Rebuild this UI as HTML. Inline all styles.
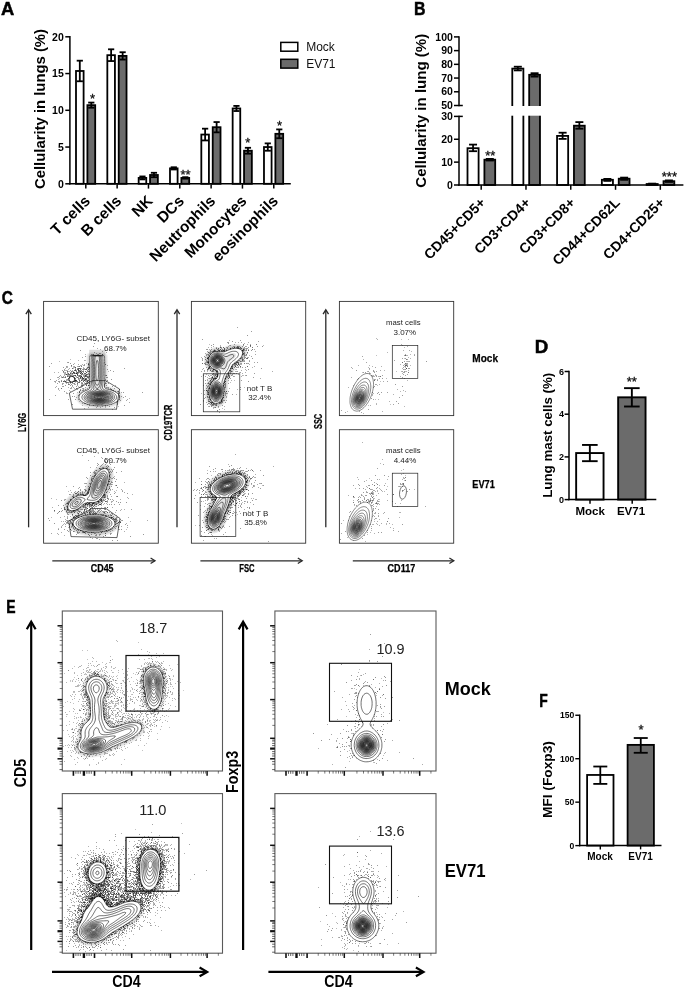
<!DOCTYPE html>
<html><head><meta charset="utf-8"><title>Figure</title>
<style>
html,body{margin:0;padding:0;background:#fff;}
body{width:685px;height:991px;overflow:hidden;}
svg{display:block;font-family:"Liberation Sans",sans-serif;will-change:transform;opacity:0.999;}
</style></head><body>
<svg width="685" height="991" viewBox="0 0 685 991">
<defs><marker id="d0" markerUnits="userSpaceOnUse" markerWidth="7" markerHeight="7" refX="3.5" refY="3.5"><rect width="7" height="7" fill="#000" opacity="0.85"/></marker><marker id="d1" markerUnits="userSpaceOnUse" markerWidth="7" markerHeight="7" refX="3.5" refY="3.5"><rect width="7" height="7" fill="#000" opacity="0.8"/></marker><marker id="d2" markerUnits="userSpaceOnUse" markerWidth="6" markerHeight="6" refX="3.0" refY="3.0"><rect width="6" height="6" fill="#000" opacity="0.8"/></marker></defs>
<text x="0.99" y="14.95" font-size="19.28" font-weight="bold" textLength="13.26" lengthAdjust="spacingAndGlyphs" fill="#000" stroke="#000" stroke-width="0.5">A</text>
<text x="44.80" y="109.00" font-size="15" font-weight="bold" text-anchor="middle" transform="rotate(-90 44.80 109.00)" textLength="160" lengthAdjust="spacingAndGlyphs" fill="#000" >Cellularity in lungs (%)</text>
<line x1="65.30" y1="183.80" x2="69.90" y2="183.80" stroke="#000" stroke-width="1.5" />
<text x="63.80" y="187.50" font-size="10.5" font-weight="bold" text-anchor="end" fill="#000" >0</text>
<line x1="65.30" y1="147.05" x2="69.90" y2="147.05" stroke="#000" stroke-width="1.5" />
<text x="63.80" y="150.75" font-size="10.5" font-weight="bold" text-anchor="end" fill="#000" >5</text>
<line x1="65.30" y1="110.30" x2="69.90" y2="110.30" stroke="#000" stroke-width="1.5" />
<text x="63.80" y="114.00" font-size="10.5" font-weight="bold" text-anchor="end" fill="#000" >10</text>
<line x1="65.30" y1="73.55" x2="69.90" y2="73.55" stroke="#000" stroke-width="1.5" />
<text x="63.80" y="77.25" font-size="10.5" font-weight="bold" text-anchor="end" fill="#000" >15</text>
<line x1="65.30" y1="36.80" x2="69.90" y2="36.80" stroke="#000" stroke-width="1.5" />
<text x="63.80" y="40.50" font-size="10.5" font-weight="bold" text-anchor="end" fill="#000" >20</text>
<rect x="76.00" y="70.98" width="7.60" height="112.82" fill="#fff" stroke="#000" stroke-width="1.8"/>
<line x1="79.80" y1="60.69" x2="79.80" y2="81.27" stroke="#000" stroke-width="1.8" />
<line x1="76.70" y1="60.69" x2="82.90" y2="60.69" stroke="#000" stroke-width="1.8" />
<line x1="76.70" y1="81.27" x2="82.90" y2="81.27" stroke="#000" stroke-width="1.8" />
<rect x="87.40" y="105.16" width="7.80" height="78.64" fill="#6b6b6b" stroke="#000" stroke-width="1.8"/>
<line x1="91.30" y1="102.58" x2="91.30" y2="107.73" stroke="#000" stroke-width="1.8" />
<line x1="88.20" y1="102.58" x2="94.40" y2="102.58" stroke="#000" stroke-width="1.8" />
<line x1="88.20" y1="107.73" x2="94.40" y2="107.73" stroke="#000" stroke-width="1.8" />
<line x1="85.80" y1="183.80" x2="85.80" y2="188.60" stroke="#000" stroke-width="1.5" />
<text x="91.00" y="202.00" font-size="15.4" font-weight="bold" text-anchor="end" transform="rotate(-45 91.00 202.00)" fill="#000" >T cells</text>
<rect x="107.33" y="55.18" width="7.60" height="128.62" fill="#fff" stroke="#000" stroke-width="1.8"/>
<line x1="111.13" y1="49.30" x2="111.13" y2="61.06" stroke="#000" stroke-width="1.8" />
<line x1="108.03" y1="49.30" x2="114.23" y2="49.30" stroke="#000" stroke-width="1.8" />
<line x1="108.03" y1="61.06" x2="114.23" y2="61.06" stroke="#000" stroke-width="1.8" />
<rect x="118.73" y="55.91" width="7.80" height="127.89" fill="#6b6b6b" stroke="#000" stroke-width="1.8"/>
<line x1="122.63" y1="52.24" x2="122.63" y2="59.59" stroke="#000" stroke-width="1.8" />
<line x1="119.53" y1="52.24" x2="125.73" y2="52.24" stroke="#000" stroke-width="1.8" />
<line x1="119.53" y1="59.59" x2="125.73" y2="59.59" stroke="#000" stroke-width="1.8" />
<line x1="117.13" y1="183.80" x2="117.13" y2="188.60" stroke="#000" stroke-width="1.5" />
<text x="122.33" y="202.00" font-size="15.4" font-weight="bold" text-anchor="end" transform="rotate(-45 122.33 202.00)" fill="#000" >B cells</text>
<rect x="138.66" y="177.92" width="7.60" height="5.88" fill="#fff" stroke="#000" stroke-width="1.8"/>
<line x1="142.46" y1="176.45" x2="142.46" y2="179.39" stroke="#000" stroke-width="1.8" />
<line x1="139.36" y1="176.45" x2="145.56" y2="176.45" stroke="#000" stroke-width="1.8" />
<line x1="139.36" y1="179.39" x2="145.56" y2="179.39" stroke="#000" stroke-width="1.8" />
<rect x="150.06" y="174.98" width="7.80" height="8.82" fill="#6b6b6b" stroke="#000" stroke-width="1.8"/>
<line x1="153.96" y1="172.78" x2="153.96" y2="177.19" stroke="#000" stroke-width="1.8" />
<line x1="150.86" y1="172.78" x2="157.06" y2="172.78" stroke="#000" stroke-width="1.8" />
<line x1="150.86" y1="177.19" x2="157.06" y2="177.19" stroke="#000" stroke-width="1.8" />
<line x1="148.46" y1="183.80" x2="148.46" y2="188.60" stroke="#000" stroke-width="1.5" />
<text x="153.66" y="202.00" font-size="15.4" font-weight="bold" text-anchor="end" transform="rotate(-45 153.66 202.00)" fill="#000" >NK</text>
<rect x="169.99" y="168.37" width="7.60" height="15.44" fill="#fff" stroke="#000" stroke-width="1.8"/>
<line x1="173.79" y1="167.26" x2="173.79" y2="169.47" stroke="#000" stroke-width="1.8" />
<line x1="170.69" y1="167.26" x2="176.89" y2="167.26" stroke="#000" stroke-width="1.8" />
<line x1="170.69" y1="169.47" x2="176.89" y2="169.47" stroke="#000" stroke-width="1.8" />
<rect x="181.39" y="177.92" width="7.80" height="5.88" fill="#6b6b6b" stroke="#000" stroke-width="1.8"/>
<line x1="185.29" y1="177.19" x2="185.29" y2="178.66" stroke="#000" stroke-width="1.8" />
<line x1="182.19" y1="177.19" x2="188.39" y2="177.19" stroke="#000" stroke-width="1.8" />
<line x1="182.19" y1="178.66" x2="188.39" y2="178.66" stroke="#000" stroke-width="1.8" />
<line x1="179.79" y1="183.80" x2="179.79" y2="188.60" stroke="#000" stroke-width="1.5" />
<text x="184.99" y="202.00" font-size="15.4" font-weight="bold" text-anchor="end" transform="rotate(-45 184.99 202.00)" fill="#000" >DCs</text>
<rect x="201.32" y="134.56" width="7.60" height="49.25" fill="#fff" stroke="#000" stroke-width="1.8"/>
<line x1="205.12" y1="128.68" x2="205.12" y2="140.44" stroke="#000" stroke-width="1.8" />
<line x1="202.02" y1="128.68" x2="208.22" y2="128.68" stroke="#000" stroke-width="1.8" />
<line x1="202.02" y1="140.44" x2="208.22" y2="140.44" stroke="#000" stroke-width="1.8" />
<rect x="212.72" y="127.21" width="7.80" height="56.59" fill="#6b6b6b" stroke="#000" stroke-width="1.8"/>
<line x1="216.62" y1="122.06" x2="216.62" y2="132.35" stroke="#000" stroke-width="1.8" />
<line x1="213.52" y1="122.06" x2="219.72" y2="122.06" stroke="#000" stroke-width="1.8" />
<line x1="213.52" y1="132.35" x2="219.72" y2="132.35" stroke="#000" stroke-width="1.8" />
<line x1="211.12" y1="183.80" x2="211.12" y2="188.60" stroke="#000" stroke-width="1.5" />
<text x="216.32" y="202.00" font-size="15.4" font-weight="bold" text-anchor="end" transform="rotate(-45 216.32 202.00)" fill="#000" >Neutrophils</text>
<rect x="232.65" y="108.46" width="7.60" height="75.34" fill="#fff" stroke="#000" stroke-width="1.8"/>
<line x1="236.45" y1="105.89" x2="236.45" y2="111.04" stroke="#000" stroke-width="1.8" />
<line x1="233.35" y1="105.89" x2="239.55" y2="105.89" stroke="#000" stroke-width="1.8" />
<line x1="233.35" y1="111.04" x2="239.55" y2="111.04" stroke="#000" stroke-width="1.8" />
<rect x="244.05" y="150.73" width="7.80" height="33.07" fill="#6b6b6b" stroke="#000" stroke-width="1.8"/>
<line x1="247.95" y1="147.79" x2="247.95" y2="153.67" stroke="#000" stroke-width="1.8" />
<line x1="244.85" y1="147.79" x2="251.05" y2="147.79" stroke="#000" stroke-width="1.8" />
<line x1="244.85" y1="153.67" x2="251.05" y2="153.67" stroke="#000" stroke-width="1.8" />
<line x1="242.45" y1="183.80" x2="242.45" y2="188.60" stroke="#000" stroke-width="1.5" />
<text x="247.65" y="202.00" font-size="15.4" font-weight="bold" text-anchor="end" transform="rotate(-45 247.65 202.00)" fill="#000" >Monocytes</text>
<rect x="263.98" y="147.05" width="7.60" height="36.75" fill="#fff" stroke="#000" stroke-width="1.8"/>
<line x1="267.78" y1="143.38" x2="267.78" y2="150.73" stroke="#000" stroke-width="1.8" />
<line x1="264.68" y1="143.38" x2="270.88" y2="143.38" stroke="#000" stroke-width="1.8" />
<line x1="264.68" y1="150.73" x2="270.88" y2="150.73" stroke="#000" stroke-width="1.8" />
<rect x="275.38" y="133.82" width="7.80" height="49.98" fill="#6b6b6b" stroke="#000" stroke-width="1.8"/>
<line x1="279.28" y1="129.41" x2="279.28" y2="138.23" stroke="#000" stroke-width="1.8" />
<line x1="276.18" y1="129.41" x2="282.38" y2="129.41" stroke="#000" stroke-width="1.8" />
<line x1="276.18" y1="138.23" x2="282.38" y2="138.23" stroke="#000" stroke-width="1.8" />
<line x1="273.78" y1="183.80" x2="273.78" y2="188.60" stroke="#000" stroke-width="1.5" />
<text x="278.98" y="202.00" font-size="15.4" font-weight="bold" text-anchor="end" transform="rotate(-45 278.98 202.00)" fill="#000" >eosinophils</text>
<line x1="69.90" y1="36.05" x2="69.90" y2="184.55" stroke="#000" stroke-width="1.5" />
<line x1="69.15" y1="183.80" x2="290.80" y2="183.80" stroke="#000" stroke-width="1.5" />
<text x="92.50" y="103.00" font-size="13" text-anchor="middle" fill="#111" stroke="#111" stroke-width="0.3">*</text>
<text x="185.50" y="178.90" font-size="13" text-anchor="middle" fill="#111" stroke="#111" stroke-width="0.3">**</text>
<text x="247.90" y="147.40" font-size="13" text-anchor="middle" fill="#111" stroke="#111" stroke-width="0.3">*</text>
<text x="279.60" y="129.80" font-size="13" text-anchor="middle" fill="#111" stroke="#111" stroke-width="0.3">*</text>
<rect x="280.80" y="42.40" width="17.00" height="8.80" fill="#fff" stroke="#000" stroke-width="1.5"/>
<rect x="280.80" y="59.30" width="17.00" height="8.80" fill="#6b6b6b" stroke="#000" stroke-width="1.5"/>
<text x="306.20" y="51.30" font-size="12" fill="#111" >Mock</text>
<text x="306.20" y="68.20" font-size="12" fill="#111" >EV71</text>
<text x="414.02" y="15.05" font-size="18.84" font-weight="bold" textLength="11.48" lengthAdjust="spacingAndGlyphs" fill="#000" stroke="#000" stroke-width="0.5">B</text>
<text x="426.20" y="110.70" font-size="15" font-weight="bold" text-anchor="middle" transform="rotate(-90 426.20 110.70)" textLength="154" lengthAdjust="spacingAndGlyphs" fill="#000" >Cellularity in lung (%)</text>
<line x1="454.00" y1="185.00" x2="459.00" y2="185.00" stroke="#000" stroke-width="1.5" />
<text x="452.90" y="188.70" font-size="10.5" font-weight="bold" text-anchor="end" fill="#000" >0</text>
<line x1="454.00" y1="162.13" x2="459.00" y2="162.13" stroke="#000" stroke-width="1.5" />
<text x="452.90" y="165.83" font-size="10.5" font-weight="bold" text-anchor="end" fill="#000" >10</text>
<line x1="454.00" y1="139.26" x2="459.00" y2="139.26" stroke="#000" stroke-width="1.5" />
<text x="452.90" y="142.96" font-size="10.5" font-weight="bold" text-anchor="end" fill="#000" >20</text>
<line x1="454.00" y1="116.39" x2="459.00" y2="116.39" stroke="#000" stroke-width="1.5" />
<text x="452.90" y="120.09" font-size="10.5" font-weight="bold" text-anchor="end" fill="#000" >30</text>
<line x1="454.00" y1="105.50" x2="459.00" y2="105.50" stroke="#000" stroke-width="1.5" />
<text x="452.90" y="109.20" font-size="10.5" font-weight="bold" text-anchor="end" fill="#000" >50</text>
<line x1="454.00" y1="91.78" x2="459.00" y2="91.78" stroke="#000" stroke-width="1.5" />
<text x="452.90" y="95.48" font-size="10.5" font-weight="bold" text-anchor="end" fill="#000" >60</text>
<line x1="454.00" y1="78.06" x2="459.00" y2="78.06" stroke="#000" stroke-width="1.5" />
<text x="452.90" y="81.76" font-size="10.5" font-weight="bold" text-anchor="end" fill="#000" >70</text>
<line x1="454.00" y1="64.34" x2="459.00" y2="64.34" stroke="#000" stroke-width="1.5" />
<text x="452.90" y="68.04" font-size="10.5" font-weight="bold" text-anchor="end" fill="#000" >80</text>
<line x1="454.00" y1="50.62" x2="459.00" y2="50.62" stroke="#000" stroke-width="1.5" />
<text x="452.90" y="54.32" font-size="10.5" font-weight="bold" text-anchor="end" fill="#000" >90</text>
<line x1="454.00" y1="36.90" x2="459.00" y2="36.90" stroke="#000" stroke-width="1.5" />
<text x="452.90" y="40.60" font-size="10.5" font-weight="bold" text-anchor="end" fill="#000" >100</text>
<line x1="459.00" y1="105.50" x2="462.80" y2="105.50" stroke="#000" stroke-width="1.5" />
<line x1="459.00" y1="116.39" x2="462.80" y2="116.39" stroke="#000" stroke-width="1.5" />
<rect x="467.50" y="148.20" width="11.10" height="36.80" fill="#fff" stroke="#000" stroke-width="1.8"/>
<line x1="473.05" y1="144.60" x2="473.05" y2="151.20" stroke="#000" stroke-width="1.8" />
<line x1="469.05" y1="144.60" x2="477.05" y2="144.60" stroke="#000" stroke-width="1.8" />
<line x1="469.05" y1="151.20" x2="477.05" y2="151.20" stroke="#000" stroke-width="1.8" />
<rect x="484.40" y="159.70" width="10.80" height="25.30" fill="#6b6b6b" stroke="#000" stroke-width="1.8"/>
<line x1="489.80" y1="158.90" x2="489.80" y2="160.50" stroke="#000" stroke-width="1.8" />
<line x1="485.80" y1="158.90" x2="493.80" y2="158.90" stroke="#000" stroke-width="1.8" />
<line x1="485.80" y1="160.50" x2="493.80" y2="160.50" stroke="#000" stroke-width="1.8" />
<line x1="481.20" y1="185.00" x2="481.20" y2="189.80" stroke="#000" stroke-width="1.5" />
<text x="486.40" y="203.50" font-size="14" font-weight="bold" text-anchor="end" transform="rotate(-45 486.40 203.50)" fill="#000" >CD45+CD5+</text>
<rect x="512.28" y="68.60" width="11.10" height="116.40" fill="#fff" stroke="#000" stroke-width="1.8"/>
<line x1="517.83" y1="66.70" x2="517.83" y2="70.40" stroke="#000" stroke-width="1.8" />
<line x1="513.83" y1="66.70" x2="521.83" y2="66.70" stroke="#000" stroke-width="1.8" />
<line x1="513.83" y1="70.40" x2="521.83" y2="70.40" stroke="#000" stroke-width="1.8" />
<rect x="529.18" y="74.80" width="10.80" height="110.20" fill="#6b6b6b" stroke="#000" stroke-width="1.8"/>
<line x1="534.58" y1="73.20" x2="534.58" y2="76.60" stroke="#000" stroke-width="1.8" />
<line x1="530.58" y1="73.20" x2="538.58" y2="73.20" stroke="#000" stroke-width="1.8" />
<line x1="530.58" y1="76.60" x2="538.58" y2="76.60" stroke="#000" stroke-width="1.8" />
<line x1="525.98" y1="185.00" x2="525.98" y2="189.80" stroke="#000" stroke-width="1.5" />
<text x="531.18" y="203.50" font-size="14" font-weight="bold" text-anchor="end" transform="rotate(-45 531.18 203.50)" fill="#000" >CD3+CD4+</text>
<rect x="557.06" y="135.90" width="11.10" height="49.10" fill="#fff" stroke="#000" stroke-width="1.8"/>
<line x1="562.61" y1="132.70" x2="562.61" y2="138.90" stroke="#000" stroke-width="1.8" />
<line x1="558.61" y1="132.70" x2="566.61" y2="132.70" stroke="#000" stroke-width="1.8" />
<line x1="558.61" y1="138.90" x2="566.61" y2="138.90" stroke="#000" stroke-width="1.8" />
<rect x="573.96" y="125.70" width="10.80" height="59.30" fill="#6b6b6b" stroke="#000" stroke-width="1.8"/>
<line x1="579.36" y1="122.10" x2="579.36" y2="128.70" stroke="#000" stroke-width="1.8" />
<line x1="575.36" y1="122.10" x2="583.36" y2="122.10" stroke="#000" stroke-width="1.8" />
<line x1="575.36" y1="128.70" x2="583.36" y2="128.70" stroke="#000" stroke-width="1.8" />
<line x1="570.76" y1="185.00" x2="570.76" y2="189.80" stroke="#000" stroke-width="1.5" />
<text x="575.96" y="203.50" font-size="14" font-weight="bold" text-anchor="end" transform="rotate(-45 575.96 203.50)" fill="#000" >CD3+CD8+</text>
<rect x="601.84" y="179.80" width="11.10" height="5.20" fill="#fff" stroke="#000" stroke-width="1.8"/>
<line x1="607.39" y1="178.90" x2="607.39" y2="180.90" stroke="#000" stroke-width="1.8" />
<line x1="603.39" y1="178.90" x2="611.39" y2="178.90" stroke="#000" stroke-width="1.8" />
<line x1="603.39" y1="180.90" x2="611.39" y2="180.90" stroke="#000" stroke-width="1.8" />
<rect x="618.74" y="178.70" width="10.80" height="6.30" fill="#6b6b6b" stroke="#000" stroke-width="1.8"/>
<line x1="624.14" y1="177.60" x2="624.14" y2="179.80" stroke="#000" stroke-width="1.8" />
<line x1="620.14" y1="177.60" x2="628.14" y2="177.60" stroke="#000" stroke-width="1.8" />
<line x1="620.14" y1="179.80" x2="628.14" y2="179.80" stroke="#000" stroke-width="1.8" />
<line x1="615.54" y1="185.00" x2="615.54" y2="189.80" stroke="#000" stroke-width="1.5" />
<text x="620.74" y="203.50" font-size="14" font-weight="bold" text-anchor="end" transform="rotate(-45 620.74 203.50)" fill="#000" >CD44+CD62L</text>
<rect x="646.62" y="184.00" width="11.10" height="1.00" fill="#fff" stroke="#000" stroke-width="1.8"/>
<line x1="652.17" y1="183.60" x2="652.17" y2="184.30" stroke="#000" stroke-width="1.8" />
<line x1="648.17" y1="183.60" x2="656.17" y2="183.60" stroke="#000" stroke-width="1.8" />
<line x1="648.17" y1="184.30" x2="656.17" y2="184.30" stroke="#000" stroke-width="1.8" />
<rect x="663.52" y="181.20" width="10.80" height="3.80" fill="#6b6b6b" stroke="#000" stroke-width="1.8"/>
<line x1="668.92" y1="180.40" x2="668.92" y2="181.90" stroke="#000" stroke-width="1.8" />
<line x1="664.92" y1="180.40" x2="672.92" y2="180.40" stroke="#000" stroke-width="1.8" />
<line x1="664.92" y1="181.90" x2="672.92" y2="181.90" stroke="#000" stroke-width="1.8" />
<line x1="660.32" y1="185.00" x2="660.32" y2="189.80" stroke="#000" stroke-width="1.5" />
<text x="665.52" y="203.50" font-size="14" font-weight="bold" text-anchor="end" transform="rotate(-45 665.52 203.50)" fill="#000" >CD4+CD25+</text>
<rect x="463.5" y="106.0" width="120" height="9.7" fill="#fff"/>
<line x1="459.00" y1="36.15" x2="459.00" y2="106.25" stroke="#000" stroke-width="1.5" />
<line x1="459.00" y1="115.64" x2="459.00" y2="185.75" stroke="#000" stroke-width="1.5" />
<line x1="458.25" y1="185.00" x2="683.40" y2="185.00" stroke="#000" stroke-width="1.5" />
<text x="490.20" y="160.30" font-size="13" text-anchor="middle" fill="#111" stroke="#111" stroke-width="0.3">**</text>
<text x="669.40" y="180.90" font-size="13" text-anchor="middle" fill="#111" stroke="#111" stroke-width="0.3">***</text>
<text x="534.83" y="353.05" font-size="18.12" font-weight="bold" textLength="13.5" lengthAdjust="spacingAndGlyphs" fill="#000" stroke="#000" stroke-width="0.5">D</text>
<text x="552.00" y="435.30" font-size="13.3" font-weight="bold" text-anchor="middle" transform="rotate(-90 552.00 435.30)" textLength="125" lengthAdjust="spacingAndGlyphs" fill="#000" >Lung mast cells (%)</text>
<line x1="564.60" y1="499.60" x2="569.00" y2="499.60" stroke="#000" stroke-width="1.5" />
<text x="564.10" y="502.80" font-size="9" font-weight="bold" text-anchor="end" fill="#000" >0</text>
<line x1="564.60" y1="456.90" x2="569.00" y2="456.90" stroke="#000" stroke-width="1.5" />
<text x="564.10" y="460.10" font-size="9" font-weight="bold" text-anchor="end" fill="#000" >2</text>
<line x1="564.60" y1="414.20" x2="569.00" y2="414.20" stroke="#000" stroke-width="1.5" />
<text x="564.10" y="417.40" font-size="9" font-weight="bold" text-anchor="end" fill="#000" >4</text>
<line x1="564.60" y1="371.50" x2="569.00" y2="371.50" stroke="#000" stroke-width="1.5" />
<text x="564.10" y="374.70" font-size="9" font-weight="bold" text-anchor="end" fill="#000" >6</text>
<rect x="576.15" y="453.06" width="27.40" height="46.54" fill="#fff" stroke="#000" stroke-width="1.9"/>
<line x1="589.85" y1="444.94" x2="589.85" y2="461.17" stroke="#000" stroke-width="1.9" />
<line x1="582.05" y1="444.94" x2="597.65" y2="444.94" stroke="#000" stroke-width="1.9" />
<line x1="582.05" y1="461.17" x2="597.65" y2="461.17" stroke="#000" stroke-width="1.9" />
<rect x="618.15" y="397.33" width="27.40" height="102.27" fill="#6b6b6b" stroke="#000" stroke-width="1.9"/>
<line x1="631.85" y1="388.15" x2="631.85" y2="406.51" stroke="#000" stroke-width="1.9" />
<line x1="624.05" y1="388.15" x2="639.65" y2="388.15" stroke="#000" stroke-width="1.9" />
<line x1="624.05" y1="406.51" x2="639.65" y2="406.51" stroke="#000" stroke-width="1.9" />
<line x1="590.00" y1="499.60" x2="590.00" y2="503.80" stroke="#000" stroke-width="1.5" />
<line x1="632.20" y1="499.60" x2="632.20" y2="503.80" stroke="#000" stroke-width="1.5" />
<line x1="569.00" y1="370.75" x2="569.00" y2="500.35" stroke="#000" stroke-width="1.5" />
<line x1="568.25" y1="499.60" x2="656.30" y2="499.60" stroke="#000" stroke-width="1.5" />
<text x="590.20" y="514.80" font-size="11.5" font-weight="bold" text-anchor="middle" fill="#000" >Mock</text>
<text x="631.00" y="514.80" font-size="11.5" font-weight="bold" text-anchor="middle" fill="#000" >EV71</text>
<text x="631.80" y="386.00" font-size="13" text-anchor="middle" fill="#111" stroke="#111" stroke-width="0.3">**</text>
<text x="539.25" y="706.74" font-size="17.96" font-weight="bold" textLength="8.5" lengthAdjust="spacingAndGlyphs" fill="#000" stroke="#000" stroke-width="0.5">F</text>
<text x="552.20" y="779.60" font-size="13" font-weight="bold" text-anchor="middle" transform="rotate(-90 552.20 779.60)" textLength="77" lengthAdjust="spacingAndGlyphs" fill="#000" >MFI (Foxp3)</text>
<line x1="575.30" y1="845.60" x2="579.70" y2="845.60" stroke="#000" stroke-width="1.4" />
<text x="574.40" y="848.70" font-size="8.6" font-weight="bold" text-anchor="end" fill="#000" >0</text>
<line x1="575.30" y1="802.15" x2="579.70" y2="802.15" stroke="#000" stroke-width="1.4" />
<text x="574.40" y="805.25" font-size="8.6" font-weight="bold" text-anchor="end" fill="#000" >50</text>
<line x1="575.30" y1="758.70" x2="579.70" y2="758.70" stroke="#000" stroke-width="1.4" />
<text x="574.40" y="761.80" font-size="8.6" font-weight="bold" text-anchor="end" fill="#000" >100</text>
<line x1="575.30" y1="715.25" x2="579.70" y2="715.25" stroke="#000" stroke-width="1.4" />
<text x="574.40" y="718.35" font-size="8.6" font-weight="bold" text-anchor="end" fill="#000" >150</text>
<rect x="587.10" y="774.95" width="26.40" height="70.65" fill="#fff" stroke="#000" stroke-width="1.8"/>
<line x1="600.30" y1="766.52" x2="600.30" y2="783.90" stroke="#000" stroke-width="1.8" />
<line x1="593.30" y1="766.52" x2="607.30" y2="766.52" stroke="#000" stroke-width="1.8" />
<line x1="593.30" y1="783.90" x2="607.30" y2="783.90" stroke="#000" stroke-width="1.8" />
<rect x="627.60" y="744.88" width="26.30" height="100.72" fill="#6b6b6b" stroke="#000" stroke-width="1.8"/>
<line x1="640.75" y1="738.02" x2="640.75" y2="752.79" stroke="#000" stroke-width="1.8" />
<line x1="633.75" y1="738.02" x2="647.75" y2="738.02" stroke="#000" stroke-width="1.8" />
<line x1="633.75" y1="752.79" x2="647.75" y2="752.79" stroke="#000" stroke-width="1.8" />
<line x1="600.30" y1="845.60" x2="600.30" y2="849.40" stroke="#000" stroke-width="1.4" />
<line x1="640.60" y1="845.60" x2="640.60" y2="849.40" stroke="#000" stroke-width="1.4" />
<line x1="579.70" y1="714.55" x2="579.70" y2="846.30" stroke="#000" stroke-width="1.5" />
<line x1="578.95" y1="845.60" x2="661.50" y2="845.60" stroke="#000" stroke-width="1.5" />
<text x="600.00" y="859.70" font-size="10" font-weight="bold" text-anchor="middle" fill="#000" >Mock</text>
<text x="640.60" y="859.70" font-size="10" font-weight="bold" text-anchor="middle" fill="#000" >EV71</text>
<text x="641.00" y="734.00" font-size="13" text-anchor="middle" fill="#111" stroke="#111" stroke-width="0.3">*</text>
<text x="1.83" y="303.97" font-size="18.31" font-weight="bold" textLength="11.14" lengthAdjust="spacingAndGlyphs" fill="#000" stroke="#000" stroke-width="0.5">C</text>
<line x1="28.60" y1="310.30" x2="28.60" y2="527.30" stroke="#2a2a2a" stroke-width="1.3" />
<path d="M25.87 314.20 L28.60 309.80 L31.33 314.20" fill="none" stroke="#2a2a2a" stroke-width="1.3"/>
<line x1="177.00" y1="310.30" x2="177.00" y2="527.30" stroke="#2a2a2a" stroke-width="1.3" />
<path d="M174.27 314.20 L177.00 309.80 L179.73 314.20" fill="none" stroke="#2a2a2a" stroke-width="1.3"/>
<line x1="325.80" y1="310.30" x2="325.80" y2="527.30" stroke="#2a2a2a" stroke-width="1.3" />
<path d="M323.07 314.20 L325.80 309.80 L328.53 314.20" fill="none" stroke="#2a2a2a" stroke-width="1.3"/>
<text x="25.80" y="422.30" font-size="10" font-weight="bold" text-anchor="middle" transform="rotate(-90 25.80 422.30)" textLength="19.2" lengthAdjust="spacingAndGlyphs" fill="#000" stroke="#000" stroke-width="0.25">LY6G</text>
<text x="172.30" y="422.50" font-size="10" font-weight="bold" text-anchor="middle" transform="rotate(-90 172.30 422.50)" textLength="35.8" lengthAdjust="spacingAndGlyphs" fill="#000" stroke="#000" stroke-width="0.25">CD19TCR</text>
<text x="321.80" y="421.40" font-size="10" font-weight="bold" text-anchor="middle" transform="rotate(-90 321.80 421.40)" textLength="15.2" lengthAdjust="spacingAndGlyphs" fill="#000" stroke="#000" stroke-width="0.25">SSC</text>
<line x1="52.30" y1="560.80" x2="154.50" y2="560.80" stroke="#2a2a2a" stroke-width="1.3" />
<path d="M150.60 558.07 L155.00 560.80 L150.60 563.53" fill="none" stroke="#2a2a2a" stroke-width="1.3"/>
<line x1="200.40" y1="560.80" x2="301.70" y2="560.80" stroke="#2a2a2a" stroke-width="1.3" />
<path d="M297.80 558.07 L302.20 560.80 L297.80 563.53" fill="none" stroke="#2a2a2a" stroke-width="1.3"/>
<line x1="352.80" y1="560.80" x2="453.30" y2="560.80" stroke="#2a2a2a" stroke-width="1.3" />
<path d="M449.40 558.07 L453.80 560.80 L449.40 563.53" fill="none" stroke="#2a2a2a" stroke-width="1.3"/>
<text x="102.20" y="571.70" font-size="10" font-weight="bold" text-anchor="middle" textLength="22.7" lengthAdjust="spacingAndGlyphs" fill="#000" stroke="#000" stroke-width="0.25">CD45</text>
<text x="246.90" y="571.70" font-size="10" font-weight="bold" text-anchor="middle" textLength="15.3" lengthAdjust="spacingAndGlyphs" fill="#000" stroke="#000" stroke-width="0.25">FSC</text>
<text x="401.40" y="571.70" font-size="10" font-weight="bold" text-anchor="middle" textLength="27.6" lengthAdjust="spacingAndGlyphs" fill="#000" stroke="#000" stroke-width="0.25">CD117</text>
<text x="472.30" y="362.40" font-size="10" font-weight="bold" textLength="25.7" lengthAdjust="spacingAndGlyphs" fill="#000" stroke="#000" stroke-width="0.25">Mock</text>
<text x="472.30" y="488.00" font-size="10" font-weight="bold" textLength="22.5" lengthAdjust="spacingAndGlyphs" fill="#000" stroke="#000" stroke-width="0.25">EV71</text>
<rect x="89.2" y="349.8" width="16.2" height="5.8" fill="#dcdcdc"/>
<path transform="scale(.1)" d="M899 3559l17-3 15-1 15 0 15 0 15 0 15 0 15 0 15 1 15 1 9 7 1 15 0 15 1 15 0 15 0 15 0 15 1 15 0 15 0 15 0 15 0 15 0 15 0 15-1 15 0 15 0 15-1 15-1 15-1 15 0 15 5 15 12 8 15 5 15 4 15 4 12 4 13 5 12 5 13 7 10 6 9 7 10 10 6 10 4 15-1 15-8 14-10 11-10 8-10 6-10 5-13 6-12 5-15 4-15 4-15 3-15 3-15 2-15 2-15 1-15 0-15 0-15 0-15-1-15-2-15-2-15-2-15-3-14-4-16-5-14-5-11-5-10-5-10-6-10-8-10-10-8-11-4-15 2-14 5-11 8-10 12-10 10-7 10-6 15-7 13-5 12-5 10-5 10-9 5-11 0-15-1-15-1-15-1-15-1-15 0-15 0-15-1-15 0-15 0-15 0-15 0-15 0-15 1-15 0-15 0-15 0-15 0-15 1-15 0-15 1-15z" fill="none" stroke="#000" stroke-width="70" stroke-linejoin="round" opacity="0.055"/>
<path transform="scale(.1)" d="M899 3559l17-3 15-1 15 0 15 0 15 0 15 0 15 0 15 1 15 1 9 7 1 15 0 15 1 15 0 15 0 15 0 15 1 15 0 15 0 15 0 15 0 15 0 15 0 15-1 15 0 15 0 15-1 15-1 15-1 15 0 15 5 15 12 8 15 5 15 4 15 4 12 4 13 5 12 5 13 7 10 6 9 7 10 10 6 10 4 15-1 15-8 14-10 11-10 8-10 6-10 5-13 6-12 5-15 4-15 4-15 3-15 3-15 2-15 2-15 1-15 0-15 0-15 0-15-1-15-2-15-2-15-2-15-3-14-4-16-5-14-5-11-5-10-5-10-6-10-8-10-10-8-11-4-15 2-14 5-11 8-10 12-10 10-7 10-6 15-7 13-5 12-5 10-5 10-9 5-11 0-15-1-15-1-15-1-15-1-15 0-15 0-15-1-15 0-15 0-15 0-15 0-15 0-15 1-15 0-15 0-15 0-15 0-15 1-15 0-15 1-15z" fill="none" stroke="#000" stroke-width="50" stroke-linejoin="round" opacity="0.055"/>
<path transform="scale(.1)" d="M899 3559l17-3 15-1 15 0 15 0 15 0 15 0 15 0 15 1 15 1 9 7 1 15 0 15 1 15 0 15 0 15 0 15 1 15 0 15 0 15 0 15 0 15 0 15 0 15-1 15 0 15 0 15-1 15-1 15-1 15 0 15 5 15 12 8 15 5 15 4 15 4 12 4 13 5 12 5 13 7 10 6 9 7 10 10 6 10 4 15-1 15-8 14-10 11-10 8-10 6-10 5-13 6-12 5-15 4-15 4-15 3-15 3-15 2-15 2-15 1-15 0-15 0-15 0-15-1-15-2-15-2-15-2-15-3-14-4-16-5-14-5-11-5-10-5-10-6-10-8-10-10-8-11-4-15 2-14 5-11 8-10 12-10 10-7 10-6 15-7 13-5 12-5 10-5 10-9 5-11 0-15-1-15-1-15-1-15-1-15 0-15 0-15-1-15 0-15 0-15 0-15 0-15 0-15 1-15 0-15 0-15 0-15 0-15 1-15 0-15 1-15z" fill="none" stroke="#000" stroke-width="32" stroke-linejoin="round" opacity="0.055"/>
<path transform="scale(.1)" d="M899 3559l17-3 15-1 15 0 15 0 15 0 15 0 15 0 15 1 15 1 9 7 1 15 0 15 1 15 0 15 0 15 0 15 1 15 0 15 0 15 0 15 0 15 0 15 0 15-1 15 0 15 0 15-1 15-1 15-1 15 0 15 5 15 12 8 15 5 15 4 15 4 12 4 13 5 12 5 13 7 10 6 9 7 10 10 6 10 4 15-1 15-8 14-10 11-10 8-10 6-10 5-13 6-12 5-15 4-15 4-15 3-15 3-15 2-15 2-15 1-15 0-15 0-15 0-15-1-15-2-15-2-15-2-15-3-14-4-16-5-14-5-11-5-10-5-10-6-10-8-10-10-8-11-4-15 2-14 5-11 8-10 12-10 10-7 10-6 15-7 13-5 12-5 10-5 10-9 5-11 0-15-1-15-1-15-1-15-1-15 0-15 0-15-1-15 0-15 0-15 0-15 0-15 0-15 1-15 0-15 0-15 0-15 0-15 1-15 0-15 1-15z" fill="none" stroke="#000" stroke-width="15" stroke-linejoin="round" opacity="0.055"/>
<path transform="scale(.1)" d="M899 3559l17-3 15-1 15 0 15 0 15 0 15 0 15 0 15 1 15 1 9 7 1 15 0 15 1 15 0 15 0 15 0 15 1 15 0 15 0 15 0 15 0 15 0 15 0 15-1 15 0 15 0 15-1 15-1 15-1 15 0 15 5 15 12 8 15 5 15 4 15 4 12 4 13 5 12 5 13 7 10 6 9 7 10 10 6 10 4 15-1 15-8 14-10 11-10 8-10 6-10 5-13 6-12 5-15 4-15 4-15 3-15 3-15 2-15 2-15 1-15 0-15 0-15 0-15-1-15-2-15-2-15-2-15-3-14-4-16-5-14-5-11-5-10-5-10-6-10-8-10-10-8-11-4-15 2-14 5-11 8-10 12-10 10-7 10-6 15-7 13-5 12-5 10-5 10-9 5-11 0-15-1-15-1-15-1-15-1-15 0-15 0-15-1-15 0-15 0-15 0-15 0-15 0-15 1-15 0-15 0-15 0-15 0-15 1-15 0-15 1-15z" fill="#fff" stroke="none"/>
<path transform="scale(.1)" d="M493 3666l3 326 24-155-14-43 11-160 15 56 15 32-18 14 3 23 8 11 3 43 6 11 4 133 5-81 10-11-9-8-1-30 14-7-18-7 11-6 5-4-9-17 13-8-3-23 1-6-11-23 6-7 2-15-13-4 13-3 29-85-17 108 6 8 4 17 8 2-20 5 18 12-13 7 1 2 4 4 4 11-16 3 6 7 8 2-4 15 8 1 2 11-17 3-3 6 22 5-5 18-9 24-1 15 8 4 7 5 21-16-20-1 12-3 1-3 5-4-8-17 13 0-14-22 15-4-1-8-10-12 5-5-10-1 8-7-4-5-11-5 20 0-12-15 14-2-11-2-2-2 3-5-11-8 13-1-12-6 3-2 14-2-12-19-8-8 2-2 22-13-22-6 3-40 15-19-6-23-13-60 34 118 4 2 7 18-2 6 5 1-17 10 1 3 14 3-18 4 7 0 3 4 9 0-18 3 18 4-3 7-4 2 7 12-21 4 10 5-6 3 8 4 4 0-9 4-7 1 17 27-7 5 9 3 1 1-12 1-5 2 5 1 2 2 5 0 2 1-14 2 10 4-4 3-7 2 3 3 9 1-1 3-13 7 14 2-6 16 3 7 8 47 7 64 15-44 4-3-22-4 12-8 1-31 1-1 2-10-7-19 13 0-15-1-2-6 16-3 1-2-8-8 4-1 0-4 2-1-10-2-6-2 6-3-3-1 6-1 4-3-9-5 0-1-5-5 4 0 11 0-18-1 9-3 4-4 10-5-5-6 1 0-8-16-5-1 2-1-5-5 20-4-17-3 7-4 4 0 7-3-19-8 12 0-1-3 0-2-11-11 1-5 16-11 2 0-22-8 14-6 6 0-1-6-1-4-18-9 13-5-5-4-1-5 7 0-1-2-14-18 26-26 8 2-8 14 3 7 2 3-3 5-1 10 18 6-18 3 1 1 13 10-10 12-2 3-1 1 10 2-7 10 17 4-6 2 6 2-8 6-15 1 14 0-15 2 1 0 11 5-9 1 8 3 0 5-11 2 16 1 7 0-17 1 1 0 14 0-7 2 10 1-19 2 0 1 9 0-7 2 7 0 4 2 4 2-17 2 5 2 9 1 4 0-21 1 3 1 11 1-10 1 8 14 9 0-15 2-3 1 4 0 15 3-9 1-11 2 4 0 8 1-15 3 4 2 2 1 6 2-10 2 6 1 8 2-11 4 9 0 4 3-4 3-10 6 13 0 3 1-19 1 5 1 17 0-18 2-2 1-2 1 11 0 0 9-11 2 18 0-7 3-3 1 9 3-7 32-4 12 12 12-9 91-7 29 44 23-3-52-2-24-15-51 17-7-7-2-13-3 9-7-6-15 6-1 4 0-4-10 4 0 11-5-20-13 20-1-10-4 2-5-12-7 4-7-4-3 13-1-8-1-6-1 0-1 20 0-7-3-7-4 12 0-9-4 3 0 2 0 5-1-15-3 17-2-14-3-1-1 6-1 1 0 3 0 3-1-16-1 12-1 1-4-17-1 15-1-4-2-10-1-2-1 21-1-8-1 6 0-3-1-12-1 11 0-14-2 5-1 2-2 7 0-10-2 1-1 17-1-8-1-8-2 15 0-12-1 11-1-6-1-3-9-9-1 0-1 12 0-6-1-7-1 3 0 13-2-4-2-6-2 0-2-6-1 7-5 2-1-5-1-2-3-3-2-2-3 13 0-11-1-2-2 16-1 3 0 2-5-18-1 14-1-12-2 4-1 3-2 0-1-8-13 16-3-16-1 17-2-10-1 10-3 1-8-7-6 1-12 2-9-4-2-8-20 3-10-1-28 34 39-8 6 9 20-10 5 5 4 6 0-14 5 19 0-11 5 11 1-18 2-4 1 4 10-1 7 14 0-1 4-17 1 23 3-22 3 6 4 7 4-2 1-3 1 11 0-6 1-8 1 9 0 1 0-6 1-10 2 0 2 14 0-9 2 11 0 7 0-16 1 7 0-13 1 0 1 16 0 4 2-15 2-7 7 21 3-12 1 10 0 3 0-16 1 12 0-11 1 15 2 2 1-23 2 6 0-5 1 18 0-12 2 3 0-5 5 7 0-9 3 3 0-6 3 3 0 10 1 9 1-12 1 2 1-9 1 16 0-13 1 12 1 0 3-7 1-4 3-6 1 14 0-9 1 16 0-2 1 1 0 2 0-23 1 1 0 4 2-6 2 1 0 2 1 13 0-5 2 3 0 9 0-20 1-2 1 1 2 17 0-8 1-5 1 8 0-2 2-9 2 7 0 10 1-9 4-7 1 13 0-2 1 3 2 1 0-17 11-1 5 22 0-10 3 10 2-7 2-9 1 15 3-3 6-5 1-12 11 9 8 2 5 11 5-2 3-19 8 10 9-10 10 7 25-6 23-4 7 22 0-18 29 0 132 30-69-4-62 16-16-5-6-7-16 4-16-6-11 15-7-3-4-9-26 7-5-5-1-11-6 2 0-2-5 9-12 5 0-2-14-9-1-1-9 21-1 0-5-15-2 13-1-21-2 1-6-2-2 24 0-7-2 4 0-7-1-7-3-5-1 9 0-1-2-1-1 7 0 8 0-16-4 5 0-11-1 1-2 3 0 10 0 2 0-13-1-2-3 19 0-13-2 0-1-6-1 5-4-3-1 1-1-3-1 6 0-6-4 20-8-4-2-7-1 11-1-21-1 6 0-4-2 20 0-24-2 10-2-2-3 6 0-11-5 8 0-3-3-2-1 18-1-2-1-2-2 4-3-24-1 0-2 22-1-10-5-8-2 10 0 3 0 0-1 3-2-11-1-1-1 0-1 15-1-9-3 6-4-7-1-11-1 17-1-1-3 0-1-1-3-11-1-2-4 10-1-11-1-1-2-2-1 13 0-9-5-4-2 3-2 15-3-16-2 9-1-10-6 19-1-18-1 5-1-4-4 13-14 3-8 4-12-4-10 18-27 0 17 5 0-1 23-9 2-4 19 20 1 0 2-13 1-5 13-4 5 3 0 11 0 5 0-13 2 8 0 5 0-12 1 1 0-5 3 14 0-16 1-2 1 10 2 1 0 2 7 3 2 7 1-11 1-5 1 6 0 7 1-1 7-10 3 2 0 6 0-11 1 6 0-5 3-4 1 0 1 5 1 12 1-5 1 2 3-17 2 4 0 2 2-6 1 6 0 7 2-4 3-7 4 2 0 2 2 0 1 13 2-3 1-5 1 5 2 2 1-17 1 7 1 9 0-2 2 2 1 7 1-15 1-5 2 19 2-11 2 2 0 6 1-4 4 8 1-12 4 3 1-9 3 16 1-9 1 0 5 11 1-11 1-5 1-2 1-2 2 4 0 7 0 9 0-2 3-12 2-5 4 14 0-4 2 7 0 2 3-23 2 6 0-7 2 14 0 3 0-17 6 18 0-11 4 3 1 11 0-7 1 3 1-17 3 24 0-19 9 13 2 4 2-21 3 14 2-15 6 14 15-1 1 6 4-17 21 7 6 15 5-19 1 15 8 1 5 2 4-5 5-1 1 4 16-4 5-7 7-2 13-3 21 3 7 9 15-2 12-1 15 33 13 1-20-22-22 20-87 0-1-1-3 0-9 3-6-17-1-4-1 9-4-6-4 1-14-5-2 7-4 4-2 0-1-3-2 11-14 2 0-5-1-5-1 10 0-22-1 10-3 2-1 12 0-23-3 21-8-6-1 3-7 3-1-13-3 11-1-4-1-1-2-13-2-1-4-1-3 7 0-3-2 18-1-13-1 7 0 4 0-4-1-6-2 0-2 4-1-12-2 8-1 9-2-7-2 8-4-16-4 16 0 2-2-16-3 9 0 7 0-14-2 4-1-8-2 1-1-3-2 10-1 3-2 2 0-4-1 1-2-6-1 6-1 2 0-15-1 18 0-18-1 8 0 2 0 6 0-10-1-7-3 2 0 3-1 5-2-6-1 8-3-10-1 11-2 9 0-10-1-3-2-8-1 10 0-2-1 9 0-3-2-2-2-7-3-1-3 1 0 16 0-9-2 1-2-5-1 2-1-7-2 8-1 2-1 4-2 3-1-8-2-11-1 4-4 2-2 9 0-10-1 1 0 11 0-4-1 9-1-21-2 12-3-9-5 6 0-12-2 2-2 17 0-12-2-4-6 1-4 10-2-3-2 3-9-4-2 4-1-2-1-7-6-3-4 16-3-4-5-13-2 2-7 2-19 19-10-1-38-17-68 14-7 27 105-12 38-9 1 17 3-7 6 8 5-9 2-5 13 7 7 3 2-6 3 8 3-10 6 17 0-1 4-22 1 12 0-9 1 9 10 1 2-12 1 13 0-11 1 4 0 5 1-10 4 2 0-4 1 15 3 6 0-10 3 4 5 5 3-21 2 3 0 18 0 3 0-21 5-3 4 7 2 15 2-7 3 7 3-10 1 3 0 0 2-8 3 10 5-13 1 9 1 2 1 8 0-14 2 0 1 3 0 0 1-10 3 14 0 4 0-20 1 2 1 3 0 5 5 2 1 1 0 9 0-20 3 6 0 4 2-2 4 12 0-8 3-13 1 19 0-6 1-4 1-8 1-2 1 3 1 20 0-21 2 3 0 10 1 8 0-12 2-7 2 13 1 4 0 1 0-22 1 0 2 8 4 1 0 5 3-11 1 10 0-4 1-5 3 10 1 3 3-1 1-4 1-2 2-8 1 13 2 2 2-4 8-1 7-8 7 3 2-4 5 21 12-11 2-10 6 9 0 4 8-3 4-4 6 4 6-13 121 19 3-2 51 10 26 18-44-12-17-5-12-2-131 9-10-4-2-6-4 21-6 2-3-21-7 22-5-3-5 1-3 2-1-15-1 4-3 2 0 4 0 2-4-11-2 2-1 4-4-9-4 4-2-8-1 7 0 6-2-12-1 5-4-4-2 10 0 0-1 7-11-15-1 9-3-12-2 2-1 6 0-2-1 4-2-10-3 18 0-14-3 10-1-14-3 0-2 3 0 6 0 4-1-14-2-2-3 23 0-20-4-2-1 7-1 4 0 2-1-6-4 5-7-14-4 15 0 7 0-20-1 16 0-15-1-3-1 8-1 11-1-15-2 13-1-17-3 5-1 0-1 6-1 3 0-8-1 6 0-8-1 12 0 1-4-3-3 7 0-21-2 7 0-7-2 3-3 1-2 16-1-12-3-8-2 9-1 6-2 1-1 2-5-18-2 8-2 16 0-5-1 2 0-18-2 6-16 1 0-6-2 9 0 4 0-13-3 15 0 4-6-7-3-6-2 9-6 4-3 1-12-3-8 2-13-5-1 5-27-16-3-6-8 20-8-17-28 3-22 28-23 5 29-9 27-1 43 2 15 6 5-7 2 6 0 0 2-2 3-2 2 3 5-4 15-5 4-2 1 11 0 10 0-15 1 5 0 8 9-17 9 6 4 2 3-1 3-9 2 8 12 10 0-14 1 11 0-8 1-1 2 8 9 6 2-9 6-10 6 5 0-3 2 17 2-13 2 5 1 0 2 5 4-10 4 0 2 11 1 2 0-10 1 5 1-13 1 19 6-15 1 6 1 1 1-13 2 3 2 5 1 0 9 10 2-1 3-13 5 12 0-12 4-4 1 10 0 0 3 7 6-17 2 1 1 4 0 0 3 13 0 2 2-7 4-11 1 12 1 4 3-11 2 12 2-19 3 23 0-4 3-13 3 11 10 7 1-18 1 1 0 5 2-2 1-1 4-1 10 10 7 5 0-2 1 3 1-24 2 0 161 22 5-20 3 19 2-10 19 1 9 36-20-16-11-6-192 16-315 7-1-23-1 40-139 5 35-10 29 11 61-16 13 6 3-4 5 4 507 4 17-14 8 17 31 17 5 1-42 7-13 5-3-3-504-2-2 1-6 3-4-6-10 3-9-8-2-3-46 10-19-19-164 34 116-6 77 12 7 6 41-9 12-7 7 2 508-5 8 13 0 12 13 5-2 1-3 14-12 2-517-20-15 18-16-15-18-7-69 25 116 24 66-1 17 1 100-4 112-1 7 1 6 3 13 1 11-23 184 19 0-18 20 31-9-1-1 13-6-17-3 4-7 16-3-6-179-13-12 12-5-11-18 1 0 4 0 4 0-5-6 2-1-8-3 13-15-14-17 13-19 9-3-17-4 9-1-2-12-2-3-10-1 4-3 0-10 13-46-4-34-12-13 5-1 13-72-20-16 21-8-8-27 12 129 1 42 10 7 1 17-13 86 8 31-6 25 22 5-5 4-7 4-9 4 1 0 7 3 6 1-13 7 8 0 8 175-15 18 14 18 29-3-2-44-5-10-9-145 9 0-3-1-8-13 1-34-6-10 15-43-12-91 7-38-8-116 30-20 2 182 15 88-24 20 0 45 16 2 5 15-13 7-6 14 8 3 0 1-5 131 11 26 4 11-17 4 34 12-2-30 13-24-6-15 4-105-16-1 19 0-3-1-10-3 6-14-9-43 37 14-16 15 14 9-14 9 3 11 4 4 10 9-10 4 1 6 7 0 1 21 3 7 0 13-3 18-4 3-16 17 2 1 12 2-9 10-3 18 22 2-17 13 23-51 4-3 10-3-15-2 16-35-3-4 1-13-4-23 29-242-2 232-10 7 4 0 14 27-13 25 8 76-12 8 22-40 9-14 9-12-14-14-2-18 6-173 30 193 6 41 43-63-10-41 93 3 115 0" fill="none" stroke="none" marker-start="url(#d0)" marker-mid="url(#d0)" marker-end="url(#d0)"/>
<path transform="scale(.1)" d="M930 3559l16-2 15 0 15 0 15 0 15 1 9 11 0 15 1 15 0 15 1 15 0 15 1 15 0 15 0 15 0 15 0 15 0 15 0 15 0 15-1 15 0 15-1 15-2 15-2 15-3 15-4 15-3 15 9 15 10 5 13 5 17 4 15 4 15 5 15 5 14 7 11 7 9 8 8 10 3 15-5 14-9 11-11 8-10 6-15 6-15 5-15 4-15 3-15 2-14 1-16 1-15 0-15-1-15-1-15-2-15-3-15-4-15-5-13-5-12-7-10-7-10-11-5-12 2-18 8-10 10-9 10-7 10-5 15-7 15-6 10-5 10-7 7-9 0-15-5-15-4-15-3-14-2-16-1-15-1-15 0-15-1-15 0-15 0-15 0-15 0-15 0-15 0-15 0-15 1-15 0-15 1-15 0-15 1-15 1-15 0-5z" fill="#000" opacity="0.1"/>
<path transform="scale(.1)" d="M967 3929l14-1 15 0 15 2 15 3 15 3 15 5 15 7 10 7 7 9 1 15-8 10-10 8-15 6-15 5-15 3-15 2-15 0-15 0-15-1-15-3-15-4-15-6-10-6-10-9-4-15 9-14 10-8 10-5 15-7 15-4 11-2z" fill="#000" opacity="0.15"/>
<path transform="scale(.1)" d="M958 3949l13-3 15-2 15 1 15 2 15 4 15 7 9 11-4 13-10 7-13 5-17 3-15 2-15-1-15-2-15-5-10-5-9-12 4-12 10-8 12-5z" fill="#000" opacity="0.2"/>
<path transform="scale(.1)" d="M899 3559l12-2 15-2 15 0 15 0 15 0 15 0 15 0 15 0 15 1 10 2 5 11 0 15 0 15 1 15 0 15 0 15 0 15 1 15 0 15 0 15 0 15 0 15 0 15 0 15-1 15 0 15-1 15 0 15-1 15-1 15 0 15 5 10 7 6 9 4 11 3 10 3 10 2 10 3 10 3 10 4 10 4 10 4 10 6 10 6 9 7 6 6 7 9 5 10 2 10-1 15-5 10-8 10-10 9-9 6-8 5-8 4-10 5-10 4-10 3-10 3-10 3-10 2-10 2-10 2-10 2-10 1-10 1-15 1-15 1-15 0-15 0-15-1-15-1-10-1-10-2-10-1-10-2-10-2-10-3-10-3-10-3-10-4-10-4-10-4-10-6-10-7-7-5-8-9-5-6-5-10-2-10 2-14 5-11 5-6 8-9 7-5 7-5 8-5 10-5 10-5 10-4 10-4 10-4 10-6 6-7 4-10 0-15-1-15-1-15-1-15-1-15 0-15 0-15-1-15 0-15 0-15 0-15 0-15 0-15 1-15 0-15 0-15 0-15 0-15 1-15 0-15 1-15zM914 3559l12-2 15-1 15 0 15-1 15 1 15 0 15 1 10 1 4 11 0 15 1 15 0 15 1 15 0 15 0 15 1 15 0 15 0 15 0 15 0 15 0 15-1 15 0 15 0 15-1 13-1 12-1 15-1 10-1 10-2 10 0 15 5 10 7 5 9 4 10 4 10 2 10 3 10 3 10 3 10 3 10 4 8 4 10 5 7 5 7 5 8 8 5 7 4 10 1 13-4 12-6 8-7 7-6 5-7 5-9 5-11 5-10 4-10 3-9 3-11 3-10 2-10 2-10 1-10 1-15 2-15 1-15 0-15-1-15-1-15-1-10-1-10-2-10-2-10-2-10-3-10-3-10-4-10-4-10-5-10-6-9-7-6-6-5-6-4-8-3-10 2-13 5-10 5-6 6-6 7-5 7-5 9-5 11-5 10-4 10-5 10-5 10-6 8-10 2-10-2-15-1-10-2-10-1-10-1-15-1-15-1-15 0-15 0-15-1-15 0-15 0-15 0-15 0-15 1-15 0-15 0-15 0-15 1-15 0-15 1-15 0-15 0-5zM927 3559l14-2 15 0 15-1 15 0 15 1 15 2 2 10 0 15 1 15 0 15 1 15 0 15 1 15 0 15 0 15 0 12 0 13 0 15 0 15 0 15-1 15 0 15-1 15-1 15-1 10-1 10-2 10-2 10-3 10-2 10 2 10 7 9 10 5 10 4 10 3 10 2 10 3 10 2 10 4 9 3 11 5 10 5 8 5 7 5 9 10 5 10 1 10-3 10-6 10-6 6-10 7-10 6-10 5-10 4-10 3-10 3-10 2-10 2-10 2-10 1-15 1-15 1-15 0-15-1-15-1-10-1-10-2-10-2-10-2-10-3-10-3-10-4-9-4-9-5-7-5-7-5-8-10-5-10 0-12 5-12 5-7 10-9 8-5 9-5 8-4 10-4 10-5 10-4 10-6 8-7 5-10-2-15-3-10-3-10-2-10-1-10-2-10-1-15-1-15 0-15-1-15 0-15 0-15 0-15 0-15 0-15 0-15 0-15 1-15 0-15 1-15 0-15 1-15 0-15 1-10zM939 3559l12-1 15-1 15 0 15 1 9 6 1 12 1 13 1 15 0 15 1 15 0 15 1 15 0 15 0 15 0 15 0 15 0 15 0 15-1 15 0 15-1 15-1 15-1 10-2 10-3 10-3 10-4 10-6 10-7 8-10 6-10-9-5-6-5-8-5-11-3-10-3-10-1-10-2-10-1-15-1-15 0-15-1-15 0-15 0-15 0-15 0-15 0-15 0-15 1-15 0-15 1-15 0-15 1-15 1-15 1-15zM971 3894l10 2 10 5 10 5 9 3 11 3 10 3 10 2 10 3 10 2 10 3 10 4 10 4 10 5 10 6 10 10 5 8 2 12-3 10-7 10-7 6-10 7-10 5-10 4-10 3-10 3-10 2-10 2-10 1-10 1-11 1-14 0-15 0-15-1-10-1-10-1-10-2-10-2-10-3-10-3-10-4-10-5-10-7-7-6-8-10-3-10 2-10 5-10 6-6 10-8 10-6 10-5 10-4 10-5 10-4 10-5 10-5 10-6 10-6zM952 3559l14-1 15 0 11 1 1 10 1 15 1 15 1 15 1 15 1 15 1 15 0 15 0 15 0 15 0 15 0 15 0 15 0 15-1 15-1 15-2 15-1 10-3 10-3 10-7 10-10 4-8-4-7-10-3-10-3-10-1-10-1-10-2-15-1-15 0-15 0-15 0-15 0-15 0-15 0-15 0-15 1-15 0-15 1-15 1-15 1-15 2-15 1-10 0-5zM967 3914l14-1 10 1 10 2 10 2 10 2 10 2 10 2 10 3 10 3 10 3 10 4 10 5 10 7 9 10 4 10-3 14-5 7-10 9-8 5-11 5-11 4-10 3-10 2-10 2-10 2-15 1-15 0-15 0-15-1-10-1-10-2-10-2-10-2-10-4-10-4-10-5-10-7-6-6-6-10 0-15 6-10 6-5 10-8 10-5 10-5 10-4 8-3 12-4 10-4 10-2 1 0zM969 3604l8 5 3 10 1 10 2 10 1 15 1 15 1 15 0 15 0 15 0 15 0 15-1 15-1 15-1 10-2 10-4 10-11-1-2-9-3-10-1-10-1-15-1-15 0-15 0-15 0-15 0-15 1-15 1-15 1-13 2-12 1-10 2-9 3-6zM959 3924l12-2 15-1 15 2 10 1 10 2 10 2 10 2 10 3 10 3 10 4 7 4 8 5 6 5 8 10 1 10-3 10-7 8-10 7-10 5-10 4-10 3-10 2-10 2-10 2-15 1-15 0-15 0-15-2-10-2-10-2-10-2-10-4-10-4-10-6-8-7-6-10-1-11 4-9 6-7 10-7 10-6 10-4 10-4 10-4 10-2 3-1zM967 3929l14-1 15 0 10 1 10 2 10 2 10 2 10 3 10 3 10 4 10 6 9 8 5 10-4 15-10 9-10 6-10 4-10 4-10 2-10 2-10 1-15 1-15 0-15-1-10-1-10-2-10-2-10-4-10-4-9-5-6-5-8-10-1-10 4-9 6-6 6-5 8-5 10-5 10-4 10-3 10-2 6-1zM973 3934l13-1 14 1 11 1 10 2 10 2 10 3 10 3 8 4 7 4 7 6 5 10-1 10-6 8-9 7-11 5-10 3-10 3-10 2-10 1-15 1-15-1-15-1-10-2-10-3-10-3-10-5-8-5-7-8-3-12 5-10 8-7 10-6 10-4 10-4 10-2 10-2 2 0zM978 3939l13 0 15 1 10 1 10 2 10 3 8 3 10 5 7 5 5 7 0 13-5 6-10 7-10 5-10 3-10 2-10 1-15 1-15 0-10-2-10-1-10-3-10-3-10-6-7-5-5-10 2-10 5-6 10-7 10-5 10-3 10-2 10-2 2 0zM981 3944l15 0 15 2 10 1 10 3 9 4 8 5 8 10-1 10-9 8-10 5-10 3-10 2-10 2-15 0-15-1-10-1-10-3-10-4-10-6-5-8 2-12 8-8 10-5 10-4 10-2 10-1zM961 3954l10-3 10-1 15-1 15 2 10 2 10 4 10 7 3 10-7 10-11 5-10 3-10 1-15 1-15-1-10-2-10-4-10-6-4-12 9-10 10-5zM969 3959l12-3 15 0 10 1 9 2 10 5 5 10-9 9-10 3-10 2-15 0-10-2-10-3-10-9 4-10 9-5zM977 3964l14-2 15 2 9 5-4 9-10 3-15 0-10-2-6-5 6-9 1-1z" stroke="#111" stroke-width="6" fill="none" stroke-linejoin="round"/>
<ellipse cx="71.8" cy="379.2" rx="2.90" ry="2.90" fill="#fff" stroke="#222" stroke-width="1.0"/>
<polygon points="69.3,393 92.5,380.6 105.5,380.6 119.5,389 116.5,409.2 72.5,409.2" fill="none" stroke="#222" stroke-width="0.7"/>
<text x="113.20" y="341.20" font-size="8" text-anchor="middle" textLength="73.6" lengthAdjust="spacingAndGlyphs" fill="#222" >CD45, LY6G- subset</text>
<text x="115.40" y="350.80" font-size="8" text-anchor="middle" fill="#222" >68.7%</text>
<path transform="scale(.1)" d="M1035 4687l16-2 15 5 9 7 7 10 6 15 3 15 1 15-1 15-1 15-3 15-3 15-4 15-4 13-4 12-5 15-5 15-6 15-5 14-5 11-5 11-5 11-7 13-7 10-7 10-9 10-10 10-10 9-10 6-10 5-14 5-16 3-15 1-15 0-15 0-15 1-15 2-15 6-10 7-10 8-8 7-12 10-10 8-9 7-11 7-10 5-15 7-15 4-15 2-15-1-15-7-9-12-3-15 1-15 5-15 6-12 8-13 8-10 9-9 10-9 10-8 10-7 10-6 12-6 13-5 15-4 15-1 15 1 15 2 15 0 15-5 8-8 6-10 5-15 4-15 3-15 4-13 4-12 5-15 5-15 6-13 5-12 5-10 5-10 6-10 5-10 7-10 7-10 7-10 8-9 10-10 10-10 10-7 10-7 15-6 4-1zM878 5152l13-2 15-1 15-1 15 0 15 0 15 1 15 1 15 1 15 2 15 3 15 3 13 3 12 3 15 6 15 6 10 5 10 6 10 7 8 7 7 8 6 12 2 15-3 13-7 12-8 8-9 7-11 7-10 6-15 6-15 6-15 4-15 4-15 3-15 3-15 2-15 1-15 1-15 1-15 0-15 0-15-1-15-1-15-2-15-2-13-3-17-4-15-4-15-5-15-6-12-6-13-8-10-7-10-10-6-10-4-13 2-17 5-10 8-10 10-9 9-6 11-6 15-7 15-6 15-5 15-4 15-3 15-2 12-2z" fill="none" stroke="#000" stroke-width="90" stroke-linejoin="round" opacity="0.090"/>
<path transform="scale(.1)" d="M1035 4687l16-2 15 5 9 7 7 10 6 15 3 15 1 15-1 15-1 15-3 15-3 15-4 15-4 13-4 12-5 15-5 15-6 15-5 14-5 11-5 11-5 11-7 13-7 10-7 10-9 10-10 10-10 9-10 6-10 5-14 5-16 3-15 1-15 0-15 0-15 1-15 2-15 6-10 7-10 8-8 7-12 10-10 8-9 7-11 7-10 5-15 7-15 4-15 2-15-1-15-7-9-12-3-15 1-15 5-15 6-12 8-13 8-10 9-9 10-9 10-8 10-7 10-6 12-6 13-5 15-4 15-1 15 1 15 2 15 0 15-5 8-8 6-10 5-15 4-15 3-15 4-13 4-12 5-15 5-15 6-13 5-12 5-10 5-10 6-10 5-10 7-10 7-10 7-10 8-9 10-10 10-10 10-7 10-7 15-6 4-1zM878 5152l13-2 15-1 15-1 15 0 15 0 15 1 15 1 15 1 15 2 15 3 15 3 13 3 12 3 15 6 15 6 10 5 10 6 10 7 8 7 7 8 6 12 2 15-3 13-7 12-8 8-9 7-11 7-10 6-15 6-15 6-15 4-15 4-15 3-15 3-15 2-15 1-15 1-15 1-15 0-15 0-15-1-15-1-15-2-15-2-13-3-17-4-15-4-15-5-15-6-12-6-13-8-10-7-10-10-6-10-4-13 2-17 5-10 8-10 10-9 9-6 11-6 15-7 15-6 15-5 15-4 15-3 15-2 12-2z" fill="none" stroke="#000" stroke-width="65" stroke-linejoin="round" opacity="0.090"/>
<path transform="scale(.1)" d="M1035 4687l16-2 15 5 9 7 7 10 6 15 3 15 1 15-1 15-1 15-3 15-3 15-4 15-4 13-4 12-5 15-5 15-6 15-5 14-5 11-5 11-5 11-7 13-7 10-7 10-9 10-10 10-10 9-10 6-10 5-14 5-16 3-15 1-15 0-15 0-15 1-15 2-15 6-10 7-10 8-8 7-12 10-10 8-9 7-11 7-10 5-15 7-15 4-15 2-15-1-15-7-9-12-3-15 1-15 5-15 6-12 8-13 8-10 9-9 10-9 10-8 10-7 10-6 12-6 13-5 15-4 15-1 15 1 15 2 15 0 15-5 8-8 6-10 5-15 4-15 3-15 4-13 4-12 5-15 5-15 6-13 5-12 5-10 5-10 6-10 5-10 7-10 7-10 7-10 8-9 10-10 10-10 10-7 10-7 15-6 4-1zM878 5152l13-2 15-1 15-1 15 0 15 0 15 1 15 1 15 1 15 2 15 3 15 3 13 3 12 3 15 6 15 6 10 5 10 6 10 7 8 7 7 8 6 12 2 15-3 13-7 12-8 8-9 7-11 7-10 6-15 6-15 6-15 4-15 4-15 3-15 3-15 2-15 1-15 1-15 1-15 0-15 0-15-1-15-1-15-2-15-2-13-3-17-4-15-4-15-5-15-6-12-6-13-8-10-7-10-10-6-10-4-13 2-17 5-10 8-10 10-9 9-6 11-6 15-7 15-6 15-5 15-4 15-3 15-2 12-2z" fill="none" stroke="#000" stroke-width="41" stroke-linejoin="round" opacity="0.090"/>
<path transform="scale(.1)" d="M1035 4687l16-2 15 5 9 7 7 10 6 15 3 15 1 15-1 15-1 15-3 15-3 15-4 15-4 13-4 12-5 15-5 15-6 15-5 14-5 11-5 11-5 11-7 13-7 10-7 10-9 10-10 10-10 9-10 6-10 5-14 5-16 3-15 1-15 0-15 0-15 1-15 2-15 6-10 7-10 8-8 7-12 10-10 8-9 7-11 7-10 5-15 7-15 4-15 2-15-1-15-7-9-12-3-15 1-15 5-15 6-12 8-13 8-10 9-9 10-9 10-8 10-7 10-6 12-6 13-5 15-4 15-1 15 1 15 2 15 0 15-5 8-8 6-10 5-15 4-15 3-15 4-13 4-12 5-15 5-15 6-13 5-12 5-10 5-10 6-10 5-10 7-10 7-10 7-10 8-9 10-10 10-10 10-7 10-7 15-6 4-1zM878 5152l13-2 15-1 15-1 15 0 15 0 15 1 15 1 15 1 15 2 15 3 15 3 13 3 12 3 15 6 15 6 10 5 10 6 10 7 8 7 7 8 6 12 2 15-3 13-7 12-8 8-9 7-11 7-10 6-15 6-15 6-15 4-15 4-15 3-15 3-15 2-15 1-15 1-15 1-15 0-15 0-15-1-15-1-15-2-15-2-13-3-17-4-15-4-15-5-15-6-12-6-13-8-10-7-10-10-6-10-4-13 2-17 5-10 8-10 10-9 9-6 11-6 15-7 15-6 15-5 15-4 15-3 15-2 12-2z" fill="none" stroke="#000" stroke-width="20" stroke-linejoin="round" opacity="0.090"/>
<path transform="scale(.1)" d="M1035 4687l16-2 15 5 9 7 7 10 6 15 3 15 1 15-1 15-1 15-3 15-3 15-4 15-4 13-4 12-5 15-5 15-6 15-5 14-5 11-5 11-5 11-7 13-7 10-7 10-9 10-10 10-10 9-10 6-10 5-14 5-16 3-15 1-15 0-15 0-15 1-15 2-15 6-10 7-10 8-8 7-12 10-10 8-9 7-11 7-10 5-15 7-15 4-15 2-15-1-15-7-9-12-3-15 1-15 5-15 6-12 8-13 8-10 9-9 10-9 10-8 10-7 10-6 12-6 13-5 15-4 15-1 15 1 15 2 15 0 15-5 8-8 6-10 5-15 4-15 3-15 4-13 4-12 5-15 5-15 6-13 5-12 5-10 5-10 6-10 5-10 7-10 7-10 7-10 8-9 10-10 10-10 10-7 10-7 15-6 4-1zM878 5152l13-2 15-1 15-1 15 0 15 0 15 1 15 1 15 1 15 2 15 3 15 3 13 3 12 3 15 6 15 6 10 5 10 6 10 7 8 7 7 8 6 12 2 15-3 13-7 12-8 8-9 7-11 7-10 6-15 6-15 6-15 4-15 4-15 3-15 3-15 2-15 1-15 1-15 1-15 0-15 0-15-1-15-1-15-2-15-2-13-3-17-4-15-4-15-5-15-6-12-6-13-8-10-7-10-10-6-10-4-13 2-17 5-10 8-10 10-9 9-6 11-6 15-7 15-6 15-5 15-4 15-3 15-2 12-2z" fill="#fff" stroke="none"/>
<path transform="scale(.1)" d="M490 5002l-1 162-2 22 6 19-6 96 30 32-2-53 3-102-5-8 4-182 13-127-4 211 17 31 3 3-1 12-16 42 16 75 25-64 4-35-4-71-8-67 27 2-4 51 1 6 9 55 2 3-12 12 6 93-16 10 21 10-16 23 8 25-2 7-11 37 11 10 29-14 2-53 0-13 4-28-15-14 7-2-7-7 15-24-1-9-12-2 2-3-5-3 14-34-6-20-3-2 14-10-9-22 4-26-13-27 15-9-5-15 32-8-2 11-19 11 21 11-15 1 11 20-8 3 13 4-1 12-8 5 2 2 2 0 3 2-22 1 19 2-2 2 1 11 4 0-8 12 0 48-8 7 9 0 5 6-6 14-9 3 16 16-6 7-9 9 6 1 5 15-4 10-10 11 18 42 2 4-6 57 19 15 0-39-2-46 10-1 4-7-22-12 6-4 16-2-3-6-20-5 7-3-7-11 22 0-5-4 6-7-8-2 7-1-19-9 18-1-9-3 5-2-15-10 17-5-10-6 14 0-1-23-12-5 3-7 9-4 1-13-11-6-1-4 13-1-3-2-15-2 12-3 0-1 3-4-20-2 8-5 6-2 2-3-9-1 15 0-12-3 13 0-19-3 5 0 9-6-6-5-2-1 8-1-19-4 20-1-2-7 4-3 0-2-3-2 1-9-13-3 3 0-6-8 19-3-8-1 8-4-11-1-8-1 20 0-3-18-14-18 13-12-11-70 8-44 21 44 6 34-5 25 10 13-18 12-1 1 13 2-6 13 3 4 4 1-17 5 9 2-6 1 8 4-10 5 7 0-1 9-4 4 0 9-5 17 3 5-2 10 5 5-6 1 9 4 5 1-3 4 13 1-23 2 1 3 15 5-7 5-2 5 15 1 1 9-19 3 1 2 3 8 12 24-6 1-12 2 12 25 7 2-15 2 7 1 8 0-20 1-2 9 19 5 0 11-2 1-13 3 5 1 8 3-11 5 11 1 5 2-13 3-3 10 3 1 5 0 10 3-4 1-4 6 6 3-16 4 7 1-10 11-3 17 8 9 33-7-12-10 2-2 0-2 15-15-3-2-4-7 9-1-10-6-4-1 14 0-21-2 1-1 19-3 2-1-5-4-3-1 3-1 1-1 3-1 1 0-14-6-3-1-4-7 9 0-2-5-5-1 8-2 4-4-15-8 2 0 4-10 14-6-8-2 4-2-3-13-15-3 8-14 11-1-9-4 13-2-23-7 24-5-9-15-11-1 9-1 1 0 8-5-5-7-9-5 2-2-8-1 2-99 1-4 1-7 1 0 9-2-2-5-14-1 0-24 22-2-22-2 2-15 16-20 1-9-16-9 16-52 20-8-4 15 4 57 8 5-2 4-6 11-6 5 2 8-7 9 7 1 14 3-7 5-6 2 1 0-4 3-1 2-1 2-1 1 17 123-14 2 10 0-8 1-3 5-7 6 7 0 2 0 9 0-2 1 2 1 4 5-4 2 5 4 1 6-13 2 7 0-14 2-1 3 3 0 12 22-12 1 17 0-10 1 7 1-8 1 2 0-3 2 1 0 0 3 10 0-11 2-7 7 11 0 8 1-17 5 8 4 9 0-7 4 0 2-12 1 5 2-9 1 1 26-1 4 1 4 1 4 0 2 5 1 2 6 0 1-6 8 15 5-1 2-1 3 3 1-15 1 3 1-2 8 7 6 12 2-3 8-1 13-12 3 15 4-10 1 1 3-10 18 8 22 27-18 8-11 0-9 2-1-2-5-1-4-19-4 13-6-11-19 0-3 5 0-3-3-2-88-2-1 10-1 1 0-7-2 5-1-11-1 6-8-5-1 8-3 13 0-14-3 13-1-4-2-6-2 9 0-7-1 4-2 7-3-18-1 9-1-7-3 14-3 2-1-21-10 10-8-4-17-1-1 14-3-21-1 13 0-13-2 17 0-13-5 14-5 3 0-4-3-18-127 13-4-12-1 10-4 2 0-8-9 16-1 3-3-22-8 8 0-4-1 6-1 5-1 5-7-2-4-18-9 18-1 18-52 9 15-7 5-2 5 5 3-13 23 7 0 1 4-10 12 20 1-19 2 3 2-1 1-4 7 9 0-3 4 0 3-5 6 14 128-10 5 17 0-12 2 12 1-24 3 7 3 8 3 5 1-14 2-6 1 7 4 9 1 3 4-5 1 8 3-17 1 3 0-4 1-4 10 18 0 4 1 2 0-17 3-5 1 3 3 2 0 5 0 5 3-9 6 16 3-13 4 1 3 12 2-2 1 1 1-15 3-4 4-3 2 13 0-2 1-10 1 0 1 12 1-4 2 2 0-6 1-1 116-2 2 2 2 2 0-7 3 11 8-8 13 4 1-3 4 16 3-12 1 16 7-11 3 21 3 13-17-2-9-5-7-12-1 16-2-17-2 2 0 11-141 1 0-1-1-5-3 7-8 6 0-21-1 19-1 3 0-11-5 4-3-7-10 5-3 3 0-13-6-1-2 4-3 1-6-6-12 20-3-12-1 2 0 6-6-10-5 9-2-6-2-10-2 7 0-6-4 12-4 0-10-5-108 4 0 1-1 6-1-1-1 2 0-14-5 6 0-8-1 1-4 15-8-18-7 16-3-9-5-7-11 3-8 7-16 8-325 25 235-1 42-3 39 4 18-2 5 4 9-13 7-8 3 19 9 2 0-24 2 19 7-19 7 12 4-11 4 8 2 14 3 0 1-16 1 4 0 2 1 5 0 4 0 2 1-6 84 6 2-15 3 5 3 2 1-7 1-1 2 10 0 1 0 5 0-20 3 14 1-11 1-3 1-1 4 10 0-11 2 5 1 10 0-4 3-7 2 7 3-9 2 3 1 7 1 2 0 5 2-17 3 20 2-2 6-5 6 3 0 4 1-1 2-23 2 24 3-6 2 2 1-12 4 4 2 2 0 7 4 3 9-16 1 11 3-9 1-1 1 13 3 2 2-9 2 8 0-12 1 6 1-14 9 6 0 8 0 4 2 3 0-14 7-7 2 13 152-15 2 9 1 8 10 0 1 5 0-14 1-1 1 6 11 7 1-8 1-9 9 41 31-10-15-2-16-2-13-4-9 8-9-5-2 14 0-7-1-4-170 14-2-18-1-4-9 6 0 9-4 8-1-23-6 12 0-11-9 12-1 5-2-4-8-8-4-6-2 6-3 7 0 2-4-12-5 11-3 0-1 7 0 1-1-13-1-5-1-1-1 13-3 5 0-4-3-4-2-11-3 9 0 13-4-15-4-8-1 18 0-13-4 3-2-4-4 19 0-19-1 19 0-21-2 4 0-7-1 16 0-9-3 9-2 3 0-9-2 5 0-12-2 16-1 1-5 4 0-17-74-4-2 9-2 5 0-13-3-3-1 17 0-9-6 6-7 9-8-2-6-19-5 9-3-11-2 1-2 15 0-13-3 15-3 0-2-16-2 16-2-17-29 20-26-9-6-9-1-3-6 23-47-11-4 6-13 19-158 0 166 10 0-23 13 23 36-2 17-2 13-5 5-8 2-2 6 5 1 8 11 2 1-6 8 8 2-13 6-2 2 13 0 1 2-1 1-6 1 1 0 3 2-5 2-6 2 2 1 5 4 3 3-15 1 11 1 4 0-15 10 11 0 0 4-6 1-1 2-5 1 8 0-6 4 4 0-2 90-1 1 15 0-4 2 7 1-9 3 9 1 1 1-9 1 7 0 4 0-11 2-8 1 18 4-6 1-12 2 5 0-10 1 16 0 2 4-18 2 23 2-8 2 4 1 1 1-20 1 20 4-15 5 15 6-20 8 3 0 21 2-24 2 14 5 9 2-6 1-15 5 3 3 14 0-3 1 8 1-10 1 8 0-2 5-13 2 7 1 8 1-7 5-11 1-4 1 22 2-21 1 16 0-13 1 18 0-5 10 4 2-9 1 5 1 5 0-4 2-4 1-11 5 6 1 8 0-13 2 18 169-5 1 1 6-18 1 9 0 9 11-11 3 1 1-2 5 11 7 5 3 2 20-4 2 10-3 12-31-7-6 7 0-8-3 3-7 0-2 9 0-3-1-6-1 10-2-21-175 3-2 16-2-16-3 8-1-10-1 18-1-12-3-6-1 10-4 9-5-6-3-11-1 7-3 11-2-17-1 11-2-14-1 8-3-7-1 1-2 19-1-11-1 8-6-13-4 6-6 5 0 4-1-14-1-5-2 5-1 8-2-4-1 12-4-7-4-6-2 11 0-21-2 19 0-14-2 8 0-12-10 12-1 9-1 1 0-10-1-3-1-11-3 24-2-16-1 5 0-5-1-7-1 10 0 8-6-9-5-10-2 11 0-5-5 5 0 1 0-12-157 4-6 1-15-1-3 0-5 0-5 8-16-3-6 13 0-21-5 17-6-1-1 6-1-8-3 5 0 1-2-7-2-3-1-9-2 15-8 0-4-5-7-6-18-4-4 4-23 16-38-14-16 40-106-4 146-12 11 11 2 2 10-5 3 8 2-17 3-1 6 1 3 10 0 7 0-6 1-16 12 7 1 13 0-15 12-6 8 7 0-4 3 2 0 0 9 6 226 9 1-13 3 3 0 10 2-20 2 13 0-12 1 19 0 4 0-21 1 6 0 2 1 1 1-7 4 13 1-18 4 16 1 3 4 3 3-5 2-10 3 0 7 2 2 11 2-17 3 2 2 16 3-4 9-16 3 21 1-15 4-6 1 3 6 5 2-4 5 10 2 7 4-14 2 5 6-7 4 3 1 9 2 3 3-21 1 15 0-11 2 4 0 11 2-8 2-10 2 6 0 17 0-20 1 6 1 14 2-9 175-6 1 6 0 9 2-21 5 3 5 15 2-4 3 5 2-7 9-9 11 17 20-20 4 32-1 13 0-9-1-12-5 14-24-10-1-4-3 10-5-9-5-1-6 22-5-15-4 1-4-10-176 10-1-5-1 4 0 5-2 10 0-20-1 4-2 3-1 3 0-4-3 3 0-8-1 1-3 1-1 12-1-13-3 17-9-2-4-2-2-10-1 3 0 7-8-15-2 1-2 17 0-1-2-2-14 4-2-15-10 11-4-2-2-15-1 17-5 1-9-16-5 13 0-2-1 2 0-7-1 12 0-12-1-8-1 3 0 8 0-5-1 12 0-6-2 5-1-9-8 9-6-7-1 1 0 6-1-19-264 2-1 4-4-1-5 3-5-5-4 5-11 1 0 7-20-9-3 5 0 0-26-7-5 25-101 14 59-17 7 7 10 11 5-18 5 7 14 10 17-1 1 1 0-7 2 6 11-13 15 3 4 14 277 2 4-10 4 10 4-18 1 7 4-5 1 2 0 7 0-17 1 1 1 6 0 5 5-7 2 4 0 8 1 2 5 2 1-16 3 8 3-11 1 16 7 2 2-15 2-1 8 6 0 2 12-9 17 17 12-11 1 3 2 10 2-13 5 4 0-8 1 3 2 5 4-9 3 9 1-10 3 21 0-1 1-22 16 3 0 0 7 3 0 9 1-10 172 10 7-9 2-2 2 11 3 5 10 3 6-1 7-8 16 2 24 11-50 12-6-6-10 7-4 4-1 1 0-7-1-4-1 6-3-14-2 22 0-2-3 0-162-17-4 18-1-8-2-8-4-6-1 2-27 21-2-23-7 15-2 5-2-16-3 16-2-7-5 4-19-4-2-3-10 3-2-14-1 2-6-1-1-1-1 6-2-3-3 2 0 7-1-3-1 6-9-14-1 15 0-10-3 17-2-12-1-9-4 9 0 9 0-3-2 4-1-11-1 5 0 3 0-1-2 5-2-2-1-7-8 4 0-11-1 2-1 15-1-10-1-10-2 12-4 2 0-12-1 7-1-2-3 1 0-4-2 3-1 12-8-5-2-10-278 4-2-6-4 1-2 16-2-4-1 4-1-17-4-3-3 1-13 18-1-10-10 2-1 10-8-19-18 7-9 1-47 20-49-5 60 21 19-7 8 7 7-11 1-12 2 8 17 16 3-6 8-3 3 3 7-3 8-4 3-9 2 11 2 8 6-8 4-6 1 17 236-8 20 3 1 3 4-5 2 2 0-12 4 12 2-11 1 4 2-6 1 14 0-8 1 10 0-20 1 3 1 16 5-18 1 9 1-4 3 14 1-5 1 1 0-15 2 5 1-4 4 0 2 15 7-10 8 6 1-4 2-3 4 14 0-7 1 0 9-4 6-5 5 14 7-5 7 3 0-3 2-8 6-6 14 22 14-16 4 8 2-1 8 2 2 6 5-10 17 11 3-19 7 12 0 3 1 1 0-10 2 6 2 3 1 3 9-12 6 6 4-10 2 18 0-21 1 9 1 3 1 5 159-6 1 0 15-4 13-1 23 17 26 2-36 3-1 0-17 14-1-12-2 3-11-11-1 16-8-8-1-5-2 4-1 9-1 1 0-2-2-1-141-8-3 4 0-9-2 4 0 0-1 3-4 5-1-6-1 17-4-14-7 2-2-4-8 8-1-7-11 7-6-12-1 12-3-14-13-1-2 6-3-7-1 24-14-19-2 19-1-4-8 2-21-7-7 5-4 2-11-16-8-3-1-3-1 17 0 0-1-8-6 13-3-19-7 16-3 3-8 2-2-14-4-7-5 1-9 3-10-7-2 13-3-6-8 13 0-16-1-4-1 15-14 5 0-6-3 10-3-21-1 6-4 1-2-10-1 12-2-1-4-3-2 1-1 2-4 5-3-4-1 0-12 7-14-4-180 0-1 0-3 3-1 5-2-1-8-6-9-6-3-8-11 1-8 15-11 3-4-17-11 1-35 30-41 1 54 5 9-10 13-5 1 16 6 3 7 0 2-18 25 9 5-7 2 9 3 0 2-1 9 7 12 1 3-17 2 5 2 14 24-7 2 2 2 5 24 0 5 1 2-3 6 2 4-2 14 4 2-6 9-2 3 2 1-3 14-4 2 10 1-9 1 6 1-3 14-6 2 2 1-7 7-3 4 8 0-8 4 3 1 14 0 2 1-11 1 2 0-10 5 1 1 2 1 13 3 1 4-14 1 17 7-15 1 13 11-1 2-10 5 3 4-10 15 15 1-16 1 17 15-7 2-5 2 0 12 1 1 6 7-9 2-2 13 2 10 9 10 3 5-4 5-10 18 23 5-20 11 0 2 18 13-3 4-7 30-1 32-7 2-3 11 1 0 19 1-2 14 2 2-17 6 1 2 6 7-5 3-2 1 16 0-4 2-6 8 11 2-4 1-6 129 8 0-13 1 9 2-2 3-11 3 0 2 1 7 2 22 0 8 20 65 9-33 10-19-13-20 10-5-10-1-3-7 12 0 4-2-18-2 5-8 15-5-15-4 16-2-17-9 6-2 1 0-10-2 0-4 18 0 3-5-4-2-6-98 8-6-18-1 8-1-2-1 4 0-13-1 12-1 4-1 2-1-18-17 16-1-13-1 15 0 5-4 0-6-18-1 10-9-11-33 6-29-5-10 8-17 0-22-6-1 5-5-7-19 19-5-21-3 7-5 8-20 1-1-13-4 13-8 0-2-16-4 7-8 9-25-12-10 0-7 11-4 2-19-7-8-3-4 4-13-6-2 14-2-14-2-5-5-2-10 13 0-1-8-2-13 1-4 12-18-12-1-12-3 16 0-16-2 7-3-3-5 7-9 0-6-2-10 1 0-7-2 11-2-14-12 17-1 3-13-15-1 4-11 10-4-3-1-9-37 16-1-12-1-5-14 15-14 2-5-16-18 7-116 30 99 0 84-7 22-9 10-2 11 15 28-1 18 2 4-9 8 6 1 6 9-19 38 0 75 16 15 4 23-9 69-12 13 3 3 13 10 6 15-19 30-3 44 2 16 22 21-13 6-9 8-1 1 0 6 6 7 4 0-6 5 13 1 3 4-14 2 10 1 7 4-1 10 0 4 1 6-11 43-3 2-4 4 11 7-12 4 19 6-14 2-6 7 2 12 6 0 4 4 1 17-9 9-8 67 49 0-24-25 7-10 14-26-11-22-3-13 13-3-11-9 11-2-15-14 8-2-12-8 11-3-4-1 8-4 4-1-19-1 13-1 3 0 6-3-23-5 10 0 2-4 11 0-14-1-6-1 5-2 1-2 14-6-23-1 16-1 6-2-2-2 4-2-3-5-14-1 11-4 1-2-19-1 14 0-10-1 1-4 5-2-9-1 2 0 10-5-8-2-1-3 8 0-9-1 10 0-3-1-4-5 14-2-5-2-11-2 18-10-6-2-8-2 6-19-10-30 10-17-14-13 23-33-14-7 12-7-16-5 10-23-6-23-6-23 10-6 11-3-15-1-8-35 7-2-5-13 15-9 6-27-11-17-11-1 13-2-10-39 11-23-3-69 3-33-6-19 1-1 22-151 10 169-9 21-7 258 3 17 4 40 13 21-19 5 14 60-1 29-2 4-3 26 1 29-10 3 13 2 2 8 2 6 5 6-11 2-1 1-1 1-11 3 15 3-11 4 20 2-18 18 4 6 12 6 2 1-13 1-1 2 1 24 10 0-18 2 31 20-7-10 6-10 6-4-3-18 5-16-9-12-6-3 9-6 12 0-11-5 8-5-17-6 3-1-3-1 1-2 5 0-3-2 0-5 15-4-3-3 6-1-17-11 0-93 11-4-12-73-1-27 5-48 13-44-4-12 2-15-10-69 3-96-10-238 42 104-20 10 18 238-16 87 16 8 5 174 1 62-21 20 2 22 0 27-3 3 19 81-4 8 19-19 1-3 5-7-17-5 22-12-1-10-21-3 5-18 1-3 12-3-4-7-6-50 11-78-19-35 15-43 9-87 1 41 13 8 1 161-9 12 8 16-8 32-1 16 12 2-16 28 1 16 18 12-16 38 28 45 0-74 2-78-4-31 5-53 4-35 14-151 4 308 62-39-6-50 47 185 38-140 78-443" fill="none" stroke="none" marker-start="url(#d0)" marker-mid="url(#d0)" marker-end="url(#d0)"/>
<path transform="scale(.1)" d="M1019 4727l17-3 15 5 10 13 4 15 2 15-1 15-2 15-3 15-4 15-4 15-6 15-6 15-5 13-5 11-5 11-5 10-6 10-6 10-8 10-8 10-11 10-11 8-10 5-15 4-15 1-15-2-10-10 2-16 4-15 2-15 2-15 2-15 2-15 4-15 4-15 5-15 6-15 7-15 5-11 8-14 6-10 7-10 8-10 10-10 11-10 10-6 8-4zM771 4987l15-4 15 0 12 4 8 7 3 13-8 15-7 10-8 9-10 9-10 9-10 6-10 5-15 5-15 1-15-9-3-15 3-14 6-11 7-10 10-10 12-10 10-6 10-4zM918 5167l18-1 15 0 15 1 15 1 15 2 15 3 15 3 15 4 15 6 14 6 11 7 10 7 9 11 6 15-3 15-6 10-10 10-11 7-10 5-15 7-15 5-15 4-15 3-15 2-15 2-15 1-15 0-15 0-15 0-15-2-15-1-15-3-15-3-15-4-15-5-15-7-10-6-10-7-8-8-6-10-3-15 6-15 8-10 13-10 10-5 10-5 13-5 12-4 15-3 13-3 17-3 15-1 12-1z" fill="#000" opacity="0.1"/>
<path transform="scale(.1)" d="M999 4807l16 5 1 15-4 15-6 15-6 10-7 10-12 8-10-8 0-15 3-15 6-15 5-10 8-10 6-5zM902 5197l14-2 15-1 15 0 15 1 15 2 15 3 15 4 15 7 10 7 7 9 1 15-8 10-10 7-15 7-15 5-15 3-15 1-15 1-15 0-15-1-15-2-15-3-15-5-15-8-10-8-6-12 5-15 11-9 10-6 14-5 16-4 6-1z" fill="#000" opacity="0.15"/>
<path transform="scale(.1)" d="M909 5212l17-3 15 0 15 1 15 2 15 5 10 5 8 10-6 15-12 7-15 4-15 3-15 1-15-1-15-2-15-5-14-7-6-9 5-13 10-7 15-5 3-1z" fill="#000" opacity="0.2"/>
<path transform="scale(.1)" d="M1035 4687l11-2 13 2 10 5 7 6 5 7 5 11 3 11 2 10 1 15-1 15-1 15-2 10-2 10-2 10-3 10-2 10-4 10-3 10-3 10-3 8-4 12-4 10-4 10-3 9-5 11-4 10-5 10-6 10-5 9-5 8-5 7-5 6-9 10-6 5-10 9-10 6-10 5-10 4-10 3-10 1-15 1-15 0-15 0-15 1-10 1-10 3-10 4-10 7-7 5-8 7-9 8-11 9-7 6-7 5-8 5-8 5-10 5-10 4-10 3-10 2-15 1-10-1-10-4-7-5-7-10-3-10 0-15 2-10 4-10 5-10 6-10 5-7 5-6 6-7 9-9 7-6 6-5 7-5 8-5 7-4 10-5 10-4 10-3 10-3 10-1 15 0 10 2 10 1 15 0 10-3 8-5 7-8 4-7 4-10 2-10 3-10 2-9 3-11 3-10 3-10 3-10 3-8 4-12 4-10 5-10 4-10 5-10 6-10 5-10 7-10 5-8 5-7 5-7 5-6 6-7 9-9 6-6 9-8 10-7 10-5 10-4 4-1zM878 5152l13-2 15-1 15-1 15 0 15 0 15 1 15 1 15 1 10 1 10 2 10 2 10 2 10 2 10 3 10 2 10 4 9 3 11 5 10 5 9 5 7 5 7 5 7 7 5 6 5 9 3 13-2 15-5 10-6 8-7 7-7 5-7 5-9 5-10 5-10 4-10 4-10 4-10 2-10 3-10 2-10 2-10 2-10 1-10 2-10 1-15 1-15 1-15 0-15 0-15-1-15-1-10-1-10-1-10-2-10-1-10-2-10-2-10-3-10-3-10-3-10-4-10-4-10-5-10-5-8-6-7-5-10-10-5-8-5-12 0-12 4-13 6-9 10-11 7-5 7-5 9-5 7-4 10-4 10-4 8-3 12-4 10-2 10-3 10-2 10-2 10-1 7-1zM1034 4712l12 0 10 5 9 10 5 10 3 10 1 10 1 15-1 15-2 10-2 10-2 10-3 10-3 10-3 10-3 9-4 11-3 10-4 10-4 9-5 11-5 10-5 10-5 10-5 8-4 7-6 8-5 6-6 6-9 9-8 6-8 5-9 4-10 4-10 2-10 1-15 0-15-1-10-2-10-2-10-4 5-12 9-10 6-7 5-8 5-10 3-10 2-10 2-10 1-10 2-10 2-10 2-10 3-10 3-9 4-11 3-10 4-10 4-9 5-11 5-10 5-9 5-8 5-8 5-8 5-6 5-7 8-9 7-7 10-8 7-5 8-4 10-5 8-1zM774 4977l12-3 10-2 15 1 10 3 10 4 10 5 10 7-2 10-8 9-6 6-9 9-5 6-10 10-10 10-6 5-6 5-7 5-8 5-8 5-10 4-10 3-10 2-15-1-8-3-7-6-4-9 0-15 3-10 4-10 6-10 6-7 7-8 8-8 10-7 7-5 8-4 10-5 3-1zM908 5162l13-1 15 0 15 0 15 1 15 1 10 1 10 1 10 2 10 2 10 2 10 3 10 3 10 3 10 4 10 5 10 6 10 7 10 10 5 9 3 11-2 15-6 10-10 10-6 5-8 5-9 5-11 5-11 4-10 3-10 3-10 3-10 2-10 1-10 2-10 1-15 2-15 0-15 1-15-1-15 0-15-2-10-1-10-1-10-2-10-2-10-2-10-3-9-3-11-4-10-4-10-5-10-6-7-6-8-8-5-6-4-11-1-11 2-9 6-10 7-7 10-8 8-5 7-4 10-5 10-4 10-3 10-3 10-3 10-2 10-2 10-1 10-1 15-2 2 0zM1028 4732l13 1 10 8 5 7 3 9 2 10 1 10-1 15-1 10-2 10-2 10-3 10-3 10-4 10-3 10-4 10-4 10-4 9-5 10-5 10-5 10-5 8-5 8-5 6-5 7-7 7-8 7-10 8-10 5-10 3-10 1-10-1-10-7-3-11 1-15 1-15 1-13 1-12 1-10 2-10 2-10 3-10 2-10 4-10 3-10 4-10 5-10 4-10 6-10 6-10 6-10 6-8 5-6 6-6 9-9 8-6 7-4 10-5 7-1zM775 4992l11-2 15 2 7 5 4 10-2 10-4 8-5 7-9 10-6 6-10 8-10 6-10 4-10 2-14-1-7-5-4-9 1-11 4-10 5-8 5-6 10-10 8-6 7-4 10-5 4-1zM900 5172l11-1 15-1 15 0 15 0 15 1 10 1 10 1 10 2 10 2 10 2 10 3 10 3 10 4 10 4 7 4 8 5 7 5 8 9 5 9 2 12-3 10-7 10-7 7-10 7-10 6-10 4-10 4-10 3-10 3-10 2-10 2-10 1-10 2-10 1-15 1-15 0-15 0-15-1-15-2-10-1-10-2-10-2-10-2-10-3-10-3-10-4-10-5-10-6-9-7-6-6-5-7-4-12 1-10 5-10 8-9 8-6 7-5 10-5 10-4 10-4 10-3 10-2 10-3 10-2 10-1 9-1zM1015 4752l11-2 10 3 8 9 4 10 2 10 0 15-1 10-2 10-3 10-2 10-4 10-3 10-4 9-5 11-4 10-5 10-6 10-5 8-5 7-5 7-7 8-8 7-10 7-10 4-15-2-5-6-4-10-2-10-1-15 1-15 1-10 2-10 2-10 3-10 3-10 3-10 4-10 5-10 5-10 6-10 6-10 6-8 6-7 9-8 9-7 10-5zM763 5017l8-3 10 2 0 11-5 6-10 9-10 3-9-8 4-10 10-9 2-1zM885 5182l11-2 10-1 15-1 15-1 15 1 15 0 15 2 10 1 10 2 10 2 10 3 10 3 10 4 10 5 10 6 7 6 8 10 4 10-3 15-6 8-8 7-7 5-9 5-11 5-10 3-10 3-10 3-10 2-10 1-10 2-15 1-15 0-15 0-15 0-15-2-10-1-10-2-10-2-10-3-10-3-10-3-8-4-9-5-7-5-10-10-6-10 0-12 5-11 6-7 9-7 10-6 10-5 10-3 10-4 10-2 10-2 4-1zM1016 4767l10 1 9 9 3 10 1 15-1 15-3 10-2 10-4 10-3 9-5 11-4 10-5 10-6 10-5 7-5 7-5 6-10 9-10 5-15-2-5-6-4-11-1-10 0-14 1-11 2-10 3-10 3-10 3-10 4-10 4-8 5-9 5-8 5-8 5-6 5-6 10-8 10-6 5-1zM895 5187l11-2 15-1 15 0 15 0 15 1 10 1 10 1 10 2 10 2 10 3 10 4 10 4 9 5 7 5 9 10 4 10-3 15-6 7-10 8-8 5-11 5-11 4-10 3-10 2-10 2-10 1-10 1-15 1-15 0-15 0-15-1-10-2-10-2-10-2-10-3-10-3-10-4-10-5-9-7-6-6-5-9 0-13 5-10 7-7 7-5 9-5 12-5 10-3 10-3 10-2 9-2zM1003 4787l8-3 10 2 5 6 2 10 0 15-2 10-2 10-3 9-4 11-5 10-5 10-6 9-5 7-8 9-7 5-10 3-10-7-3-11-1-15 2-10 2-10 2-10 4-10 4-9 5-10 5-8 5-7 10-11 7-5zM900 5192l11-1 15-2 15 0 15 0 15 2 10 1 10 2 10 2 10 3 10 4 8 4 7 4 7 6 7 10 2 10-4 10-7 8-10 7-10 5-10 4-10 3-10 2-10 2-10 1-15 2-15 0-15 0-15-1-10-2-10-1-10-3-10-3-10-3-10-5-10-6-9-10-4-10 2-10 6-9 7-6 8-5 10-5 10-3 10-3 10-2 9-2zM999 4807l12-2 4 7 1 13-3 12-3 10-4 10-5 9-5 7-9 9-11 2-5-7 0-15 2-10 2-10 5-10 5-10 6-8 8-7zM902 5197l14-2 15-1 15 0 15 1 10 1 10 2 10 2 10 2 10 4 10 5 9 6 6 7 4 8-1 10-8 10-6 5-9 5-10 4-10 3-10 3-10 2-10 1-15 1-15 0-15 0-10-1-10-2-10-2-10-3-10-3-10-5-10-6-7-7-4-10 2-10 8-10 7-5 9-5 10-4 10-3 10-2 6-1zM903 5202l13-2 15-1 15 0 15 1 10 1 10 2 10 2 10 4 10 4 10 7 5 7 3 10-5 10-8 7-10 5-10 4-10 3-10 2-10 2-10 1-15 1-15-1-15-1-10-2-10-2-10-4-10-4-10-6-8-10-1-10 4-8 7-7 8-5 10-4 10-3 10-3 2 0zM904 5207l12-2 10-1 15-1 15 1 10 1 10 2 10 3 10 3 8 4 7 5 5 7 0 12-5 7-10 7-10 4-9 3-11 2-10 2-15 1-15 0-15-2-10-1-10-3-10-3-10-5-8-6-5-10 2-10 6-6 10-6 10-4 10-3 3-1zM906 5212l10-2 10-1 15-1 15 1 10 1 10 2 10 4 10 5 7 6 3 10-5 8-9 7-11 4-10 3-10 2-10 1-15 0-15-1-10-2-10-2-10-4-10-6-7-10 3-10 9-7 10-5 10-3zM910 5217l11-2 10-1 15-1 15 2 9 2 11 4 9 6 3 10-7 9-10 5-10 3-10 2-15 1-15-1-10-1-10-3-10-4-7-6-2-10 9-9 10-5 4-1zM918 5222l13-2 15-1 10 2 10 2 8 4 5 10-8 8-10 4-10 2-15 0-10-1-10-2-10-5-4-11 9-7 7-3zM926 5227l10-2 15 1 10 4-3 12-12 3-15-1-9-2-6-6 5-7 5-2z" stroke="#111" stroke-width="6" fill="none" stroke-linejoin="round"/>
<polygon points="68.7,521 92,508.5 106,508.5 120,518.5 117,537.6 71,536.6" fill="none" stroke="#222" stroke-width="0.7"/>
<text x="113.20" y="453.30" font-size="8" text-anchor="middle" textLength="73.6" lengthAdjust="spacingAndGlyphs" fill="#222" >CD45, LY6G- subset</text>
<text x="115.40" y="463.00" font-size="8" text-anchor="middle" fill="#222" >60.7%</text>
<path transform="scale(.1)" d="M2347 3484l17 0 15 1 15 4 10 5 10 8 8 12 4 15-2 14-5 14-7 12-7 10-9 10-11 10-11 9-10 7-10 8-9 6-11 10-9 10-6 10-5 10-5 11-5 10-7 14-6 10-7 9-8 11-7 10-6 10-6 15-6 15-4 15-5 15-4 15-2 15 0 15 0 15 1 15 1 15-1 15-1 15-3 15-4 15-5 14-5 11-6 10-7 10-10 10-12 9-15 5-15 1-15-5-10-6-9-9-8-10-5-10-7-15-4-15-3-15-2-15 0-15 0-15 2-15 3-15 5-15 6-15 6-10 6-9 9-11 11-10 10-7 10-6 10-10 6-12 4-15 2-15-1-15-5-15-11-8-15-7-11-5-14-8-9-7-9-10-7-10-6-10-4-12-3-13-1-15 1-15 4-15 7-15 7-10 9-10 11-9 10-6 12-5 13-4 15-1 15 0 15 2 15 3 15 0 15-3 15-6 13-6 11-5 11-4 15-5 15-4 15-2 3 0z" fill="none" stroke="#000" stroke-width="90" stroke-linejoin="round" opacity="0.090"/>
<path transform="scale(.1)" d="M2347 3484l17 0 15 1 15 4 10 5 10 8 8 12 4 15-2 14-5 14-7 12-7 10-9 10-11 10-11 9-10 7-10 8-9 6-11 10-9 10-6 10-5 10-5 11-5 10-7 14-6 10-7 9-8 11-7 10-6 10-6 15-6 15-4 15-5 15-4 15-2 15 0 15 0 15 1 15 1 15-1 15-1 15-3 15-4 15-5 14-5 11-6 10-7 10-10 10-12 9-15 5-15 1-15-5-10-6-9-9-8-10-5-10-7-15-4-15-3-15-2-15 0-15 0-15 2-15 3-15 5-15 6-15 6-10 6-9 9-11 11-10 10-7 10-6 10-10 6-12 4-15 2-15-1-15-5-15-11-8-15-7-11-5-14-8-9-7-9-10-7-10-6-10-4-12-3-13-1-15 1-15 4-15 7-15 7-10 9-10 11-9 10-6 12-5 13-4 15-1 15 0 15 2 15 3 15 0 15-3 15-6 13-6 11-5 11-4 15-5 15-4 15-2 3 0z" fill="none" stroke="#000" stroke-width="65" stroke-linejoin="round" opacity="0.090"/>
<path transform="scale(.1)" d="M2347 3484l17 0 15 1 15 4 10 5 10 8 8 12 4 15-2 14-5 14-7 12-7 10-9 10-11 10-11 9-10 7-10 8-9 6-11 10-9 10-6 10-5 10-5 11-5 10-7 14-6 10-7 9-8 11-7 10-6 10-6 15-6 15-4 15-5 15-4 15-2 15 0 15 0 15 1 15 1 15-1 15-1 15-3 15-4 15-5 14-5 11-6 10-7 10-10 10-12 9-15 5-15 1-15-5-10-6-9-9-8-10-5-10-7-15-4-15-3-15-2-15 0-15 0-15 2-15 3-15 5-15 6-15 6-10 6-9 9-11 11-10 10-7 10-6 10-10 6-12 4-15 2-15-1-15-5-15-11-8-15-7-11-5-14-8-9-7-9-10-7-10-6-10-4-12-3-13-1-15 1-15 4-15 7-15 7-10 9-10 11-9 10-6 12-5 13-4 15-1 15 0 15 2 15 3 15 0 15-3 15-6 13-6 11-5 11-4 15-5 15-4 15-2 3 0z" fill="none" stroke="#000" stroke-width="41" stroke-linejoin="round" opacity="0.090"/>
<path transform="scale(.1)" d="M2347 3484l17 0 15 1 15 4 10 5 10 8 8 12 4 15-2 14-5 14-7 12-7 10-9 10-11 10-11 9-10 7-10 8-9 6-11 10-9 10-6 10-5 10-5 11-5 10-7 14-6 10-7 9-8 11-7 10-6 10-6 15-6 15-4 15-5 15-4 15-2 15 0 15 0 15 1 15 1 15-1 15-1 15-3 15-4 15-5 14-5 11-6 10-7 10-10 10-12 9-15 5-15 1-15-5-10-6-9-9-8-10-5-10-7-15-4-15-3-15-2-15 0-15 0-15 2-15 3-15 5-15 6-15 6-10 6-9 9-11 11-10 10-7 10-6 10-10 6-12 4-15 2-15-1-15-5-15-11-8-15-7-11-5-14-8-9-7-9-10-7-10-6-10-4-12-3-13-1-15 1-15 4-15 7-15 7-10 9-10 11-9 10-6 12-5 13-4 15-1 15 0 15 2 15 3 15 0 15-3 15-6 13-6 11-5 11-4 15-5 15-4 15-2 3 0z" fill="none" stroke="#000" stroke-width="20" stroke-linejoin="round" opacity="0.090"/>
<path transform="scale(.1)" d="M2347 3484l17 0 15 1 15 4 10 5 10 8 8 12 4 15-2 14-5 14-7 12-7 10-9 10-11 10-11 9-10 7-10 8-9 6-11 10-9 10-6 10-5 10-5 11-5 10-7 14-6 10-7 9-8 11-7 10-6 10-6 15-6 15-4 15-5 15-4 15-2 15 0 15 0 15 1 15 1 15-1 15-1 15-3 15-4 15-5 14-5 11-6 10-7 10-10 10-12 9-15 5-15 1-15-5-10-6-9-9-8-10-5-10-7-15-4-15-3-15-2-15 0-15 0-15 2-15 3-15 5-15 6-15 6-10 6-9 9-11 11-10 10-7 10-6 10-10 6-12 4-15 2-15-1-15-5-15-11-8-15-7-11-5-14-8-9-7-9-10-7-10-6-10-4-12-3-13-1-15 1-15 4-15 7-15 7-10 9-10 11-9 10-6 12-5 13-4 15-1 15 0 15 2 15 3 15 0 15-3 15-6 13-6 11-5 11-4 15-5 15-4 15-2 3 0z" fill="#fff" stroke="none"/>
<path transform="scale(.1)" d="M1949 3721l12 338 34-579-12 80 16 108-20 139 22 279 3-41 15-99-1-8 0-173-4-47 6-21 0-3-9-9-11-87 9-3 13 0-11-18 2-5 13-175 4 70 13 53 4 21-1 26-19 17-1 21 9 6 9 20-18 4 18 1-16 1 20 13-15 33-8 9 7 8 11 6 4 11-12 36 3 103 5 46-2 30 2 14 1 38-11 21 8 5-9 3 41 32-3-6-7-16 10-46-16-3 15-11 1-19 0-2-23-6 24-12-14-9 11-7-3-1-3-3 1-1 3-3-2-14 2-3 0-7 5-4-5-2-2-15-6-13-7-8-3-12 21-17-16-1 7-5-13-11 22-16-18-5 16-18-3-1 5-39 2-2-1-15-8-2 6-8-8-8 8-8-12-14-2-4 5-3-6-3 18 0-4-6-13-2 17-3-17-3 3-2 2-3 11-4-4-5-6-2 6-2 2-2-3-2 2-2-9-3 8-3-11-1 0-4 0-2 16-4-2-3 0-1-16-9 14 0-16-15 5 0 8-6-5-4 2-7 10 0-17-2-4-3 16-13 2 0 2-11-4-14 5-5-10-1 7-4-9-28 10 0 20-19-6 36 6 15-5 7 1 20 5 1-6 2-3 4 12 1-1 3 1 5-10 8 5 4-9 2-7 1 1 0 22 3-10 2-7 1 15 2-2 5-2 3-14 6 8 0 1 1 1 3-7 1-3 2 3 2 6 1-7 3-4 2 1 0 5 1 1 3-3 4 5 4-7 9 5 2-7 4 8 1 1 3-10 5 11 0-11 1 7 0 0 1 5 0-1 6-5 6-4 2 10 1 3 4-9 3 4 1 3 4-7 1 12 6-14 3 15 0 1 0-5 1 7 9-14 2 10 0 2 1 4 1-11 3 10 2-12 1 3 0-2 1-1 1 7 0-4 1-2 8-11 1 1 17 4 1 16 7-1 19-10 14 12 11-17 6 1 12 17 1-4 1-20 8 21 20-13 15 8 3-14 2 16 0-10 1 4 1 4 4 8 3-2 1 1 5-6 3-7 8-2 1 8 0-7 2 2 0-4 1-6 2 3 5 1 1 16 2-4 1-6 7 9 1-1 1-7 2 4 0 3 3-1 1-11 1 6 0 0 3-5 14-8 1 6 4-5 1 2 4 11 4-3 7 0 1 5 0-16 4 13 1-9 6 3 1 6 0-6 3 3 1-4 1 6 3-7 2 11 0-16 1 13 0 3 4-2 1-10 5 14 0-17 1 18 2-5 3 8 3-4 2-5 1 7 0-4 2 0 1 1 7-2 3 1 5 1 2-6 1-4 11 15 5-1 2 3 3-4 1-13 1 2 1 2 17 11 2-9 26 6 4 15 4 6-1 1-4-1-13-8-10 11-1-10-2 16 0-9-2-2-4-1-2-4-2 11 0-14-3 10 0-9-1 12 0 6-2-4-1-6-3 5 0 2-1-11-1 11 0-9-6-2-3-8-4 0-8-1-1 4 0-3-4-2-8 0-128 1-5 2-2-3-1 5-1-2-4 3 0 2-4-4-1 4 0-6-7 13-4-5-2 4 0-8-2 16-4-14-4 16 0-11-1-12-5 5-1 2 0-2-6 2-2 6-2 4-4-18-2 8-2 12-1-12-1 15-4-7-1 6-5-9-6 11 0-11-1 4-2 6-3-9-8-12-5 17-3 5-5-23-1 10-17 10-9-6-1 7 0 1-4-15-6-3-2 15-4-14-1 3 0-7-2 18-6 1-1-2-1-13-1-4-3 11-4 1-1-14-3 9-7-4-1-5-5 0-1 4-1 0-1-3-2 0-2 6-113-2-3-1-1 5 0-9-5 8-3 10-1 2 0-3-1-7-3-8-2 21-1-22-2 19-1-10-1 5 0 2 0 7 0-13-1 8-1-12-4-7-2 20 0-8-1 9-1 2-2-18-5-3-3 8-4 5-2 3-22-2-17 30-47-2 32-9 3-10 15 24 1-17 5 15 26-5 7-10 4 14 3-7 2 5 1 2 0 2 2-3 2-19 1 8 0 3 4 1 0 5 0-4 2-8 4 3 168 10 1-1 2-11 1 4 1-1 1 2 1 3 0 6 1-11 1 6 1-9 3-6 1 2 4 9 7-1 16-7 4 3 0 17 1-10 5-2 2-9 4 16 0-18 1 13 0 3 3-4 5 2 1 0 2-4 1 10 6 3 0-9 3 6 0 2 3-17 2-6 1 1 1 3 3 10 0 2 0-12 1 6 1 0 4 8 2 3 0 1 0-6 2 8 1-20 4 7 1-2 2 2 0-10 1 0 1 9 1-9 1 6 6-3 217-4 1 2 2 12 1 1 2-7 2 1 2 13 3-21 1 6 0 14 2-13 1 4 0 2 0 0 2 4 1-2 1-15 2 2 0 5 1 4 4-12 1 23 6-10 17 1 0 9 0-11 3 1 2-9 6 23 31 20-7-19-34 5-5-7-6 0-1 11-9 5-3-16-2 4 0 0-5 10-2 0-4-14-3 10-1 8 0-8-1 3 0-12-246 7 0-4-2 2-1-6-1 11-1-9-1 3-2 12 0-16-5 19-4 0-1-1-3-10-2 9-2-1-2-1-1-15-2 6-1-4-1 17 0-14-1 4 0 13-1 0-4-10-2-12-2 22-1-7-1 4-2-14-2 13-1 4 0-13-4 0-4 6-3 5-2-22-1 12-2-6-4 14 0-17-2 17 0-3-2 4-1-9-3 1-1 3 0 5-1-11-2 3 0 11-1-5-1-7-3-3-1-6-1 3 0 4-187-6-1-3-1 15-1 6 0-12-6-10-2 5 0 16-5-21-2 11-3 9 0 3 0-1-4-9-2 3-6-5-4 7-2-7-9-1-36 0-5 22-176 12 171-6 9-3 1 2 38-5 2 9 5-3 9-5 2 2 5-5 6-1 2 19 2-18 1 7 0 9 0 1 0-13 3 3 3-8 2-1 1 13 2 5 1-21 197 2 2 3 7 0 12 0 9-4 1-1 2 0 12 1 2-1 5 0 2 0 1 24 251-7 6 6 1-1 7 0 1 2 0-18 1 10 4-10 4 14 7 4 5-24 5 9 4 0 7-1 2 15 9-8 4 5 11-17 9-1 3 20 16 14-37-3-26 16-4-1-8-21-8 11-3-11-2 4-11-4-1 14-1-16-1 4-3 12-3 0-1 8 0-11-2 4-4 1-2-4-1-1-1 2-4 1 0 1-5 4-7 2-5-7-468-3-5-4-1 0-3 7-1 3-1 5 0-11-2-12-2 23 0-19-3 1-5 9-5-12-13 1 0 12-2-14-8 14-6-14-2 4-6 13-46 11-14 4 86 3 0 12 4-2 4-1 2 3 1-18 5 14 0-18 3 20 0-18 1 16 3 2 1-12 3 3 0 4 0 2 2-10 1 13 1 2 0-3 2-5 2-15 3 16 0 6 0 1 0-17 3 6 1 9 289 0 1 0 5-4 7-1 1 5 1-5 1 6 0-1 5-9 2 0 1 2 2-3 1 12 7-4 4-10 9 2 0 1 9 5 7 0 1-3 6 8 0-10 2 5 0 0 2 5 10-10 7 9 1 2 7-3 9 3 1-2 1-3 11-7 6 3 2 3 4 0 8-2 1-9 5 2 0-1 5-2 3 9 4-7 6 3 0-7 2 7 3-11 6 24 2-9 3 8 0-10 1-9 1-3 3 11 6-9 3 5 0 12 4-20 19 0 3 17 35-14 18 0 8 14 2 13-67 12-22 3-24-4-1-15-7 11-7 5-3-9-1 2-3-8-2 0-7 21-9 0-1-17-1 9-4-12-11 18 0-7-7 0-1-5-1-7-4 8-9-7-10 1-15 1-12 15-2-9-3-6-2 14-10-15-3 1-7 5-4 9-2-9-2 1-2-8-5 0-2 11 0-7-1 0-1 1 0 12-1-15-7 9-9 6-2-9-2-4-3-4-2 5-3-5-3 3 0 2 0-1-2 8-10-5-7 2-2 6-2 2-5 4-6-24-236 0-3 17-6-4-4-1-4 8-1 1-6-14-1 4-2 13-4-6-8 5-1-4-3-5-1 9-45-22-28 48-9 0 12-7 1-8 23-5 1 5 8 6 14 7 3-8 1 3 0-13 15 4 1-4 19 11 3-13 9 3 1-1 2 19 200-4 6-3 9 6 2-13 6-4 5 0 3 5 0-2 1 5 0-8 5-5 2 8 1 3 3 8 10-10 1 1 0 0 3 10 2 2 0-22 1 22 1-14 3-3 1 12 0 6 5-8 1 7 0-20 2 16 2-8 5-1 2-6 16 5 8 9 2-4 1-9 1 12 9-1 7-6 5 0 36 8 17-11 4 5 0 1 25 6 5-13 31 19 75 8-55 4-141 8 0-17-8 12-20-11-18 11-24 2-6 6-2-2-10-9-2-6-7-3-6 14-8-10-1 10 0-7-2-9-1 14 0 8-2-16-9 3-1-7-1 14-2-10-12 14 0-14-1 16-1-6-2 6-1 2 0-1-2-8-1 3-3 0-11-2-1-14-173 3-6 1-1 1-2 14-4 3 0-13-6 0-1-6-2-1-14 7-9-7-8 7-16 15-9 18 17-19 8 14 0 1 8 4 0 3 3-10 12 5 4-11 1 7 3-2 1 6 3 1 0-15 1 14 2-1 3-11 2 6 2 8 147 1 3 2 3-4 3-7 2 5 5-13 1 16 0 0 2-17 3 2 1 19 0-23 8 2 0 8 8-10 3 16 3 5 0-19 6 14 1-1 3-8 7 9 11-9 16-5 9 2 2 7 2 9 0-5 1-13 11 0 14 6 7 12 2-2 12-12 4-1 2-1 15 19 1-7 42-16 103 37 0 11-49-3-137-8-11 8-7-4-10-14-16 21-2-6-3-6-5-11-2 3-5-1-2 12 0-3-10-1-2 8-6 4-4-9-2-6-5-2-3 2-3 1-1-6-2 1-1 4-3-5-6 7-3 4 0 3 0-12-4 6 0-5-2 12-3-17-3 10 0-9-1 5-1-2-1 4-2-8-4 11-1 4 0 7-1-6-1 4-143-18-1 18 0-10-1 13-3-9-2-13-1 14-2 9-1-1-1-4-14-3-4-15-4 1-19 9-14-9-22 21-118 9-102 6 240 0 16-9 3 12 3-13 7 1 0 10 15-3 4-5 3 5 1-8 1 13 0 7 2-23 7 8 2 4 1 0 5-11 2 8 0 14 1-10 1 2 113-2 1-4 3 9 4-16 7 13 3-13 6 9 1-11 2 4 1 1 0 8 2-1 5-1 3-1 5-3 3 0 1 3 3 12 0-1 7-21 1 5 0-4 2 9 10 0 6-4 3 10 4-8 10-4 21 1 6 17 10-10 14-4 29-4 40-4 10 4 25 11 86 16-38 0-20 8-71 1-41 8-4-1-24-19-8 16-6 1-12-8-2-4-31-1-10-1-2 4-5-9-8 12-1-5-2 12-2-2-2-16-6 13-4 4-3-16-12 10-4-11-1 20 0-8-4 6-1 3-3-14-1-3-4 16-1 2-4-23-5 11-3-8-3 3-2 3-1 3-3 7-15 1-9 3-36-1-10 1-4-14-7 11-1 1-7-6-1-9-3 10 0-9-4 14-2 2 0-15-1-5-2-2-3 18-3-20-6 24 0 0-3-17-2 12-6-19-1 0-19 15-5-12-23 16-52 21 53-11 25 13 3-10 8 2 1 0 13 12 3-15 11 12 5 5 10-11 3 0 6-4 1 5 0 6 0-9 8-9 3 6 0 9 1 7 0-22 1 1 1 2 0 3 4-4 9 12 0-11 1 13 1 7 2-13 5 13 2-18 2 4 0-4 1 15 0-11 1-3 4-5 1 7 4-8 1 20 0-19 2 18 5-5 3-11 9 19 0-17 1 2 3 13 2-19 5-1 6 21 2-22 7 10 2 14 5-16 3-8 1 17 1 5 6-15 6 12 0-2 19 0 3-7 11 14 8-10 12-4 2 6 0-14 3 8 15 8 10 6 6 0 32-11 15 10 120-13 8 23-124 7-1-15-14 8-15 8-18-12-10-1-24 20-9-16-16 3-9 4-4-11-7-2-16 7-14 5-8 11-4-1-3-6-1-1-1-11-9 15 0 4-1-24-8 7-11 8 0 6-1-21-3 17-2 1-5-8-2-1-6 13-1-3-10-11-3 3-3 1-9-4-6 10 0-9-1 12 0-4-6-2-11 5-1-18-1 5-18 9-2-15-28 12-3 7-3-16-49 22-24 6 71-5 16 18 9-14 4 12 16-9 3-8 10 12 10-1 11-5 1-3 7 11 0-13 11-1 3 2 23 20 2-18 16 8 8 3 7-11 2-3 5 15 10 4 8-3 8 0 13-10 7-5 1 18 2 2 4-21 24 2 12-1 1 11 6-5 8 5 16 10 75-13 29 8 45-6 63 12-139 10-54 0-38 11-13 0-58-8-57 7-18-18-6 4-9 12-10-4-14 9-8 1 0-2-25-15-5-5-2 3-10 2-2 1-9-8-12 15-116 13 158 17 23-15 10-2 51-2 27 17 41-3 18-9 19 14 4-17 5 15 61-7 39 13 60 8-153 1 0-5-137 5-28 12-33-8-34 6-4 19-27-10 34-1 15 1 160 25 158 15-100 21-226-13 8 4 263 35-288 16-55 45 332 84-383" fill="none" stroke="none" marker-start="url(#d0)" marker-mid="url(#d0)" marker-end="url(#d0)"/>
<path transform="scale(.1)" d="M2161 3534l18-2 15 2 15 5 13 5 11 5 16 5 15-1 15-7 10-5 15-7 15-4 15-1 15 4 10 10 0 15-5 11-9 10-11 10-10 7-10 7-10 8-8 8-7 9-6 11-6 15-5 15-6 15-6 10-8 10-8 10-10 10-12-5-4-15-5-10-9-7-15-4-15-3-15-3-15-6-10-6-10-8-10-13-5-10-5-15-1-15 2-15 4-13 7-12 8-10 10-9 10-5 15-6 2 0zM2178 3814l16-2 10 6 5 11 4 15 4 15 2 15 3 15 0 15 0 15-2 15-3 15-5 15-7 15-7 10-9 9-10 7-12 4-18-1-10-6-9-8-8-10-5-10-6-15-3-15-2-15 0-15 1-15 3-15 4-13 5-12 6-10 7-10 10-10 12-8 15-5 9-2z" fill="#000" opacity="0.1"/>
<path transform="scale(.1)" d="M2158 3554l16-3 15 2 15 6 10 6 9 9 6 9 4 11 2 15-3 15-8 15-10 10-10 6-15 4-15 1-15-3-15-7-10-10-7-11-5-15 0-15 3-15 6-10 8-9 10-7 9-4zM2164 3844l15 1 10 7 8 12 6 15 3 15 1 15-1 15-2 13-4 12-6 13-9 12-11 8-15 3-14-6-10-10-6-10-5-15-3-15 0-15 2-15 4-15 6-15 7-10 9-8 10-6 5-1z" fill="#000" opacity="0.18"/>
<path transform="scale(.1)" d="M2164 3569l15-1 15 5 10 8 8 13 1 15-4 14-9 11-11 7-15 2-15-3-10-7-7-9-5-15 2-15 5-11 9-9 11-5zM2157 3869l17-1 10 9 6 12 3 15 0 15-3 15-6 14-10 11-15 4-10-5-7-9-6-15-1-15 1-15 3-12 5-10 10-11 3-2z" fill="#000" opacity="0.2"/>
<path transform="scale(.1)" d="M2165 3589l14-2 10 6 4 16-6 10-12 5-13-5-6-10 3-15 6-5zM2162 3894l12 5 3 15-3 14-10 8-10-6-3-16 3-12 8-8z" fill="#fff" opacity="0.8"/>
<path transform="scale(.1)" d="M2347 3484l12-1 12 1 13 2 10 3 10 5 7 5 8 9 5 10 2 11-2 14-4 11-5 10-6 10-5 6-8 9-7 6-10 9-6 5-7 5-7 5-7 5-7 5-6 5-10 10-5 7-5 8-5 10-5 10-4 10-5 10-6 10-5 7-5 7-5 7-5 7-5 7-5 9-5 10-4 11-4 10-3 10-3 10-3 10-3 10-2 10-1 10 0 15 0 15 1 15 1 15-1 15-1 15-2 10-2 10-3 10-3 10-4 10-6 10-6 10-6 7-8 8-6 5-8 5-13 4-13 1-12-3-10-5-9-7-6-6-5-7-5-7-5-10-4-10-3-10-2-10-2-10-2-10 0-15 0-15 2-15 1-10 2-10 4-10 3-10 4-10 6-10 6-9 5-6 9-10 6-5 8-5 7-5 7-5 8-8 5-9 4-13 2-10 1-15-2-15-4-10-11-8-10-4-10-5-10-5-10-6-9-7-6-6-7-9-6-10-5-10-3-10-2-10-1-15 1-15 3-10 3-10 5-10 7-10 5-6 10-9 6-5 9-5 10-4 10-4 10-1 15-1 15 1 10 1 10 2 10 1 15 0 10-3 10-4 10-4 8-4 11-5 11-4 10-4 9-2 11-3 10-1 8-1zM2323 3514l11-1 15 0 10 1 10 4 8 6 6 10 2 10-2 10-4 9-5 8-5 6-7 7-8 7-9 8-7 5-7 5-7 5-6 5-9 9-5 7-5 8-5 11-4 10-4 10-4 10-5 10-7 10-6 9-5 7-5 7-5 8-4 9-5 10-3 10-3 9-4 11-3 10-3 9-3 11-1 10 0 15 1 10 2 10 1 10 1 10 1 10 1 15 0 15-2 15-2 10-2 10-4 10-3 8-5 10-5 8-5 7-7 7-7 5-9 5-12 3-15-2-10-4-9-7-6-7-5-7-5-9-5-12-3-10-2-10-2-10-1-15 0-15 2-10 1-10 2-10 4-10 3-10 5-10 6-9 5-7 9-9 7-5 8-5 11-5 10-5 9-5 6-6 5-9 2-10 2-10 2-10 2-10 1-10 0-15-1-10-5-10-8-6-9-4-11-3-10-3-10-3-10-5-9-6-6-5-10-10-5-8-4-7-4-10-2-9-1-11 0-15 2-10 4-10 5-10 5-7 7-8 8-7 10-6 10-5 10-2 10-2 15 0 10 1 10 3 10 3 10 3 10 3 10 1 15-2 10-4 10-5 10-5 10-4 10-4 10-2 4-1zM2156 3539l13-3 15 0 10 2 10 3 10 4 8 4 9 5 8 4 10 5 10 3 13-2 10-5 9-5 8-4 10-3 10-2 10 1 9 8-1 10-7 10-6 6-10 7-10 7-7 5-7 5-6 6-5 6-5 8-4 10-3 10-3 8-4 12-5 10-6 9-10 6-10-2-10-5-10-2-10-2-15-1-10-1-10-2-10-2-10-5-10-6-8-7-7-9-5-9-5-12-2-10 0-15 2-10 3-10 5-10 7-10 10-9 9-6 11-5 2 0zM2160 3824l9-3 10-1 10 1 10 7 5 7 4 9 3 10 3 10 2 10 2 10 1 10 0 15 0 11-2 14-2 10-3 10-3 9-5 10-5 8-5 7-6 6-7 5-12 5-15 0-10-4-9-6-6-7-5-7-5-9-5-12-2-10-2-10-1-12 0-13 1-15 2-10 3-10 3-10 5-10 6-10 5-7 8-8 7-5 10-5 1 0zM2173 3544l11 0 10 3 10 3 8 4 7 5 7 5 8 8 5 6 5 8 3 8 2 10-2 15-3 10-4 10-6 8-7 7-7 5-11 5-10 2-10 2-15 0-10-2-10-3-8-4-7-4-7-6-8-10-5-10-3-10-2-10 1-15 3-10 5-10 6-9 6-6 7-5 7-4 10-4 10-2 4 0zM2164 3834l15 0 10 4 6 6 6 10 5 10 3 10 2 10 1 10 1 15-1 15-1 10-3 10-3 10-4 10-6 10-6 7-10 8-10 4-12 1-13-5-6-5-9-10-5-10-4-10-2-10-2-10-1-15 1-15 2-10 2-10 4-10 4-10 6-9 5-6 10-9 10-5 5-1zM2155 3554l9-3 10-1 15 2 10 3 10 6 10 8 9 10 5 10 3 10 0 15-3 10-4 9-5 8-9 8-8 5-8 4-10 2-15 1-10-2-10-3-10-6-8-6-7-9-5-11-3-10 0-15 2-10 4-10 7-10 10-9 10-5 1-1zM2160 3844l14-1 10 4 8 7 6 10 4 10 3 10 2 10 1 15-1 15-2 10-2 10-4 10-5 10-5 7-9 8-9 5-12 2-10-3-10-8-5-6-5-9-4-11-3-10-1-10 0-15 1-15 2-10 4-10 4-10 7-10 10-10 10-5 1 0zM2158 3559l11-3 15 1 10 3 9 4 7 5 9 10 5 9 3 11 0 15-3 10-5 10-5 6-10 8-10 4-10 2-15 0-10-2-10-5-10-8-5-7-4-8-3-10-1-15 3-10 4-10 6-7 9-8 10-5zM2155 3854l9-3 15 2 8 6 7 10 4 10 3 10 2 10 0 15-1 15-3 10-3 10-6 10-6 9-8 6-12 4-10-1-10-6-6-7-6-10-3-8-3-12-1-10 0-15 2-10 2-10 4-10 6-10 5-7 10-8 1 0zM2159 3564l10-2 15 0 10 3 10 7 7 7 7 10 2 10 0 15-3 10-7 10-6 6-10 6-10 3-14 0-11-3-10-5-7-7-7-10-3-10 0-15 2-10 5-9 5-6 10-8 5-2zM2160 3859l14 0 8 5 7 8 5 10 3 12 2 10-1 15-1 10-2 10-5 10-6 10-10 9-10 3-10-1-9-6-6-8-5-10-3-12-1-10 0-15 1-10 3-9 5-11 5-8 7-7 8-5 1 0zM2160 3569l9-2 15 0 10 4 10 8 5 6 4 9 2 10-1 10-4 10-6 8-9 7-11 4-13 1-12-3-10-7-8-10-4-10-1-15 3-9 5-9 7-7 8-4 1-1zM2154 3869l10-4 10 1 10 8 5 9 4 11 1 10 0 15-1 10-3 10-5 10-6 8-10 6-11 1-9-5-8-10-4-10-3-10 0-15 1-10 2-10 4-10 7-10 6-5zM2161 3574l13-3 10 1 10 5 8 7 5 10 2 10-1 10-4 10-5 6-10 6-9 3-16-1-10-6-8-8-4-10-1-10 2-10 5-10 6-6 7-4zM2157 3874l12-2 10 5 5 7 4 10 2 10 0 15-2 10-3 10-6 10-10 8-15-1-7-7-6-10-2-10-1-15 1-10 3-10 5-10 7-8 3-2zM2162 3579l12-3 10 2 10 6 8 10 2 10-1 10-6 10-8 6-10 4-15-2-10-7-5-6-3-10 2-15 6-9 8-6zM2163 3879l11 2 7 8 3 8 2 12-1 15-3 10-6 10-6 5-11 1-9-6-5-10-3-10 0-15 3-10 4-9 5-6 9-5zM2164 3584l10-2 10 2 7 5 6 10-1 15-7 10-10 4-15-2-8-7-5-10 3-15 5-6 5-4zM2158 3889l11-2 8 7 4 10 0 15-2 9-5 9-10 6-10-4-5-8-2-12 1-15 5-10 5-5zM2169 3589l11 0 7 5 4 10-2 10-10 8-15-3-5-7-1-13 6-7 5-3zM2158 3899l11-2 5 7 2 10-2 10-5 8-13-3-3-10 1-13 4-7zM2166 3599l8-4 9 4 1 10-10 7-10-7 2-10zM2163 3909l4 10-7-5 3-5z" stroke="#111" stroke-width="6" fill="none" stroke-linejoin="round"/>
<rect x="203.30" y="373.80" width="36.50" height="38.00" fill="none" stroke="#222" stroke-width="0.7"/>
<text x="259.60" y="390.70" font-size="8" text-anchor="middle" fill="#222" >not T B</text>
<text x="259.60" y="400.40" font-size="8" text-anchor="middle" fill="#222" >32.4%</text>
<path transform="scale(.1)" d="M2331 4742l18-1 15 1 15 1 15 3 15 6 11 5 14 10 10 10 6 10 5 15 1 15-2 15-5 14-6 11-7 10-7 9-10 10-10 9-9 7-11 8-10 6-10 5-10 6-10 5-10 5-10 6-10 7-10 12-5 12-3 13-3 15-4 13-4 12-5 15-6 15-5 13-5 12-5 13-5 12-5 13-5 12-5 13-5 12-5 13-4 12-6 14-4 11-6 12-7 13-6 10-7 10-8 10-10 10-12 9-10 5-15 4-15 0-15-6-9-7-8-10-6-10-6-15-3-15-1-15 0-15 1-15 3-15 3-15 5-15 6-14 5-11 5-10 7-15 6-10 5-10 5-10 5-10 5-10 6-10 5-10 6-10 6-10 6-15-2-15-10-9-9-6-11-7-10-8-9-10-6-10-5-15 0-15 3-15 6-15 6-10 8-10 7-8 10-10 10-9 10-7 10-7 10-6 10-6 10-5 15-7 12-5 13-5 15-5 15-5 15-3 15-4 15-2 12-1z" fill="none" stroke="#000" stroke-width="90" stroke-linejoin="round" opacity="0.090"/>
<path transform="scale(.1)" d="M2331 4742l18-1 15 1 15 1 15 3 15 6 11 5 14 10 10 10 6 10 5 15 1 15-2 15-5 14-6 11-7 10-7 9-10 10-10 9-9 7-11 8-10 6-10 5-10 6-10 5-10 5-10 6-10 7-10 12-5 12-3 13-3 15-4 13-4 12-5 15-6 15-5 13-5 12-5 13-5 12-5 13-5 12-5 13-5 12-5 13-4 12-6 14-4 11-6 12-7 13-6 10-7 10-8 10-10 10-12 9-10 5-15 4-15 0-15-6-9-7-8-10-6-10-6-15-3-15-1-15 0-15 1-15 3-15 3-15 5-15 6-14 5-11 5-10 7-15 6-10 5-10 5-10 5-10 5-10 6-10 5-10 6-10 6-10 6-15-2-15-10-9-9-6-11-7-10-8-9-10-6-10-5-15 0-15 3-15 6-15 6-10 8-10 7-8 10-10 10-9 10-7 10-7 10-6 10-6 10-5 15-7 12-5 13-5 15-5 15-5 15-3 15-4 15-2 12-1z" fill="none" stroke="#000" stroke-width="65" stroke-linejoin="round" opacity="0.090"/>
<path transform="scale(.1)" d="M2331 4742l18-1 15 1 15 1 15 3 15 6 11 5 14 10 10 10 6 10 5 15 1 15-2 15-5 14-6 11-7 10-7 9-10 10-10 9-9 7-11 8-10 6-10 5-10 6-10 5-10 5-10 6-10 7-10 12-5 12-3 13-3 15-4 13-4 12-5 15-6 15-5 13-5 12-5 13-5 12-5 13-5 12-5 13-5 12-5 13-4 12-6 14-4 11-6 12-7 13-6 10-7 10-8 10-10 10-12 9-10 5-15 4-15 0-15-6-9-7-8-10-6-10-6-15-3-15-1-15 0-15 1-15 3-15 3-15 5-15 6-14 5-11 5-10 7-15 6-10 5-10 5-10 5-10 5-10 6-10 5-10 6-10 6-10 6-15-2-15-10-9-9-6-11-7-10-8-9-10-6-10-5-15 0-15 3-15 6-15 6-10 8-10 7-8 10-10 10-9 10-7 10-7 10-6 10-6 10-5 15-7 12-5 13-5 15-5 15-5 15-3 15-4 15-2 12-1z" fill="none" stroke="#000" stroke-width="41" stroke-linejoin="round" opacity="0.090"/>
<path transform="scale(.1)" d="M2331 4742l18-1 15 1 15 1 15 3 15 6 11 5 14 10 10 10 6 10 5 15 1 15-2 15-5 14-6 11-7 10-7 9-10 10-10 9-9 7-11 8-10 6-10 5-10 6-10 5-10 5-10 6-10 7-10 12-5 12-3 13-3 15-4 13-4 12-5 15-6 15-5 13-5 12-5 13-5 12-5 13-5 12-5 13-5 12-5 13-4 12-6 14-4 11-6 12-7 13-6 10-7 10-8 10-10 10-12 9-10 5-15 4-15 0-15-6-9-7-8-10-6-10-6-15-3-15-1-15 0-15 1-15 3-15 3-15 5-15 6-14 5-11 5-10 7-15 6-10 5-10 5-10 5-10 5-10 6-10 5-10 6-10 6-10 6-15-2-15-10-9-9-6-11-7-10-8-9-10-6-10-5-15 0-15 3-15 6-15 6-10 8-10 7-8 10-10 10-9 10-7 10-7 10-6 10-6 10-5 15-7 12-5 13-5 15-5 15-5 15-3 15-4 15-2 12-1z" fill="none" stroke="#000" stroke-width="20" stroke-linejoin="round" opacity="0.090"/>
<path transform="scale(.1)" d="M2331 4742l18-1 15 1 15 1 15 3 15 6 11 5 14 10 10 10 6 10 5 15 1 15-2 15-5 14-6 11-7 10-7 9-10 10-10 9-9 7-11 8-10 6-10 5-10 6-10 5-10 5-10 6-10 7-10 12-5 12-3 13-3 15-4 13-4 12-5 15-6 15-5 13-5 12-5 13-5 12-5 13-5 12-5 13-5 12-5 13-4 12-6 14-4 11-6 12-7 13-6 10-7 10-8 10-10 10-12 9-10 5-15 4-15 0-15-6-9-7-8-10-6-10-6-15-3-15-1-15 0-15 1-15 3-15 3-15 5-15 6-14 5-11 5-10 7-15 6-10 5-10 5-10 5-10 5-10 6-10 5-10 6-10 6-10 6-15-2-15-10-9-9-6-11-7-10-8-9-10-6-10-5-15 0-15 3-15 6-15 6-10 8-10 7-8 10-10 10-9 10-7 10-7 10-6 10-6 10-5 15-7 12-5 13-5 15-5 15-5 15-3 15-4 15-2 12-1z" fill="#fff" stroke="none"/>
<path transform="scale(.1)" d="M1948 4895l-11 6-2 2 9 81-17 346 31-72 16-233-17-71 10-51 7-10-17-65 35-44-13 38 16 82-2 24 0 4-13 149 5 76 9 96 22 102-2-42 5-41 5-13-17-158-1-3-3-41 13-41-1-53 3-17-6-3 3-14-5-2 13-26 1-2-10-12-11-5 14 0-1-8-7-10 5-21 1-1-4-21 2-6-8-134 25-12 9 53-11 49 21 12-8 12-3 6 6 29-9 11 5 11 9 5-19 4 13 6-11 6 1 2 6 20-13 2 8 10-5 1 7 0-10 7 16 6-11 1 0 10 15 2 3 6-14 3 1 2-6 7 17 7-5 10-9 10 13 32-8 1 1 8-6 29 9 15-17 15 2 1 0 11 21 26-8 2-7 4 3 26 12 25 1 11-21 20 14 5 7 4-15 11 8 5-13 9-3 35 13 23 4 24 4 2 0 18 1 21-15 45 20-41 6-33-2-23 9-2 1-2-15-7 22 0-18-9-5-3 11-10 3 0 9-5-13-7-3-2 11-3-3-4 6-1-6-4 4-7-2-8 4-2-7-4 2 0 2-4 3 0-7-5-11-6 12 0 4-1-14-4 16-1-4-4-15-2 14-7 7 0-22-4 10 0 11-2-11-1 10-9-6-2 7 0 1-2-9-2-7-7 7-1 3-1-2-21-14-4 9-6 0-1 1-2 11-1-9-1 2-2 2-4-17-1 8-16 14-1-4-1-13-2 5-10-7-2 13-1 3-2-12-53-5-4 9-11-11-8 5-3-4-17-2-15 0-2 23-7-3-1-16-3 19 0-12-1 8 0-15-12 18-2-20-1 14-1 1-5 0-1-6-9-3-1-1-3 10 0 7-6-22-6 10-4 11-1-1-1-14-9 13 0 2-2-22-3 22-3-9-3-11-2 20-7-11-4-4-1 6-2-14-1 5-9-1-19 18-11-3-4 4-2-6-4-17-5 7-1 8-19-15-4 23-9-23-3 21-8-6-3 8-37 22-71-17 45 14 33-3 2-6 8 2 36 9 5-9 18 13 1-11 1-3 4-4 8 15 1-3 12 6 2-13 3 10 1-11 7 14 0 1 5-13 1 2 2-3 6 12 0-18 1 19 6 1 1-8 1-3 1 2 0-10 1-3 1 6 0 9 0-2 1-15 2 2 0 8 7 4 1-14 3 12 4 8 5-15 6 0 2 10 1-14 3 21 0-8 1 9 1 0 1 1 0-16 2 6 0 10 2 0 5-20 1 1 4 13 0-14 1 11 4-10 10 12 4-16 3-1 2 23 8-16 3 16 1-16 1 10 8-12 5 18 0-23 2 11 2-9 4 4 0 1 5-5 5 9 2-8 6 9 7 10 21-15 4-6 8 22 9-7 2 3 1-1 6 6 4-9 4 0 1 7 0-2 3-5 4-12 2 19 4-20 3 6 0 7 1-10 2 15 5-20 1 18 3-4 6 9 6-7 1 4 0-1 1 2 2-17 1 11 6-4 3 0 2 1 1 3 2-4 8-11 6 8 1-3 5 2 5-7 2 1 1 2 3-3 17 0 10 0 25 5 31-1 11 6 0-5 4 3 6 7 0-3 3 5 0 0 7-14 1 19 2-18 1 16 0 4 0-4 1-6 4-9 1 8 0 10 0-2 2-14 1 2 3 2 2-11 2 8 0 6 5 9 0 1 8-4 14-10 12 14 77 2-40-1-12 7-9 11-7-11-15 7 0-10-2 7 0 2 0 5-5 1-2-6-8-3-1 5-7 3-2-4-1-13-1 15-5-13-2 10-6-8-1-4-178-1-1 0-9 4-10 9-11 1 0-2-3 1-1 3-4-12-1 8-4 5 0-14-1 20 0-14-2 15 0 0-5-21-4 18-4 3-7-5-1-16-2 8-7-11-6 8-4 9-14-2-8-3-2 12-1-16-7 5-6 8-2-1-1-2-4 3-3 2 0-21-3 6-5 15-3-8-1-10-3 17-3-22-1 16-2-7-1 9-2-9-1 8-1-4-1 4 0-4-2-3-3 1-1 10 0-10-1-10-1 1-1 15 0-6-1-3-1 6-2-2-3-9-1 6 0-8-5 7-6-1-2-6-9 0-3-1-15 1-4 2-6 5-16 2-2-8-1 2-1-2-1 10 0-6-1 7-5 1-2 2 0 3-2-18-1 3 0 6 0 9-1-13-2 5-2 1 0-10-1 15-1 5-1-9-1-10-7 1 0 15-4-7-4 3-10 5-1-1-5-9-2-3-3 16-14-12-3-9-14 3 0 13-18-15-38 27-44 3 24 4 18 1 58 5 11 1 3-3 2-4 3 9 1-1 2-6 6 6 0-8 1 7 4-14 2 8 0 0 1 3 2 8 0-3 9-15 2 7 1 1 0-7 3 6 1-9 121-3 2 2 4 1 0 3 0 6 0 2 1-1 2 7 2-6 1-9 1-2 1 7 1-4 1-5 4 8 0-10 1 0 2 14 0 7 0-18 5 13 0 8 1-15 4 5 0-8 2-3 2 12 1 8 4-10 1-12 1 0 1 5 2-5 1 9 2 2 0 8 2 0 1-20 1 20 3-20 1 20 6-11 5-2 2 2 5 4 1 4 3-14 2 1 0 12 1-15 2 6 8-3 5 3 1-3 8 4 241-3 1-2 2 1 1 2 0 6 2 10 2-6 2-15 2 16 3-12 14 9 12 7 6-16 1 10 0-11 1 12 12-13 4 15 24 23 6-6-64-8-31 5-3 12 0 3-1-3-3 2 0-5-3 4-4-20-272 4 0-2-2 4-6 1-2 1-1-6-1 1-1-1-3 9-4 1 0 2 0-5-1-4-6 6 0 1-1 3-1-10-1 8-1-10-2 13 0-13-1 9 0-6-3-4-1 3-3 1-3-3-2-3-5 1-149 2 0 0-1 14-6-13-1-3-1 12 0 3 0-5-2-10-2 10 0-1-3 3-6 4-1-14-6 3-1 4 0 5-2-7-11 11-2-13-2 17-8-1-21 1-12-21-3 5-32 22-27 4 14-3 56 5 7 9 4-18 1 1 7 16 5-5 4 2 3 1 12 3 6-12 1-1 5 1 3 11 476-5 4 9 1-2 1-2 3-14 2-1 1 13 0-13 2 11 0-13 2 11 1 8 0-4 2-11 5 4 0-5 2-1 3 21 0-4 1 1 0-14 4 3 1 1 1-4 1-4 3 10 0 1 0 3 0 6 1-14 3-8 5 16 6 8 39 11-15 5-56-12-3-1-5 1-1 20-7-13-5 8-7-18-6 1 0 2-1 1-3 1-6 5 0 1 0-8-1 2-3 14 0-11-1 9 0 0-5 4-2-8-7 3-5 6 0-2-5 3 0-1-2-1-5-20-426-2-7 7 0 10-3 7-2 0-6-6-1-18-4 23-1-17-8 12-6-11-1 2-2-4-3 10-33 1-4-16-5 11-63 28-75-13 141 2 21 1 25-4 1 23 0-15 3 13 1 3 2-19 1-4 2-1 2 2 1 19 3-14 2-7 5 3 1-1 2 22 366-1 4-1 9-3 7-4 4 0 1 3 1-3 4 4 2-1 1-8 6 9 0-11 5 2 4-3 3 7 0 4 0-14 5 4 0 8 2-9 2 5 0-7 1 1 1 7 0-3 2 7 0-11 2-2 3 1 0 13 5-10 4 6 1-6 1 5 4-8 1 13 5-9 28 4 3-4 11 8 7-16 1 7 72 29 22-4-42-7-74 2-34 17-19-5-4 7-1-19-10 8-10-8-8 4-3-7-1 10-5-10-17 13 0-9-1-4-3 3-1 21 0-16-2 3-2-7-4 4-2 14 0-13-1 10 0-13-1 3-1-4-1 12-2-2-4-5-2 2-1 3-9 1-1 3 0 5-3-7-4 5-16-11-322-8-6 20 0-15-1 6-2 0-1 6 0-10-3-5-4 11-1-11-1-3-2 19-2 3-4-20-1 5-1-8-1 8-2 4-4-13-7 5-6 11-6 5-2-11-5 23-52 13 22-16 3 13 31-16 4 20 1-9 5-12 15 2 0 17 1-8 4-2 1 5 0-9 1 18 3-17 1-3 3 13 3-4 1 4 0-3 1 6 0-18 2 21 1-21 1 11 0-8 2 2 0 0 1 13 264 1 11-6 9 1 0-3 9 3 0 6 2-12 2 6 0 0 2-8 1 2 1 14 0-1 4-14 3 3 0 4 0-2 5 10 2-18 1 11 0-5 1-4 4 8 0-14 2 16 0-16 5 9 0-11 3 6 1-5 5 6 2 9 8-11 1 14 4-1 1-7 2-11 1 14 5-12 1 10 4 1 0 1 0-5 2 14 9-13 3-10 8 6 5 1 4 12 2-19 2 5 12 11 4-16 4 19 7-13 20 4 0 7 68 20-95-10-3 16-26-13-18-2-1 3 0-4-2 18-5-14-12-5-3 7-1 12-12-15-4 16 0-21-2 19-3-4-1-11-3 7-5 11-8-9-2-12-5 6-1 6-1-11-7 6 0 5-1 2-3-15-3 21 0-6-3-2-1 5-1 1 0 2-1 2-4-2-2-17-3 17 0-20-1 13 0-4-2-8-1 10 0 7 0-11-2 2 0-4-1-6-1 9 0 1 0-9-1 5-2 17 0-15-2 9-2 2-4-19-1 3-1 7-1-4-1 1-2 10-1-3-2-13-3 9 0-8-2 19-1-20-1 2 0 16 0-14-1 17 0-12-1 12-1 2 0-19-1 1 0-3-4 7 0 4-1 6-1 0-2-14-1 0-1 3-1 14 0-10-1 1 0 0-1 5 0-9-2 6-1-3-1 4-1 6-6-6-8-11-209 1 0 7-1-14-1 21-2-8-3-7-5 5-2 9 0 3 0-15-5 2-3-7-4 4-6 9-3-1-13-1-41-6-14 28 44-8 8-1 5 4 0 3 0 10 0 2 2-10 4 12 5-9 8-14 2 15 4 6 0-21 2 19 1-16 2 14 4-14 1 5 0 15 2-21 1 1 4 8 0 8 197-2 6-16 6 1 1 10 1 10 0-3 1 5 0-14 2 8 0-13 2 17 1 1 3-9 1-10 5 9 0 0 2-12 1 16 0-16 3 9 3 5 0-13 1-2 2 4 0 11 5-5 2-7 3 18 0-17 4-1 1 20 1-2 3-10 5 10 0-18 2-2 3 6 1 6 2-11 1 18 0-16 1 3 0 1 2 2 1 0 3 12 2-9 9 3 5-4 12-6 6 14 1-6 4-2 5 12 0-24 12 10 8-5 4 11 6-13 9 16 1-11 11 10 11-7 10-9 2 0 20 0 116 43 16-20-89 0-2 0-9 4-33 9-32-4-29 6-13 5-2-19-2 12-7-7-9-4-5 4-1-4-3 4-2 10-13 1 0-2-2 2-2 4-8 1-1-4-14 3 0-6-3-8-4 4-11 2-7 9-9-22-3 6-4 17-5 0-3 0-3-22-1 2 0 4 0 13-8-5-1-12-2-3-1 10 0-8-4 0-1 4-2 4 0-6-1 15 0-14-1 18-1-2-1-16-2 9-3 2-3 3 0-12-184-6-6 14 0 0-3 7-2 2 0-11-5-11-3 10-5 5 0-13-1-2-5 8-1 8 0-5-3 2-6-14-7 20-9-20-14 14 0-7-127 19 138 18 5-15 10 5 10-10 1 4 1-4 1 6 1 15 0-13 3 9 2 2 6 0 1-10 1 3 0 6 5-6 1-8 1-2 2 18 0-19 1 18 1 1 0-3 5 5 0-9 1 2 0-3 1 1 2 7 162-5 5 4 2-5 1 6 0-8 1 1 3 5 3 2 1 2 0-19 1 1 0 12 2-9 2 11 1-13 2 1 3 4 0 10 0 0 2 1 0-5 3 7 3-15 1 15 2-13 5 4 3-1 1-3 1 13 0-20 2 12 0 3 0 3 3-18 1 8 4 1 2 4 1-1 7-8 9-4 1 13 8-5 4 9 1 3 1-1 1-16 2 18 6-7 5 2 4 2 16-8 20-8 3 5 6-2 15 13 42-16 6 11 11-13 13 11 13 10 5-18 118 25 0 17-94-16-56 10-33-4-26 5-4-9-4-5-1 4-11 9-10-3-7-3-3 4-29 5-6-19-4 9-7 8-11-9-7-4-2 16-5-10-4 13-1 0-5-3-1 3-1-22-2 13-1 2 0-10-2-1-6 5-1-7-7 0-1 0-2-2-2 12-1-8-1-1-6 16 0-15-1 5 0-9-3 3-3 13 0-17-1 1 0 18-1-2-1-2-1-7-1-2-4 2 0 7-1-9-4 17-3-10-3-1-2 5-4 1-136-5-2 7-1-16-2 11 0 1 0-15-1 16-3-14-2 2-4 3 0 9 0-15-4 13 0-8-5 1-2 14-1-12-4 9 0-12-4 0-2-1-6 7-3-7-30 32-6-11 35 6 0 12 15 3 1-2 4-18 8 14 2-10 1 2 4 3 6 4 4-15 1 11 2-9 3 11 1 2 2 5 1-17 1 0 1 16 3-2 2 5 1 0 1-4 9-1 83 0 7-6 5 1 6-9 1 18 0-8 2-12 3 2 0 1 0 3 1-9 5 1 0 6 0 9 0-6 3-7 2 7 1 7 1-7 1-9 2 3 1 14 0 5 0-17 2 3 0 5 3-7 1 17 2-9 1-15 3 1 4 19 0-11 4 2 3-5 5 16 3-8 11-4 2 13 2-8 1-5 5-10 26 2 0 8 0-2 10 13 25-18 14 15 10-17 3 20 51-5 101 7 36 26 31 0-149-5-28-8-17 1-5 9-29-15-2 15-2-19-15 20 0-22-9 15-18-14-8 18-5-11-8-4-1 4-5-7-12 9-6-8-9 15-11-2-12-10-10 7-1 1-3 3 0-9-3 7 0-2-1 1-1-3-3-8-5 8-2 9-1 1 0-13-1-5-1 14-3-3-4 4-1-13-4 10-7 4-2-1-1 6-2-9-3 4 0-16-1-2-2 14-1 5-1-16-1 2-2-1-2 5-2 12 0-2-3-9-1 5-3 2-1-5-1-2-1 7-3-5-1-2-1 5 0-1-3 2 0-8-1 5-3 3-1 1-1-5-1-4-1 10 0 6-6 0-1 0-2-14-1 8-1 4-6-19-3 10-3-12-1 15-2 1 0-10-1 2 0 11-1-13-1 3 0-8-2 3 0 7 0 1-1-9-5-4-2 24-2 0-1-22-7 11-1 6-3-16-2 19-3-17-1 12-2 5-12-14-7 16-14-11-4-8-2 14-6-10-7 7-11-12-47 45-3-13 64-7 4 9 2-12 31 2 1 21 5-22 1 17 19-19 9 17 1 3 2-8 2-11 1 9 3 4 0 1 15-9 3-1 1 18 2-17 7-3 6 19 1-16 2-6 1 3 2-2 6 13 0 1 6-14 5 4 7-1 7 2 2 4 2 14 0-9 4-10 5-5 28 4 6 4 2-1 1-1 6 9 2-11 5 0 15 8 2 6 5-7 5 13 14-22 5 12 9 0 9 5 19-19 26 13 35-11 14 19 0-1 11-5 14-6 16 31 54-4-116-10-12 7-17 16-21-6-21-4-33 7-8-13-52 3-5-2-2 0-15 10-7 2-3-8-10-12-9 13-3-3-23 0-3 10-2-14-8 12-1-14-1 4 0-2-10 5-1-5-4 6 0 1-3-13-13 2-59 19-2 2-3-11-6-7-117 31 132 4 32-14 17 9 3-9 5-2 6 18 3-17 1 13 6 7 4-8 30 11 2-2 1 1 31-13 1 9 7 4 2-12 4-10 5 11 29 11 30-22 5 4 22 4 2-2 27 2 60-8 132 41 40-1-158-14-61 16-5-15-3-3-4 18-159-11-10-2-14 1-33-4-28 44-3-18 18 21 33-20 10 12 25 7 8-22 7 9 36-8 289 15 91 25 11-9-289-3-11 0-86-5-1 22-24-14-21 6-3-11-127 26 23 5 26 1 63 0 38-1 12 15 199-6 90 4 6 24 74 11-338 1 517 49-752 78 373" fill="none" stroke="none" marker-start="url(#d0)" marker-mid="url(#d0)" marker-end="url(#d0)"/>
<path transform="scale(.1)" d="M2311 4767l18-1 15 0 15 1 15 4 15 6 10 6 10 9 6 10 4 13-1 17-4 13-6 12-8 10-9 10-11 10-11 8-10 7-10 6-10 5-10 5-10 5-10 5-10 6-10 6-10 6-10 10-4 11 2 15 1 15-2 15-3 15-4 12-5 13-5 14-5 14-5 12-5 15-5 14-5 16-4 15-4 15-5 15-5 15-7 15-5 10-6 10-8 10-10 10-11 8-15 5-15 0-15-7-10-11-5-10-5-15-2-15 0-15 2-15 3-15 5-15 6-15 6-12 7-13 7-10 6-9 7-11 7-10 6-10 6-10 7-10 7-10 7-10 8-9 10-11 10-10 10-10 6-10-6-13-10-5-15-6-15-6-11-5-9-6-10-9-7-10-5-15 0-15 5-15 5-10 7-9 10-11 10-10 10-7 10-7 10-6 10-5 15-8 15-6 15-5 15-4 15-4 15-2 7-1z" fill="#000" opacity="0.1"/>
<path transform="scale(.1)" d="M2290 4792l14-2 15 0 15 1 15 3 15 7 10 8 6 13 1 15-6 15-7 10-9 10-10 9-9 6-11 7-10 6-15 7-13 5-12 4-15 4-15 2-15 1-15-2-15-4-12-5-13-10-7-10-2-15 4-15 5-10 8-10 10-10 12-9 10-6 10-5 15-7 15-6 15-4 15-3 1 0zM2188 5077l12 5 2 15 0 15 0 15-1 15-2 14-3 16-4 15-6 15-6 10-7 10-9 9-9 6-16 3-15-6-9-12-5-15-1-15 1-15 4-15 5-14 5-10 7-11 7-10 9-10 11-10 11-9 9-6 10-5z" fill="#000" opacity="0.18"/>
<path transform="scale(.1)" d="M2283 4812l16-2 15 1 15 4 10 6 7 11 0 15-6 10-8 10-12 10-11 7-10 5-15 6-15 4-15 3-15 0-15-3-14-7-9-10-1-15 7-15 9-10 13-10 10-6 15-6 15-5 14-3zM2153 5132l11-4 13 9 4 15-1 15-3 15-7 15-6 9-10 8-15 1-9-8-5-15 1-15 3-13 5-11 7-11 8-8 4-2z" fill="#000" opacity="0.2"/>
<path transform="scale(.1)" d="M2266 4837l13-3 15 1 13 7-2 15-10 10-11 6-15 5-15 1-15-5-4-12 6-10 8-7 10-5 7-3z" fill="#fff" opacity="0.8"/>
<path transform="scale(.1)" d="M2331 4742l13-1 15 0 15 2 10 1 10 2 10 4 10 4 10 5 10 8 6 5 7 10 5 10 3 10 2 10-2 15-2 10-4 9-5 10-5 7-5 7-6 7-9 9-6 6-7 5-6 5-7 5-8 5-8 5-8 4-10 6-10 5-10 5-8 5-8 5-9 8-5 7-4 10-3 10-2 10-2 10-3 10-3 10-3 9-4 11-4 10-4 10-3 8-5 12-4 10-4 10-4 10-3 8-5 12-4 10-4 10-4 10-3 8-4 12-4 10-4 10-4 10-5 10-6 10-6 10-7 10-5 7-8 8-7 7-10 7-10 5-10 3-10 2-15-2-10-5-9-7-6-7-5-7-5-11-4-10-2-10-2-10-1-15 1-15 1-10 2-10 2-10 2-10 3-10 4-10 4-9 5-11 5-10 5-10 5-10 5-9 5-10 5-9 5-10 5-10 5-9 4-8 6-10 5-9 5-10 3-11-3-10-10-9-9-6-8-5-7-5-11-10-5-6-5-9-4-10-1-10 0-11 3-14 4-10 5-10 7-10 6-8 6-7 9-8 8-7 6-5 7-5 7-5 8-5 9-5 9-5 10-5 11-5 10-4 10-4 10-4 10-3 10-3 10-3 10-2 10-3 10-1 10-2 10-1 2 0zM2298 4762l11-2 10-1 15-1 15 0 15 2 10 2 10 2 10 4 10 6 10 7 5 6 5 7 4 8 2 10 0 15-2 10-4 10-5 9-5 8-5 6-7 7-8 8-9 7-6 5-8 5-7 5-9 5-10 5-9 5-10 5-7 4-10 6-8 5-6 5-6 6-5 8-3 11-1 15-1 10-1 10-3 10-3 10-3 10-4 10-3 10-4 10-4 9-4 11-4 10-4 10-3 8-4 12-4 10-3 10-3 10-3 10-4 10-3 10-4 10-4 10-5 10-5 10-6 10-7 9-6 6-9 8-10 7-10 4-10 2-14-1-11-5-6-5-8-10-5-10-4-10-2-10-2-10 0-15 1-15 2-10 2-10 3-10 3-10 4-10 5-10 5-10 6-10 6-10 5-8 5-8 5-9 5-8 5-9 5-8 5-9 5-8 5-7 5-7 5-7 5-6 5-6 5-7 5-7 3-11-6-10-7-5-10-5-10-5-10-5-8-5-6-5-6-6-5-7-4-7-3-10 0-15 2-10 3-10 6-10 6-9 5-6 9-10 11-9 8-6 7-5 7-5 8-4 10-6 10-5 10-4 10-4 10-4 9-3 11-3 10-3 10-2 9-2zM2305 4772l14-1 15-1 15 1 10 2 10 2 10 4 10 5 10 8 8 10 4 10 1 10-2 15-4 10-5 10-7 9-5 6-10 9-7 6-7 5-7 5-8 5-9 5-7 4-10 5-10 5-10 5-10 5-10 5-10 5-10 5-10 4-15 0-10-3-10-2-9-3-11-3-10-4-8-3-10-5-7-4-7-6-8-10-4-10-2-10 1-12 4-13 5-10 6-8 6-7 9-9 7-6 7-5 7-5 8-5 9-5 10-5 11-5 11-4 10-4 10-3 10-3 10-2 10-2 10-2 1 0zM2232 4982l12-3 10 6 4 12 1 15-2 10-3 10-3 10-3 10-3 10-4 10-4 10-3 9-4 11-3 10-3 9-3 11-3 10-2 10-3 10-2 10-3 10-4 10-4 10-4 10-6 10-6 9-5 7-9 9-7 5-8 5-11 4-15-1-10-4-9-9-6-9-5-11-2-10-1-10-1-15 2-15 2-10 3-10 3-10 4-10 5-10 5-9 5-8 5-8 5-7 5-7 5-7 5-7 5-7 5-8 5-7 5-8 5-7 5-7 5-6 6-7 9-10 6-5 9-8 10-7 8-5zM2301 4782l13-1 15-1 15 2 10 2 10 3 10 4 8 6 7 8 4 7 3 10-1 15-4 10-5 10-7 9-6 6-9 8-8 7-7 5-9 5-8 5-8 4-10 5-10 5-10 4-10 4-8 3-12 3-10 2-15 1-14-1-11-2-10-2-10-3-10-5-10-6-7-7-7-10-3-10 1-15 3-10 6-10 7-10 10-10 6-5 6-5 8-5 8-5 7-4 10-5 10-4 10-4 10-4 10-3 10-2 10-2 10-2 2 0zM2217 5022l12 1 3 9-1 15-2 10-3 10-2 9-3 11-3 10-2 10-2 10-2 10-2 10-2 10-2 10-2 10-2 10-4 10-3 10-5 10-5 10-6 9-5 6-10 9-10 6-10 3-15-1-10-7-8-10-5-10-2-10-1-10 0-15 1-10 2-10 3-10 3-10 5-10 5-10 7-10 5-7 5-7 5-6 9-10 6-7 6-8 8-10 6-7 5-6 6-7 9-9 8-6 10-5zM2285 4792l14-2 15-1 15 0 10 1 10 3 10 3 9 6 10 10 4 10 0 15-3 10-5 9-5 7-9 9-6 6-10 7-10 7-9 5-9 5-10 5-12 5-10 4-10 3-10 2-10 2-15 1-15-1-10-2-10-3-10-4-10-6-7-6-6-10-2-10 1-15 4-8 5-9 5-6 6-7 9-7 10-8 8-5 10-5 7-4 10-4 10-4 10-3 10-3 10-2 1 0zM2191 5072l11 5 2 10 0 15-1 15-1 15-1 15-1 10-2 10-3 10-3 10-3 9-5 10-5 9-5 7-10 10-8 5-12 4-15-2-8-7-7-10-3-10-2-10 0-15 1-10 2-10 3-10 4-10 5-10 5-9 5-7 5-6 7-8 8-8 8-7 6-5 7-5 7-5 7-4 2-1zM2295 4797l14-1 15 0 10 2 10 2 10 5 9 7 6 9 2 11-1 10-5 10-6 9-10 11-10 8-10 7-8 5-9 5-8 4-10 4-10 4-10 3-10 2-10 2-15 0-15-1-10-2-10-4-10-5-8-7-6-10-1-10 1-10 4-9 5-8 5-6 7-7 8-7 10-7 10-5 10-5 10-4 10-4 10-3 10-2 10-2 6-1zM2167 5102l12-3 10 6 4 12 1 10 1 15-1 11-2 14-2 10-3 10-4 10-4 8-5 7-5 7-9 8-10 5-11 1-10-4-7-7-5-10-2-10-1-15 1-10 2-10 3-10 4-9 5-9 4-7 6-7 7-8 8-7 10-6 3-2zM2273 4807l11-2 10-2 15-1 15 2 10 2 10 4 9 7 6 10 1 10-2 10-4 7-5 7-10 11-6 5-7 5-8 5-9 5-10 5-10 4-10 3-10 3-10 1-15 2-15-1-10-2-10-4-10-6-8-10-3-10 1-10 4-10 6-8 6-7 9-8 10-7 9-5 10-5 11-4 10-4 9-2zM2159 5117l10-3 10 3 5 7 3 13 1 15-1 15-2 10-3 10-5 10-6 10-7 9-8 6-12 4-10-2-7-7-6-10-2-10 0-13 2-12 2-10 5-10 5-10 6-8 6-7 9-7 5-3zM2275 4812l14-2 15-1 15 1 10 3 9 4 6 5 5 9 0 11-3 10-7 10-10 10-7 5-7 5-9 5-10 5-12 5-10 3-10 2-10 1-15 0-10-1-10-3-10-5-7-7-4-10 1-13 5-10 5-7 10-9 8-6 7-4 10-5 10-5 10-3 10-3 1 0zM2158 5127l11-1 8 6 4 10 1 10 0 15-2 10-4 10-4 10-7 10-6 6-8 4-12 0-8-5-5-10-2-10 1-15 2-10 4-10 5-10 8-10 10-8 4-2zM2278 4817l11-2 15 0 10 1 10 3 10 7 5 10-1 11-4 9-5 7-10 9-7 5-8 5-10 5-10 4-10 3-10 2-10 1-14 0-11-2-10-4-10-9-3-10 2-10 6-10 5-6 10-9 8-5 10-5 12-5 10-3 9-2zM2157 5137l12 1 5 8 2 11-1 15-2 10-4 9-5 8-8 8-12 3-10-6-4-12 0-15 2-10 4-10 7-10 6-6 8-4zM2283 4822l11-1 11 1 9 2 10 6 5 11-2 11-7 10-6 6-10 7-10 6-10 4-10 3-10 2-10 1-15-1-10-3-8-5-5-10 1-10 6-10 6-7 10-7 10-6 10-4 10-3 10-2 4-1zM2157 5147l10 5 3 10-1 13-4 12-6 8-10 6-10-4-4-10 2-15 3-10 8-10 9-5zM2265 4832l9-2 10-2 15 1 10 3 6 5 3 10-4 9-5 7-10 8-10 5-10 4-10 3-10 2-15-1-10-4-7-8 2-15 5-7 10-8 9-5 11-5 1 0zM2152 5162l9 5-2 13-5 7-10-4 1-11 4-8 3-2zM2273 4837l11-1 10 1 9 5 1 10-5 8-8 7-9 5-13 4-10 1-10-1-8-4-3-10 6-10 10-8 10-4 9-3zM2264 4847l10-3 15 2 1 11-6 6-9 4-11 2-10-2-3-10 8-7 5-3z" stroke="#111" stroke-width="6" fill="none" stroke-linejoin="round"/>
<rect x="200.10" y="497.40" width="35.70" height="39.00" fill="none" stroke="#222" stroke-width="0.7"/>
<text x="255.50" y="515.70" font-size="8" text-anchor="middle" fill="#222" >not T B</text>
<text x="255.50" y="525.40" font-size="8" text-anchor="middle" fill="#222" >35.8%</text>
<path transform="scale(.1)" d="M3415 3999l-2 107 41 17 18-11-2-35-17-37 8-99 23-69 31 257-4-279 3-72 10-90-7-15 27 108-15 32 0 9 20 14-11 22 22-45-9-76 9-8 6-24 3-29 30-71-11 50-7 88 13 26-10 17-7 10 16 317 28 25-5-15 6-395 4-161 7 31 7 37-2 54-13 30 11 7-6 15 13 370-5 26 16-413 7-4 9-24-11-6 2-22 2-42-6-86 12-91 0-9 28 218-17 9 7 11 9 6 2 11-19 2 3 4 3 12-10 5 15 4 8 6-21 3 20 4 0 296-9 21 11 9-15 10 3 23 3 18 17 18-1-78 10-61 0-5 6-33 2-29-3-169-7-1-13-16 9-5 1 0-5-1 15-61-14-20 16-91-22-94 43 134-15 54 3 5-4 7 15 23 0 10-9 6 1 11-5 1 12 0 2 9-3 4-6 21-7 1 8 0-6 8-5 3 23 1-13 4-9 2 22 10-8 2 1 5 3 8 3 8 0 2 2 13-7 1-7 11 11 1-7 16-3 3 10 15-6 8-5 4 4 4-2 51-9 11 7 6-4 10 2 36-2 6 9 34 28 9 0-7-4-27-6-18-4-81-4-57 22-2-8-2-8-3 11-4-16-1 0-11 0-3 7-32 14 0-6-30-13-8-2-4 14-1-11-5-4-27 2 0 11-7-13-17 19-16-13-4 3-80 3-39 1-170 12 4 5 58 5 99-6 23 14 29-4 3 0 101 0 30 8 27-14 1 14 22-21 21 23 23-4 13-11 84-9 8 20 11-20 15 7 33 5 87 33 31-6-186 10-14-24-52 2-18 6-29 3-40-5-6 2-3 16-6-5-11 2-15-14-28 9-41-7-1 14-62 6-349 20 296-9 53 2 104-3 25-4 13-5 10 1 23-5 12 7 31 9 53-3 36-8 12-6 194 48-186-12-40 1-103-12-7 2-77-2-29 14-41 7-34-10-199 17 127 1 56-3 238 16 199 10 26 18-91-11-9 38-338 1 127-5 79-13 117 4 21 2 95 14-6 16-23 0-3 4-33-14-133 6-133 7-199 27 26 1 91 2 6-3 173-18 86 6 5 13 75-11 60 34-3 4-78-22-37 8-3 13-140-15-8 12-7-1-12-2-18-5-16 12 0-3-22-1-1-12-44 15-19-22-13 22-29-2-64-7-2-2-74 0-47-5-102 18 156 13 17 10 4-10 33 1 2-6 21 3 12 3 4 4 9-3 5 9 3-17 19 10 1 7 7-9 4 5 6 2 10-4 1-13 1 15 4-19 8 17 16 4 0 2 1-1 6-7 2-11 1 7 0 0 6 10 6 1 5-10 3-2 8-8 10-2 4 20 1-9 3 11 4-19 1 7 11 4 1 5 4 2 10-14 1-5 7 2 6 5 7 6 35 5 3-16 5-5 76 13 38 4 159 17-80-5-71 7-73 11-36-12-6-3-42 9-35-1-2-7-6-4-18 3-3 6-2 8 0-4-1-16-1-1-1 16-1-3-1-9-6 7-4-5-8 3-4-2-4 9-3-2-1-6-1 3 0-5-1-6-2 0-1 14 0-12-2 12-4-7-6 17 0-24-1 3-2 13-1-2-3-2-18 4-1 1-15 6-2-11-2-5-6 3-10-7-20 3-1 7-3 7-1 0-6-17-2 9-4-3-18 2-14-10-18 40-260-4 169-11 70 14 1 7 38-15 22-5 23 3 7 2 18-6 12 15 5-15 18 21 1-15 3-6 24 2 7 3 0-6 10 3 9-3 2 21 17-10 1 2 3 0 16-2 18-4 5-7 15 4 91 19 227 16 40-12-448 5-65 1-17 11-20-17-4 16-30-16-47 13-350 31 161-2 261 2 15 75 187 44-130" fill="none" stroke="none" marker-start="url(#d1)" marker-mid="url(#d1)" marker-end="url(#d1)"/>
<path transform="scale(.1)" d="M3603 3909l16-3 14 8 6 10 3 15 1 15-2 15-4 15-5 15-5 10-7 10-9 10-12 9-15 5-15-3-10-10-5-11-2-15 1-15 3-15 5-15 7-15 7-10 8-10 11-10 9-5z" fill="#000" opacity="0.22"/>
<path transform="scale(.1)" d="M3600 3939l18 5 6 15 0 15-4 15-6 12-10 13-10 6-15 0-9-11-3-15 2-15 5-13 7-12 8-8 10-7 1 0z" fill="#000" opacity="0.3"/>
<path transform="scale(.1)" d="M3649 3739l10-3 10-1 15 1 10 4 10 7 7 7 7 10 5 10 4 10 3 10 2 10 1 10 2 15 0 15-1 15-1 15-1 10-2 10-2 10-2 10-3 10-3 10-3 10-3 9-4 11-4 10-4 10-5 10-5 10-6 10-6 10-6 9-5 7-5 7-5 7-5 6-8 9-7 7-9 8-6 5-7 5-8 5-10 5-10 4-10 2-15 1-10-2-10-3-10-6-7-6-8-10-5-8-5-11-4-11-2-10-2-10-1-10 0-15 0-15 1-15 1-10 2-10 2-10 2-10 3-10 3-10 3-10 4-10 3-9 5-11 4-10 5-10 5-10 6-10 5-9 5-8 5-7 5-7 5-7 5-6 9-11 6-6 9-9 6-6 10-8 10-6 9-5 11-5zM3648 3784l11-1 10 2 10 4 6 5 8 10 5 10 4 10 3 10 1 10 2 15 0 15-1 15-2 10-1 10-2 10-2 10-3 10-3 9-3 11-4 10-4 10-4 9-5 10-5 10-5 9-5 9-5 7-5 7-5 7-5 6-5 6-10 9-7 6-7 5-9 5-12 5-10 2-15 0-10-3-8-4-6-5-6-6-5-7-5-10-4-12-2-10-2-10-1-15 1-15 2-15 1-10 2-10 3-10 3-10 3-10 4-10 4-10 4-10 5-10 5-10 5-10 6-10 6-9 5-7 5-7 5-6 9-11 6-6 10-9 7-5 7-5 10-5 11-4 4-1zM3643 3819l11 1 10 4 6 5 8 10 4 10 3 10 2 10 1 15-1 15-1 15-2 10-2 10-2 10-3 10-3 10-3 10-4 10-3 8-5 11-5 10-5 8-5 8-5 7-5 7-5 6-10 9-7 6-7 5-10 5-11 3-15 1-10-3-10-6-9-10-6-10-4-10-2-10-2-10 0-15 1-15 1-10 2-10 3-10 3-10 3-9 4-11 4-10 5-10 6-10 5-10 6-9 5-7 5-7 5-7 9-10 6-6 10-9 8-5 7-4 10-4 9-2zM3619 3854l10-3 15 0 10 5 7 8 5 10 3 10 1 10 1 15-1 15-1 10-1 10-2 10-3 10-2 10-4 10-3 8-5 11-5 10-5 9-5 7-5 7-7 8-8 7-10 8-10 5-10 3-15-1-10-3-10-9-5-7-4-8-3-10-2-10-1-15 1-15 2-10 2-10 3-10 3-10 4-9 5-11 5-10 5-8 5-8 5-7 5-7 5-6 8-9 7-6 10-8 10-6zM3628 3874l11 2 9 8 5 10 4 10 1 10 1 15-1 15-1 10-2 10-2 10-4 10-3 10-5 10-5 10-6 10-6 7-7 8-8 7-10 7-10 4-10 1-10-1-10-6-7-7-6-10-3-10-1-10-1-15 2-15 2-10 2-10 4-10 3-8 5-10 5-9 5-8 5-7 5-7 6-6 9-9 8-6 7-5 10-4 9-1zM3611 3894l13-2 10 4 8 8 4 10 3 10 1 10 0 15-1 10-2 10-2 10-4 10-4 10-5 10-6 10-7 9-10 10-8 6-11 5-11 1-10-2-10-7-5-7-4-10-2-10-1-15 1-15 2-10 3-10 4-10 5-10 5-10 7-10 5-6 9-9 6-6 10-6 7-3zM3603 3909l11-3 10 1 9 7 6 10 3 10 1 10-1 15-1 10-2 9-3 11-4 10-5 10-7 10-6 7-9 8-7 5-9 3-15 0-10-6-5-6-5-11-2-10 0-15 1-10 3-10 3-10 4-10 5-10 6-9 5-6 9-10 7-5 8-5zM3603 3919l11-2 10 4 7 8 3 8 2 12 0 15-1 10-3 10-3 9-5 11-5 8-5 7-10 9-10 6-10 2-10-1-7-6-7-10-2-10-1-15 1-10 3-10 3-10 5-10 5-9 5-7 8-9 7-5 9-5zM3601 3929l13-1 9 6 5 10 2 10 0 15-2 10-2 10-5 10-6 10-6 8-8 7-11 5-11 0-8-5-6-10-3-10 0-15 2-10 3-10 4-10 6-10 7-8 8-7 7-4 2-1zM3598 3939l11-2 10 6 5 11 1 10-1 11-4 14-4 10-7 10-10 10-10 4-10-2-8-7-3-10-1-15 2-10 3-10 5-10 7-10 6-5 8-5zM3595 3949l9-3 10 5 4 8 1 10-1 10-3 10-5 10-6 8-10 7-12 0-8-9-2-11 2-15 4-10 6-10 5-6 6-4zM3594 3959l10-2 7 7 1 10-1 10-5 10-7 9-10 3-9-7-2-10 2-10 4-9 5-7 5-4zM3593 3969l11 1 0 14-5 10-10 3-4-8 1-10 7-10z" stroke="#111" stroke-width="5" fill="none" stroke-linejoin="round"/>
<rect x="392.30" y="345.50" width="25.50" height="33.00" fill="none" stroke="#222" stroke-width="0.7"/>
<text x="403.30" y="324.80" font-size="8" text-anchor="middle" textLength="34.5" lengthAdjust="spacingAndGlyphs" fill="#222" >mast cells</text>
<text x="404.80" y="334.60" font-size="8" text-anchor="middle" fill="#222" >3.07%</text>
<path transform="scale(.1)" d="M3416 5234l-5 29-1 2 7 68-11 63 43-129-12-59 17 107 20 57 8-169 13-41 3-36-18-6 16-79-17-13 9-73 12-264 14 118-13 233 19 71-15 2 15 4-14 1 16 289 16-1 10-351-5-13-7-16-4-3 0-20 6-30 4-1-7-9-1-1-6-5 7-102-4-205 41 124 0 3-14 106 1 1 2 80 0 19 10 11-21 35 16 26 28 332-5-344-2-6-1-13 4-2 1-3 3-3-7-4-12-9 13-9-4-4-1-17 15-11-19-2 2-3 13-72 2-33-12-11 4-48 36-367-13 193-10 270-1 10 13 46-9 2 10 5-5 6 11 3-9 4 2 4-10 3 6 18 10 4-10 7-7 9 0 6 22 1-18 4 4 5-8 8 24 350 19-31-15-333 4-10 5 0-14-7 15 0-11-3 10 0 5-8 1-3 4 0-3-2 1 0-3-3 2-8-6-2 4-7-11-5 12-3-9-2-8-7 3-7 6-14-1-7 4-3-9-24 4-13 8-69-14-40 38 33-7 6-10 34 0 11 12 7 10 8-15 23 12 16-1 2-17 8 12 3 6 1-17 2 17 12 2 2-1 2 3 6-7 5-11 1 0 2 2 11 3 11 9 4-8 9 0 4 9 0-7 3 0 2 1 1-13 9 21 9 2 2-1 301-17 93 36 1 5-19-19-57-2-36 23-279-2-2-22-6 18-2-13-2 13-2-8-1 8-3-6-7 12 0-7-1 2-2-8-3-11-4 8-4-5-8 1-3-1-9 9-8-7-1 9-5-10-6 3 0 16 0-6-8 2-7-19-11 4-1 13-21 5-14 0-2-13-28 11-3-4-28-10-15-4-10 21-13 11-284 7 266 1 21 4 7-5 7 3 5-3 11-6 29 1 9-1 26 14 7-8 1-9 3 3 2 4 25 4 13 5 0-14 1 5 0-7 1-7 5 23 2-17 2 15 4-5 1-13 8 3 1 9 3-4 7 0 1 13 5-22 2 9 0 2 0-8 1 10 1-4 1-6 3 16 6-14 5 6 4 10 2-20 1 1 2 6 0 3 3-6 1 10 2-12 4 4 0-7 5 21 0-11 7 2 1 3 5 1 21 2 34 3 28 1 52-7 34 3 15-15 26 13 22-3 21-3 21-9 21 36 19 9-11-21-88 8 0-4-34 11-1 4-21-3-28-5-10-7-4 10-13 6-4 0-13-16-1 8-15-3-1 12-2-10-7-2-8 5-6-4-13-8-6 7-1-11-6 12-11-6-10 5-4 13 0-21-4 11-4-14-3 4-2-3-12 7 0 2-7 7-10-7-5-8-7 8-12 6-2-11-10 7 0-5-1-5-1 12-2-7-1-4-14 8 0-7-5-1-2 10-3-1-3-11-4 11-11 10-1-7-37 6-8-1-1-20-11 21-19-15-389 36 211-2 50 3 40-16 10 4 7-5 3 1 10 3 52 13 12-11 27 2 5 15 9-11 11-5 30-3 4 16 1-18 1 15 35-1 13-6 7-2 28-6 5 10 0 1 0 9 6-14 6 5 4-6 4 3 1-2 1 7 2-12 3 11 0 8 7-10 19-10 19 8 1-6 2 2 42 3 1-8 7-1 11 17 24-15 15 12 4 8 25-6 19 18 93 8-68-15-12 5-34 13-13-10-31 0-9 13-14-13-7 4-6-4-36-4-24 7-22 4-2-6-12-12-2 23-15-14-2 9-5-16-8 8-11 13 0-9-7 1-48-3-4-12-15 6-15-6-1 23-17-22-15 14-2 8-15-20-5-1-2 0-51 15 0-15-110 47-87-22 39 7 29-6 123 12 51 3 40 4 1-14 12 12 8 1 5-7 1 8 10-1 50-7 63-5 1-9 27 15 11-6 47 4 117-12 60 18 6-4 25 17-25 13-159-9-8 7-6-13-147 18-62-3-62 1-76-16-10 9-6 6-9-6-106-6-2 30-123-7 47 2 267-4 13 18 18-5 29 6 46-12 175 11 98 1 2-11 15 6 10 22 20 7-30-11-49 4 0 5-35-16-34 12-20 2-26-4-39-11-26 7-13-3-30-4-165 5-32 10-34 29 59-2 110-14 260-6 2 2 115 35 29-5-20-4-42 21-164-24-64 11-68 0-2-7-332 42 197-16 223 19 34-7 4-6 26-4 102 14 12-9 30 6 60 19 16-8-56 2-67 17-17-10-48 9-1-1-264-10-2-11-2 1 0 15-10 8-212 19 70-4 40-5 45 13 1-13 20-1 7 16 10-20 4 10 5 1 2-11 1-1 19 21 54-8 86-12 36 4 88-2 224 20-104 5-14-3-326 0-3 7 0 11-6-13-17-7-15 0-17 9-1 3-1 0-10-11-2 10 0 3-1-8-3-7-10 5-7 12-5-15-7 9-12 4 0 5-6-7-1-5-9 8-9 5-3-13-29 5-37 26-69-6 132-6 14 2 3 1 27-2 5 10 53 11 54-8 287 30-307 4-40 43 44 114 165" fill="none" stroke="none" marker-start="url(#d1)" marker-mid="url(#d1)" marker-end="url(#d1)"/>
<path transform="scale(.1)" d="M3587 5192l17 1 10 9 5 11 3 14 0 15-2 15-4 15-6 15-5 10-6 10-8 10-12 10-10 5-15 3-15-6-9-12-5-15 0-15 1-15 4-15 6-15 5-10 7-10 8-10 8-8 10-7 13-5z" fill="#000" opacity="0.22"/>
<path transform="scale(.1)" d="M3573 5227l16 0 9 10 3 15-1 15-5 15-5 10-8 10-13 9-15 0-9-9-4-15 1-15 5-15 5-10 7-10 10-8 4-2z" fill="#000" opacity="0.3"/>
<path transform="scale(.1)" d="M3641 5022l13-1 13 1 12 4 10 6 10 10 5 7 5 8 4 10 4 10 2 10 2 10 2 10 0 15 1 15-1 15-2 15-1 10-2 10-2 10-3 10-2 10-3 10-4 10-4 10-4 10-4 10-5 10-5 10-6 10-6 10-6 9-5 7-5 7-5 6-5 6-8 10-7 7-8 8-7 6-10 8-9 6-8 5-8 4-10 4-10 3-10 1-15 0-10-3-9-4-8-5-8-7-7-8-6-10-5-10-3-10-3-10-2-10-1-10-1-15 0-15 1-15 1-10 2-10 1-10 2-10 3-10 3-10 3-10 3-10 4-10 4-10 4-10 5-10 5-10 6-10 6-10 5-8 5-7 5-7 5-7 5-6 8-10 7-7 8-8 7-6 10-9 8-5 7-5 9-5 11-5 10-3 7-2zM3632 5067l12 0 10 2 8 3 7 5 9 10 6 9 5 11 2 10 2 10 2 10 0 15 0 15-1 11-2 14-2 10-2 10-3 10-3 10-3 8-4 12-5 10-4 10-5 10-6 10-5 10-6 9-5 8-5 7-5 6-5 6-8 9-7 7-9 8-6 5-8 5-7 4-10 5-10 2-10 2-15-2-10-4-10-7-10-10-5-9-5-11-3-10-2-10-1-10-1-15 0-15 2-10 1-10 2-10 2-10 3-10 3-10 4-10 3-10 5-10 4-10 5-10 5-10 6-10 7-10 5-8 5-7 5-6 8-9 7-8 7-7 8-7 10-7 10-6 10-5 10-3 8-2zM3618 5102l11-1 10 1 10 5 7 5 7 10 5 10 3 10 2 10 1 15 0 15-2 15-1 10-3 10-2 10-3 10-3 10-4 10-4 10-4 10-4 8-5 10-5 9-5 8-5 8-5 6-5 7-8 9-7 6-10 8-9 6-11 5-10 3-15 1-10-3-10-5-7-6-7-10-5-10-4-10-2-10-1-10 0-15 1-15 1-10 2-10 3-10 3-10 3-10 4-10 4-9 5-10 5-10 5-8 5-8 5-8 5-7 5-6 5-7 7-7 8-9 7-6 7-5 7-5 9-5 10-4 4-1zM3612 5132l12 0 10 3 8 7 6 10 4 10 2 9 1 11 0 15-1 14-2 11-2 10-2 10-3 10-3 10-3 8-5 12-5 10-5 10-5 8-5 8-5 7-6 7-9 9-8 6-7 4-10 5-10 3-15 0-10-4-10-7-5-6-5-9-4-11-2-10-2-10 0-15 2-15 2-10 2-10 4-10 3-9 5-11 5-10 5-9 5-9 5-7 5-7 5-6 6-7 9-9 6-6 6-5 7-5 9-5 12-4 3-1zM3603 5157l11 0 10 4 6 6 6 10 3 10 2 10 0 15-1 15-1 10-2 10-3 10-3 10-3 10-4 9-5 10-5 9-5 7-5 7-7 8-8 8-9 7-10 5-11 3-15-1-10-5-8-7-6-10-4-10-2-10-1-15 1-13 2-12 2-10 3-10 4-10 4-8 5-10 4-7 6-9 5-6 5-6 8-9 7-7 10-7 10-6 10-4 4-1zM3593 5177l11-1 10 4 7 7 5 10 3 10 1 10 0 15-1 12-2 13-3 10-3 10-4 10-5 10-6 10-7 9-5 6-10 9-9 6-11 4-10 1-10-2-10-6-6-7-4-8-4-12-1-10 0-15 2-10 2-10 3-10 3-8 5-11 5-9 5-7 5-8 5-6 6-6 9-8 10-7 10-4 4-1zM3587 5192l12-1 10 5 8 11 3 10 2 10 0 15-1 10-2 10-3 10-3 10-4 8-5 9-5 8-5 6-8 9-7 5-9 5-11 3-15-3-7-5-7-10-3-10-2-10 0-15 1-10 2-10 4-10 4-10 5-10 7-10 6-8 7-7 8-6 10-6 8-3zM3575 5207l9-3 15 2 8 6 5 10 2 9 1 11-1 13-2 12-3 9-4 11-6 10-5 8-5 6-6 6-7 5-11 5-11 1-10-4-6-7-5-10-3-10 0-15 1-10 3-10 3-10 5-10 6-10 6-8 7-7 6-5 7-5 1 0zM3573 5217l11-3 10 2 7 6 5 10 2 10 0 15-2 10-3 10-4 10-5 9-5 7-9 9-7 5-9 3-15-2-7-6-5-10-2-10 0-15 2-10 3-10 4-8 5-9 5-7 6-6 9-8 4-2zM3571 5227l13-3 10 5 5 7 3 11-1 15-2 10-3 10-5 10-7 9-7 6-8 5-10 2-10-5-5-6-3-11-1-15 2-10 4-10 5-10 7-10 11-9 2-1zM3569 5237l10-3 9 3 6 9 2 11-2 13-4 12-6 10-5 6-10 7-15-2-5-6-3-10 1-15 2-9 5-10 5-7 10-9zM3569 5247l10-2 7 7 2 10-1 10-4 10-8 10-11 5-8-5-4-10 2-14 5-11 5-6 5-4zM3569 5257l10 1 1 14-5 10-6 5-9-5 1-15 8-10z" stroke="#111" stroke-width="5" fill="none" stroke-linejoin="round"/>
<ellipse cx="403.0" cy="492.5" rx="3.40" ry="6.80" transform="rotate(8 403.0 492.5)" fill="none" stroke="#222" stroke-width="0.6"/>
<rect x="392.30" y="473.20" width="25.50" height="33.20" fill="none" stroke="#222" stroke-width="0.7"/>
<text x="403.30" y="452.80" font-size="8" text-anchor="middle" textLength="34.5" lengthAdjust="spacingAndGlyphs" fill="#222" >mast cells</text>
<text x="405.00" y="462.90" font-size="8" text-anchor="middle" fill="#222" >4.44%</text>
<rect x="43.60" y="301.40" width="114.70" height="114.20" fill="none" stroke="#333" stroke-width="0.9"/>
<rect x="43.60" y="429.70" width="114.70" height="113.50" fill="none" stroke="#333" stroke-width="0.9"/>
<rect x="191.40" y="301.40" width="114.30" height="114.20" fill="none" stroke="#333" stroke-width="0.9"/>
<rect x="191.40" y="429.70" width="114.30" height="113.50" fill="none" stroke="#333" stroke-width="0.9"/>
<rect x="339.40" y="301.40" width="114.30" height="114.20" fill="none" stroke="#333" stroke-width="0.9"/>
<rect x="339.40" y="429.70" width="114.30" height="113.50" fill="none" stroke="#333" stroke-width="0.9"/>
<text x="6.24" y="613.05" font-size="18.99" font-weight="bold" textLength="9.33" lengthAdjust="spacingAndGlyphs" fill="#000" stroke="#000" stroke-width="0.5">E</text>
<line x1="31.20" y1="622.10" x2="31.20" y2="950.00" stroke="#000" stroke-width="2.2" />
<path d="M26.79 629.20 L31.20 621.60 L35.61 629.20" fill="none" stroke="#000" stroke-width="2.2"/>
<line x1="243.10" y1="622.30" x2="243.10" y2="950.00" stroke="#000" stroke-width="2.2" />
<path d="M238.69 629.40 L243.10 621.80 L247.51 629.40" fill="none" stroke="#000" stroke-width="2.2"/>
<text x="25.80" y="773.10" font-size="17.2" font-weight="bold" text-anchor="middle" transform="rotate(-90 25.80 773.10)" textLength="28.4" lengthAdjust="spacingAndGlyphs" fill="#000" >CD5</text>
<text x="238.00" y="771.90" font-size="16.8" font-weight="bold" text-anchor="middle" transform="rotate(-90 238.00 771.90)" textLength="42" lengthAdjust="spacingAndGlyphs" fill="#000" >Foxp3</text>
<line x1="52.00" y1="971.90" x2="206.70" y2="971.90" stroke="#000" stroke-width="2.2" />
<path d="M199.60 967.49 L207.20 971.90 L199.60 976.31" fill="none" stroke="#000" stroke-width="2.2"/>
<line x1="268.40" y1="971.90" x2="423.00" y2="971.90" stroke="#000" stroke-width="2.2" />
<path d="M415.90 967.49 L423.50 971.90 L415.90 976.31" fill="none" stroke="#000" stroke-width="2.2"/>
<text x="126.50" y="987.10" font-size="15.8" font-weight="bold" text-anchor="middle" textLength="28.4" lengthAdjust="spacingAndGlyphs" fill="#000" >CD4</text>
<text x="338.50" y="987.10" font-size="15.8" font-weight="bold" text-anchor="middle" textLength="28.4" lengthAdjust="spacingAndGlyphs" fill="#000" >CD4</text>
<text x="444.70" y="695.20" font-size="18" font-weight="bold" textLength="46" lengthAdjust="spacingAndGlyphs" fill="#000" >Mock</text>
<text x="444.70" y="877.20" font-size="18" font-weight="bold" textLength="41" lengthAdjust="spacingAndGlyphs" fill="#000" >EV71</text>
<path transform="scale(.1)" d="M1508 6675l15-4 15 0 15 3 15 6 10 6 10 9 10 10 7 10 6 10 7 15 5 14 4 16 3 15 1 15 0 15 0 15-1 15-2 15-2 15-1 15-2 15-1 15-1 15-1 15-2 15-2 15-3 15-4 15-5 15-6 15-5 11-9 14-9 10-11 10-11 6-15 2-15-2-10-6-10-7-10-12-8-11-5-10-7-15-5-15-4-15-3-15-3-15-2-15-2-15-2-15-2-15-2-13-3-17-4-15-2-15-3-15-1-15-1-15 1-15 2-15 3-15 4-15 7-15 5-10 7-10 8-10 11-10 11-8 10-5 5-2zM944 6765l14-2 15 1 15 3 15 5 10 5 10 6 10 8 8 9 8 10 7 10 7 15 4 15 3 15 0 15-1 15-4 15-5 15-7 15-5 10-6 10-6 15-5 15-2 15-1 15 0 15 1 15 1 15 1 15 1 15 1 15 1 15 1 15 2 15 2 15 4 15 5 15 5 10 5 10 6 10 7 10 7 10 8 10 12 9 15 5 15 0 15-1 13-3 17-4 15-5 15-5 15-5 15-5 15-5 15-5 15-3 13-3 17-3 15-1 15-1 15 1 15 2 15 4 15 8 10 9 7 11 2 15-3 15-6 13-8 12-7 9-10 10-10 9-9 7-11 8-10 6-10 7-10 5-10 6-10 5-15 7-12 6-11 5-11 5-11 5-11 5-12 5-11 5-11 5-11 5-12 5-11 5-11 5-12 5-11 5-11 5-10 5-11 6-10 5-10 6-10 5-10 5-15 7-15 6-13 5-12 4-15 4-15 4-15 2-15 2-15 2-15 0-15 0-15-1-15-2-15-2-15-4-15-6-10-5-10-7-10-9-8-12-5-15-1-15 3-15 6-15 5-10 6-10 5-10 6-15 2-15-1-15-1-15 0-15 2-15 4-15 6-15 5-10 6-10 8-10 7-9 10-9 10-10 8-7 10-10 7-9 5-11 5-15 2-15 0-15 0-15 0-15-1-15 0-15-1-15 0-15-1-15-1-15-2-15-3-15-5-15-6-15-7-14-5-11-5-12-4-13-3-15-2-15 1-15 2-15 5-15 6-14 6-11 8-10 10-10 11-9 9-6 11-5 15-5 1 0z" fill="none" stroke="#000" stroke-width="80" stroke-linejoin="round" opacity="0.055"/>
<path transform="scale(.1)" d="M1508 6675l15-4 15 0 15 3 15 6 10 6 10 9 10 10 7 10 6 10 7 15 5 14 4 16 3 15 1 15 0 15 0 15-1 15-2 15-2 15-1 15-2 15-1 15-1 15-1 15-2 15-2 15-3 15-4 15-5 15-6 15-5 11-9 14-9 10-11 10-11 6-15 2-15-2-10-6-10-7-10-12-8-11-5-10-7-15-5-15-4-15-3-15-3-15-2-15-2-15-2-15-2-15-2-13-3-17-4-15-2-15-3-15-1-15-1-15 1-15 2-15 3-15 4-15 7-15 5-10 7-10 8-10 11-10 11-8 10-5 5-2zM944 6765l14-2 15 1 15 3 15 5 10 5 10 6 10 8 8 9 8 10 7 10 7 15 4 15 3 15 0 15-1 15-4 15-5 15-7 15-5 10-6 10-6 15-5 15-2 15-1 15 0 15 1 15 1 15 1 15 1 15 1 15 1 15 1 15 2 15 2 15 4 15 5 15 5 10 5 10 6 10 7 10 7 10 8 10 12 9 15 5 15 0 15-1 13-3 17-4 15-5 15-5 15-5 15-5 15-5 15-5 15-3 13-3 17-3 15-1 15-1 15 1 15 2 15 4 15 8 10 9 7 11 2 15-3 15-6 13-8 12-7 9-10 10-10 9-9 7-11 8-10 6-10 7-10 5-10 6-10 5-15 7-12 6-11 5-11 5-11 5-11 5-12 5-11 5-11 5-11 5-12 5-11 5-11 5-12 5-11 5-11 5-10 5-11 6-10 5-10 6-10 5-10 5-15 7-15 6-13 5-12 4-15 4-15 4-15 2-15 2-15 2-15 0-15 0-15-1-15-2-15-2-15-4-15-6-10-5-10-7-10-9-8-12-5-15-1-15 3-15 6-15 5-10 6-10 5-10 6-15 2-15-1-15-1-15 0-15 2-15 4-15 6-15 5-10 6-10 8-10 7-9 10-9 10-10 8-7 10-10 7-9 5-11 5-15 2-15 0-15 0-15 0-15-1-15 0-15-1-15 0-15-1-15-1-15-2-15-3-15-5-15-6-15-7-14-5-11-5-12-4-13-3-15-2-15 1-15 2-15 5-15 6-14 6-11 8-10 10-10 11-9 9-6 11-5 15-5 1 0z" fill="none" stroke="#000" stroke-width="58" stroke-linejoin="round" opacity="0.055"/>
<path transform="scale(.1)" d="M1508 6675l15-4 15 0 15 3 15 6 10 6 10 9 10 10 7 10 6 10 7 15 5 14 4 16 3 15 1 15 0 15 0 15-1 15-2 15-2 15-1 15-2 15-1 15-1 15-1 15-2 15-2 15-3 15-4 15-5 15-6 15-5 11-9 14-9 10-11 10-11 6-15 2-15-2-10-6-10-7-10-12-8-11-5-10-7-15-5-15-4-15-3-15-3-15-2-15-2-15-2-15-2-15-2-13-3-17-4-15-2-15-3-15-1-15-1-15 1-15 2-15 3-15 4-15 7-15 5-10 7-10 8-10 11-10 11-8 10-5 5-2zM944 6765l14-2 15 1 15 3 15 5 10 5 10 6 10 8 8 9 8 10 7 10 7 15 4 15 3 15 0 15-1 15-4 15-5 15-7 15-5 10-6 10-6 15-5 15-2 15-1 15 0 15 1 15 1 15 1 15 1 15 1 15 1 15 1 15 2 15 2 15 4 15 5 15 5 10 5 10 6 10 7 10 7 10 8 10 12 9 15 5 15 0 15-1 13-3 17-4 15-5 15-5 15-5 15-5 15-5 15-5 15-3 13-3 17-3 15-1 15-1 15 1 15 2 15 4 15 8 10 9 7 11 2 15-3 15-6 13-8 12-7 9-10 10-10 9-9 7-11 8-10 6-10 7-10 5-10 6-10 5-15 7-12 6-11 5-11 5-11 5-11 5-12 5-11 5-11 5-11 5-12 5-11 5-11 5-12 5-11 5-11 5-10 5-11 6-10 5-10 6-10 5-10 5-15 7-15 6-13 5-12 4-15 4-15 4-15 2-15 2-15 2-15 0-15 0-15-1-15-2-15-2-15-4-15-6-10-5-10-7-10-9-8-12-5-15-1-15 3-15 6-15 5-10 6-10 5-10 6-15 2-15-1-15-1-15 0-15 2-15 4-15 6-15 5-10 6-10 8-10 7-9 10-9 10-10 8-7 10-10 7-9 5-11 5-15 2-15 0-15 0-15 0-15-1-15 0-15-1-15 0-15-1-15-1-15-2-15-3-15-5-15-6-15-7-14-5-11-5-12-4-13-3-15-2-15 1-15 2-15 5-15 6-14 6-11 8-10 10-10 11-9 9-6 11-5 15-5 1 0z" fill="none" stroke="#000" stroke-width="37" stroke-linejoin="round" opacity="0.055"/>
<path transform="scale(.1)" d="M1508 6675l15-4 15 0 15 3 15 6 10 6 10 9 10 10 7 10 6 10 7 15 5 14 4 16 3 15 1 15 0 15 0 15-1 15-2 15-2 15-1 15-2 15-1 15-1 15-1 15-2 15-2 15-3 15-4 15-5 15-6 15-5 11-9 14-9 10-11 10-11 6-15 2-15-2-10-6-10-7-10-12-8-11-5-10-7-15-5-15-4-15-3-15-3-15-2-15-2-15-2-15-2-15-2-13-3-17-4-15-2-15-3-15-1-15-1-15 1-15 2-15 3-15 4-15 7-15 5-10 7-10 8-10 11-10 11-8 10-5 5-2zM944 6765l14-2 15 1 15 3 15 5 10 5 10 6 10 8 8 9 8 10 7 10 7 15 4 15 3 15 0 15-1 15-4 15-5 15-7 15-5 10-6 10-6 15-5 15-2 15-1 15 0 15 1 15 1 15 1 15 1 15 1 15 1 15 1 15 2 15 2 15 4 15 5 15 5 10 5 10 6 10 7 10 7 10 8 10 12 9 15 5 15 0 15-1 13-3 17-4 15-5 15-5 15-5 15-5 15-5 15-5 15-3 13-3 17-3 15-1 15-1 15 1 15 2 15 4 15 8 10 9 7 11 2 15-3 15-6 13-8 12-7 9-10 10-10 9-9 7-11 8-10 6-10 7-10 5-10 6-10 5-15 7-12 6-11 5-11 5-11 5-11 5-12 5-11 5-11 5-11 5-12 5-11 5-11 5-12 5-11 5-11 5-10 5-11 6-10 5-10 6-10 5-10 5-15 7-15 6-13 5-12 4-15 4-15 4-15 2-15 2-15 2-15 0-15 0-15-1-15-2-15-2-15-4-15-6-10-5-10-7-10-9-8-12-5-15-1-15 3-15 6-15 5-10 6-10 5-10 6-15 2-15-1-15-1-15 0-15 2-15 4-15 6-15 5-10 6-10 8-10 7-9 10-9 10-10 8-7 10-10 7-9 5-11 5-15 2-15 0-15 0-15 0-15-1-15 0-15-1-15 0-15-1-15-1-15-2-15-3-15-5-15-6-15-7-14-5-11-5-12-4-13-3-15-2-15 1-15 2-15 5-15 6-14 6-11 8-10 10-10 11-9 9-6 11-5 15-5 1 0z" fill="none" stroke="#000" stroke-width="18" stroke-linejoin="round" opacity="0.055"/>
<path transform="scale(.1)" d="M1508 6675l15-4 15 0 15 3 15 6 10 6 10 9 10 10 7 10 6 10 7 15 5 14 4 16 3 15 1 15 0 15 0 15-1 15-2 15-2 15-1 15-2 15-1 15-1 15-1 15-2 15-2 15-3 15-4 15-5 15-6 15-5 11-9 14-9 10-11 10-11 6-15 2-15-2-10-6-10-7-10-12-8-11-5-10-7-15-5-15-4-15-3-15-3-15-2-15-2-15-2-15-2-15-2-13-3-17-4-15-2-15-3-15-1-15-1-15 1-15 2-15 3-15 4-15 7-15 5-10 7-10 8-10 11-10 11-8 10-5 5-2zM944 6765l14-2 15 1 15 3 15 5 10 5 10 6 10 8 8 9 8 10 7 10 7 15 4 15 3 15 0 15-1 15-4 15-5 15-7 15-5 10-6 10-6 15-5 15-2 15-1 15 0 15 1 15 1 15 1 15 1 15 1 15 1 15 1 15 2 15 2 15 4 15 5 15 5 10 5 10 6 10 7 10 7 10 8 10 12 9 15 5 15 0 15-1 13-3 17-4 15-5 15-5 15-5 15-5 15-5 15-5 15-3 13-3 17-3 15-1 15-1 15 1 15 2 15 4 15 8 10 9 7 11 2 15-3 15-6 13-8 12-7 9-10 10-10 9-9 7-11 8-10 6-10 7-10 5-10 6-10 5-15 7-12 6-11 5-11 5-11 5-11 5-12 5-11 5-11 5-11 5-12 5-11 5-11 5-12 5-11 5-11 5-10 5-11 6-10 5-10 6-10 5-10 5-15 7-15 6-13 5-12 4-15 4-15 4-15 2-15 2-15 2-15 0-15 0-15-1-15-2-15-2-15-4-15-6-10-5-10-7-10-9-8-12-5-15-1-15 3-15 6-15 5-10 6-10 5-10 6-15 2-15-1-15-1-15 0-15 2-15 4-15 6-15 5-10 6-10 8-10 7-9 10-9 10-10 8-7 10-10 7-9 5-11 5-15 2-15 0-15 0-15 0-15-1-15 0-15-1-15 0-15-1-15-1-15-2-15-3-15-5-15-6-15-7-14-5-11-5-12-4-13-3-15-2-15 1-15 2-15 5-15 6-14 6-11 8-10 10-10 11-9 9-6 11-5 15-5 1 0z" fill="#fff" stroke="none"/>
<path transform="scale(.1)" d="M647 6732l-10 335 8 142-10 98 1 157 1 98 2 28 8 23 22 18-1-15 4-35-12-27-9-30 13-56-9-13 17-1 1-6-12-22 5-169-8-89 8-6-1-15 7-2-15-20-3-103 18-6-22-128 15-61-4-20 12-186 13-33-4 117 5 1-7 178 12 229 7 71-7 32 3 26-14 3 9 32-5 23-9 5 14 8-10 11 3 18 7 0 6 25-17 13 10 16-1 9 1 0-11 14 9 23-6 3 16 12-3 12-11 6 15 24-10 11-13 2 23 9-8 9-14 9 44 92 0-2-7-66-6-9 5-23 5-8-7-10-8-8 22-3-12-2 6-1 2-14-7-12 8-7 3-11-12-13-11-1 0-14 14-14 8-9-7-32-5-5 13-1-10-5 1 0-12-12 20-20-21-1 17-1 1-14-3-16 6-10-22-33 1-15 6-21-1-58 14-2 0-59-16-76 14-38-10-1 6-18-7-4-2-9 1-2 13-17-8-66-10-37 11 0 5-7-16-12 0-9 21-1 1-116 18-23-11 44 13 17 3 11-5 40-8 6-2 16-5 20 7 62 14 2-13 35 8 0-5 2 9 4-15 3 17 15-23 6 22 8-2 10-17 14 18 5-22 13 7 39-4 33 6 19 13 8-13 22-2 22 16 15-2 11-2 19-16 12 15 2-7 27-4 14 14 29-13 2 16 11-4 9-18 2 18 1-19 3 2 6 17 0-13 17-5 4 10 1 0 1-1 2-7 4 4 23 6 3-5 19 5 5 3 0-5 4-4 8-6 7 13 4-10 4 4 7 1 7-3 24-5 7 17 2-6 2 3 6 0 8 4 5 1 0-2 10-1 10-10 12 8 3-7 2 10 7 2 20 3 30-2 23-6 54 14-4 18-17-13-32 1-6 12-11 1-36-17-6 10-11 2-5-8-2 8-2-7-1-4-9-7-1 2-2 13-1-11-9 16-2 3-2-21-3-2-6 15-2-7-3 12-1 2-1-13-5 4 0 3 0 3-1-10-6 5-18-5-2 10-1 2-4-14-3 14 0-22-3 23-1-17-1 11-3-2-6-11-3 10-4-9-1 6-9-4-2 8-7 7-2-8-3-3-12-11-1 21-10-17-1 14-14-14-15 6-5-1-13-1-2 14-2-16-3 6-1-3-9 1-10 8 0-2-6-14-1 8 0 5-4 8 0-8-15 4-1 0-6-11-3 13-2-3-1-17-4 19-11-6-2-4-26-10-1 12-21 4-10-3-5-11-33 22-2-1-16-13-42-1-11 3-18 10-9-4-37-17-13 18-3 2-9-14-32 11-26-7-37 9-11-20-3 11-1-7-2 20 0-8-1 8-9-24-7 1-6 17-14-12-13 5-11 7-8-2-4 2-88 10-173 1 50 18 82-14 12-5 6 13 17 7 21-21 33 11 5-4 27 0 3 3 1 3 0-8 18 13 12-3 6-1 5-9 13-5 7 6 4 9 2-10 11 9 10 6 4-22 28 12 3 7 2-9 2 4 8 3 5 7 32-10 23 1 7 7 4-22 7 10 14-5 4-2 6 10 1-4 3 9 12-14 23 0 7 9 9 8 17-3 7 1 2 5 14 0 8-8 11 5 9-12 28 2 3-2 1 15 0-17 21 3 3-5 5 11 1-11 3-5 9 5 2-3 5 13 1 7 3-2 1-8 9-11 6 17 1 4 4-11 1 10 4-6 8-12 1 12 0 2 2-2 1-12 6 19 1-3 10-1 4-12 1 12 0-11 3 9 0-8 6-5 9 13 0-9 3-5 2 17 3-15 3 13 1-4 3-11 5 19 4 2 2-7 1 5 3-13 1 0 7 16 0-21 1 21 6-22 1 16 2-10 1 10 0-14 2 10 5-4 1 9 4 4 1-6 4-1 3-6 11 11 1-21 1 16 0-2 1 10 4-13 1-2 1 15 1-5 3 5 2 0 1-20 1 12 4-15 1 19 0-18 2-1 1 5 0 9 0-8 3 9 2-12 1-1 2-2 19 1 3 3 2-1 27-3 15 2 4 3 11 10 0 7 7-5 3-14 5 4 6 12 2-8 5-4 7 5 3 3 1 7 13-23 24 8 1 0 6 3 10-8 12 32-7 0-6 0-13 3-17 3-4-16-13 2-1 6 0 15 0-20-8 8-14 6 0-10-3-3-1 2-1 2-3-4-2-2-6 2-113-4-8 8-9-6-1 5 0 4-3-8-3 4-1-4-13 6-2 0-2-6-8 7 0-6-3-3-6 6-2 0-2 3-16-3-3-2-11-4-2 11 0-7-1 1-2-3-6 5 0 3-3 2-1-3-5-1-6-6-1 14-2-15-1 2-1 20-2-13-4 9-3-13-2-7-2 7 0 1 0 13-2-13-3 3 0 11-2-6-2-10-1 16-1-7-1-12-3-3-1 3-1 13-4 1-3-8-1 2 0 5-1-16-1 21-1-17-2 11-15 7-1-18-7 18-4-9-3 6-1 5-5-20-16 8-3-11-3 4 0 7-2 4-1-8-4-5-4 16-10-1-11 5-1 0-1-20-32 0-2 17-18-5-4 2-2-3-11 7-9 3-5-11-7 3-6-1-14 7-10-2-17 1-3-1-9-19-5 20 0 3-3-8-2-10-9-1-2 11-1 8-4-12-8-6-11 11-3 2-4-6-1 7-3-9-7 2-6-10-1 14-3 1-1 6-9-20-4 19 0-18-2 7-1-12-5 16-3-14-1 5-1 0-1 0-1 4-6 3-2-10-1 7-7 4-4-4-4 4-1-1-4 9-7-8-1-9-4 4 0 8-18 2-17-3-7-1-1 6-3-8-4 4-3-3-1-1-2 4-20-1-18-16-3 0-15 14-2 1-12-7-13 3-19-9-24-3-5 13-3 10-155 6 144 17 24-4 21-6 3 13 16-12 15-6 4 1 1 6 1-1 7 6 8-6 5-3 9 8 8 2 0-12 3 6 3 11 9-24 2 12 4 12 0-20 10 16 8-15 1 1 1 7 2-13 2 4 0 20 0 0 3-13 3-3 2-1 1-6 7 4 0 19 2-16 5-5 3 4 0 9 0 1 0 1 10-14 1 6 1 6 0-10 2 10 0-13 1 6 0 15 0-15 1 7 1-6 3 10 2 4 0-14 1 8 1-1 2 4 2-13 3 14 0 0 1-11 2-6 1 3 0-4 4-1 6 10 0 10 1-23 1 19 3-13 3 2 2 1 0 8 2-4 1-3 2 2 1-1 6-4 1-5 5 4 0 11 6-7 5 5 1-12 2 6 2 10 0-14 3 2 0 13 2 3 0 0 4-2 3-4 3 3 1-7 1 7 0-8 2 5 2-11 4 3 4 11 0-4 2 2 1 2 0-9 1 12 1 0 2-5 1-7 4-7 1 12 0-14 1 2 0-3 3 21 1-5 1-9 2-7 1 1 0 17 2-15 1 7 1 13 5-20 3 7 3-6 3-1 11 18 6-21 1 10 1-8 1 3 0 7 3-8 7 18 1 0 2-15 5-5 3 16 14-9 5 5 0 5 2-10 4 6 0-15 2 21 4-9 1 7 4-11 6 12 8-11 3 2 3 9 1 2 1-16 1 1 0 2 0-3 11 12 4-3 1-10 4-2 1 2 0 7 0-7 2 10 9-9 3 4 2 13 4-10 5-1 4-2 2-10 2 17 7-6 1 9 1-17 6 8 2-4 2 1 8-5 3 7 5 13 0-17 4 8 1 5 0-1 6-1 9 3 0-11 2 1 0 3 1-8 4-6 1 13 0-11 5 13 3 9 0-22 10-1 2 2 0 13 0-16 1 24 0-16 2 6 0-4 1 1 0 4 2-4 5-9 2 8 1 5 0-13 278-1 3 14 2-10 5 13 6-2 3-4 2 10 7-12 4 3 14-7 12 1 0 12 8-14 1 14 26-6 39 29 40-7-71-10-32 5-8 5 0-7-2 20-1-16-6 10-2 1-3-3-6 5-2-1-10-14-4 11-3 8-4-5-3-11-1 9-4-12-1-5-305 8 0 6-8 4 0-15-3 0-1 18-6-2-1-3-3-7-6 12 0 1-1-9-9 1-2 6-2-3-3-9-2 5-1 0-4-6-4 8-4 7-7-13-3 5-1-8-1 1-2 4-3-8-2 7 0 6 0-12-1 11 0 3-3-14-1-2-1 12-2-10-7 13-2-9-9 8 0-13-7 18-1-6-13-3-1 7-4-12-1 16-2-6-3 7-2-24-4 6 0 12 0-12-6 5-10 11 0-8-1 10-2-21-1 8 0 9 0-4-6-12-1 5-4 14-1-6-1 2-3 0-3 5-3-12-1-1-3 2-4 7 0-6-3 1 0-4-4 2 0-3-5 12 0-14-4 9-1-9-1-3-1 19 0-18-1-5-5 5 0 17-4-5-2 4-1-22-3 15 0-15-5 16-1 1-2 6-2-16-2 9 0 2 0-18-3 18-6-3-1 4-1-14-5 10-1 8 0 1 0-14-2-10-3 0-1 8 0-1-2 16-3-3-1 1-2-15-5 5-1 5 0-3-1 1 0 1-1-2-3-11-1 10 0-6-2 11-2 1 0-18-1 2 0 9 0 0-3 9 0-3-2-5-2-7-2-3-1 1-2 12-3-13-1 13 0-13-3 11-3-6-5-6-1 3 0-3-4 10 0-10-2 6-1 1-3-1-12 3-1-4-2 3-5-9-1 0-3 1-3 8 0 0-1-9-1 3-3-3-4 1 0-1-1 6-3-6-2 9 0-6-1-2-8 0-4 7-10 4 0-12-5 1-3 2-1 5 0-3-4 10-10 7 0-21-1 13-1 4 0-1-3-17-1 10-1 0-3-1-3 8-2 1-1-14-2 9 0-10-2-1-2-2-2 24-2-19-6 19-1-3-3-6-5 5-3 4 0 0-5-23-1 17-4-17-2 2-10 11-6-12-2 0-5-2-2 14-21 9-7-8-5 4-12-3-6 7-9-22-2-1-22 1-8 21-94 0-45 3 88 13 6-4 35-9 8 11 15 0 18 13 9-5 5 1 9-3 6 6 7 0 2-15 3 4 3-12 5 7 2 11 1-12 4 17 12-18 5 16 0-5 3-16 1 24 2-6 1 1 2-15 1 2 2 11 6-2 4-12 3-2 6 11 0-12 3 13 1-12 2 7 3 13 0-10 1 11 0-7 1 5 0-15 4 3 0-2 1 8 2-13 1 5 1 0 1-5 6 2 6-2 4 0 1 0 148 6 0-7 1 0 2 9 6 5 0-13 1 1 0 10 8-11 1 4 5 3 1 9 0 4 0-18 2 9 2 7 0-10 4 6 0-6 4 14 1-22 1 6 0 16 4-15 1 2 1 2 1 6 0-12 5 3 1 10 0-8 2-1 1 0 4 8 1 1 1-18 1 23 1-11 1 10 0-22 2 1 0 3 1 12 3 7 0-10 1 5 0-8 1 8 0 3 3-4 1-11 1 6 2 3 2 1 0 5 3-7 4 5 1-5 1-13 1 8 2 13 0 1 2-20 1 17 1-4 4 1 0-14 5 5 0-6 1 19 0-14 2 7 1-9 1 1 2 11 0-14 3 16 3-3 3 6 2-19 2 7 0-3 2 15 1-17 3 4 2 4 4 2 3-6 1 3 0 0 1-9 5 6 7 2 0-8 1 9 1-8 1 6 0 3 2 4 5-13 2-2 5 19 0-18 1 5 0 7 0-16 1 15 0 5 2-2 2-7 1 3 0 7 4-9 1 11 0-13 1 13 1-2 1 1 3-10 6 9 0-12 5 11 0 1 2-16 1 6 0 4 1-12 1 3 3 3 1 7 1 7 2-12 1-9 1 17 1 4 0-3 4-4 1-15 1-1 3 7 0 3 4 3 1 5 0-16 1 7 2 1 1-10 1 2 0 12 1-10 2 1 3 6 0-5 1-4 1 4 1 15 330-7 4-12 3 7 0-8 4 1 7 19 1-5 1-16 1 23 1-10 2-6 1 12 3 0 1-6 3 6 74-13 7 12 3 21-73-5-13 13-6-10-11-9-2 10-4-9-2-2-1-2-1 17-1-14-2 13 0-16-359 1-6-1-6 1-2 3-13 1-6-1-3-1-1 0-5 0-4-3-4 1-1 3-7 1-15-4-1 1-2 1-5 1-9-1-6-2-3 1 0 0-3-2-2 1-19 1-6-1-3 0-3-1-13 0-2 0-9 0-1 7-242-2-2 9-2-14-1 20 0-9-1-1-3 2-5-5-1 17 0-12-4-5-1 13 0-7-1-5-2 9-2 6 0-11-4-1-3-1-1 14-1-23-1 7-3 15-3-6-2-7-7-7-1 14-7 0-5-10-3 12-6-14-7-3-6 16-36-4-2 6 0-13-21 16-18 1-7-10-37-2-233 14 230 23 1-24 7 10 11 9 11-10 55 15 3-5 7-11 28-2 12-5 5 11 0-5 2-1 1 16 2-9 1 1 1 6 2-5 2-8 3 15 0 1 1-13 4 12 0-22 2 19 3-10 1 11 4-12 2 4 5 8 0-3 2 0 1-17 1 18 3 1 3 5 3-16 1-4 6 8 0-7 5-5 1 11 774-5 2 7 3 8 0-7 3 2 1-4 6 2 23 10 6-17 4 3 27 17 31 11-3 4-39-6-20 7-1-11-9 16-20-18-2 7-4-4-6 9 0 4-3-16-3 1-1 2-777-1-1 4 0 5 0-13-1 9-4-8-1 9-1-6-1-2-2 11-4-15-1 20-1 2 0 0-1-6-2 4-1-13-1 3 0 11 0 2 0-4-1-2-1-11-3-2-1 2-1-1-1 4 0 3-3-7-5 6-4 11-2-3-3-7-1 6-8-12-1 10-16-5-21 4-3 6-11 0-1-8-25-7-8 11-1-4-2-1-86 18-28 8 38-6 99 9 1 1 3-13 1 7 2-12 3 22 1-11 28-11 1 6 11-6 1 8 3-2 9 8 4 10 0-3 5-20 1 20 6-9 3-8 1 3 0-6 11 1 1 2 2 4 1 11 0 2 1-14 2 3 1-8 2 10 0-4 5 11 1 4 1-19 3 2 0 10 0-8 1-4 2 12 0 7 1-18 3 14 0 2 0-5 1-11 1 16 1-3 2 5 1-1 777-17 26 8 20-1 33-7 2 6 9 3 63 22-118-4-8 2-2-3-6 4-10-8-12-1-1 7-3-2-7 15-3-12-1 5 0 6 0 0-9 4-738-3-5-11-5 9-2-8-2 3 0 10-1-14-4 6-1-14-1 9-2 9 0-8-2-12-1 18-5-4-2-5-2 9-11-7-7 8-3 1 0-19-2 21-6-18-4 3-6 14 0-20-6 4-2-5-2 15-2 4-2-13-3 7-2 7-12-12-20 13-2 1-14 2-17-21-13 6-7 22-173-3 195 20 37-18 4 18 7-13 2-4 7-3 6 3 5 8 0 2 1-7 5 4 2-7 2-5 2 21 0-17 2 16 17-19 8 15 0-3 1-2 6 11 1-17 2 14 3-15 3 9 3-6 1 13 1-13 5 8 0 6 1-9 1-3 4 13 3-7 1-5 2 8 0 4 3-20 1 18 10-18 1 11 0 7 1-7 2 5 0-9 1 0 1 11 3-4 4 2 1 0 2 1 4 4 1 0 147-3 6-4 11 6 4-9 1 5 3 1 0 0 2-1 1 2 1 2 0-8 1 5 5-13 4 4 0-4 1-2 4 13 4-12 1 13 0-13 1 13 1-4 1-9 2 0 4 7 0 1 2-10 1 10 2-2 1 3 0-7 5 1 1 12 0-9 2 12 2-8 1 8 0-21 1 6 0 0 1 7 0 8 1-7 1-8 2 7 2 4 0-9 4 3 0 9 2-17 1-1 1 13 0 1 3-9 4-3 1 4 0 5 0-9 2 1 1 9 0 6 2 0 1 1 0-9 1 9 4 0 3-18 2 9 1-3 1-6 2 13 0 1 2-9 1 2 0 2 0 1 0-2 1 1 7 1 0 3 0 2 1-11 2 1 0 9 1-6 3 1 0 1 2 0 3 4 0-2 1 6 1-8 3 0 2-4 1 5 2-9 1 16 0-3 4-9 7 0 1 6 0 6 0-12 3 6 2-1 2 7 4-3 2-10 5 8 1-8 3 4 0 5 5-1 3 3 0-10 1 0 1 7 0-8 2 3 4 6 4-7 1 3 4 2 1 1 0 1 0 3 0-6 11 5 0-1 1-1 3 0 1 2 4 2 3-4 2 0 1 1 0 1 6 0 1-19 320 17 2-19 1 19 4-5 3 2 6 2 12-8 17 13 5-22 38 22 35 5-43 13-11-5-5-10-11 20-11-13-8 5-3-9-14 3 0 15-1-8-1-14-4 5-6 9-1-1-2 4 0 4-8-16-3 11 0-13-3 11-1 2-4-1-2 8-259 0-2-4-1-1-1 0-1 0-4-6-3 6-1-3-2-4-1 1-5 1 0-5-2-1-2-5-4 16-1 2-4-12-1 7 0-16-2 1 0-1-1 11-1-2-4-7-3 0-2-1-2 8-2 6-2 8-1-14-1-7-2 6 0 7 0 6 0-10-2-10-6 13 0 6 0 1 0-14-1 1 0-3-2 14 0-2-1-4-4 11 0-20-3 1-2 17 0-17-1 16 0-21-3 19 0-17-1 11-2 2 0 3-4-16-3 10 0-8-2 6-2 1-1-5-1 5 0-8-1 9-1 4 0-1-4 2 0-12-2-5-3 8 0-5-2 9-2 6-2-7-1 13 0-6-1 1-2-1-1 1-3-4-2-14-1 11-5-9-4 8 0 9 0-20-2 8-2-1-1 7-2 0-4-1-1 0-1-12-1 1-1 5-1 14 0-21-1 15 0-5-3-1-1 0-5 12-2 3 0-18-6 13-5 0-1-17-1 5 0 9 0 6-2 2-1-3-2-4-1-10-1-4-2 20-3 1 0-5-4-2-4 4 0-2-2-19-1 6 0 15 0-18-1-3-1 9 0 5-1-9-1 3 0 2 0 13 0-13-1 10 0-8-1-12-2 20 0-14-1-3-2 8-2 7-3-17-3 17 0 5-1-7-1 1-1 2 0-13-1 12-1 3 0-6-1-3-1-9-8-2-1 20 0-4-1-2-2-14-2 15 0 4 0 4-1-20-6 19-2-21-1 2-1-4-1 4-3 14-3-17-1 12-1-12-5 19 0-5-2-1-1 7-1 3 0-24-1 3-7 10-1-11-1 15 0 7 0-1-1-5-1 4 0 2 0-19-2 5-2-7-1 4 0-2-1 1 0 11-1 4-2 2 0-13-2-9-1 2-4 9 0 9-1-18-1 5 0 8 0-8-2 7-1-7-1 11 0 1-4-5-1 5-2-10-1 8 0-7-1 2 0 2-2 2 0-6-1 1 0 3 0 8-1-1-2-1-4 0-3-2-8 3-5 2-22-3-1 2-4-3-3 1-17-1-2 3-1 0-4 1-2-1-1-6-3 3-4 3-4-10-1 1-2 6 0 1-1-10-1 11-3-14-3 7-3 1-3-10-2 14 0-1-1-19-4 8-1-4-2 8-2-6-1-5-5 21-1-2-1-12-1 12-1-15-3 13 0 3 0-6-3-8-1 7-6 2 0-3-12 4-6-15-6 16-1-12-2 6 0-10-1 0-3-2-8 4-5 19-13-5-1 5-3-7-7 4-4-16-8-4-3 5-11 15-7-4-5-1-8-10-3-3-17 9-7 6-7 7-2 10-111 15 87-7 17 6 24-23 10 15 3-1 7-3 3-5 38 8 7 7 3-15 8-3 3 20 2-14 7 10 11-12 1 12 3-17 6 0 7 17 0-12 1 2 9-4 12 19 3-2 1-17 2 1 2 15 1-20 1 9 1 10 0 3 0-17 1 10 0-12 3 4 3-5 2 9 0-8 1 18 0 0 3 2 5-24 1 7 0 1 0 7 5 5 0-10 2 3 0-4 1 12 0-19 1 4 0 13 2-4 1-15 2 20 0-3 1-2 2 9 5-1 2-6 3-13 2 2 0 8 0 3 0-13 3 5 1 14 0-15 1 1 0-1 1 4 0 3 0 2 3 7 2-5 3 4 0-4 1-19 3 23 2-20 2 2 0 10 1-6 5 6 1-15 2 7 0 6 0 11 0-8 1-5 1 2 0 5 0-18 1 22 3-19 1 2 2 19 3-24 4 21 0-1 3 2 0-4 1 2 0 3 1-19 3 10 2 2 3 1 0-11 5 17 4-8 2-12 2 7 1 1 3-2 3 9 1-14 1 8 0-7 1 8 0 11 0-18 1 7 0-11 2 2 0-4 2 6 1 11 4-9 2 13 2-21 1 19 3 4 0-15 1 11 6-17 3 4 2-6 2 8 1 9 0-11 3 5 2-10 1 13 0-14 5 7 0 7 0-6 1-4 1 20 0-7 1-17 1 6 3 8 8-3 1-6 4 5 0 3 1 10 0-10 8 11 1-8 2 2 3 1 0-14 4-1 1-2 5 0 1 2 0 15 1-9 3 3 4 9 6-9 1 10 3-16 7 4 2-10 1 12 2-13 2 15 0-11 2 18 3 0 5-14 2 2 1-7 2 1 3 9 0 2 0-8 1 8 0-6 3 11 1-18 4 20 4-9 6-10 1 14 0 4 1-12 1 4 0-7 4-2 2-1 4 5 4 3 1 12 0-22 1 2 0 2 1 2 0-3 1 11 1-7 3-4 1 19 2-7 1-12 2 13 0-9 2 4 7-3 2-3 1 2 0 6 1-4 6 3 2-13 2 12 0 2 1 6 3-2 2-17 1 5 0 3 1-6 2 4 0 7 1-11 2 18 0-14 1 0 1 12 1 1 4-9 3 5 0-11 2 4 2-2 4 4 1 10 0-1 1 1 0 1 1-10 3 1 2-5 1 10 2-16 1 2 7-2 1 11 0-8 2 18 0-2 2-21 1 17 1-10 2 15 3-19 1 8 6 1 1 6 2-18 1 17 0-13 1 0 2 13 1 1 1-4 2-7 1 7 1-14 4 5 1 3 1-6 1 9 1 2 1-8 2-4 1 12 0-11 1 14 0-11 1 15 0-13 1 15 1-18 5 8 1 9 1-5 3-6 1 3 0 6 6 0 2-2 2 4 224-1 2-3 1-6 1 5 3-7 1 8 1-17 1 20 4-12 2-8 9 3 1 5 16 13 14-7 11 5 3-17 22 4 34 19-34 6-22 6-7 11-1-23-30 20-6-8-6 4-2-14-1-2-6 6-1 5 0 5 0-6-4-7-1 16-2 1-1-16-2 13-15 7-2-5-196-11-4 2-1-6-1 1 0 19-1-23-3 16-2-8-2 6-2-8-1 2-1-6-4-3-3 4 0 11-2-7-2-8-4 5-1 0-3 18-3-11-1-6-2-3-5 14-1-8-4 12 0-16-1 13-1-4-1 7-3-16-1 12-1-7-3 14-1-17-3-7-4 18-2-5-10-7-2 8-2-13-1-1-6 9 0 9 0-7-3 2-5-12-2 7-1 10-1-16-2 16 0 5-4-22-4 9-1-7-2 19-7-10-5-7-1 7-6 11-5-15-1 13 0 1-5-9-3-12-1 14-1-4-4 0-5 4-3 2 0-4-18-10-2-1-1 4-5-4-13 1-2 9-4-12-2 1-1 18-3-19-1 18-3 4-1-6-1-8-1 4 0 10-1-2-2-15-7-2-3 19-8-14-1 11 0 3 0-9-1 1-6 2-3-13-5 21-3-11-2-1-2 7-3-11-7 2 0 10-3-20-1 1-12 6-4-1-5 1-1 9 0 0-3 1-3-6-3 10-3-21-6 22-1-22-1 18-2-11-2 14-1-18-5 6-2 11 0-11-1 4 0 10-3-17-1 3 0-2-3 5-1 4 0-14-2 1-2 8-1 11-1-20-1 20-7-20-2 7-3 15-1-12-3-12-3 1-6 14-2 9 0-15-1 11 0-4-1-4-1 7 0-9-2 11 0-14-3-2-1 2 0 6-8-3-5 3-2 0-4-5-3-8-4 0-1 2-1 6-4 16-1-8-5 6 0-21-1 4-8 3 0 15 0-4-1-2-2-1-4-1-3-11-9 15-2-7-1 1-1-11-2 18-1-9-2 13 0-15-3 2-3 11-14 2 0 0-1-17-3 0-4-7-1 2-2 20-3-13-12 6-2-6-2 2-9-6-1 3-20-1-22 5 0 5-2-8-4 2-27 1-2 9-4-6-6-13-38 5-18-1-1 17-12-3-5-14-26 4-29 3-143 16 210 8 78 8 3-15 3 6 0-1 14 5 8-12 1 1 10 5 4-9 4 6 21-4 11 11 1-2 8-3 2-2 3 12 8-3 3-15 12 11 2-5 3 5 7 12 5-19 1 11 2-15 3 1 0 23 22-23 2 2 3 8 11 13 0-19 3 11 3 8 0-10 4 6 1-13 1-3 1 17 2-15 1 1 4 14 4-9 3-9 1-2 3 2 0 17 2-12 4 9 2-15 1 8 9 1 4-5 2 1 2-1 2 12 1-9 1-5 7 14 0-8 5 7 0 6 2 1 9-13 1-7 3 4 1-6 3 0 2 20 0 1 2-6 1 1 4 2 1 0 2-19 4 15 0-1 2 8 0-8 7 8 2-15 4 14 5 0 3 2 0-23 1 15 0-11 2 9 4-11 8-2 6 12 2 2 0-6 1 5 0-2 1-11 3 1 14 6 4-8 4 9 3-1 8 12 9-1 1-19 1 8 0 1 0 13 4-8 1 5 4-13 4 10 0 1 0-14 6-3 3 2 1 7 5 5 2 2 6 1 9-7 2 7 2-6 3 10 0 2 2-23 2 18 5-14 2-3 3 12 2-3 1 8 1-10 3 1 8-1 1 7 3-13 2 13 0 1 3-4 3 2 5-6 12 16 0-18 7 6 3 10 0-6 1-9 1 8 0-14 1 22 3-14 2 3 6 11 0-7 3-3 2-9 10 14 2-16 6-1 11 0 2 3 0 6 0 2 0 10 2-19 1-2 2 6 0 11 0-6 3 0 3 10 0 0 3-2 3-1 3-19 3 23 1-12 6 6 1-2 1 7 0-19 2 4 0 1 0 8 0 5 0-8 3 10 3-16 4-5 194 18 0 1 1 3 2 0 7-10 1 10 3-6 2-15 3 3 3 12 0 1 11-12 1-4 16 7 16-9 11 20 1-13 9-7 37 34 4 4-57-1-24-12-4 2-16 1-10 0-2 3-2 5-3 0-8 10 0 2-3-17-6-7-2 15 0 4 0-15-2 19 0-20-186 2-2-5-2 13-2 0-1-10-1 14-3-3-2 5 0 4-1-1-1-6-3 7-2-13-5 10-1-11-1 9-3-9-4 2-4 1-1-5-6-3-3 17 0 2 0-19-2 15-1-18-1 12-6-10-1 2-1 15-2-7-2 8 0-18-2 6 0-8-2 20 0 0-6-1-12-6-1-7-3-5-8 8-1 6 0-16-3 3-2 9-2 12-4-21-6 3-5-5-1 20 0-17-1 6-2 3 0-13-2 7-4 16-2-1-2-12-2 12-2-16-1 4-1 14-5-4-13-4-2-16-5 4-1-3-1 0-2 21-13-1-3-9-1-6-21-4-6 14-2 1-4-14-7 6-7 2-2-8-1 14-1-14-3-3-4 20 0-10-3-6-3 2-2 18-1-8-2 8-9-17-5 6-1 7-6 1 0-12-5 15-1 0-1-11-3 10-12-21-6 2-18 19-6-16-5 9-6-7-7-8-2 11-7 12-7-23-5 22-2-23-8 12-2 9-4-2-4-11-1 10-3-4-4-4-4 1-19 13-2-4-3-5-5 2-4 5-3-20-10-2-3 5-13 2-2 8 0-10-2 3-4 3-5 1-4-6-12 14-4-3-8-17-5 22-10-1-26-12-14 1-3-6-1 2-34 14-17-5-252 10 9 5 194 14 12-1 80-7 5-8 8 6 9-3 11 5 18 13 10-21 12 5 6-7 5 3 1 0 2 11 6 8 7-20 12 2 18 6 20-1 24-9 18 11 3-7 2-2 2 21 6-19 17-5 2 2 40 3 2 15 7 1 0-17 2 18 1-20 4 15 10-8 7 1 9-2 1-3 9 5 7 0 9-9 3 2 10 4 0-3 3 20 11-9 1-1 4-6 6-2 7 13 1-4 3-14 3 11 1 1 3 1 5-7 4 14 6-4 12-11 4-6 3 11 2 9 14-11 5-5 3-2 5 8 3-10 9 18 1-2 8-13 2 6 5 13 1-1 1-2 8-7 4 1 5-6 3 17 0-12 1-6 4 1 3 13 0 4 2-4 1-19 2 10 0-2 1 2 6 2 2 4 1-15 1 10 4 2 0-14 1 8 3 15 4-18 2 6 2-2 7 3 0 3 2-13 1 1 0 8 2 0 4-8 1 2 1 12 0-5 1-3 1-6 188 18 1 3 1-9 1-8 5-7 1 0 14 3 3 15 4 0 4-17 3 0 1 15 13 7 34-23 25 7 72 34 14-3-149 0-7 6-12-6-4-9-20-1-1 18-1-8-2-8-7 15 0-13-2-1-1 2 0 15-14-19-170 1-4 2-1 1-1 2-1-5-2 9 0 3 0 0-2-8-1-9-1 11-12 5-2-10-10 18-1-7-2 3 0-15-1 1-1 7 0-4-1 3 0 8-3 2-2-18-7 8-1-11-1 3-2 9-2 7-3-10-2-1-1 15-2-11-2 10-2-17-4 11 0-11-11 1-2 15 0-2-9-14-5 4-2 8 0 4-1-21-2 19-8-16-7 13-8 3 0-16-10 1-2 5 0 1-4 2 0 4-14-5-3 2-9 6 0-3-14-15-8 11 0 2-6-7-9 2-8-10-8 5-5 12 0-12-3 8-4 3-1-16-5 9-4 2 0-9-2 20-4-18-5 13-8 0-5-9-5 4-4-11-4 9-12 10-17-12-1 14-4 2-11-18-2 5-7 4-4-14-2 5-1 0-2 13-1-6-18 10-9-8-5 6-9-21-6 12-3-11-17 11-3-10-2 14-1-9-3 13-10-11-14 13 0-3-21-12-16-2-27 4-22 12-114-10-3-7-13 24 92 19 8-21 8 11 35 8 40-10 33 14 6-13 5 11 6-18 26-4 51 2 6 20 3-21 1 11 4 0 5-7 6 15 18-2 2-11 3 10 1 3 8 4 4-17 15 7 7 0 28-9 5-5 12 3 11 5 4-2 12 4 1 10 6-10 10 8 0 6 4-14 2 10 5-13 8 8 1-10 16 11 1-7 21 2 3 10 4-20 4 0 6 4 1 5 3 1 9-2 4 2 4 9 3-12 1-3 1 7 0-11 1 5 0 14 0-18 2 22 1-18 9-4 7 0 4 4 4 14 0-10 11 14 0-12 7 10 1-17 3-2 2 14 2 4 1-13 1 2 0-4 2 7 0-13 1 2 0 16 0-14 3-1 5 1 1-2 1-2 1 4 0 1 3 19 167-7 8-4 1 8 1-18 3 11 1 0 1 6 0-6 3-1 5-13 3 4 3 16 1-17 7 16 1 0 8 2 9-19 39 17 88 13-109 17-6-2-4-2-1 3-13-3-4-6-16 5-9 4-3-11-5 3-1-13-1 9-1-11-1 4-1-1-3 5 0-5-1 1 0 9 0 1-3 2-7 2 0-14-169 4-4-3-1 13 0 3-2-21-4 11-1-9-1 8 0 10-2 2 0-21-2 16-3-3-8-9-3-5-3 7-2 10-18-13-8 18-1-17-3 19-2-16-2-1-9 11-2 5 0-13-7 0-9 2-5 1-4-1-2 8-6-11-2-3-3-5-17 14 0-3-28 10-9-17-9 12-23-12-1 12-6-12-15 18-3-1-2 1-45-11-5 6 0-17-9 19-4 4-41-11-3 6-23-17-4 4-3 7-13-12-2 6-18-4-12 5-28 16-39-1-11-6-45 6-98-6-43 29-2-3 94-13 33 7 3-7 13-5 17 7 4 5 38-2 24-9 11-1 16 20 5-14 40 9 3-14 31 1 25-1 35 0 10 7 5-6 46 18 26-18 7 19 19-7 15-14 13 14 10-2 9-3 1-3 8 1 3 7 5 2 1-11 1 7 3-2 7-6 3-1 3 14 0 4 5-6 2-6 6 12 7-9 9-6 1 7 7-4 2 4 1 9 1-11 1-9 12-2 1 12 3-8 1 0 5 9 1-13 1 12 0 12 3-17 1-3 1 9 1 7 0-3 2-13 2 2 0 5 3 10 0 3 1-9 1-9 3 0 1 6 0 5 1-5 169 12 2-24 4 24 4-13 13 7 15 5 17-16 28 15 29 9-10 0-30 9-32 2-13-17-13 19 0-14-6 1-15 15-3-2-6-2-1-8-155 1-3-7-1 16-1 2-4-12-1 5 0-6-3 14-4-8-3-13-1 18-4-12-2 2-5-7-2 11-2 8 0 2-4-21-3 14-8 0-2-9-9 11-1-10-1 14 0 1-5-13-2 9 0-13-7 6 0 4-1 8 0-13-2 3 0 0-1-9-3-4-1 21 0-8-8-6-20-2-9 1-2 2 0 2-2 0-2 11-8-5-10 5 0-21-2 0-53 3-5 20-6-18-9 11-5 5-2-17-2 9-2-11-10 2-18 7-21-11-1 11-5 7-24-15-2-2-8 22-18 0-7-2-1-9-6-13-15 6-11 9-58 0-11-14-5 20-27-3-9-16-26 8-155 20 125 12 0-3 10-7 47 17 6-15 15 14 23-16 31-6 16 22 8-21 4 4 12 17 17-22 26 21 2-17 2 6 9 1 16-10 20 9 30-10 41 17 11 2 6 2 54-14 6 11 5 2 13-15 2 14 0-1 3-5 25-14 2 13 5-8 5 10 18 5 0 2 1-21 1 20 0-14 6 17 6-18 5 10 1-6 1-9 2 22 2-13 2-9 4 14 0 7 1-12 3 9 0-15 4 15 2-17 4 2 4 3 1 15 0 1 152-16 4 13 0-19 2 21 1-9 3-13 5 11 0 3 0 10 1-23 4 1 17 15 1-12 8 14 31-4 65 14-86 3-25 8 0 2-10-6-3-3-7-7-10 18-4-9-4 2-4 11-4-13-132-2-2 16-3-5-1-18-4 3 0 9-4 8-2-8-1-9-1 16-5-11-1-7-12 3-10 7-5 4-7-5-2 10-1-15-15 1-5-5-5 6-12 16-25-13-23 13-8-5-56 4-10-23-9 15-2 7-13-19-5-2-15 13-55 1-1-14-7 23-3-4-11 4-5-6-2-18-2 9-19 6 0-1-4-4-16-8-1 21-2 0-7 1-23-12-6 7-26 3 0-19-3 17-6-14-11 17-7-19-2 3-13 6-4-9-15 19-1-1-39-3-48-18-38 18-45 14-117 4 124 4 41 3 7-6 57 11 4-22 30 10 0 3 1 7 0-18 10 5 3 13 16-19 3 5 9 8 6-8 3 4 0 10 4-10 1-6 7 8 2 10 1-17 9-4 5 18 6-5 9 8 3-19 1-3 4 19 0-8 5-12 5 21 0-1 3-5 12 5 3-8 8-6 4 10 1 3 7-18 1-1 13-1 2 4 6-1 6 17 6 1 3-7 3-9 1 19 9-17 2 4 1-11 20 21 5-21 1 16 2 8 3-2 8-3 4 5 3-9 1 6 1-8 2 11 2-1 1 0 2-7 3-2 11 6 0-10 6-2 1 8 1-8 9 16 1-3 4-1 1-9 49-8 5 20 3-19 14 18 1-7 76-7 10-4 3 5 0 10 2-14 4 15 2-7 3-13 1 22 5-15 1 7 5-11 1 16 6-1 4-12 3 7 1 9 0-18 11 20 2-21 2 4 1 10 0-1 2 1 0-8 1 5 0-12 1 19 0 2 2-22 3 21 2-17 2-4 3 7 4 15 5-22 1 19 0 4 0-23 2 4 4 10 1 2 1-2 1 6 99-3 5 1 0 4 0-23 15 4 6 19 1-17 12-6 30 21 32-13 21-4 27 43 25-21-67 20-12-20-2 10-12-4-8-3-20 20-22-17-4 13-4-10-1-1-7 8-16-13-1-3-6-1-3 9 0-2-6 9-2 3 0-7-2 7-2-5-3 6-8 1-8-4-4 7-2-7-18-2-11-1-1-6-4 2 0 2-2 12-2-20-1 11-1-7-1-6-1 13-1 0-1-10-1-4-1 16 0-11-1 5-2-7-2 3-1 14-1-21-1 3-1 11-6-4-5-10-8 5-4 6-3 13-8-21-5 6 0 4 0 3-8-5-1 12 0-2-9-21-2 21-2-17-1 1-13 12-7-16-7 15-4-12-7 3-1-3-24 11-1 6-11-14-6 6-22-8-2 6 0-5-1 5 0-9-2 19-13-1-5-13-1 17-5-20-4 14-5 4-10-15-1 4-2 9-4-1-4-13-1 7 0 9 0 0-2-2-3-4-2 2-1-1-1 4-1-4-3-10-6 16-5-2-1-9-5-11-2 8 0 12-7-7-1-14-1 10 0 5-3 3-8-13-1 4-6 8-1-12-3 10-15-9-2 18 0-22-3 11 0-13-1 23-9-23-3 21 0-15-1 0-3 17-2-1-1-12-1 6-5-5-1 7 0-17-2 6 0 3-2 2 0 9-2 3-1-9-2 6 0 1-1-8-5 9-2-19-1 15-1-1-6-15-2 20 0-8-6-5-1 3 0-5-2 6 0 4-3 5-1-14-1 2-1 2-1 5-11 5 0-17-2 9 0 3-6-18-4 22 0-18-2 10-2 5-1-3-4 7 0-19-1-1-3 5-1 11 0 2 0-19-5 15 0 5 0-13-2 14-1-10-1 6 0-12-1-5-1 18-2-4-3-7-2 5-1-8-1 10-1 5 0-2-1-5-4 5-1-16-7-1-1 19 0 0-5 3-4-13-1 2 0 5-1-4-3-11-2 20 0-11-1 0-2-4-4 5 0 3-2 1 0-13-1 12 0 7 0 0-2-1-4-13-2 14-1-12-1 1 0 4-1-14-2 19-1-13-2-8-4 17 0 4-6-5-6 3-2-8-2-2-2 7 0-5-7 8-5-19-1 8-2 1-1 7 0-9-1 17 0-20-2 19-2-20-1 7 0 1-16 10-5-20-2 13-1-2-6 10-2-10-4 5-6-16-28 5-1 1-20-3-22 14 0-5-85 24 88 10 14-7 7 5 6 0 3-6 14 0 6 4 3 2 11-11 3 15 2-9 10-11 4 9 4-3 3-2 2 16 0-18 4 11 0-8 2-7 3 8 5 13 0-12 2 5 1-6 3 4 7-7 1-4 1 4 1 4 4 4 1 2 0-12 2 10 0 7 2-15 1 1 1 2 1 5 0 9 0-13 1-10 1 5 0 6 2 6 0-4 2-3 1-8 2-1 4 12 0 2 1-7 2 9 3-16 4 11 1 4 1-9 1 2 0 6 2-3 2-3 1-9 10 7 1 6 2 0 1-13 4 7 1 1 2 3 0-6 7-4 1 9 1-7 6 2 5-3 13-2 4 2 0 6 2-4 5 0 4-4 3 7 1 1 1-3 7 2 0 0 2 1 1 2 1-4 2-2 4 0 5 3 1 3 2-7 1-1 1 7 1-7 8 0 1 5 0-3 1-2 1 10 2 1 0-8 1 2 1 1 0-6 1 7 1 1 0 4 0-8 1 5 0-8 1 2 0 7 2-11 2 16 3-11 1 10 1-9 1-1 2 9 0-16 2 3 0 11 3-13 1 4 0 11 1-14 1 7 0 7 0 4 2-4 1-4 3-2 3 2 2 4 1 4 3-4 1 7 0-4 1-2 1 6 0-21 3 19 2-1 4 3 0-20 3 19 0 1 5-13 1-2 1 1 0 11 1 4 0-6 1-5 1-13 2 17 0-4 1-7 1 3 3 12 0-12 2 13 0-6 1 4 0-7 1-12 1 15 0-6 1 10 2-18 3 20 1-13 2 5 0 4 3 6 3-24 4 15 0-7 3 14 1-7 1 0 1 2 0 2 0 1 0-20 1 12 0 5 1 4 0 2 1-10 2 0 2 8 0-11 2 4 3-10 2 3 2 1 0 6 2-6 4-5 1 9 3 4 0 1 0-6 2-4 4 6 2 5 2-5 1 9 1-7 3 4 4-14 4 15 1-13 5 4 2 8 0-11 2 12 2 0 5-7 7-6 4-6 2 19 2-10 12 14 5-22 1 14 0-8 1-7 3 7 0-8 2 17 10-7 11 12 2-21 22 1 18 22 7-24 19 4 7 5 1-2 3-5 12 10 4-9 3 7 4 14 1-21 1 13 0-13 6 18 1-19 6 7 1 13 1-21 17 5 4-1 5 1 3 17 8-10 4-2 1 1 4 1 2 4 2-14 5 12 7 3 4 2 3-18 1 13 6-4 1-8 1 11 8-7 7-3 2 3 8 12 0-11 12 11 3-11 4-4 4 9 7-4 12-5 65 16 34 17-20 8-78-12-13 15-16-8-6-6-9 12-12-20-9 15-16 6-1-19-3 4-2 7 0 8 0-5-6-10-8 16-8-9-4 5-2-16-13 18 0-18-3 19-3 1-7-20-1 1 0 19-21-23-8 24-7-10-14-5-4 5-4-1-7 9-3-7-2-7-4-3-4-1-3 14-3-2-4 7-15-22-3 10-1-11-14 17-2-14-2 1 0 20-6-11-3 5 0-16-7-1-1 14 0-1-3-14-1 17-3-5-2 2-2 9-2-6-3-17-1 8 0 1-1 13 0-9-2-3-4-5-2 4-1 3-1-10-3 14 0 5-1 3 0-8-5 2-1 6 0-16-1 6 0-3-1-2-2 6 0-2-1-12-1 6 0-2-3 15-1-10-1 0-3-3-4-7-5 12-1-1-1-11-1 3-1-2-1 11-2-1-4-8-1 1-4 4-5-6-3 6-12-4-5 3-2-4-4-3-2 0-2 6 0-1-1-1-2 0-5-1-6 1-1-2-3-1-2 2-6-3-8 1-6-1-202 4 0 1-1-3-5 6-3-5-1 8-1-9-2-2-1 13-1 1-1 6-2-9-1-9-1 4-1 6-1 5-1-11-1 11-4 1 0 1 0-13-1-3-1 0-2 4-3 8 0 7-2-5-1 4 0-10-2-5-1 8-3 6 0 2 0 0-1-3-5 0-2 3-3-3-5 1-2-10-1-2-4 6 0 8-11-18-1 13-3-4-5 5-3-16-1 21-2-17-4 15-6-15-3 0-3-3-19 10-41 10-32-4-11 27 20-12 17 14 14-13 4 9 21-12 4 12 1-2 14-14 7 16 4 4 5-2 7-6 3-13 2 3 1 18 0-4 3-9 5-9 5 12 0-8 2 3 0 3 7 7 0-12 1-1 3 1 1 12 4-8 2 3 0-4 1 2 4-8 1 3 1-4 1 18 0-10 1 14 0-4 4-19 3 18 0 5 0-18 2-2 1 2 0 4 2 2 0-12 8 0 4 0 347 5 5 1 2 2 1-4 4 10 11-7 4 12 0-4 1-3 5 7 1-6 2 8 0-21 1 2 5 11 4 11 0-7 1-13 1 1 1 0 1 1 3 5 2 6 0-12 8-3 2 1 3 16 4 1 5-6 4-2 6-12 9 5 2-5 5 9 2 4 2-7 15 8 0-2 23-4 2-3 2 1 7-4 5 0 3 15 0-13 1 12 0-3 1-2 2 13 2-1 3-3 2 4 3-16 8 2 1 7 2-9 2 8 1-14 3 12 5 2 2 6 9-18 4-2 18 14 1 0 3-10 3 1 0 11 30 4 1 2 2-13 16-2 6 9 12-1 8-6 8-7 17 4 2 33-71-2-17-9-1 11-27-13-3 17-4-16-5 20-4-21-2 12-4-15-1 2 0 13-7 2-6 4-3-15-7 5-3 9-1 1-7-17-2 5 0-3-5 13 0-7-3 8 0-7-3-1-18-5-3-6-9 8-6 7-12-8-2 6-5 1-2-1-7-12-1 10 0-10-4 0-2 6-2-7-7 5-1 17-4 1 0-5-1 4-1-23-6 17-1-14-4 4-1 13 0-9-2-8-2 3 0 4 0-6-7-1-1 12 0-10-1 1-2-6-2 3-410-1-3 8 0-4-4 5 0 0-1 6 0 2-5-9-2 2-1-5-1 0-2 12 0-17-1 4 0-2-1 3-5 11-2-5-4 4-3-13-2-1-6 5-2 16-5 0-5-2-5 1 0-11-1 7-1-5-2 1-7-14-1 23-5-13-4 12 0-7-2 0-5-14-4 15-2-2-13-9-26 15-9 27 19-19 14 19 11-7 7-4 7-11 20 17 0-14 7 12 4-3 6 1 2-5 6 15 3-13 3-2 2 6 0-6 1-3 1 13 0-6 1 7 4 4 1-22 1 15 1 1 2 4 0-6 1-4 1 8 3-4 1-11 1 4 0 14 2-21 2 10 2 4 1 8 1-2 425-2 3-14 4 7 1 6 2-19 1 20 0 4 2-22 1 10 0 9 0-14 3 11 0 0 2-18 1 14 1 4 2 4 0 1 2-12 2 3 4-7 1 10 1-8 4 5 3-13 3 7 1-4 1 15 1 2 4-18 2 16 10 4 8-15 3 10 1-13 1 9 4 10 8-12 17 10 6-1 6-17 5 7 12 7 0-6 2 2 0-8 13 15 5-21 2 2 0 0 6 15 10-14 13 13 4-13 7 0 20 45 86-23-125 8-6 5-1 8 0-6-5 0-3 6-5-14-19-4-18 13-7-16-1 12-1-12-6 21-2-18-2 10-5 7-6-4-4-4-2 0-2 2-16-9-12 1-3 1-3 17-3-15-1 0-4 3-4-3-4-6-4 9-1-6-1 2-5-5-1 6 0 0-6-2-2 15-6 1 0-9-2-9-1 8-1 11 0-17-2 8 0 9 0-16-2 6-2 9-1-8-1 2 0 0-2 1-2 0-403 0-7-13-1 12 0 3-1-16-3 18-1-19-3 13 0-8-1 7-2-14-7 17-1 1-4 1-1-2-3-14-2-4-9 14-8 1-4 8-7-20-1 14-38-17-17 8-4 6-19 2-4-16-21 29-171-3 213 19 12-16 37 4 22-8 7 16 5 3 2 1 0-17 3 2 1 4 8 13 3-19 2 4 0 16 0-13 3 4 4-11 1 1 0 5 1 4 2 2 2 5 0-15 5 18 4-19 1 20 0-23 2 6 1 16 2-15 3 15 1-5 1 4 2-6 1 0 1 5 0 2 5-6 2 7 346 0 1-6 8 4 0-1 1-6 1 2 2 1 2-5 5-1 5 2 3 0 2-6 3 3 0-1 1 11 0-7 1-2 1 2 3-11 5 12 0-1 1-9 3 2 2-2 13 14 2-12 1 2 1-2 2-6 1 23 0-10 3-11 3 6 2 1 3 8 4 1 2-11 3-8 4 2 3 0 6 3 4 9 4-9 22 10 13-8 1-5 4 21 3-10 5 6 0-19 2 3 39-1 88 27 19-1-55 15-18-18-11 14-3 10-39-17-28 1-8-5-13 12-8-14-12 21 0-4-1-8-1 13-2-18-14 12-7-3-13-12-7 20-3 2-1-23-1 3 0 3-6 2-5 14-1-3-2-5-1-9-1-3-1 11-1 10-5-4-7 1 0-12-6-3-1 7-6-10-2 11-3 3 0-14-4 10-1-2-1-2-5 12-2 0-1 3 0-7-4-5-2-8-1 3 0 12-3-14-5 10 0 2-12-1-2-8-1 10-1-6-8 2-1 2-7 5-2-3-4-1-1-2-4 4-1-3-1 2 0 1-1 4 0-4-3 5-2-3-5-2-11 0-4 2-22 3-25 0-10-2-154 2-3-4-1 3 0 1-4-4-1 3-2-8-9 9 0-3-3-6-2 0-1 3 0 3-3-12-2 13-1-6-1 0-5-8-2 3 0-11-1 18-1 2 0-13-1 5 0 7-2-4-3 1-1 2 0 1 0 3 0-17-6 9-2 4 0-4-1-9-1 3 0 1 0 6-1-6-2-9-2 2-2-2-1 6-5-4-7 3-1 3 0 1-1-3-5 15-1 3-2-9-3-2-3-8-5 15-7-20-4 16-1-16-10 17 0-6-2 7-14 1-8 0-5-13-88 41 1-12 28-1 79 6 5-1 8 10 0-23 2-1 3 2 5 2 4 19 28-18 1 7 4-6 4 13 5-3 2 7 3-14 1-1 1 6 1 4 1 4 1-19 1 7 1-9 4 1 2 14 2 6 7-10 2 2 1-11 5 0 3 1 0-4 1 8 2 14 5-15 1 11 0 2 2-19 1 2 0 6 0-6 2-2 1 10 0-11 1 10 0 14 1-6 2-6 2-12 1 3 3-3 1 13 3-10 2 21 0-22 1 15 0 5 3-10 1-5 1 2 0-8 1 5 0-2 1 5 0 5 2 2 5 3 0-11 1 2 1 12 0-12 1 1 1 12 0-6 1-12 2 3 0-4 1 7 5 5 1 2 0 5 0-18 1 1 0 4 0 9 0 3 1-15 2-1 1 1 2 7 0 5 1-12 7 2 0 1 0 1 1-4 2 2 1 7 1-9 3 17 3 0 1-6 1 1 0-5 2 6 1-2 2-5 1-5 3 7 1 2 4-10 1 6 2 3 0 7 2-11 1 2 1 5 0 4 1-8 2 1 1-9 1 4 0 5 2-4 5 8 2 2 6-8 1-8 1 11 0 6 0-10 3 11 1-19 1 2 0-3 1-1 2 9 1-3 3-2 1 3 0 3 1 5 0 0 2 1 0-17 1 21 0-12 1 1 2 12 1-22 1 17 1-9 2 1 0-3 1 14 0-19 2 5 0 8 0-12 1 18 0-17 1 13 1-12 1 5 2 6 0-13 1 11 3-2 4 4 2-16 1 3 0 3 1 7 1-14 2 12 0-9 1 8 2 2 1-13 1 1 4 0 1 1 1 4 0 4 1 6 1-6 2 12 1-19 2 8 2-4 1 13 0 1 2-11 1 6 0 4 5-18 2-2 2 11 2 3 0 3 1 2 0-17 1 17 0 5 0-23 1 3 1 14 6-7 3 0 1 11 2-17 4 4 1-1 1 0 5-5 2 1 0 14 1-6 1-2 1 8 0-5 3 3 0-12 1 1 0 3 0-1 4-1 1 1 0-5 1 5 0 4 2 13 13-7 2-13 2 6 2-4 1 2 6 0 3 3 0 0 5-2 2-6 1 21 0-14 2-8 6 7 1-1 4-4 18 8 3-4 2 5 17 2 5-1 1-14 5 1 0 11 2 1 16 2 4-7 4-4 4 18 3-18 24 19 13-21 5 17 8-6 72 10 30 13-50 12-3-17-12 11-23-4-25-4-14 4-35-3-16 2-22-3-10 2-2-2-3-6-6 8-9 9 0-20-17 24-2-19-7 6-8 11-3-14-3-1-8 15-1-22-1 3-5 6-3 1-3-2-1 3 0 5 0 4-2-12-3-3-9 13-3 1-1-13-3 10 0 6-1-19-4-2-2 3-4-1-4-1-3 20-4-15-1-1-1-6-3 13 0-4-1-8-6 15 0 1-2-11-2 13-3-19-3 0-2 3 0 4-2-5-4 19-4-15-1 2-1-2-3 2 0 1 0-9-1 4-2 6 0 1-5-10-2 4-2-4-3 13-2 7-1-21-2 10-1 9 0-16-3 5 0-2-2-2-4-3-4 22-2-16-1-7-6 10-2 1-1 8-1-16-3 14-6-5-1-8-1 13 0-5-2-3-3 8-1 1 0-18-4 21 0-19-6 13-1 9-1-9-3 5-1-7-1-8-2-3-9-2-5 15-4-7-2 9-2 2-3 3-4-9-4-5-3-5-2 15-1-14-3 20 0-20-1 1 0 3 0-6-4 1-2 11 0-6-9-2-6-3-7 0-4 0-3 3 0 2-6 1 0-8-3 10-1-4-1 3-2 12-2-3-4-3-9-16-6 6-1 8-1 6-1-18-1 8 0-1-5 1 0 14-32-22-20 8-21-2-5 1-34 25-39 0 16-7 75 19 26-17 12 2 20 14 0-11 23-3 33-6 6 9 5 10 9 1 1-10 3 1 3 11 8-16 6 11 0 2 2-14 2-5 2 0 11 1 5 15 0-14 6-2 11 0 14 7 8-3 2 3 2 6 4-5 21-2 7-3 1 3 2 12 3-10 1 2 3 14 3-16 12-8 2 9 1 1 9-10 4 4 0 4 4-5 5 3 0-5 1-1 8 20 9-18 8 13 0-14 4 21 14-18 2 2 47 4 4-1 4-3 7 9 7-8 14 12 23-8 11-5 52 1 15 10 113 8-135 16-9-10-75 11-16-10-71 15-23-9-1 11-8-22-11 22 0-2-7-19-5-1-1 3-2 7-3-2-43-8-2 20 0-22-11 5-5 11-3-10-7 2-4-2-10 12-14-6-1-5-3-5-4 10-3 10-2-15-1-5-13 14-78 8-12-17-8 12-1-18-5 12-18 17 11 15 39 1 0-8 11-1 31-4 13-4 30-3 23 3 1 12 40-7 27-6 28-2 69 2 0 19 1-20 20 22 14-10 56 14 77 3-88 1-69 2-154-4-4 6-91 12-103-5-86 7 260 24 7-12 80-3 34 10 20-8 28 21-158 32-146-7 221 64 29" fill="none" stroke="none" marker-start="url(#d2)" marker-mid="url(#d2)" marker-end="url(#d2)"/>
<path transform="scale(.1)" d="M1526 6765l17 2 10 8 6 10 4 12 2 13-1 15-3 15-6 15-7 10-10 8-15-6-9-12-5-10-5-15-2-15 0-15 4-15 6-10 11-9 3-1zM951 7405l17-1 15 1 15 4 11 6 8 10 0 15-6 10-8 9-10 7-10 6-15 6-15 4-15 2-15 0-15-2-15-5-10-7-7-10 1-15 6-10 10-9 10-7 15-6 15-5 15-3 3 0z" fill="#000" opacity="0.1"/>
<path transform="scale(.1)" d="M1533 6810lzM926 7425l12-3 15-2 15 1 15 6 7 13-7 14-10 7-15 7-15 3-15 0-15-3-10-6-5-12 5-11 10-8 13-6z" fill="#000" opacity="0.15"/>
<path transform="scale(.1)" d="M1508 6675l10-3 10-1 15 1 10 2 10 4 10 5 10 7 10 10 9 10 6 10 5 9 5 11 4 10 3 10 2 10 2 10 1 10 1 15 0 15-1 15-1 15-1 10-1 10-1 10-1 10-2 15-1 15-1 15-1 15-1 10-1 10-2 10-2 10-2 10-3 10-3 10-3 9-5 11-5 10-5 9-5 7-5 6-8 8-6 5-10 5-11 3-15-1-10-4-10-6-7-7-8-9-5-7-5-8-5-10-5-11-3-10-3-10-3-10-2-10-2-10-2-10-1-10-2-10-1-10-1-10-1-10-2-10-1-10-2-10-2-10-2-10-3-10-1-10-2-10-1-10-1-15-1-15 1-15 2-10 2-10 2-10 3-10 4-9 5-10 5-9 5-7 5-7 8-8 7-6 10-7 10-5 5-2zM944 6765l14-2 15 1 10 1 10 3 10 4 10 5 10 6 8 7 7 6 8 9 7 10 5 9 5 11 3 10 2 10 2 10 0 15-1 15-2 10-3 10-4 10-5 10-5 10-5 10-5 10-4 10-4 10-2 10-1 10-1 15 0 15 1 15 1 15 1 15 1 15 1 13 1 12 1 15 1 15 1 10 2 10 2 10 3 10 4 10 5 10 5 9 5 9 5 7 5 8 5 7 5 6 9 9 8 5 13 4 15 0 15-1 10-2 10-3 10-2 10-4 10-3 10-3 10-4 10-3 10-3 10-4 10-3 10-3 10-2 10-2 10-2 10-2 10-1 15-1 15-1 15 2 10 1 10 3 10 4 10 5 7 5 8 10 3 10 1 15-3 10-4 10-6 10-6 8-6 7-9 9-7 6-8 7-10 7-8 6-7 4-9 6-9 5-7 4-10 5-10 5-10 5-10 5-10 5-10 4-10 5-10 4-10 5-10 4-9 4-11 5-10 4-10 5-10 4-10 5-10 4-10 4-8 4-11 5-10 5-9 5-10 5-7 4-10 5-10 5-10 5-10 5-10 4-10 4-10 4-10 3-10 3-10 2-10 3-10 1-10 2-10 1-15 2-15 0-15 0-15-1-10-1-10-2-10-1-10-3-10-3-10-4-10-5-10-7-7-6-8-10-5-9-3-11-1-15 2-10 3-10 4-10 5-10 5-9 5-9 5-10 3-12 1-15-1-15-1-15 1-15 1-10 2-10 3-10 5-10 5-10 6-10 5-7 5-6 6-7 9-8 7-7 8-7 8-8 7-7 5-7 5-10 4-11 2-10 1-10 0-15 0-15 0-15-1-15 0-15-1-15 0-12 0-13-1-15-2-15-1-10-3-10-3-10-4-10-4-10-5-10-5-10-4-10-4-10-3-10-2-10-2-10-1-15 1-15 2-10 3-10 3-9 5-10 5-9 5-7 5-6 9-9 6-5 10-7 10-6 10-4 10-3 1 0zM1513 6695l10-3 15 0 10 2 10 3 10 6 9 7 10 10 6 8 4 7 6 10 4 10 3 10 2 10 2 10 1 10 1 15 0 15-1 15-1 10-2 10-1 10-1 10-1 10-1 10-2 15-1 15-1 10-1 10-2 10-1 10-2 10-3 10-3 10-4 10-4 10-5 10-6 8-6 7-9 7-10 5-10 2-10-2-10-5-9-7-6-7-5-7-5-9-5-11-4-11-3-10-3-10-2-10-2-10-1-10-2-10-1-10-1-10-2-10-2-10-2-10-2-10-2-10-3-10-2-10-1-10-2-10-1-15 0-15 1-15 2-10 2-10 3-10 4-10 5-10 6-9 5-7 9-9 6-5 8-5 12-5zM946 6795l12-2 15 0 10 3 10 3 10 6 7 5 8 7 7 8 6 10 5 10 3 10 2 10 1 15-2 15-2 9-3 11-5 10-4 10-5 10-5 10-3 8-4 12-2 10-1 10-1 15 1 15 1 15 2 15 1 15 1 15 1 15 1 15 0 15 0 15 1 15 1 15 1 10 2 10 3 10 3 10 3 10 4 10 4 10 5 10 5 10 5 10 7 10 6 7 10 6 10 3 10 1 15 0 10-1 10-2 10-2 10-3 10-2 10-3 10-4 10-3 10-4 9-3 11-4 10-4 10-3 10-3 10-3 10-3 10-2 10-2 10-2 10-1 15 0 15 1 10 2 10 4 9 5 6 6 5 9 1 10-1 10-5 10-5 9-5 6-9 10-11 9-8 6-7 5-8 5-7 4-10 6-10 5-10 5-10 5-10 4-10 5-10 4-10 5-10 4-10 5-10 4-9 4-11 5-10 5-10 4-10 4-10 5-10 4-10 5-10 5-10 5-10 6-10 6-10 6-8 5-7 4-10 6-10 5-10 5-10 4-10 4-10 4-10 3-10 2-10 2-10 2-10 2-10 1-15 0-15 0-15 0-10-2-10-1-10-3-10-3-10-4-10-5-9-6-10-10-6-9-4-11-1-15 2-10 4-10 6-10 7-10 6-8 5-6 5-6 5-7 5-8 3-10 1-10-1-15 0-15 1-15 2-10 4-10 5-10 5-9 5-7 5-6 7-8 8-8 7-7 8-10 5-7 5-8 4-10 3-10 2-10 1-10 0-15 0-15-1-15-1-15-1-15-1-15 0-15 0-15 0-15 0-15-1-15-1-15-2-10-3-10-3-10-4-10-5-10-4-10-4-10-4-10-3-10-2-10-1-10 0-15 1-10 3-10 4-10 5-10 7-10 6-6 10-8 9-6 11-4 3-1zM1515 6710l13-3 15 1 10 3 8 4 7 5 10 9 5 7 5 7 5 10 5 12 3 10 2 10 1 10 1 15 0 15-2 15-1 10-1 10-2 10-1 10-2 10-1 10-1 10-1 10-1 10-2 10-1 10-2 10-2 10-3 10-3 10-4 10-6 10-6 8-8 7-7 4-10 2-10-2-7-4-8-7-5-6-5-8-4-9-4-10-3-10-3-10-2-10-1-10-2-10-2-10-1-10-2-10-2-10-3-10-2-10-3-10-2-10-2-10-2-10-1-10-1-15 0-15 1-10 2-10 3-10 4-10 5-10 6-10 6-7 9-8 7-5 9-4 2-1zM950 6820l13-2 10 1 10 3 10 6 8 7 7 9 5 9 4 12 1 10 0 11-2 14-3 9-5 11-4 10-6 10-5 10-5 10-4 10-3 10-2 10-1 15 2 10 1 10 2 10 2 10 2 10 2 10 1 10 1 15 1 15 0 15-1 15-1 15-1 15 0 15 1 15 2 10 3 10 3 8 4 12 4 10 4 10 4 10 4 10 4 10 4 10 5 10 7 9 9 6 11 3 10 2 15 0 15-2 10-2 10-2 10-2 9-2 11-3 10-3 10-3 10-3 10-4 10-3 10-4 10-4 10-4 10-3 10-4 10-3 10-2 10-3 10-1 15-1 15 1 10 2 10 5 6 5 4 10-3 15-6 10-6 8-8 7-6 5-7 5-7 5-9 5-8 5-10 5-10 4-10 5-10 4-10 5-10 4-10 5-8 3-11 5-11 5-10 5-10 4-10 5-10 4-10 5-10 4-10 5-10 5-10 6-10 6-9 6-7 5-7 5-7 5-8 5-7 5-9 5-9 5-11 5-11 5-10 3-10 3-10 3-10 2-10 2-10 1-15 1-15 0-15-1-10-1-10-2-10-3-8-3-11-5-8-5-6-5-7-7-5-8-3-10 1-15 3-10 4-8 5-7 5-7 7-8 8-7 8-8 7-6 9-9 6-9 5-11 1-15-1-15 1-15 3-10 4-10 6-10 6-8 5-7 5-6 5-6 5-7 5-6 5-8 5-9 4-8 3-10 3-10 1-10 0-15-1-12-2-13-1-10-1-10-2-10-1-15-1-15 0-15 0-15 1-15 2-15 1-10 1-15-2-15-2-10-4-10-4-8-5-10-5-10-5-10-5-11-4-11-3-10-1-10-1-15 2-10 3-10 4-9 5-8 8-8 7-5 10-4 2-1zM1512 6725l11-4 15 0 10 2 10 5 9 7 6 6 5 7 4 7 5 10 4 10 2 10 2 10 1 15-1 15-1 15-2 10-1 10-2 10-2 10-2 10-1 10-2 10-1 10-2 10-1 10-2 10-3 10-3 10-4 10-6 10-7 9-10 5-15-2-9-7-6-9-5-10-4-11-3-10-2-10-2-10-2-10-2-10-3-10-2-10-3-10-2-10-3-10-3-10-2-10-2-10-2-10-1-15 1-15 1-10 3-10 3-10 4-10 6-9 5-6 10-10 9-5zM954 6850l14-1 10 4 7 7 5 10 2 10-1 15-4 10-4 8-5 6-6 6-9 3-10-3-9-10-6-10-3-10-1-10 2-15 5-10 7-7 6-3zM958 7280l10-4 8 4 7 9 5 11 3 10 3 10 4 10 10 9 10 5 10 2 10 2 15 0 15-1 10-1 10-2 10-2 10-2 10-2 10-2 10-3 10-3 10-2 9-3 11-4 10-3 8-3 12-5 10-4 10-3 10-4 10-4 10-3 10-2 10-2 15 0 10 2 7 5 3 10-4 10-6 7-10 8-7 5-8 5-9 5-11 5-10 5-10 4-10 4-10 4-10 5-10 4-8 4-11 5-10 5-11 5-10 5-10 5-10 4-10 5-10 5-10 6-8 5-7 5-7 5-6 5-7 6-10 8-7 6-7 5-7 5-8 5-9 5-10 5-12 5-10 3-10 3-10 2-10 2-10 1-15 1-15 0-15-1-10-2-10-3-10-3-10-5-10-7-6-6-6-10-2-10 2-15 4-10 7-10 6-6 10-9 6-5 6-5 8-5 7-5 8-5 8-5 7-5 7-5 8-8 5-6 4-11-1-15 1-15 3-10 5-10 7-10 6-5zM1516 6735l12-3 15 1 10 4 10 7 9 11 6 10 4 10 3 10 1 10 2 15-1 15-1 15-2 10-2 10-2 10-3 10-2 10-2 10-2 10-2 10-2 10-2 10-3 10-4 10-5 8-7 7-13 2-9-7-6-10-4-10-4-10-2-9-3-11-2-10-3-10-3-10-3-10-4-10-3-10-3-10-2-10-2-10-1-10-1-15 2-15 2-10 3-10 5-10 7-10 6-7 10-7 3-1zM1126 7360l12-1 15 1-3 10-6 5-7 5-8 5-9 5-7 4-9 6-8 5-7 5-6 5-10 9-6 6-9 10-10 10-10 10-6 5-7 5-7 5-9 5-10 5-11 5-10 3-10 3-10 2-10 1-10 1-15 1-15-1-10-1-10-3-10-3-10-4-10-7-6-7-5-10-2-10 2-10 5-10 6-8 7-7 8-7 10-7 10-6 10-5 10-5 10-4 10-4 10-3 10-3 10-3 10-2 10-1 15 0 15 0 15 0 15 0 15-1 15-1 10-1 10-2 10-2 10-1 10-2 3 0zM1517 6745l11-3 15 1 10 5 8 7 7 9 5 10 4 11 2 10 1 10 0 15-1 15-2 10-2 10-3 10-3 10-3 10-3 10-3 10-3 10-3 10-5 10-6 7-13-2-7-10-4-10-4-10-4-10-4-10-4-10-4-10-3-10-4-10-2-10-2-10-2-10 0-15 1-15 3-10 3-8 5-9 5-7 6-6 8-5zM980 7385l13 0 15 1 10 1 10 2 10 2 10 4 6 5 2 10-2 10-5 10-6 10-5 7-7 8-8 7-10 8-8 5-10 5-12 5-10 4-10 2-10 2-10 2-15 0-11 0-14-2-10-2-10-3-10-5-9-8-6-8-3-12 2-10 5-10 6-7 8-8 7-5 8-5 9-5 8-4 10-4 10-3 10-3 10-2 10-2 10-1 12-1zM1518 6755l10-3 15 1 10 6 6 6 6 10 4 10 3 10 1 10 0 15-1 10-2 10-2 10-3 10-4 10-3 8-5 10-5 8-10 8-10-4-8-10-6-10-5-10-5-10-4-10-3-10-2-10-2-10 0-15 1-10 2-10 4-10 6-10 7-7 5-3zM966 7395l12 0 15 1 10 1 10 3 10 4 7 6 5 10-2 14-5 10-5 7-9 9-6 5-7 5-8 5-10 4-10 4-10 3-10 2-10 1-15 1-15-1-10-1-10-3-10-5-8-5-7-8-4-12 2-10 6-10 6-7 10-8 7-5 8-4 10-4 10-4 10-3 10-2 10-2 10-1 3 0zM1520 6765l8-3 15 2 9 6 6 8 5 11 3 11 0 15-1 15-2 10-4 10-4 10-6 10-6 6-10 2-10-6-6-7-4-7-4-8-4-10-3-10-2-10 0-15 1-10 3-10 4-8 5-7 7-5zM941 7405l12-2 15-1 15 1 10 2 10 3 10 6 5 6 3 10-2 10-5 10-6 6-10 9-8 5-10 5-12 4-10 3-10 2-10 1-15 0-10-1-10-2-10-4-10-6-7-7-3-10 2-10 6-10 7-7 10-7 10-6 10-4 10-3 10-3 3 0zM1523 6775l10-3 9 3 6 5 5 7 3 8 3 10 0 15-2 10-3 10-6 10-10 9-10-2-8-7-6-10-4-10-2-9-1-11 2-15 4-9 5-7 5-4zM947 7410l11-1 15 1 10 1 10 3 9 6 6 8 1 12-5 10-6 7-10 8-10 5-10 4-10 3-10 2-10 1-15 0-10-1-10-3-10-5-7-6-4-10 1-10 5-8 7-7 7-5 9-5 12-5 10-2 10-2 4-1zM1524 6790l9-4 8 4 7 10 1 10-1 14-5 10-10 6-8-5-6-10-2-10 1-15 5-9 1-1zM927 7420l11-3 10-1 15 0 10 1 10 3 9 5 6 10-1 10-7 10-7 6-7 4-8 4-10 3-10 2-10 1-15 0-10-2-8-3-8-5-6-10 1-10 6-9 8-6 7-4 10-5 4-1zM931 7425l12-3 15 0 10 1 10 4 8 8-3 15-5 6-10 6-10 4-10 3-10 1-15-1-10-3-9-6-4-10 5-10 8-7 10-5 8-3zM938 7430l10-1 13 1 10 5 3 10-6 8-10 7-10 3-10 1-15-2-10-7 4-15 7-5 9-4 5-1zM930 7440l8-3 10-1 10 2 1 12-7 5-14 2-10-2-4-10 6-5z" stroke="#111" stroke-width="6" fill="none" stroke-linejoin="round"/>
<rect x="126.00" y="655.50" width="52.90" height="55.60" fill="none" stroke="#111" stroke-width="1.2"/>
<text x="153.30" y="633.20" font-size="14.4" text-anchor="middle" fill="#222" >18.7</text>
<path transform="scale(.1)" d="M1489 8496l14-2 15 0 15 4 15 8 10 7 8 8 9 10 6 10 6 10 6 14 5 16 3 15 2 15 2 15 0 15-1 15-1 15-1 15-2 15-2 14-2 16-2 15-3 15-3 15-3 15-4 15-6 15-6 15-5 10-6 9-8 11-7 9-10 9-10 7-10 5-15 5-15 0-15-4-10-5-10-7-9-9-8-10-6-10-5-10-6-15-5-15-3-15-3-15-2-15-1-15 0-15-1-15 0-15-1-15 0-15 0-15 1-15 1-15 1-15 3-15 4-15 4-15 6-14 6-11 6-10 7-10 9-10 12-10 10-7 15-6 6-2zM970 8621l17 0 16 3 14 7 11 7 8 8 9 10 6 10 7 15 5 15 2 15 1 15-1 15-3 15-4 11-5 12-6 12-7 10-9 10-12 10-11 7-15 6-15 3-15 1-15-3-15-7-10-6-10-9-10-11-7-11-6-15-5-15-2-14-1-16 2-15 3-15 5-15 6-13 7-12 8-9 10-10 10-8 10-5 15-6 12-2zM979 8966l19 2 15 7 10 9 10 11 7 11 6 10 6 10 5 10 6 10 8 10 12 10 15 5 15 0 15-3 15-3 15-5 15-6 15-6 15-6 15-6 13-5 12-4 15-5 15-4 15-3 15-2 15 0 15 0 15 2 15 4 15 7 10 7 8 8 6 10 6 15 1 15-3 15-5 15-7 15-6 10-7 10-8 9-10 11-10 10-10 9-10 8-10 7-10 8-10 7-9 6-11 7-10 7-10 6-10 7-10 6-10 6-10 6-10 6-10 6-10 6-10 6-10 5-10 6-10 6-10 5-10 6-10 6-10 7-10 7-10 7-10 8-10 8-10 8-10 7-10 7-10 6-10 6-10 5-13 6-12 5-15 5-15 3-15 3-15 2-15 0-15 0-15-2-15-2-14-4-14-5-11-5-11-6-10-7-10-9-10-12-7-11-6-15-3-15-1-15 2-15 3-15 5-15 7-15 5-10 5-10 5-10 6-10 7-15 5-15 5-15 4-15 6-15 7-15 6-10 6-10 8-10 8-10 7-8 10-12 7-10 7-10 7-10 6-10 6-10 7-10 7-10 8-9 10-9 10-7 15-5 1 0z" fill="none" stroke="#000" stroke-width="80" stroke-linejoin="round" opacity="0.062"/>
<path transform="scale(.1)" d="M1489 8496l14-2 15 0 15 4 15 8 10 7 8 8 9 10 6 10 6 10 6 14 5 16 3 15 2 15 2 15 0 15-1 15-1 15-1 15-2 15-2 14-2 16-2 15-3 15-3 15-3 15-4 15-6 15-6 15-5 10-6 9-8 11-7 9-10 9-10 7-10 5-15 5-15 0-15-4-10-5-10-7-9-9-8-10-6-10-5-10-6-15-5-15-3-15-3-15-2-15-1-15 0-15-1-15 0-15-1-15 0-15 0-15 1-15 1-15 1-15 3-15 4-15 4-15 6-14 6-11 6-10 7-10 9-10 12-10 10-7 15-6 6-2zM970 8621l17 0 16 3 14 7 11 7 8 8 9 10 6 10 7 15 5 15 2 15 1 15-1 15-3 15-4 11-5 12-6 12-7 10-9 10-12 10-11 7-15 6-15 3-15 1-15-3-15-7-10-6-10-9-10-11-7-11-6-15-5-15-2-14-1-16 2-15 3-15 5-15 6-13 7-12 8-9 10-10 10-8 10-5 15-6 12-2zM979 8966l19 2 15 7 10 9 10 11 7 11 6 10 6 10 5 10 6 10 8 10 12 10 15 5 15 0 15-3 15-3 15-5 15-6 15-6 15-6 15-6 13-5 12-4 15-5 15-4 15-3 15-2 15 0 15 0 15 2 15 4 15 7 10 7 8 8 6 10 6 15 1 15-3 15-5 15-7 15-6 10-7 10-8 9-10 11-10 10-10 9-10 8-10 7-10 8-10 7-9 6-11 7-10 7-10 6-10 7-10 6-10 6-10 6-10 6-10 6-10 6-10 6-10 5-10 6-10 6-10 5-10 6-10 6-10 7-10 7-10 7-10 8-10 8-10 8-10 7-10 7-10 6-10 6-10 5-13 6-12 5-15 5-15 3-15 3-15 2-15 0-15 0-15-2-15-2-14-4-14-5-11-5-11-6-10-7-10-9-10-12-7-11-6-15-3-15-1-15 2-15 3-15 5-15 7-15 5-10 5-10 5-10 6-10 7-15 5-15 5-15 4-15 6-15 7-15 6-10 6-10 8-10 8-10 7-8 10-12 7-10 7-10 7-10 6-10 6-10 7-10 7-10 8-9 10-9 10-7 15-5 1 0z" fill="none" stroke="#000" stroke-width="58" stroke-linejoin="round" opacity="0.062"/>
<path transform="scale(.1)" d="M1489 8496l14-2 15 0 15 4 15 8 10 7 8 8 9 10 6 10 6 10 6 14 5 16 3 15 2 15 2 15 0 15-1 15-1 15-1 15-2 15-2 14-2 16-2 15-3 15-3 15-3 15-4 15-6 15-6 15-5 10-6 9-8 11-7 9-10 9-10 7-10 5-15 5-15 0-15-4-10-5-10-7-9-9-8-10-6-10-5-10-6-15-5-15-3-15-3-15-2-15-1-15 0-15-1-15 0-15-1-15 0-15 0-15 1-15 1-15 1-15 3-15 4-15 4-15 6-14 6-11 6-10 7-10 9-10 12-10 10-7 15-6 6-2zM970 8621l17 0 16 3 14 7 11 7 8 8 9 10 6 10 7 15 5 15 2 15 1 15-1 15-3 15-4 11-5 12-6 12-7 10-9 10-12 10-11 7-15 6-15 3-15 1-15-3-15-7-10-6-10-9-10-11-7-11-6-15-5-15-2-14-1-16 2-15 3-15 5-15 6-13 7-12 8-9 10-10 10-8 10-5 15-6 12-2zM979 8966l19 2 15 7 10 9 10 11 7 11 6 10 6 10 5 10 6 10 8 10 12 10 15 5 15 0 15-3 15-3 15-5 15-6 15-6 15-6 15-6 13-5 12-4 15-5 15-4 15-3 15-2 15 0 15 0 15 2 15 4 15 7 10 7 8 8 6 10 6 15 1 15-3 15-5 15-7 15-6 10-7 10-8 9-10 11-10 10-10 9-10 8-10 7-10 8-10 7-9 6-11 7-10 7-10 6-10 7-10 6-10 6-10 6-10 6-10 6-10 6-10 6-10 5-10 6-10 6-10 5-10 6-10 6-10 7-10 7-10 7-10 8-10 8-10 8-10 7-10 7-10 6-10 6-10 5-13 6-12 5-15 5-15 3-15 3-15 2-15 0-15 0-15-2-15-2-14-4-14-5-11-5-11-6-10-7-10-9-10-12-7-11-6-15-3-15-1-15 2-15 3-15 5-15 7-15 5-10 5-10 5-10 6-10 7-15 5-15 5-15 4-15 6-15 7-15 6-10 6-10 8-10 8-10 7-8 10-12 7-10 7-10 7-10 6-10 6-10 7-10 7-10 8-9 10-9 10-7 15-5 1 0z" fill="none" stroke="#000" stroke-width="37" stroke-linejoin="round" opacity="0.062"/>
<path transform="scale(.1)" d="M1489 8496l14-2 15 0 15 4 15 8 10 7 8 8 9 10 6 10 6 10 6 14 5 16 3 15 2 15 2 15 0 15-1 15-1 15-1 15-2 15-2 14-2 16-2 15-3 15-3 15-3 15-4 15-6 15-6 15-5 10-6 9-8 11-7 9-10 9-10 7-10 5-15 5-15 0-15-4-10-5-10-7-9-9-8-10-6-10-5-10-6-15-5-15-3-15-3-15-2-15-1-15 0-15-1-15 0-15-1-15 0-15 0-15 1-15 1-15 1-15 3-15 4-15 4-15 6-14 6-11 6-10 7-10 9-10 12-10 10-7 15-6 6-2zM970 8621l17 0 16 3 14 7 11 7 8 8 9 10 6 10 7 15 5 15 2 15 1 15-1 15-3 15-4 11-5 12-6 12-7 10-9 10-12 10-11 7-15 6-15 3-15 1-15-3-15-7-10-6-10-9-10-11-7-11-6-15-5-15-2-14-1-16 2-15 3-15 5-15 6-13 7-12 8-9 10-10 10-8 10-5 15-6 12-2zM979 8966l19 2 15 7 10 9 10 11 7 11 6 10 6 10 5 10 6 10 8 10 12 10 15 5 15 0 15-3 15-3 15-5 15-6 15-6 15-6 15-6 13-5 12-4 15-5 15-4 15-3 15-2 15 0 15 0 15 2 15 4 15 7 10 7 8 8 6 10 6 15 1 15-3 15-5 15-7 15-6 10-7 10-8 9-10 11-10 10-10 9-10 8-10 7-10 8-10 7-9 6-11 7-10 7-10 6-10 7-10 6-10 6-10 6-10 6-10 6-10 6-10 6-10 5-10 6-10 6-10 5-10 6-10 6-10 7-10 7-10 7-10 8-10 8-10 8-10 7-10 7-10 6-10 6-10 5-13 6-12 5-15 5-15 3-15 3-15 2-15 0-15 0-15-2-15-2-14-4-14-5-11-5-11-6-10-7-10-9-10-12-7-11-6-15-3-15-1-15 2-15 3-15 5-15 7-15 5-10 5-10 5-10 6-10 7-15 5-15 5-15 4-15 6-15 7-15 6-10 6-10 8-10 8-10 7-8 10-12 7-10 7-10 7-10 6-10 6-10 7-10 7-10 8-9 10-9 10-7 15-5 1 0z" fill="none" stroke="#000" stroke-width="18" stroke-linejoin="round" opacity="0.062"/>
<path transform="scale(.1)" d="M1489 8496l14-2 15 0 15 4 15 8 10 7 8 8 9 10 6 10 6 10 6 14 5 16 3 15 2 15 2 15 0 15-1 15-1 15-1 15-2 15-2 14-2 16-2 15-3 15-3 15-3 15-4 15-6 15-6 15-5 10-6 9-8 11-7 9-10 9-10 7-10 5-15 5-15 0-15-4-10-5-10-7-9-9-8-10-6-10-5-10-6-15-5-15-3-15-3-15-2-15-1-15 0-15-1-15 0-15-1-15 0-15 0-15 1-15 1-15 1-15 3-15 4-15 4-15 6-14 6-11 6-10 7-10 9-10 12-10 10-7 15-6 6-2zM970 8621l17 0 16 3 14 7 11 7 8 8 9 10 6 10 7 15 5 15 2 15 1 15-1 15-3 15-4 11-5 12-6 12-7 10-9 10-12 10-11 7-15 6-15 3-15 1-15-3-15-7-10-6-10-9-10-11-7-11-6-15-5-15-2-14-1-16 2-15 3-15 5-15 6-13 7-12 8-9 10-10 10-8 10-5 15-6 12-2zM979 8966l19 2 15 7 10 9 10 11 7 11 6 10 6 10 5 10 6 10 8 10 12 10 15 5 15 0 15-3 15-3 15-5 15-6 15-6 15-6 15-6 13-5 12-4 15-5 15-4 15-3 15-2 15 0 15 0 15 2 15 4 15 7 10 7 8 8 6 10 6 15 1 15-3 15-5 15-7 15-6 10-7 10-8 9-10 11-10 10-10 9-10 8-10 7-10 8-10 7-9 6-11 7-10 7-10 6-10 7-10 6-10 6-10 6-10 6-10 6-10 6-10 6-10 5-10 6-10 6-10 5-10 6-10 6-10 7-10 7-10 7-10 8-10 8-10 8-10 7-10 7-10 6-10 6-10 5-13 6-12 5-15 5-15 3-15 3-15 2-15 0-15 0-15-2-15-2-14-4-14-5-11-5-11-6-10-7-10-9-10-12-7-11-6-15-3-15-1-15 2-15 3-15 5-15 7-15 5-10 5-10 5-10 6-10 7-15 5-15 5-15 4-15 6-15 7-15 6-10 6-10 8-10 8-10 7-8 10-12 7-10 7-10 7-10 6-10 6-10 7-10 7-10 8-9 10-9 10-7 15-5 1 0z" fill="#fff" stroke="none"/>
<path transform="scale(.1)" d="M643 8732l-7 148 10 17-1 31-11 2 12 248-3 92-2 67 21 171 7-47-5-10 1-33 7-26-12-19 6-5-7-33 5-58-3-8 13-14-3-9-18-1 5-20-8-12 14-13-2-6-3-67 15-27 0-8-22-23 20-15-19-24 0-62 14-60 0-12 0-93-3-23 11-76 18 3-18 70 22 61-21 35 1 24 15 12-2 37-2 1-2 3 3 1-12 50 2 21 2 15 16 4 2 7-19 1 16 12-4 16-8 15 9 5-11 6 12 14-17 1 21 3-18 11 17 5-4 18-16 22 10 11 0 4 8 0-1 11-13 10 6 4 3 12 1 0-14 1 18 6-11 1 11 8-10 17-9 5 17 4-8 9 4 14-11 6 17 5 2 20-7 24-8 15 9 19 0 24 4 5 3 2-7 16 3 3-8 32 17 14 16-46-17-13 0-1 2-16 8-8-8-3 12-2-11-8 4-11 14-3-21-5 20-1-21-22 5-11 10-19 8 0-21-6 8-12 3-15-11-5 15-4-4-6 3-14 4-11-3-9-2-1 8-5-10-2 3-12-4-1-9-12 19-13-22-9 5-4 12-6 2-6 4-5-23-10 21-1-13-8 0-3 6-12-11-1-4-25 4-12-1-5-2-8 22-14-22-2 14-27 9-4-6-11 0-2-11-12-1-15 4-5 14-28-23-6 2-4 5-13 12-12-2-14-8-22-9-3 11-34 1-3 11-73-3-6-1-2-19-2 22-7-8-17-12-14-1-3 11-134 28 6 2 76 0 70-13 12 18 9-18 71 4 1-6 21 1 4 13 12 1 29-7 3 11 4-22 3 7 15-1 6-2 1 9 1 8 3-9 11-6 6 2 2-5 16 19 18-22 9 4 1 8 30 2 2 2 1 3 7-12 12-7 1 9 11 10 1-5 11 9 4-1 31-3 5-16 17-3 6 15 7 7 0-10 3 12 3-22 6 12 9 10 1-8 19-6 14-4 1 1 3-4 3 19 1-6 1 7 9-21 1 20 5-9 14-8 3 8 0-5 8-4 3 9 0-2 7-3 12 0 2 12 5-2 2-12 3 11 3-10 1 9 12 5 1-6 1-15 3 13 1-3 4 0 1 9 4-12 2 3 3 9 1-12 7-2 2-5 2 2 3 20 1-14 2 12 1-16 5 5 2 11 13 4 0-16 8 15 1-10 12 8 0 3 6-24 2 3 1 14 2-13 6 9 2 4 5-14 12 1 2 9 7-3 3 4 16 8 6-13 3-4 16 5 9 4 16-8 24-2 2 22 4 9-7 14-6-11-26-7-19 18-4-11-20-9-12 11-3 9-3-11-2 10-7-17-1-2-4 12-4 5-5 0-2-10-4-4-2 16-6-5-5-14-1 2-1 5-8 0-1 4-11-13-3 1 0 11 0-8-3 11 0-3-5 6-6-7-2-3-3-2-5 4 0-3-5-6-1 6 0 1-2 12-7 0-2-2-3-20-4 15-4-1-1-13-4 12-5 11 0-20-2 20-5-4-9-14-5 7 0-8-1 19-5-16-3 13 0-1-1-15-2 12 0-6-6 9-15 2 0-21-2 12 0 11 0-6-1 5-2-16-7 9-1 7 0-16-9 16 0-8-4 5-3 2-6-21-3 18-2-3-5-14-1 13-2 3 0 2-3-13-3 13-10-7-2-12-2 7-4-4-2 7-1-2-3-4-3 1-3 11-4 6-6-13-3 14-3-23-2 21-1-21-9 4-5-2-1 1-2 0-4-1-1-2-5 1 0 19-6-1-24-7-8 7-4 2-16-8-11-14-9 17-3 3-13-5-18 3-2-5-4-4-7 12-8 1-1-6-10-11-13-3-9 20-3-21-1 1-5 10-15 12-11-22-30 6-1-2-3 8-5 7-3-21-3 16-58-3-4 8-18-12-17 15-6-20-4 15-51-1-52 6-6-2-6-14-12-2-36 26-93-5 52 6 16 3 22 4 10-10 18 11 23-15 2 1 21 2 15 17 9 1 8-22 8 8 4 4 3 5 25 5 10-12 1 10 6 1 4-16 2 13 1-8 2 14 9-7 2 3 18 0 7 3 14-11 4 9 1-8 16 7 6 2 9-13 1-9 4 12 2 0 25 10 5-6 2-14 12 1 2 14 1-16 1 15 1-9 13-6 4 15 1-14 6-1 2 18 11-9 5 14 14-20 7-1 1 15 0-17 9 9 1 8 0-2 4-3 10 6 10-1 7 2 2-9 1 3 11-5 4 3 1 10 8-12 3 3 0-5 10 16 0-4 4-19 9 17 0-6 5 2 1 4 2-8 1 13 4-14 1-5 1-3 2 2 1 2 0 4 3-2 5 4 3-11 1 12 0-12 3 7 0 15 0-6 3 8 3-15 4 10 0 3 4-4 1 1 1-11 2 9 1 4 0-12 2 4 0-13 3 2 0 10 0 1 2-9 1 2 0-6 1 23 1-19 4 9 2-11 2 5 2 2 1 13 5-7 6 4 4-19 1 13 2-7 8 18 0-7 3-5 4 4 4 4 3 4 3-11 3-4 1 7 0-5 3-8 3 11 4 3 1 4 1-14 3 5 3-4 1-6 2 4 0 5 2 12 0-12 4 2 0-12 1 15 5 8 0-24 5 0 1 1 1 9 3 10 1 0 8-17 1 2 1 8 0 2 1-10 5 2 0 15 1-6 2-14 3 8 2-8 8-1 1 12 1-10 19-2 2-1 9 3 75 5 14 2 6-6 2 9 3 4 1 2 0 2 1-2 1-13 1-5 2 11 3 1 2 0 3 11 0-2 4-22 1 9 0 0 1 11 5-3 5-6 4 4 3 8 0-20 3 1 3 10 0-6 5-6 1 22 8-1 6-17 9 14 6-10 7-10 4 13 9-12 21 20 4 11-5 8-23-8-6 11-16-9-10-2-2 4-1 6-12 4 0-10-2 13-3-24-1 20-5-2-1-7-3-1-3-8-3 21 0-13-4 4-3-4-4-10-2 6-2-4-164-1-3 2-2 2-1 0-2 0-3-5-1 5-1-5-2 10-3-6-3 4-1 5-1 1-4-1-4 1-5 2-2-16-6 9 0 5-4-11-3 4-1 5-1 3 0 3 0-15-1 11 0 4-7 4-1-5-1-6-2 6 0 0-2-3-1 8-2 2-1-9-7-9-1 3 0 8 0-8-1 15-1-23-2 11 0 5 0 6 0-16-2 12 0-9-3-8-1 15 0-15-2 17-4-7-2-3-2 1-3 4-5 3-1 3 0-3-3-13-2 13 0-17-1 16 0 2 0-11-6 0-2 5 0 2 0 1 0-2-2 3-1-2-2 7-1 2-1-4-1-15-1 6-1-4-1 7-1 6 0-10-7 2-5 7 0 1-1-3-5 0-4-15-3 19 0 3-3-15-1 11 0-7-1-8-3 0-2 14-2 0-2 4-1 0-2-9-1 4-6-6-15 9 0-10-3 7-1 4 0-4-1 5-1-18-2 12-3-10-4 14-6 2-6-8-2 9-4-13-6 6 0-3-5 3-7 1 0-6-1-1-3 12 0-8-6 2-1 4-2-13-3-4-9 13-4 7-3 1 0-4-9-10-9 6-7 3-2-7-3 0-3 5-1-11-1 15-1-5-1-8-3 14-2-4-4-17-5 4 0 3-9 10-8 4-8-15-4 4-2 0-3 10-1-15-5 16-2-2-1-5-36-12-5 7-4-7-9 4 0 3-3-3-5 8-2 9-12-17-4 17 0-2-2-8-1 1-21-7-9 15-4-9-20-6-6 11-6 3-6-1-1-4-3-6-8 7 0 2-7 1-2-4-11 5-22-1-16-7-1 7-28-6-7 8-16-14-1 11-21 13-75 6 11-2 23-7 42 17 1-11 2-7 5 13 26 1 6-17 18 11 2 10 10-3 2 5 10-18 9 15 9-19 4 18 0 0 4-14 2 13 1-15 1 0 3 14 1-11 1 9 0-5 1 6 1-11 2 13 2-4 2-14 2 18 5-4 4-10 1 10 1 2 4-4 2 10 1-4 1-11 2 7 1 9 2-15 2-8 3 11 0-5 1 10 4 7 0-17 6 15 1 2 1-19 4 15 1-15 1 4 2 8 2 1 0-10 5 6 1-2 1 6 1-7 4-11 4 12 1 9 3-3 1 1 2-7 4-3 3-7 2 18 12-14 2 10 11-5 8 0 2-6 3 0 3 14 0-12 2 13 0-10 2-2 13 15 3 0 2 0 1-2 2-3 8-6 1-5 1 10 0-14 7 14 3-11 4 15 13-20 3 1 8 15 3-1 7 6 3-11 2 13 7-4 4-9 4 8 3-18 1 14 2-7 1 7 6-9 4 9 2 3 4 2 1-8 3 2 2 7 2 2 2-23 2 16 0-12 5-1 9 2 5 14 2 2 4-4 2-10 1 3 1 10 7-19 4 4 0 15 4-2 2-15 3 20 2-11 2 3 0-10 3-4 2 9 8 13 3-15 4 2 1 3 4-5 1 13 0 2 0-3 1-8 2 6 1-10 2-4 5 15 0-17 2 3 3 8 2 8 2-15 3 6 1 12 1-24 1 10 0 5 0-1 1-9 5 12 0 5 3-22 2 21 0-8 2-5 1-4 1 15 0 3 0-1 1-9 1 11 0-22 1 10 1 2 0 11 3-14 1 3 7 10 0-4 1-2 9 1 0 1 0-7 3 2 1 5 5-4 4 2 2-7 1 11 0-5 1-15 2 20 0 1 0-2 3-11 3 2 1-4 1 12 0-13 4-6 3 2 0 14 2-2 1-9 3 8 4-5 2-8 2 4 3 1 7 1 0-5 1 5 2 1 0-7 11 0 8 0 2 4 235 3 2-1 1 7 3 6 4-4 1-7 1 3 1-2 9-7 2 7 4 2 5 2 2-13 9 11 12-4 3 4 6-7 9 3 12 3 7 17 15 21-31-8-5 0-6 4-4-14-6 6-2-3-13 14-7-1-3-10-5 9-4 4-3-22-2 1-1 13 0-6-2-5-3-1-310 0-8 1-4-3-1 2-1 7 0-3-1-6-3 4-5 6 0 1-2 1-1 4 0 5 0-2-1-5-2 2 0-2-3-16-1 3 0 12-1 7-1-2-1-2-1 6 0-17-1 12 0 1-1 4 0-7-1-3-2-2-1 5-1-9-1 3-3 12-2-21-1 17 0-10-1 0-3-9-1 13 0 11 0-10-2 8 0-20-1 3-1 14 0 4 0-20-2 7-1 12-4 1-1-12-2 5 0-15-7 4-1 18 0-3-1 4 0-16-2 14 0 2 0-16-2-5-5 17-9-12-2 10 0 0-1-8-1 4-1-14-1 5-1 15-1 3 0-15-1-4-5 1-2 4 0 10-1-11-1 12-1-16-2-4-1 3-1-3-1 17 0-3-1 9-4-2-2-6-3-4-1-7-2 7 0 8 0-15-4 20 0-23-1 17-1-14-1 12 0 2 0 4-5-22-1 8 0 8-5-12-4 5-1 3-2-2-1 13 0-4-2 3-2-17-2 14-2-5-2 0-1 4-6 6 0-20-2 0-2 8-1-11-4 21 0-8-2-10-1 5-2 7-2-6-1-8-1 18 0 0-1 0-2-3-1-15-5 1-3 21-3-12-1-2-1-10-5 11-3 7-3 5 0-12-3-11-6 20-1 0-1-7-1-3-3 9-4-7-1 2-2 1-2-4-3 5-4 8 0-22-2 1-5 6-1 3-12 12-2-12-2 10 0-1-1-10-3 4 0 3-2-17-2 22-2-13-7-5-4 13-1-3-1 0-1-4-6 3-1-14-4 9-2 4-1 7 0 4-2-20-2 16 0-19-1 14-1-6-2 15-1-11-1-8-1 14 0-12-3-4-3 13 0-13-3 15 0-4-1-13-3 5-2 6-2 10-2-4-6-3-7 1 0 1-1 3-1-13-2 10 0-4-2-7-1 3 0 4 0-2-3-10-1 2 0 13-1 5-1-20-3 14 0-7-1-1-1 8 0-6-1-3-2 7-1 8-1-4-2-1-1 6-1-9-2 6-1 0-1 4 0-22-1 19-1-17-1 19 0-16-1 11 0-4-3 10 0-3-4 4-1-22-1 1-2 3-1 7 0-6-1-7-3 24-1-18-1 2 0-2-1-5-1 11 0-2-2-5-1 11-4-13-1 20-1-19-1 3-11 3 0-2-2 2 0-7-1 19 0 1 0-15-2-7-5 18-1-11-3 9 0-3-1-2-1-2-2-6-4 19 0-6-1 1-2 1-3-15-1 19 0-3-2-7-2 6-5 4-5-9-2 0-3 10-1-21-2 6 0-2-3 10-2 4-1-3-3 1-4-5-1 2 0-6-4 11-8-14-7 10-37-15-37 16-6 26-58-12 15-3 48 4 1 6 15-13 4 6 9 11 3-8 4 4 4 1 2 8 19-16 4 7 8-3 15 0 1 3 4 0 1 4 7-18 1 7 12 14 2-16 6-4 2 22 0-14 3 13 0-21 2 18 0-3 1 0 1-11 2 16 2-17 1-3 5 4 0 9 1 1 0 2 0-15 1 8 0 7 3-3 1 2 1 1 2 2 1-5 1-4 2-1 2 4 1-4 2 5 0-10 1 8 0 5 0 4 0-19 3 11 2-13 1 3 3 8 2 4 3-13 3 3 1-2 1-1 1 5 2 1 0-1 2 2 0-8 2 5 0 4 6-8 4 6 0-6 2-1 3 7 1-5 6 1 0-3 5 6 5 0 1-4 4-1 3 0 2 2 6-2 1-2 5 3 2 5 2-5 1 2 0 1 2 1 5-4 1 3 5 3 0 4 0-10 2 6 0 2 2-10 2 3 0 6 0 4 1-6 1-5 1 2 3 0 2 9 0-2 1 6 0-5 1-12 1 4 0 12 2-9 3 15 0-7 3 7 0-20 1 8 0 3 1 2 1 3 0-18 2-1 1 16 0 7 1-3 1 3 1-18 1 15 0 2 0-9 1 8 0 1 0-15 5-3 1 3 1 14 0-4 1-3 2-6 1 8 4 3 0-13 3 8 0 3 4-15 11 12 0-4 2-9 2 12 1 3 0 2 0 6 0-4 2-20 1 6 0 7 1-8 1 0 3 3 3 7 1-1 4 0 2-5 3 14 0-4 4-19 2 21 2-10 3 13 4-5 2 1 0-19 5-1 1 2 2 16 4-14 2 1 0 1 0 14 4 1 5 2 0-5 2 1 0-7 3-5 1 6 0-13 1 5 1 3 1 3 2 2 0-7 5 14 2-4 5-4 2 9 3-16 1 1 0 16 0-6 1 7 3-18 3 9 1 5 0-1 4 3 1-2 6-6 1-2 1 3 0 1 0-1 3 3 2 7 0-23 1 9 0-4 1 1 0 12 1-19 3 24 1-9 1 6 6-8 1-12 1 10 0-4 2-2 2 13 0 2 1-7 2-3 1 8 0-5 1 5 1-6 1 7 0-4 4-15 1 23 0-20 1 21 0-11 2-6 3 3 0 1 1-8 2 10 4 4 0 1 0-2 1 2 1-6 4 6 0-3 2 5 0-5 1 4 2-4 1-14 1 3 3 12 1 3 2-19 1 22 0-5 1 1 2 1 1-13 1 1 5-5 2 21 0-23 1 10 3 5 0 4 0-19 1 14 4-9 1 8 0 1 1-7 1 7 0 1 3-8 1 0 1 4 1 8 0-18 1 3 0 10 0-5 2 4 0 0 1-3 3-2 1-5 1 3 2-6 4 1 349 5 3 18 0-12 2 0 1-12 2 19 1 2 2-21 2 6 3 10 4 0 6 2 27 4 1-3 33 28-9-15-2-3-4 18-28-1-5-8-1 5-2-3-6 7 0-5-4 4-4-3-3-3-3-13-4 11-2-7-4-6-382 4-5 2-3 4-4-1-6 0-2-7-2 1-2 1 0 5 0 6 0-12-2 17-1-20-1 8 0-5-2 13-1 1-1-17-1 19 0-15-1 6-1 4 0 9 0-6-1-11-1 7-2-3-1 8 0-6-2 9-1 2 0-18-1 19 0-17-1 9 0 3-1-15-2 10-1-7-1 10-1 7 0-14-1-7-1 15 0 5 0-12-4 4 0 9 0-12-1 1-2-8-1 7 0 5 0-11-1 2 0 14 0-19-1 5 0 2 0 12-1-4-3 5 0-10-1 8 0-18-2 10 0 10 0-14-1 0-1 14 0-3-3-20-1 4-1 1 0 4 0 5 0 1-1 9 0-19-1-4-2 4-4 1 0 2 0-5-1 3 0 18 0-17-1 10 0 4-3-13-1 6 0 9 0-6-1 2-1 4-5-5-2 2 0 1 0 1-1-5-2-7-1 13 0-16-2 13 0-12-1-2-1 6 0 0-4 11-1 1 0-23-1 20-1-3-2-10-4 8-1 3-2-17-2 16 0 4-2-11-1-1-1 10 0 2-3-22-2 0-1 12-2-1-2-3-2 2-3 13-1-17-4 3-1 3 0-11-3 6 0 7-2 7 0 3-1-1-1-1-1-18-5 8 0-8-1 2-2 13 0-13-2 6-1 5 0-14-2 9-1-4-2 9-1 2 0 4 0 1-1-13-1 5 0 4-1-15-1 5-6-5-1 2 0-5-4 0-1 1-1 5-1-8-3 2-2 14-1 2 0 1 0 2-4-19-1 3-1 9 0-6-1 8 0 2-1-10-3 4 0 8 0 4 0-2-1-12-1 13-2-6-1-17-1 2 0 11 0 10 0-19-1 3-1 6 0-12-1 9 0 2 0-2-1-10-1 4-2 0-3 1-3 2 0 4 0 1 0-10-5 2-1-4-4 0-137 1-5 0-3 4-8 7-1-4-1-5-1 4-5 6-2 8 0-20-1 4 0 2 0 2 0-1-3-2-1-6-1 16 0-13-1 15 0-18-2 3-2 21 0-19-3 13-2-13-3 18 0-7-3 7-4-12-2-11-2 16 0 3-1-4-1 1-2-13-2 18 0-12-1 12-5-10-3 1-1 11-1 0-1-13-1-1-3 6-3-15-2 8-2 2 0 8 0 0-1-14-1-1-2 18-3-3-5-1-3-15-22 13-6-1-13-7-21 6-56 15-90 2 128 9 11-4 5-3 21 5 11-11 3 15 17-5 2-5 1-3 3 6 4 6 2-13 1 16 7-14 3 3 0 12 0 0 1 4 2-6 2 4 2-11 5 5 5 8 1 1 4-12 1-2 2 9 1 1 0-8 3 7 1-16 3 4 3 1 0-8 4 0 1 12 0 8 0 1 0-13 1 0 1 2 3-3 1 1 1-4 1 5 2-6 1 10 0-13 6 0 189 8 6 2 0 4 0-6 2 4 0 2 0 7 0-13 3 13 0 3 0-18 1 1 1 0 1 2 2 5 0 10 2-22 1 1 1 13 0-7 3 9 0-14 2 10 0-14 1 9 0-8 2 7 0 3 1 10 0-11 1-5 2 11 0-5 2-8 2 3 2 7 0-12 1 13 0 7 3-5 2 5 0 0 1-11 4-4 3 16 0-14 1 3 1 2 2-12 1 7 0 4 0 5 2-2 2-1 1 1 0 3 0-16 2 2 2 12 0-8 2 12 0 3 0-4 1-6 2 9 1-12 1 6 1 6 0 2 0-15 2-7 3 3 0 1 0 13 0 5 1-14 1 4 0-14 1 23 1-6 1 2 1-12 2-6 3 10 0-9 2 2 0 4 0-3 3 6 3 1 0 9 1-13 1 7 1-2 2-12 1 14 0 5 0-8 1 6 0 6 1-23 2 9 0 13 1-19 2 3 0 15 0-9 1-6 2 15 0-13 1-8 1 22 1-5 1 4 0-19 1 1 0 20 0-5 1-14 1 8 0 5 0 5 0-11 1-1 1 12 0-22 1 5 1 17 0-18 1 10 1 1 1 6 0-20 1 5 0 2 0 8 0-5 1 8 1-20 2 1 1 6 2 7 0 7 2 2 0-17 2-2 3 4 1-5 1 2 1 8 0 4 0 2 0-19 2 3 0 5 1 8 1 4 0-1 1-18 1 14 0-1 1 4 0-16 2-1 1 12 0 1 0-4 1 1 1 7 0 1 0-17 1 17 1-17 1 4 5-1 2-1 1-2 1-1 4 1 4-1 4 4 416 8 7 6 4-16 4 18 1-15 3 8 0-8 2 0 5-1 7-5 17 20 1-12 3 5 3-5 23 17 9 4-50 8-7 3 0 6-10-18-1 16 0 0-2-14-7 16-6-6-4-12-4 16 0-18-1 14 0 6 0-11-1-10-441 0-4 7-1 3-1-8-1 0-1 4-1 5 0-10-1 0-1 1-1 13 0 8 0-23-1 13 0-10-1 15 0 5-1-13-1 1 0 7-2 5 0-14-1 6 0-1-1 2-1-9-3 3-1 3-1 6 0-18-2-1-1 14 0-13-1 13-1 0-1 1-2-13-1 16 0-16-2-1-1 2 0 19 0 0-1-10-1 1 0-1-1 6-2-10-1 14 0-17-1 3 0 6-1-14-2 4-1-2-6 3-1 4 0-4-1 4 0 6 0-8-1 10 0-10-1-5-1 6 0 15-1 1 0-14-1 1 0 3-1-2-1 3 0 4-1 5-1-24-1 6-1 18 0-13-1-9-1 17-1-11-1-2-1-4-1 16 0-15-1 6 0 14 0-12-1-11-1 2 0 3 0 0-3 8 0 7 0 2-1-18-1-2-1 11 0-13-1 8-2-8-1 6 0 17 0 0-1-19-2 10 0 2 0-4-1-9-1 19 0-19-3 17-1 2 0-9-1-11-2 1 0 2 0 2 0 11 0-17-1 17-1 4 0-18-1 9 0 6 0-1-1 4 0-13-1 2 0 4 0 1 0 1 0-1-1-1-2-13-1 6 0 5 0 2 0-14-1 3 0 3 0 17 0-21-1 8 0 9 0 4-1-8-2-15-2 5 0 7 0-11-2 21 0-19-1 11 0-3-1 8 0 3 0-7-1 8 0-9-1 4 0 4 0-2-1-21-1 16-1 6 0-14-1 1-1-6-3 3 0 1 0 8 0 3 0-13-1 7 0-10-2 9 0 3 0 3 0-6-2-11-3 17 0-9-2-7-1 18 0-18-1 9-216 4-1-2-2-3-1-2-1 7 0 0-2 4-2-2-1-5-1 3-1 3 0-13-1 10-3-12-2 13 0 4-2-15-3 9-4 5 0-15-4 15-1 3 0-1-4-2-1-8-2-3-1-1-2 10-2-3-5-4-1 6 0 3-3-7-6 8-1 0-5-4-2-12-1 3 0 4-2 1 0 8-10-5-2-10-4 19-6-22-6 18-23-10-6 3-9 5-19-2-44 19 37 9 10-11 9 16 5-2 17-16 13 10 6-4 24 12 9-4 2-10 4 10 2-12 1 3 0 11 4 2 4-5 3 3 0-9 4 6 3-16 2 12 0 1 0-11 3 10 1-10 2 3 0 6 3 8 0-9 6-4 2-4 1 11 3-14 3 8 0-8 2 13 1-10 2 4 1-7 1 1 2 4 1 7 3 1 0 6 1-2 1-1 214 3 1-13 1 8 0 4 0 0 1 2 1-3 2 2 0 1 1-11 1 4 0-2 1 4 0-11 1 2 0 5 0 5 0 7 0-22 1 2 0 2 0 3 0 8 2 3 1 2 0-17 1 1 5 4 0 5 1-8 1-4 1 4 3 15 1-11 1 2 1-7 1 5 0 12 0-16 1 17 0-21 3 15 0-8 1 4 0 9 0-6 1-5 2-4 1 7 0-14 1 17 0 4 0-17 1 11 1 0 1-9 1-6 1 5 2 14 0-15 1 13 1-9 1-8 1 15 0-3 1 1 0 10 0-6 1 5 1-19 3 8 0 10 0-8 1-4 1 12 0 1 0-4 2-10 1 4 0 6 2-13 1 15 0-14 2 15 0-19 1 19 0-7 3 5 0-17 2 5 0 4 0-9 1 9 0-4 2 6 1 1 0-13 1 3 0 17 1-21 1 18 0-1 1-8 2-9 2 13 1 2 0-1 1 0 1-15 1 9 3 7 0-4 1 12 0-23 1 13 0-11 2 13 0 1 0 7 1-8 1-2 1-6 1 12 1 3 0 1 0-12 4 7 1 5 0-14 1 11 0-15 1 12 0 5 0 1 0-24 1 5 0 6 2 13 0-12 1 9 0-7 1-8 1 5 0 7 1-14 1-4 2 7 0 17 0-22 1 10 0 2 0-9 1 7 0 7 0 1 0-14 2 16 1-16 2 1 1 14 0-6 1-12 2 18 0-1 1 2 0-3 1 1 0 2 443-20 7 6 0-5 1-1 1 1 1 21 0-16 3 10 7-7 13 2 0-3 23-8 17 36 22-9-27 2-1 10-5-13-15 16-5 2-2-6-23 3-4-18-8 24-2-15-3-8-1 4-2 11-4 8 0-3-424 3 0-8-1 6-1 1 0-4-1 0-1 3 0-6-1 0-1-7-1 10 0 2 0 3 0-19-1 11 0-5-1-7-3 2-1 4 0 8-1-11-1 11 0 4-1-22-1 13 0-6-1 1 0 4 0 10-2-18-1 2 0 10 0-12-2 3 0 4 0 10-1-2-1 5-1-18-1 11 0 4 0-20-1 16-1 4 0-14-1-5-1 1 0 7 0-2-2 7 0-14-1 0-2 11-1 10 0-12-2 5 0-8-1-3-1 10 0 4 0-14-1 13 0-11-1 9-1-3-2 8 0-3-1-4-1-2-2-7-1 0-1 4-3 10 0-17-1 20-1-19-1 10-1 7-5-15-1 10 0-9-2 8 0-1-2 0-2-7-3 3 0-4-1 1 0 7 0-12-1 13 0 1 0 10 0-20-1 3 0 13-1-17-1 20 0-20-3 2 0 13-1-17-1 4 0 4-1 1-1 11-1-17-1 18-1-5-3-10-1-1-1 15-2-21-3 14 0 7 0-9-1-11-3 21 0-22-1 6-1 15 0 0-1-8-1-4-1-8-1 17-2-13-2-2-1 9 0 4 0 2 0 6 0 0-2-24-1 7-1 12 0-16-1-3-2 4 0 11-1 1 0-16-1 1-1 2 0 14-2 5-2 2-1-22-2 15 0-15-1 9 0 6 0-10-3 7 0 10 0-6-1 5 0-7-1 6-1-3-3 2 0-21-2 1 0-1-1 7 0 7 0 4 0 1 0 0-2 2-1-6-1 7-2-6-1 5 0 0-3 1-3 1 0-1-189 1-4-8-4-13-1 2 0 10-1 1 0-7-2 7-1-12-1 3-1 15 0-12-1 11 0-12-1 6-1-8-1 16-1-10-2-9-6 1 0 2 0 1-1 3 0 9-5-17-1 18 0-12-1 12-1-13-1 14-2-19-4 3-4 4 0 11-1-20-1 13 0 1-1-11-6 0-1 9-4 11-2-2-6-11-4-2-1-6-5 20-8-17-5 14-6-16-2 13-7 5-13-14-1 13-2 1-63 26-55-21 100 11 4 5 21 1 13 2 23-11 2 10 1-1 1-4 2-3 10 3 2-7 4-6 1 5 1 14 1-7 4-3 2 4 3 10 0-12 1 10 0-3 4-19 1 7 1 6 0 9 2-20 1 4 2 6 0 12 1-6 1-15 2 19 2-13 1 6 3-11 2 12 0 1 0-7 2 4 7-3 4 1 1 3 2-10 2 9 1-11 1 9 0 7 1-11 2 10 1-14 1 9 2 3 0 6 2 1 1-17 1 8 7 2 2 7 145-6 13 4 0-4 1-7 1 1 0 1 3 11 0-2 2 0 1-9 2 2 0 7 2-16 1 9 2 5 0-15 1 6 1 8 0-15 1 0 4 1 0 18 0-9 5 0 2 6 0-15 1 1 0 16 0 1 1 0 1 2 0-20 1 13 0-14 1 5 1 2 0 11 2 2 0-11 4 12 1-9 2-12 1 0 1 4 0 2 0 9 1-1 1-16 2 1 0 6 0 9 0-7 1 5 1 2 0-3 1 3 0-8 2 7 1 6 0-12 3 0 5 3 4-4 2-2 2-5 1 7 0-9 1 3 0 17 1-20 1 4 0-3 2 18 0-7 1 3 0 3 1-13 1 11 1 0 4 1 0 3 0-2 1 4 1-11 1 8 0-16 1-3 3 20 0-10 3 14 0-22 1 11 0 7 0 2 0-8 2 0 1-4 1 10 1-15 1 12 0 4 0-10 2-9 1 8 0 1 0-4 3 6 0-7 1-3 4 10 1-11 2-2 1 17 0-7 3 7 0-16 1 9 0 7 0 7 1-24 2 11 1 13 0-11 5-13 1 1 0 8 0 8 0-4 2 6 0 3 0 2 3-23 1 1 0 3 0 13 1-15 2 18 0-14 1 12 1-7 2 5 0-10 2 9 0 5 0-18 2 4 0 0 1 5 0-9 1 8 0-6 2 0 3 19 0-6 1-1 1-4 1 2 1 7 0-17 1 1 1 14 0-1 1-17 2 15 0-8 2 11 0-16 1 5 0 11 0-14 1 7 0-11 2 15 0-2 2-1 1-13 1 1 0 12 1-4 3-1 1 7 0-2 2 1 0 9 0-13 2 4 1 9 0-7 1-9 1 1 0 12 0-13 1 14 0-7 1 4 0-7 1 8 3 1 2-7 1 6 0-4 2 5 1-3 1 4 5 1 3-9 374 1 1 0 2 3 2 0 3-6 1 8 0-8 9 1 3 4 12 0 2-1 7-7 7 1 0 4 3 8 2-5 4 21 45 4-53-2-6 2-8-5-14-12-9 15 0-4-3 3-2 5-1-13-6 15-3-14-1 7-2 6 0-4-5 4-1 0-2-10-2 9-7 3-312 2-3-1-6 1-1-11-1 3 0 5-1 0-2-8-3 0-2 2 0-5-4 5 0 7 0-14-1-3-1 1 0-2-1 17 0-12-1 13-3-5-1-4-1 3-1 7-2-19-1 11 0-2-2 9 0 2-1-5-1-9-1 7-1-3-2 1-1-12-2 12 0-11-1 17 0 0-1-19-1 2 0 2 0 8 0-5-1 14 0 1-2-21-1 5 0 5 0 3 0-15-1 8 0 5 0 5 0-12-2 11 0 4 0-14-1 3 0-8-3-1-2 5 0 7 0-12-2 20-1-20-1 12 0 3-1-17-1 9 0 14-3-17-3-2-1 2 0 5-5 6 0-1-1 5-2-13-2-6-4 8-1 3 0-13-1 4-2 9 0 9 0 2 0-22-1 13 0 5 0-11-2 3 0 1-1 10-3-23-4 21-1-10-3 11-1-14-1 16-1-21-1 13 0-10-2-2-1-4-1 6-1-2-2 17 0-18-2-2-2 2 0 3 0 4 0 4 0-12-1 7-1 9 0-11-1 2 0 11 0-1-1-11-4 5 0 2-2-10-1 1 0 1 0-2-2 4 0-6-4 20 0-17-1 2-1 16-2-12-1 9 0-1-1-4-1 8-1-9-1 1-3-12-1 4-2 5 0-12-1 16 0-9-1 8 0-13-4 1 0 19 0-19-2 9 0-6-1 10 0-9-1 1 0 5 0-11-2 5 0 2-1-10-2 10 0 13 0-12-1-6-1 4 0 10-1-17-3 13 0-6-1 1 0-8-2 8 0 4-2-8-1 5-1-10-6 2 0 6-1-7-1-2-1 6 0 17 0-16-1-7-4 10-1-2-1 10-1-8-1-1-3-8-2 17 0-17-1 10 0 13-1-7-1-14-1 8-1-11-1 5 0 10 0-15-2 5-1 1 0 10 0 7 0-22-1 0-1 4-1 18-1-21-2 22-3-23-4 9-3 3 0 1-2-4-1 2-2 2-2-1-1-11-2 4-3-1-2 4 0 8 0-17-1 1-1 10-1 8-3-6-4 9 0-1-2-21-2 2 0 8 0 9-1-5-3 1-1-10-1 15 0-14-1 8 0 1 0-11-1 3 0 3 0 9 0 0-1-9-2 5-1-10-1 8-1 5-1-4-1-4-1 7 0-2-1 8 0-15-1 5-1-5-2 9-1-5-1-2-5 8 0-7-6 6 0 7 0-7-3 3-1 0-10 4 0-7-4-1-2 7-3-2-7 1-2-4-1 6-1-8-2 1-2 5-2 1-2-2-15 3 0-10-2 5 0 0-1-4-1 1-5 1-3 4 0-2-2-4-1 4 0-2-5 7 0-2-1-13-1 1-2 6 0 4-1-9-3-4-1 13-2 3 0-16-1 3 0-5-2 18-1-17-1 16 0-19-1 12-1 4 0-15-1 6-1 3 0-9-1 4 0 2 0-2-1-3-2 17 0-21-1 22-2-18-1 5 0 6 0-7-1-6-1 21 0-8-1-13-2 8 0 1 0-6-1 2 0 13 0-1-1-17-2 1 0-2-1 7-1 8-2-11-2-5-1 6-1-4-5 19-2-19-3 16 0-19-5 0-1 1-1 9-5 4 0-12-1-2-2 11-2 7-1-3-3 2-3-17-11 13-5-13-4 23-1-11-3-11-1 21-7-5-1-13-2 0-3 20-3 0-11-12-11 10 0-10-5 4-6-16-11 11-22-11-120 47 29 1 125-5 4-9 27 5 1 10 1-16 2-4 3 13 8 1 5-12 5 13 1-19 7 2 9 8 1-1 1 1 4 4 0-2 3 9 1-17 3 11 0 7 4-20 6 20 0-4 1 3 2-12 1 3 5 4 6-2 1 5 2-3 1-16 2 2 6 22 4-17 5-6 7 6 1 16 1-3 2-19 7 15 2 0 1-9 1-5 1 5 0-7 1 17 0 2 1 1 1 2 1 1 1-3 2 1 3 1 0-22 5 1 0 7 0-4 2 7 10-4 2 3 0 7 2 4 6-20 1 1 0 7 1 3 1-8 1 9 0 1 1-1 1-4 1 2 1 4 0-14 4 2 0 13 0 1 0-3 5-8 3 0 3 13 0-6 1 3 0-9 5 5 0-6 1-1 1 3 0-3 1 1 0 11 1-3 1-7 2 17 6-17 1 9 0 3 6-9 2 1 0 2 0 8 0-4 1 4 1-2 1-17 1 10 0 4 0-14 1 10 0 10 0-15 1 13 0-19 1 15 1-3 1-8 1 4 0 4 8 7 0-19 1 11 5 10 2-20 1 13 1 3 4 2 0-10 1 9 0-7 3-10 2 0 1-1 1 18 4-17 1 4 1-1 1 8 0-12 3 12 0 3 0 1 1-17 4 7 1 9 1-9 1 11 0-10 1 0 4-1 1-2 1 10 0 9 0-14 1 7 3-3 3-5 2 8 0 4 0-20 1 2 0 10 0 10 0-9 1-9 1 15 1-5 1 4 2-13 1 1 0 3 0 4 0-12 1 11 1 11 1 0 2-24 2 5 1 2 1 3 1 0 4 9 2 4 0-19 2 11 1-10 4 14 1 5 0-13 3-7 2 11 2-5 3-8 1 2 0 2 0 7 3 1 0-9 1 0 1 11 2-10 5 17 0-11 2 4 0 0 1-13 5 20 0 0 1-17 1 13 1-10 1 14 1-13 1-9 1 5 0-5 1 18 0 5 0-15 1 1 0 1 2 5 0 2 0-13 1 19 0-24 4 0 1 9 1-2 1 3 0 14 0-18 1-1 1 18 0-19 2 7 3-4 1 1 0-1 1 10 0-8 4 10 0-2 1-12 2 1 0 3 0 1 1-5 2 15 0 0 1-8 1 5 0-13 1 7 0 4 1-6 1 7 2 7 1-23 1 5 3 10 0 4 0-6 3-7 1 8 0-14 1 11 2 1 1-4 3 6 0 6 1-8 1-4 3-5 5 1 0 5 0 2 0 13 0-8 1 1 0-17 3 14 0-12 2 8 0 2 1 4 2 7 0-9 1 9 2-17 1 12 2-8 1-3 1 2 0-3 1 7 0 6 0 4 0-4 2 3 0-4 1-16 1 17 0-18 1 14 1-7 2 2 1-3 1 11 1-4 2-2 2 6 1 2 0-4 1-2 1-14 1 21 2-19 1 1 0 7 1-1 1 13 1-10 2-11 1 5 1 3 0 4 0-6 1-6 5 2 1 5 0 13 0-9 1 7 7-11 1 4 0 12 0-24 2 17 0-12 1 9 1 5 0-11 1 10 0-2 1-7 1 4 3 5 0-2 1 8 1-10 2-6 1 2 0 8 0-14 2 4 0 4 0 3 0 2 1 3 0-14 1 3 1 2 1 9 4 3 0-10 280-1 4 7 0 5 0-16 5 10 0 6 3-4 1-20 4 16 3-2 1-12 2 5 1 1 2 13 3-8 24-6 2 0 1 0 19 15 0-19 20 18 57 17 6-9-67 18-23-22-6 13-2-7-5 17-4-15-1-2-2-3-2 10-1 9-11-18-5 16-1-8-7 9-2 0-5 3-2-15-8 1 0 3-1 0-4 9 0-8-1 10 0-17-1 8-2 6-2-13-2 9-2-13-268-2-1 3 0 3-1 2 0 1 0 2 0 4 0 5 0 2 0-18-1 1 0 8 0-10-1-5-1 12 0 3 0-2-1 3 0 8-1-13-1 4 0 3 0-5-1 2 0-2-1-4-1 5 0-10-2 19-1-22-1-1-1 4 0 3-1-5-1 20-2-8-1 1 0-12-2-1-1 11 0 0-3 8 0-16-1 13 0-5-1-9-1 0-1 7 0 1-1 12 0-24-1 10 0 2 0 3 0 7 0-17-1 12-1 4-1-11-1 12 0 1-1-5-1 6 0-7-2 2 0 1-1-14-1 11 0-13-1 10 0-4-3 3 0-13-1 4 0 7 0 3 0-13-1 6 0 13 0-13-5 4-1-11-1 0-1 13-1-12-1 21 0-20-3 4-1 13-1 1-1 1-3-1-3 4-1-9-1 4-1 0-1 0-1-11-2 11-1-4-1-6-2 6 0 9 0-13-1-4-1-6-3 8 0 7 0-4-3-9-1 19 0-16-6-6-2 9-1 14-4-15-1 4 0-9-2 2 0 9 0-3-3-2-1 11-3-20-8 24-1-8-1-2-1 7 0 2 0-8-7-10-4 1-1-5-3 3 0 8-1-5-1 2 0 7 0-11-3 14-2-4-4 4 0 1-3-6-2-4-1 2 0-5-1 14 0-10-1 4 0-15-6 14 0 3-3-12-1 17 0-20-1-2-3 12-3 1-2 10-2-10-2-4-1-5-2 13 0-11-1 1 0 6 0 3-1 3 0-11-2 11 0-8-2-7-2 8-1 1-1-6-2 4 0 3-2-10-3 16-1 4-1-10-1-3-2-9-2 2-1 4 0 1-1 4 0 11-1-3-5-20-1 20-2-4-2 7-2-23-1 14-2 0-4-13-7 13 0-15-1 6-4 4 0 10-3 3-2 1-1 0-1-23-1 15 0-7-3 3 0-6-1-5-1 3-1 20 0-19-4-4-4-1-1 10-1 1-1 5 0 6 0-8-2 7-2 3 0-15-6 6-1-4-2 6-8 0-1 2 0 3-2-16-1 16-1 2 0-14-7 10-1-20-2 1-1 3 0-3-1 18-2-3-3 5-2-12-2 11-1-16-1 20-1-10-1 10-2-4-3-17-1 20-3-4-2 2 0-18-1 6 0-8-1 9-4 2 0 8 0-14-1 8-5 4-1-9-7 9 0-7-6 11 0-20-2 7 0 15-5-2-1-20-1 13-2 9 0-8-1-7-3-2-1 15-2-15-9 8 0-3-10-12-4 8 0 7-1 2-1 2-3 1 0-19-1 20 0-8-1-5-4-4-1 5-1 1 0-8-1 4-3 15 0-18-1 13 0 1 0-11-2 4 0 3-1-10-9-2-7 12-3-1-1 8-5-6-3-10-3 1-2-5-3 23-6-10-5 0-3-5-6 11-6-4-12-4-1 6-10 3-6-4-110 31-46-22 119 13 4 2 18-6 2 1 14-7 20 6 26 1 15 3 11-8 1 10 9-7 1 12 0-5 5-14 2 3 1 1 3-3 4 21 4-4 4-17 1 16 5 5 0-16 3 2 5-7 1 10 13 2 2 7 1-4 2-17 2 13 7 3 7-8 6-6 1 3 0-4 1 7 3-2 7 6 2-5 1 13 2-18 2-1 5 3 0 15 1 1 2-1 1-8 1 6 1-9 1 5 3-13 2 0 1 2 8 13 0-3 2 9 10-8 5 0 7-8 3 1 2 16 6-3 1 1 0 4 1-2 1-3 2-15 1-2 2 8 0 11 0-4 2 7 2-13 4-11 1 22 0-16 7 5 1 5 2 2 0 3 4-5 1-2 3 3 3-16 3 13 1 2 0 0 1 8 1-6 5 1 2-14 1 4 3-4 1 8 0-9 1-2 2 18 0-17 1 0 2 4 1-1 11 4 0 5 4-12 3 10 0-12 1 2 0 15 3-10 1 4 0-5 3 10 2-1 1 5 0-12 1 5 1-8 1 14 0-19 2 6 0 14 0-14 2-6 2-1 1 2 1-1 2 7 1 2 1 14 2-12 1 9 0-7 5 6 0 2 1-21 1 17 0-5 3-12 1 6 0-1 3 9 1 1 0 5 0-6 1-8 1 5 1-8 1 11 3 3 0 2 0 0 1-9 1-5 2 4 6 1 0-4 1 14 1-16 3 19 3-13 1 1 2-8 1 12 2-7 3-2 3 8 2 1 1 2 1-10 2 7 0-15 2 24 2-14 2 4 3-12 3 1 0 17 0-4 1-12 1 11 1 5 0-11 1 5 0 6 2-16 1 10 1 9 0-13 2-7 2-2 1 6 1 4 0 10 1-12 1-4 1 7 1-4 1-7 2 9 0 4 0-1 2 7 0-17 1-1 2 8 0 10 1-20 1 17 0-2 2 9 4-24 3 1 0 18 0-13 2 2 3-3 1 2 2 11 0 3 1-4 1-9 1 2 0 9 0 5 5-15 3 8 0 5 0 2 0-13 1 9 1-19 2 18 0-14 2 16 0-1 2-19 2 14 3-1 2 2 0-7 1-4 1 2 0 8 3 6 0-11 1-10 1 4 3 1 3-5 2 16 245 4 0-16 8 6 0-4 3 5 1-9 1 11 0 11 0-24 1 22 4-8 4 8 1 2 0-20 2 17 0 2 5-20 1 1 8 14 8-15 2 20 9-17 2 14 5-9 6 1 17 1 6 6 1-18 1 0 16 1 11 8 8 19-2 3-34 8-12 5-4-7-14-2-3 13-2-22-1 15-7 2-1-4-1-11-3 18-12-15-12-1-1 7-2-13-2 1-6 4-2 8-2 6 0-8-3 4 0-15-1 1 0 2-3 7-2 5-1-11-1 13-10 6 0-23-239 0-1 15-5-14-2 3-1 16 0-20-4 24 0-22-1 9-1 13 0-17-1-7-1 9 0 2 0 2 0-3-1 1 0 4 0-1-6 1-2-12-1 21-2-4-3-15-1 13-1-18-1 19-3-6-1 1 0 5 0 0-1-10-4 0-2-7-7 10 0 3 0 4 0-10-1 3 0 8-1-1-2-13-1 8 0 3 0-11-2 10-3 3 0-6-3-5-1 4-2 3 0 9 0-17-12 17 0-1-2-19-1 10-1 2-2 2 0-15-1 1 0 8-1 10-1-14-1 2 0-1-4-4-1 11 0-16-1 2 0 3 0 8-3 8 0-21-3 7 0 5-1-12-5 10 0 3 0-4-4 2 0 5 0 7-2-12-2 6 0-10-2 17 0-17-1 12 0-11-2 7 0 1-1 1 0-7-1 4-1 0-1 2 0 2 0-18-1 9 0-7-5 1 0 4-1 0-9 2 0-9-1 2 0 17-2-18-3 21-2-21-5 20 0-16-5 14 0 1-3-18-3 2-1 5 0 10-1-18-2 21-1-7-2-14-3 9 0-6-1 15-1 4-2-6-1 4-2-11-1-6-1 2 0-5-1 5-2 8-3 7 0-17-1-2-1 12-2-4-2 6-1-10-2 14-3 2 0-19-1 19 0-19-1 4-1 12-2 0-6-16-1 8-4-6-2 14 0 0-1-8-1 5-4 1 0-4-4-13-1 3 0 8-1 7-5-8-1 0-3 0-1-8-3 4-8 7-4-2-2 12-1-12-2 4-2-12-1 1 0 5-1 3-7 6 0-7-4-11-2 11 0-2-1-2-1 8-1 7-10 2-2-22-13 14-1 0-6-6-2-8-1 0-3 14 0-15-3 17-1 1 0-11-3 13-5-3-1-9-2 12-3-15-2 0-1 14 0 3-5-2-10-18-3 4-5-4-1 9-6-1-7 3 0-8-2 14-4 4-10-10-9-4-30 12-11-1-5-6-4 5-3-10-6-7-10 16-25-12-20-3-13 3-18 2-1 4-2-13-50 12-5-7-88 1-24 27 151-8 31 21 32-14 27 15 3-15 9 5 11 12 6-1 10-17 1-1 21 9 1-11 1-2 7 9 4 6 1-15 4 9 11 14 0-7 2-5 3-10 33 22 8-16 7 9 11-15 4-2 7 18 4-12 11-6 5 24 4-11 8-3 1-7 2 3 0 10 3-16 3 12 2-10 2 19 0-3 2 1 1 1 2-12 3 8 1 4 7-14 1 7 0-6 1 4 0-8 2 8 0-10 1 6 0 10 0 4 3-14 3-6 2 8 0-5 8 7 0 1 1-11 2 16 3-14 1 1 0-3 1 15 4-11 2 13 0-16 5 17 3 1 3 2 3-9 1 3 0 1 0 0 3-13 1 17 0-14 1 2 1 13 0-20 1 14 1-14 1 22 0-17 2-7 1 12 1 11 0-18 4 19 0-12 1-6 3 15 1-13 4 1 3 9 3-5 1 1 1-1 1-4 1 6 0-5 1-1 1-9 2 6 4-3 2 9 0-7 2 15 0-18 10 4 2 10 0-15 1 12 0-3 1 5 2-13 3 12 0 6 4-5 1-4 2-1 1 7 0-13 3 7 0-10 2 6 0 6 1 1 0-10 1 11 0 5 1-10 3 1 1-5 1 11 0-6 2 5 6 4 1-14 1 2 0 7 0 8 1-15 3-4 1 19 0 0 12-12 1-10 2 14 1-13 2 16 2-9 1 11 5-5 2 1 0 3 2-7 1-3 2-3 3 9 1-7 2-2 1 3 1-4 1 18 1-13 3 7 1 3 4-13 1 14 0-17 4 8 2 10 1-21 2 1 1 4 2 2 1 6 0 6 0-4 1 6 1-10 2-5 1 8 0 6 0-13 2 10 0-16 2 5 0-4 1 1 3 6 0-3 3 11 0-14 1 1 0-5 2 2 0 0 2 0 3 22 229-15 9 10 3 5 0-19 1 15 0 1 1-11 3-6 1-2 1 16 1-2 3-5 2 3 0-1 3 6 1-3 2-15 1 3 2 1 0 16 3-13 2 8 2 6 4-1 4-13 2 14 1-11 11-5 2 17 6-14 2 0 12 5 6-5 5-2 9-2 5 4 54 9 9 5 16 2-27 7-41-7-17 0-6 22-7-7-12 3-3-11-11 3-2 11-7-4-3 7-8-23-17 17-3-13-3 5-1-7-6-1-1 12-7-5-1 10-2-8-2 1 0-6-6 9-3-14-234 0-3 15-5-16-1 18-1-11-1 8 0-15-1 2 0 0-3 8 0 4 0 7 0-17-2 6 0-9-1 2-3 17-2-18-1 6 0 10 0-5-1 10 0-19-2 9 0 2 0 6-2-12-1 6 0-10-2 2-1 13-1 3-1-3-1 0-1-18-1 12 0 10-1-7-6 5 0-10-1 6-1-10-1 1-2 5-1 3-2-17-7 8 0 7-3 6 0-12-2-4-3 8 0 4 0 3 0-13-4 9-2 1 0-10-2 16 0-20-1 1-1 0-1 2-2 3-1 5-2 9 0-22-1 3 0 6 0 4 0 3-1-7-1 1-1 5 0 0-9-1-2 9-2-9-11-6-3 11-3 0-1-9-2-5-4 4-3 11 0-13-3-6-3 17-1-10-3 7-2-3-1-9-1 11-1-15-4 8 0 6-6-5-1 2 0-7-2 5-1 1 0-1-2 14 0-15-2 1-1-5-1 10-3-1-2-4-1-3-2 8 0-1-1 6-3-19-1 1-2 1-1 16-1-10-2 11-1 0-1-17-4-2-2 0-2 0-1 4 0 0-1 3-3 8-2-13-2-2-2 7 0 7-3-14-2 4-11 2 0 17-1-19-1 16-10 3-3-22-2 17-4-14-6 5-2 11-1 0-6-15-2 8-2-1-1 3-1 7-1-4-3-5-1-1-2 7-3-16-9 18 0-5-4 6 0-21-19 6-3-4-19 18-23 1-2-20-6 3-4 13-21-5-21 7-2-20-1 5 0-2-2 20-4-19-6 16-3-3-24-12-2 5-10 9-6-17-10 0-23 11-20 4-28 1-161 16 126 0 25-7 15 11 41-4 1 11 41-5 20-3 16 9 38-14 3-7 3 6 5 12 14-11 1 12 9 1 12-12 18-6 2 13 2 5 1-8 5 10 1-22 3 5 3-2 9 2 1 6 2 3 1-11 5-3 5 5 2-4 5 5 7 1 5 3 2 5 1 0 1-15 9 17 0 3 6-3 1-17 2 7 8 13 13 4 0-10 3-14 2 1 0 0 3 8 0 6 0 7 10-16 4-5 1 8 2 6 0-11 1 10 0 3 2-9 15 3 2 12 1-17 1 12 0-13 6 14 0-9 1 11 0-13 1-5 1 19 0-11 5 5 1-14 2 13 0-3 2 3 1 8 0-9 3-3 5-9 3 20 1-2 2-13 3 13 0-19 1 7 2 12 0-19 2 21 1 1 3-23 2 10 0 6 0-13 1 8 0 6 8-8 4 15 0-14 1-1 1 1 1-3 1 8 2-12 2 16 1-18 3 18 2-7 1-11 1 5 1 3 0 6 0-9 1 1 0 4 1 10 0-3 2-15 1 13 1-11 1 5 2 2 0-11 1 6 1 15 0-12 4 4 0-11 2 14 4 2 1-6 2-10 1 6 0-7 1 21 0-20 1 16 0-2 1 5 1-8 1 8 3-1 1-11 1 13 0-12 5 2 0 4 0-6 2-11 3 6 0 15 1 1 0-21 2 4 0 5 2 10 5-16 1-4 2 5 0 6 1-1 1 5 0 1 0 8 0-20 1 12 0-11 1 5 0 2 2 10 0-4 1 3 0-12 1-8 1 19 1-5 4-5 2-7 1 10 0-6 1 15 227-13 6 2 0-3 1 1 4 3 0-4 2 2 1-3 1 11 5-14 1 6 0 1 0 5 2 3 8 1 2-4 2-15 1 6 4 0 1 15 1-22 9 21 0-19 5 3 5-4 3 8 1 10 1-9 3-10 3 13 0 5 12-17 8 21 3-17 4 1 32 9 3-6 20 0 88 35-31-15-8 11-57-4-19-5-13-5-6 1-1 12-28-2-4 5-12-3-11-10-7 8 0-1-12-7-3 4-1 9-3 5-4-21-5 19 0-13-4 3 0-10-1 1-1 4-5 2-1 9-1-5-1 12-1 1-2-15-1 13 0-1-1-12-1 5-1-8-1-3-1 18 0-6-3 2-1 5-6-5-220 3 0 0-1-1-1 3 0-11-1-2-1 11 0-19-1 11-2 1 0 3 0-14-2 3 0 15-2-6-1-1-1-2-1 8 0-4-3 4-1-5-1-6-3 4 0-9-2 2 0 10 0-12-1 10 0 6 0 0-2-18-1 17 0 6-1-22-1 13-4-12-2 7-1 1 0 11-1-21-1 7-1 3 0 8 0-9-1 9 0 5-3-4-1-6-1-5-1 14 0-7-1 4-2-8-1-3-1 2-1 12 0-9-1-10-3 10 0 5-4-9-1 1 0-10-1 18 0 4-2-23-1 3 0 19 0-20-1 10 0 12-4-8-2 5-2-8-1 7 0 1-2-9-1 12 0-1-1-18-1 14-1 5 0-22-2 10 0-6-1-1-3 2 0-6-1 18-1-5-1-5-2 14 0-14-1-4-1 16 0-19-2 13-1-14-1 13 0-1-2-4-1-9-1 10 0-6-2 18 0-18-6 5 0-7-2 10 0 2-2-10-1 3 0 3-1 13 0-11-2 12-7-6-4-17-7 4-3-4-2 19-1-10-4 5-3 9-4-12-2-10-2 19 0-8-1 3 0-12-2 9 0-2-4-3-1 5-2-10-1 7 0 2-1 3-3 6 0 0-4-9-3 1-1-12-3 2-2 0-2 5-11-7-3 5-3 17 0-2-5-20-3 21-2-1-1-11-2 2 0-11-2 11-7-2-1 4-15-5-6-4-1-2-1 1 0 3-2 13 0 1 0-18-2 7 0 6-2-8-5 14-7-21-1 12-11-1-2 2-13-11-5 3 0 15 0-13-3 9-1-14-1 10-1-11-5 0-3 10 0 2-1-9-6-4-2 18-10-6-3-8-7 19-27-6-6 5-1-7-1-15-8 4-6 17-2-5-4-9-9 9-15 2-4 1-4-20-38 14-41-12-14 9-8-9-1 4-81 8-14 2-49 33-193-7 181 5 89-9 68-3 62 0 21-1 11 4 2 5 2-5 14-11 11 9 3 12 24-10 1-13 13 17 1-15 12 8 0 10 4-19 18 13 5 6 7 3 1-9 1 5 10-8 3 4 17-4 7 6 1-2 1-7 1-2 1 14 16-12 5 8 1 2 5 3 2-19 4 4 1 7 4-5 2 11 1-13 5 9 1-3 4 4 4-16 2 22 2 2 2-23 2 12 0-12 1 1 6 7 4 8 2 0 1 3 3-1 1 5 2-21 2 2 7 19 0-4 4-10 1 11 0-14 5 15 0-8 2-1 6 4 1-13 3 17 5-12 8 2 0 12 0-23 6 22 0-1 1-11 2-4 1 13 1-11 2-4 5 0 3 15 4-13 1 9 3-1 1-2 2 6 1-7 2 1 4 8 5-5 1 3 3-18 3 22 0-2 1 1 1-5 1 4 0-16 3 3 4 11 0 2 2-1 2-2 1 6 0-18 2 7 0 3 1-9 4 12 0-2 1 8 1-13 1 3 0-3 1 1 1-11 3 0 1 13 0 4 0-18 1 5 0 16 0-9 2 7 0 5 1-8 2-12 1 9 1 11 1-23 1 6 0 15 0-21 1 3 0 11 0 9 0-20 1 6 0 14 0-24 1 17 2-14 1 10 0 2 1-10 1-2 1-3 2 12 1 8 4 4 0-23 1 5 0 3 0-2 1 5 2 7 1-15 1 20 1-3 3-18 1 12 0-10 1-4 1 1 0 18 1-3 3 7 0-19 4 1 0 9 0 2 0 1 2-7 1 2 0 0 1 4 1 2 2 1 0-19 2 23 0-15 1 2 0 4 0 0 2-5 1 8 0-5 3 9 0 0 1-18 1 4 1 1 0-7 1 4 0 18 205-3 3 3 5 0 4-15 1-4 1 19 1-3 2-8 2 2 1 6 3-15 2 4 3-5 2 5 0-3 4-5 2 12 1 3 2-6 1-11 5 15 8 6 7 1 3-20 4 21 9-7 10 7 5 1 25-9 30 6 20 22-17-1-57-9-4 10-3-12-16 5-1 12-4-4-3 4-6 0-4-11-9-4-1 14-8-12-1-3-7 12-4-9-2 2-5 10-3-18-2 14-8-4-1-10-1 6-5 9-5 3-4-13-194 2 0 6-1 7-1-5-3-3-1-13-3 8 0 4 0 0-2 1-2-13-2 1-2-1-2 3 0-2-3 0-5-1-2 17 0-16-1 14 0-1-1-2-2-9-1 4 0 13-1-16-3 11 0 1 0-18-2 6-1 10 0 2 0-16-1 8 0 8-3-17-1 11-1 2 0-14-2 14 0 8-3-19-4-4-2 19 0-11-3 12 0 3 0-16-12 15 0-15-2 0-2 12 0-17-1 6-1-1-2-4-1 4 0 1-3 13 0-10-2 7 0 1-1 1-3-16-3 5 0 9-1-18-1 21-1-17-3-4-2 16-1-9-2 16-3 1 0-3-2 2-3-19-6 1 0 6 0 3 0 10-3-9-1-5-7-3-3 7-1-6-1 2-5 6-1-5-1 13 0-9-2-4-1-8-1 10-2 9-5-17-5-2-3 10-7-2-2-6-2-2-3 20-2-2-5-4-2-3-4 6-2-13-1 15 0-13-10 3-2-4-3 3-1-2-4 12-1 1 0-22-4 14-1 10-2-3-2-20-22 19-6-17-5 6-3-2-1-1-6-3-7 19 0-22-7 5 0 2-1 12-6-3-6 8-1-18-4-1-1 19 0-14-1 7-1 0-1-17-3 5-1-3-16 18-1-1-2-3-5 1-3 2-3-8-1 5-8 8-4-3-7-16-4 15-44-9-3 8 0-7-5 3-1 1-2 0-10 3-1-13-9 9-7 9 0-6-16-5-9 2-4-9-4 1-21-5-47 22-111 24 40-23 9 18 9 6 30-1 5-9 7-4 4 8 17 3 1-18 20 7 9-5 2 11 3-7 4 4 3-12 17 17 1 2 1-3 22-3 6-10 3 7 0 12 4-20 9 21 2-10 1-11 6 10 0 7 1-15 2 6 6 13 4-21 4-1 1 2 5-4 8 8 5 7 0 7 0-4 1-13 5 2 1 1 1 13 1-6 16-14 9 13 4 1 2 0 2-7 3 5 1-4 2-6 3 13 0-11 5 0 4-1 7 1 2 3 1 6 4 0 2 10 3-6 3-6 1 1 3 10 3-10 6 8 0 1 1-2 2-12 2 12 0-20 9 10 1-3 2 13 6-11 1 10 2 1 4-14 7-2 1 0 2 5 5 7 0 3 0-9 3-9 1 10 7 11 1-21 10 9 9 5 3-14 5 23 0-7 4-5 3 3 6-8 5 13 0 0 5 4 2-16 2-6 1 6 3 1 4 0 1 5 0-14 3 22 0-5 1 4 5-15 1-2 1 5 3 8 0 3 1-19 1 13 2-12 1 3 1 15 4-10 4 0 1 14 0-1 2 1 0-11 2-5 1 5 0 10 0-19 1 5 2 2 0-5 1 12 4-16 2-2 1 20 4-7 1 2 0 2 3-10 1 2 0 15 1-1 2-15 4-6 1 13 1-13 3 8 2 0 2 7 3-17 3 2 1 13 0 7 0 1 0-14 1-4 1 17 1 2 0-11 2-7 3 18 0-17 1 3 0 1 1 8 2-8 1 5 1-16 1 12 4 12 0-19 4 4 0-6 2 10 0-1 4-5 1 15 0-15 1 12 2-7 2 8 1-16 2 3 2-3 2 5 0 5 0-13 3 9 3 4 0-9 1 3 1 11 0-13 1 7 3 1 0-1 1 5 4 3 0-5 1 4 0 3 1 1 4-21 1 2 1 9 0-10 2 17 0 0 3-21 3 19 0-14 1 17 0-10 1-2 2 9 1-12 2 6 0-11 1 8 0 0 1-7 1 1 0-2 1 4 0 4 0-5 1 10 0-7 1 2 0-6 1 13 0 1 1-4 176 5 0 5 7-16 3 15 1-22 1 22 11-18 4 13 6-15 1 21 1-21 10-1 3 21 7-19 1 3 2 7 10 6 0-5 4 5 1-13 7 14 15-6 1-1 4 4 0-8 20 14 6-8 26-6 1 16 36-1-21 10-80-8-25 15-20-17-1 4-1 16-8-7-5 5-2-8-7-10-1 17-4-11-2 17 0-7-4-6-8 6-6-3-3-1-1-2-4-3-3 12-4 4-5 0-3-17-145 4 0 2 0-8-1 9-3 3-1-14-4 1-1 17-4 2-2-15-4 5 0 5-1 2 0-5-1 5-5 1 0-19-1 21-5-3-3-15-2-1-5 12 0-15-1 3-1 1 0 16-1-11-1 1 0-4-1-3-2 7 0 4-5 2 0-7-1 11 0-17-1 2 0 17 0-15-4 1 0 2-1 9-1-19-2 12-3-11-1 2-2 5-1 5 0 8 0-8-2 2 0-6-1 0-2 5 0 1 0-11-2 16 0-18-1 10-2-12-1 14 0-4-3 1 0 12 0-16-2 9 0 1 0 6 0-8-2-1-1-4-3-8-1 5-1 14-1-20-3 19-7-1-1 5 0-11-2 6-2-19-4 14-2-14-1 5 0 6-1-10-1 6-8 14 0-17-2 3-5 2 0 3 0 2-5-2-6 6-2 5-2-17-3 15 0-10-3 10-1-5-2 7-1-3-4-8-2 1 0 11 0-11-2-6-1 8-1-12-1 6 0 3-1 4 0-1-6-14-2 6 0-6-2 21 0-12-5 11 0-7-2 10 0-14-5-5-2 5-1-5-1 12-3-15-2 20-1-1-1-21-1 19 0-18-2 7 0-5-3 21-5-23-5 4-3 18-1-3-1 3-1-7-2 3 0-1-2-16-1 15-3 3-1-3-1-2-1 2-1 2-1-9-2 9 0 4-2-4-1 0-1-16-1 13-2 3-5-17-1 7-1-7-1 8-4 11-1 3-1-6-4-18-2 2-1 15 0-9-1 13-2-3-1-17-1 10-1 3-1-8-6-4-1 17 0-1-1 2-1-18-1 2 0 18-1-16-1 12 0-18-1 13 0 7-2-19-7 19 0-6-2 4 0-2-1-9-1 15 0-1-1-10-5 12 0-8-1 5 0 4-1-3-1-10-3 9 0-2-1-1-6-12-1 9-4 2-2-1-1 2-5 1-1-9-2 14 0-16-2 7-3-4-3 4-1 2 0-4-2 5 0 6-1-13-4 9-2 1 0-4-2 5-1 2 0-13-2 9-1-7-7 6 0 3-1-6-3-14-1 22 0 0-1-20-2 19 0-16-2 15 0-2-2-10-1 1 0 5-4 7-1-16-3 3 0-2-2-1-2 2-4 12-4-17-1 10 0-7-1-1-5 10-1-6-7 0-3-8-1 22-1-2-2-15-4 11-3-16-1 17-6 1-5-6-1-10-1 17-9-19-2 19 0-3-1-10-3 0-5 9-1 0-6-11-1 16-6 1-2-11-1 8 0-2-6 6-21-3-6-6-20-13-3 12 0 10 0-4-6-7-2 10-3-7-3-10-15 7-8-3-1 11-12-17-7 5-127 37 54 0 31 2 1-7 5-4 21 10 4 0 3-7 22-14 1 13 5 8 9-7 1 5 0 3 2-8 11-14 1 12 0 8 5-11 5-7 1 7 1-2 1 17 9-17 5 16 4-12 8 0 3-3 2 12 2-6 8-7 1 9 2-2 1-8 10 18 1-22 8 1 1 21 5-10 3 2 3 1 0 6 4-22 3 14 0 1 1-15 9 5 0 17 1-14 1 14 0-16 1 13 0 1 1-21 3 19 0-2 2 3 1-20 2 11 0-4 1-6 1 22 1-21 1 14 0-12 1 6 0-10 2 7 0 1 0 12 3-18 1 19 1-15 2-2 1 3 0 3 0-3 3 11 0-15 4 5 0 3 3-7 2 17 0-11 1-4 1-5 4 23 0-22 1 0 1 21 0-10 1 7 0-3 1 2 1-8 6-11 1 3 3-1 2 2 0 3 1 17 0-1 2 1 1-11 2 11 2-12 1 5 1 2 1-6 3-6 1 6 0 9 0-19 1 1 0 12 0-6 2 11 0 1 1-19 1 13 0 3 0-17 1 8 0 2 3 7 0-14 2 3 4 9 1-3 1 3 1-15 2 12 2-11 1 15 0-18 3 19 0-1 2-15 2 19 2-16 2 13 0 1 0 2 0-19 1 2 0 5 0 8 0-14 1 10 2-1 1-5 1 4 0 5 0-7 1 8 0 0 2 4 1-2 1-18 1-2 1 14 0 3 0-15 1 13 0-4 1 4 0 3 1 0 1-15 1 14 0-6 1-11 1 17 1-15 3 15 0-10 1 1 0 15 1 0 2-20 1 18 0 1 0-17 1 7 0-12 1 5 0 3 1 3 0 10 0-15 1 9 0-2 1 2 1 8 2-18 3 19 0-18 1 14 1 2 0-22 2 8 2 9 0 1 1-14 1 14 0 4 0-7 1 4 0-11 2 3 0-4 2 3 1 3 0 5 0-14 2 2 0 8 0 9 0-5 1-9 2 5 1-7 1 9 0-5 1-7 1 7 0-11 1 2 0 21 1-7 1-14 1 20 3-11 1 11 2-17 2 15 0-12 1 2 0 6 1-4 2 10 0-15 1 12 2-13 1 14 0-1 1-19 1 10 1 5 1-4 1 12 0-7 1-10 1 2 2-8 3 2 0 12 1 9 1-4 1 1 0-15 2 5 1 4 0-8 1 13 0-16 3 6 0 15 0-16 2 4 0 2 0 4 0 4 1-22 2 7 2 6 0 7 1 2 0-12 2 9 1-16 1 0 1 3 0 14 2-18 3 5 0 14 0-4 2 7 1-19 1 7 0 4 0 6 0-21 1 1 0 3 1 13 0-14 1 8 1 2 0-12 4 13 0-14 2 6 0 8 1-5 2 13 1 0 1-11 4-1 2 9 0 1 0 3 1-5 1-13 1 3 0-4 1-4 1 23 0 0 1-14 1 8 1-16 2-2 2 9 0 12 1 0 1-6 2 5 0-3 3-14 2 7 1 11 1 1 1-17 1 1 1 13 2-15 1 11 0 0 1-5 1 5 0 1 0-4 1-6 1 6 0 9 1-9 3 12 0-18 1 4 1 14 1-13 2-4 6 7 0-5 1 14 0-9 1 7 1 3 2-24 1 18 0-15 1 3 0 6 1 9 0 2 0-18 1 18 3-1 1-9 1 10 0-14 1 2 1 7 0 0 3-16 1 3 1 15 0 2 0 1 0-21 1 15 4-12 3 10 2 6 2-3 3-15 1 3 5 9 0-3 1 3 3 0 3-6 2-2 1-1 4 3 0 1 0-6 2-3 2 12 0 4 3-4 1 8 1-17 1 14 0-13 3 16 0 2 1-12 3-6 1-3 6 15 2 4 0-20 1 14 0 6 1-21 1 24 0-10 4 0 2 1 2 6 2 3 6-7 13 4 3-18 2 10 0-1 1-12 2 12 0 1 0-4 3 14 0-13 2-9 1 3 4 1 0 18 0-11 1-7 4 13 0-16 1 11 1-7 1 10 0 0 1-12 1-3 3 1 0 4 1 12 0-5 3 8 2 2 14-1 88-16 22 13 3-16 3-3 1 11 0-5 2 9 0-5 4-4 1 5 1-4 1-2 1 4 0-4 2 8 2 6 0-17 2 20 3-21 2 15 0 1 0-3 10-14 1 16 3 8 0-23 1 10 4 5 0 1 3-1 6-5 6 4 8 7 21-21 21 5 4 17 11-2 4 0 12-7 16 12-21 14-26-9-10 11-32-16-12 21-28-18-11 7-5 7-7-9-7-2-13 14-2-6-1-7-5 1-1 6-2 4-2-3-2 3-1 2-1-16-3 12 0-12-6 2-7 10-1 3-2-11-3 2 0 2 0-3-9 8-2 5 0-1-2-10-1 2-6 9-7-10-3-4-3 8 0-4-4 6-5 5-2-16-1 1-2 3-2-4-2 9 0-5-1 2-1 10 0-21-1 12 0-4-1-7-4 3 0 6 0-7-1 2-5 8-1 0-3-7-1 14-2-18-1 14 0 2 0-10-1 4 0-10-1 6 0-10-2 21-1 1 0 1-1-24-2 24 0-17-2 10 0 4-1-17-1 6-2 4 0 9 0-19-3 15 0-14-1 14 0 2 0-11-1-8-1-1-2 5 0 9 0-2-2-13-2 13-2-6-1 17-1-22-2 1 0 7 0-6-4 4-1-7-1 15-1-1-1-11-1 2-1 16 0-12-2-8-2 4 0 7 0 1-1 8-2-7-2-3-1 7 0-10-8 3-1 3 0 6 0-2-1-16-5 8 0 4 0 2-1-13-4 5-2 1-12 2 0 11-2-9-1-7-1 13 0-4-2-12-1 18 0-17-1 12 0-10-1 13 0-15-2 14 0-11-1 3-1 12-1-11-1 9 0-2-2 2 0-17-1 9 0 8-1-19-4 9-1 12-6-18-2 18-1-10-3 9 0-20-1 3 0 8 0-3-2 6 0-14-1 8 0-1-1 7 0 4 0-10-1-2-4-1-1 5-1 12 0-15-1 9 0-7-1 1-1 2 0-12-2 21 0-20-1-3-1 6 0 17-2-5-1-7-1 13 0-19-1 8-1 8 0-20-3-1-1 20-2-18-3 8 0 3 0 10 0-21-1 12-1 4 0 1 0 3 0-14-1 6-1 2 0 4 0 0-1-10-2-1-1 4-1-8-1 9 0 6 0 4 0-12-3 3 0-4-2 5-2 7 0-10-1 1 0 2-1 5 0-10-3-3-2 9 0-1-2-3-2-1-3-8-1 8-2-6-3 5-3 2-1-10-1-2-1 9 0-2-2 1-4-6-2 4 0 3 0-3-1-4-3-2-6 4-6-2-7 1 0-4-1 1-6-1-6 2-4-1-5 0-1-1-21 3-146 1 0-4-10 1-7 2-3-1-3 4-2-5-2 4-1 4-1-4-2 1-3-5-2 12 0-13-2 4 0 1 0 1-5 5 0 4-1-4-1 1 0 1 0-12-2 2 0 9 0-11-1 6 0 3-1 10-1-13-1 6 0-13-2 5-1 3 0 13-5-13-2 4 0 7 0 2 0 2 0-17-1 11-2 5 0-18-3-4-1 13 0 2 0 7 0-12-3 3-2-4-3 6-2 5 0 0-1 1 0 2 0-12-1 1-2 5-1-10-2 9 0-8-1 5-5 1 0 7 0-3-1-15-1 13 0 4 0-12-4 8-2 3-4-7-1-1-3 6 0-11-1 5-2 3-2-8-1 12-6-12-1 1-2 2-2-9-7 15-3 8-1-1-1-8-3-9-1-2-11 0-5 11-3 1-12-7-12-5-6 7-2 10-9-8-2 3-9-5-9 12-11 20-11 2 10-19 11 13 25-4 9 10 3-4 1-12 2 1 1 11 1-6 9 11 1-19 11 23 0-6 1 3 2-18 5 10 1 5 1-15 2 3 2 7 5 11 1-18 1 11 4 3 0-12 2 16 0-7 1-2 2-12 1 16 1-1 1 4 4-2 1-17 1 6 0 4 0 3 0-1 5 1 0-13 1-1 1 15 1 4 1-12 1-8 4 7 2 3 1 9 0 3 0-8 1 3 0-18 2 15 0 3 1-9 9 4 0-7 1-1 1 1 0 7 0 8 0 1 0-19 5 8 2-7 2-1 3 3 1 3 0-7 2 3 1 2 1-2 2-3 6-2 5 0 307 1 12 1 1 8 8 4 0-5 1-2 2-5 2 15 0-3 2 4 0-15 1 3 0 2 3-2 1 16 0-3 2-19 1 5 1 9 0-4 2-8 2 2 0 3 0 1 3-2 2 11 1-2 1-7 1 3 0 12 0-11 1-1 1 3 2-5 1-6 4 20 0-20 2 3 5 5 1 7 2-12 1 9 1-9 4 9 1-13 2 5 0 1 0 6 0 4 0 0 1-10 2 12 2-14 1 15 0-15 1 15 0-20 3 15 1 2 1 6 1-24 2 2 0 15 0-14 1 10 1 7 0-17 2 11 0 1 0 9 2-4 3-15 3-5 1 9 0 6 1-14 10 0 4 18 1-10 2 7 2-4 3-6 1 1 0 15 3-13 1-2 2-1 8-3 1 2 0 13 0-12 2-4 2 9 1-6 2 14 2 4 6 1 0-23 2 3 1 20 0-21 2-3 3 13 2 4 0-3 1 3 1 0 1-3 1-5 1 7 2-16 2 1 3 5 0-1 1 8 1 8 0-17 3 1 0 11 0-5 2-10 2 20 0-3 1-17 3 6 1-6 1 10 0-4 4 4 3 5 3 1 0 5 1-15 2-4 12 14 4-14 4 17 2-5 5-9 1 12 1-2 1-4 1 1 2-11 3 7 3-8 2 11 2 12 0-21 3 9 4-1 22 11 1-17 1 1 12 10 0-2 1-12 6 8 4-3 16 4 3 5 3-14 5 16 15-10 11 8 28-13 20 31 3 14-37-22-23 0-3 9-3 13-20-20-4 21-4-19-8 11-4-11-11-4-16-1-1 24-6-9-14 0-4-6-4 14-7-12-2-4-1 12 0-13-1 4-4-10-6 9-6 6-4-6-3-1-1 4-4-1-1-3-7-6-2 9-4-5-1 11 0-16-2 2-7 14 0-3-5 3-3-5-2 1 0-7-2 7-5 2-5-7-3-7-3 3-1 18-1-17-6 7-1 11 0-16-7-7-1 4-1 10 0-1-2-4-4-6-1 12-2-1-1 8-1-15-2 15-2-14-12 14 0-20-5 21 0-23-1 4 0 19 0-15-7 2 0 13 0-15-1 7-6 3-2-1-1-17-1 11 0-4-2-4-3-1-1 10 0-5-3 2-1 11-1-12-1 2 0 14 0-15-1 9 0-17-1 23 0-8-1-16-1 14-1 9 0-20-1 10 0 5 0-14-1 4-1 10 0-8-1 3-2-10-2 14-2 2 0-18-1 13-1 6-2-2-2 1 0-6-1 10 0-19-1-1-1 9 0-3-5 2 0 1-1 8-1-19-1 2 0 12 0-9-1 9 0 3 0-4-1-14-5 8-384 3-3 0-1-3-4 5 0-9-1 4 0-2-2 15-1-17-2 14 0-11-2-7-1 1-2 3 0 8 0 9 0-19-1 16 0-15-1 3 0 14 0 0-5-13-3 9 0 7 0 1-1-6-4 4-1 2 0-1-1 0-2-9-4 0-1-6-1-4-1 10-3 5-2-9-3 13 0-18-2-2-8 19-5-13-2 15 0-14-1 4-1-1-4 4-1-9-9-2-3 15 0-2-2-12-6-3-10 5-26-7-2 11-4-3-25 0-82-6-122 37 185-8 38 2 15 13 3-22 11 18 3 1 0-10 4 14 4-23 5 7 10 2 1-8 1 2 0-4 6 5 4 0 6 18 3-18 1 3 0 2 5-5 3 14 4 1 6-14 3 7 1-6 1-6 2 5 2 9 2-10 3 19 1-15 2 4 0 4 2-7 1 4 1 6 0-7 1 2 1-15 1 9 2-4 3 3 2 14 1-20 4-1 1 9 1-9 403 16 1-3 1 10 1-24 2 10 1-3 3 17 0-22 2 6 1 5 1-12 2 5 1 2 0 12 1-10 3 13 1-16 1 6 1 11 0-15 2 7 0 3 0 4 1-11 2-6 1 9 2 8 1-19 2 3 0 2 1 1 1 8 0 1 0-19 4 7 1-2 1 6 0 13 1-12 2 2 4 7 0-11 1 10 0 2 1-9 4 11 1-15 1 6 0-11 3 15 3 3 2-16 5 16 4-21 2 6 3-4 4 8 0-8 2 13 5-4 2 7 1-15 3 0 8 4 0 3 0 3 0 10 0-23 1 20 1-10 3 3 0 10 1-20 1 1 0-5 2 5 2 2 8 3 0 2 4 10 0-18 1 5 0 8 0-6 1 6 0-9 4 2 0 2 2 5 4 2 4 2 6-19 4 10 0-11 1 21 4-9 5-10 4 19 9-8 1 4 3 3 4 3 7-12 4-1 3 12 4-1 1-15 1 13 1-11 1 9 7 2 7-18 8 0 14 3 11 14 7-10 1 8 0 3 61-20 3 24 1-6 14 6 41 4 224 2-249 8-4-9-16 4-44-8-27 3-39 9-26-5-13 5-4 1 0 6-12-8-11 1-9 6-1-15-9 5-8-8-4 24 0-24-9 19-1-3-4-9-1-1-1-5-19 12-1-11-5 1-4 19 0 0-3-5-2-14-1-3-1 8 0 1 0 0-4-3-4-1-4 1-1 2-1-2-1 15-1 1 0-19-2 12-2 8-1-19-1 7-6-11-8 14-3-14-2 8 0 5 0-10-2-3-2 19-4-2-1-14-1 18-1-16-2 2 0 0-1 1 0 3-2 11 0-1-3-15-5 9-2-11-2 4 0 15 0-18-1 10 0 0-1 7 0-6-4-9-1 12-1-7-2 4-2 4-1 4-400-8-2-14-2 5 0 3 0 3 0-13-1 22 0-16-1 10 0-14-1 21 0-9-1 10 0-22-2 10-3 11-3-12-1 1 0 4 0 5-1 1-3-13-3-1-1 0-1 8-1-9-1-2-4 7 0-2-3-1-1 7 0 4-1-16-1 13 0 0-2-8-12 5-4 1 0 4 0 1-3-15-3 3-3 5-3 5-2-1-3-6-1-10-1 9 0-8-1 21-11-10-4-2-2-10-3 17-3-17-1 21-1 1-7-4-8-19-1 16-7-15-8 17-33-9-2 9-4 4-24 18-191-15 134 21 58-18 71 0 13 14 12-1 2-12 3 2 3-2 4 12 8-9 11 11 2-14 2 8 0-7 2 0 3 13 0-18 2 24 11-8 2-16 1 16 1-12 2 7 0 6 0-4 2 5 0-17 3 6 1 9 1-4 4 3 1-13 3 22 0-20 5 13 4-14 1 10 0-2 1-5 1-4 1 1 0 5 1 7 0 0 2-10 1 18 0-20 2 4 0 9 0-13 2 3 0 16 0 2 0-17 2 6 1 9 0-6 1 0 1-3 1 2 0 5 0 1 375-1 2 0 12 4 2-9 2-15 2 3 0 16 0-7 2 5 0 2 2-17 1 4 1-4 2 12 0 3 1-10 1 10 3 2 0-19 1 1 1 17 4 5 0 1 2-16 1 1 1 3 0 1 0-3 1 5 4-9 4 6 3 11 0-19 1 4 0-2 1 3 2 7 0-4 1-8 4 16 1 4 2-9 2-6 2 10 2-5 3-12 2 14 0-3 4 0 3 1 1-2 7-3 4 11 1-20 5 14 6-14 6 16 3 2 1-5 2 9 7-12 3-1 5-5 5-3 2 11 9-6 3 15 4-8 1-10 6 7 3 4 1 7 2-21 4 15 0-11 1 2 3 6 5-7 5 7 7-3 4 9 5-12 19 2 12 16 10-11 70 10 38 11 170-6-143 17-17-17-80 20-26-16-4 3-2 14-49-12-16-9-4 10-28-4-8 14 0-5-3 1-9-17-1 12-14 4-2-7-3-9-5 10-4-12-2 17-2-3-1 6-7-7-2 10 0-16-4 1-5-3-3 0-1 10-5-13-1 11-4 0-3 10-1-3-6 2-1-12-2-4-1 10-7-14-2 20-3 2-1-13-5-1-4-6-1-1-6 15 0-8-1 5 0-14-1 8-2 4 0-11-1 2-3 8-1 7 0-15-5 3-1 7-1-12-1 2-2 20 0-14-4 10 0 3 0-20-2 0-4 4 0-7-1 14-4 6-2-13-3 17-1-2-2-8-7 0-5 2-2 2-3 6 0-1-2 1-5-5-311-4-4 2-3 4-1 3 0-15-2 15 0-21-5 6 0 4-1 9 0-5-2-3-1 2 0-10-1 7 0 3-1 4 0-9-2-2-1 10 0-14-1-4-3 6-1 9 0-8-1-4-2 8 0 10 0-6-1-14-1 2-1 8-1 10-1-19-1-1-7 11 0-4-2-8-2 21 0-15-3 14 0-13-4-6-2 12 0 7-2 0-3-5-2-13-5 18-2-15-2 5-2 4 0 7 0-14-8-6-1-1-1 8-1-2-1 13 0-9-4 2 0-6-2 10-4 4-2-13-2 16-1-18-2-2-5-4-1 15-1-4-12-11-20 7-4 10 0-11-1 32-247 9 226-19 43 9 1 0 18-11 12 0 10 5 6-3 4 16 1-7 2 6 5 2 2-10 3-5 1 15 7-17 2 1 4 13 5 2 2 4 5-23 2 22 0-20 3 1 0 1 0-1 2 19 2-16 1 4 0 13 9-16 2 8 2-10 1 15 0-18 2 1 0 8 3 8 0-18 4 20 1-18 4 4 1 16 1-22 1 1 0 4 2 9 0-7 2-2 1 12 0-10 1-2 2 13 0 5 5-16 3 3 1 9 2 1 1-1 1 3 0-3 2 2 1-3 1 2 3-1 2 4 0-7 1 6 6-2 1 2 0-2 6 2 146 0 1 0 2 0 4 0 2 1 6-3 5 1 5-3 1 3 0-1 2 3 0-2 1-1 1-3 2 2 1 2 10-6 1 6 2 1 0-4 1 0 1 2 0 3 1-7 13 0 3-2 2-2 2-1 4 10 4-2 1-6 3 4 0-6 3 3 3 0 1-8 3 10 0 3 0-16 5 1 0 7 1 2 0-4 1-6 2 9 2 1 0-8 1 6 3-11 2 0 1 1 0 8 1 2 0-5 1 10 1-13 2 10 2 9 2-7 1 2 0 4 0-20 1 11 1 10 1-15 1-8 2 11 0-9 1 13 1-8 2-7 2 17 2-2 1-1 2 10 2-21 4 15 1 5 2-5 1-8 5 12 8-6 1-5 2 11 1-10 4-9 4 1 0 11 0 4 0-6 6-10 1-2 9 8 1-1 4 7 0-8 8 1 0 11 2-12 6 8 1 9 14-20 7 1 1 2 0 2 3-7 2 0 19 14 8-6 7-8 2 11 13 5 26-12 19 15 2-6 49-13 8 5 158 36 39-6-124-10-4 13-68 4-17-11-16-4-19-1-34 8-23-11-29 2-12 6-11 3-2-1-11 14 0-7-1-13-3 9-2 10-4-1-1-21-2-1-2 8-3-7-1 2 0 8-1-6-6 4-1 13-4-7-14 8 0-16-5 2-5-4-4 18-2-16-6 15 0-3-3-6-2 0-2 8 0-15-5 2-2-7-3 1-7 6-1 13-3-14-1-6-2 21 0-13-1-6-2 7-1 2-1 5 0-11-1 3 0 11-3-2-5 1-2-6-1-11-1 1 0 2-1 8-1-3-1 5-1 6-2-14-4 14-8-19-1 2 0 4-1-8-2 12 0 6-2-12-1 15-1-13-1-5-2 14 0 5 0-6-2-10-1-2-4-4-1 16 0-10-3 5-1 12-2 1-1-22-1 4-1 6-3 5-1-5-4 3-1 4 0-6-3-9-1 7-8 7 0-4-1-11-3 7 0 0-1 13-1-2-1-15-1 1-2 6 0 2-1 3 0-16-1 12 0 5 0 2 0-13-1 11 0-14-2-2-1 1 0 1-1 0-2 2 0 13 0-20-1 9-1 8-3-15-2 11 0-4-5-1-1 10 0 2 0-9-1-10-5 13 0-13-1 5 0 3 0 1 0-2-1-5-2 4 0 4 0-7-1 1-2 6 0-3-1 1 0 5-1-10-1 0-3 3 0 12 0 4 0-12-2-10-1 13-2-10-1 18 0-5-3-10-1 5 0-1-2 9 0 4-1-5-1-14-1 7 0 12-2-19-2 14 0-15-1 9-5 5-1-11-1 6 0 8 0-6-1-4-1 3-1 0-1-10-4 11 0-3-1 12 0-16-1-2-2 5 0 2 0 4-1-8-1 13 0-1-1-14-1 5 0-2-1 11-4 3 0-17-1 15-3-17-1 5 0 9-1-6-3 9 0-14-4 15-2-16-1-2-1 11 0 6 0-17-2 19-1-6-1-10-1 9-1-5-1 3 0-5-1 12-5-12-2 4-1 8 0-2-1-10-1 11-2-11-2-4-5 1 0 4 0-5-2 5-1 11-1-16-1 3 0 5-1-7-1 2 0 1 0 1 0 4-1-3-1-5-2 1-1 8-2-9-4 7 0-11-2 2-1 2 0 12 0-19-1 0-2 3 0 2 0 9 0-9-2 19 0-19-3 5 0 14 0-21-6 17 0 3-3-8-2 5-2-6-1 4-1-18-1 21 0-2-2-10-1 12-1-11-1-9-1 17-1-7-3-5-1 12 0-16-2 5-1 5-2 4 0-8-1 1-3 4-1 4 0-12-3-5-1 23-1-17-1 15 0-4-1-17-2 15 0 2-1-10-1 11-5-17-5 9-1 4 0 10-5-18-2 18-3-17-4 0-1-2-2 4-2 14-3-6-3 7 0-24-3 12-5-9-2 6-2 3-1-9-2 2 0-3-1 4-7 14-4-16-2 7-7 4-1-5-4-9-3 2 0 14-2-16-4 2-14-3-5 12-8-11-7 11-30 4-1-2-18 11 10 4 6 15 48-4 10 6 19-14 11 16 2-16 3 6 0-12 7 16 2-1 10-6 2-2 4 11 7-12 1-5 5 22 6-18 2-3 3-1 2 20 0-22 3 4 2 13 2-17 14 3 2 4 2 1 7 6 0-12 3 15 0 6 1-17 1-2 1 6 0 2 1 9 1-21 1 14 3-7 1 7 1 4 2 4 0-22 2 14 0 1 0 0 1 6 2-2 2-12 1-7 4 9 0 0 1 6 2 6 2-16 3-5 1 6 0 5 0-5 1 1 3 10 1-1 3-6 4 7 1 4 1-12 2 10 2-15 2 5 0 5 2-12 1 13 0-14 3 19 0-17 1 9 2 12 0-24 3 23 0-12 3-11 1 1 2 14 0-6 1-2 5 0 3 8 0 6 1 1 0-21 1 23 0-23 6 8 1 3 0-3 1 5 3-12 1 7 3-4 1 8 0 7 0-6 1 6 1-2 1 3 2-10 4-3 1 12 1-5 3-3 1 12 0-7 1-1 3-6 1 11 2-2 2-3 1 3 5-8 1 3 2 2 2-3 2-12 3 17 0-18 3 3 0 16 1-9 1-7 12 4 1 0 1-4 2-3 5 12 1 12 1-16 2-6 2 1 0 4 1 11 1-3 1-10 3-2 1 2 0 2 8 6 0 11 1-24 1 16 0-8 2 3 12-7 2 5 0 8 1-17 2 17 0-2 2-2 2-6 2-1 4 7 0 1 1-9 4-2 1 2 0 2 1-1 1 10 0-9 2-5 3 3 1-1 8 6 1 3 3-10 1 9 2 4 1-10 8-4 1 17 5-16 6 3 3 10 2 7 13-11 1 10 5-10 1-5 1-5 1 11 1 4 0-5 3 0 10-9 4 13 2 8 1-15 3 10 0-12 12 2 0 3 4-8 1 8 21 3 1-10 17-1 11 3 4 1 29 2 14-10 39 14 9-14 27 20 9-13 9 3 70 16 214 18-124-11-137-5-94 12-57-12-13 12-12 1-11-16-12 21-22-19-3 5-9-4-1 19-51 1-3-21-15 6 0-8-10 20-7-14-9 9-4-11-8-1-13 4 0 13 0-15-3 19-3-4-14-2-2-16-3-1-2 17-2 0-1 5-1-13-1 2-5 5-1-5-2 5-1-5-5-11-4 9 0 3-2-11-1 0-1 15-2 3-2-18-2 9-1 12-5-11-1-10-4 20 0-19-2 5-4 1-2 14-1-20-4-1-2 14-5-8-3 5-1-13-4 0-5 4-9 15-2-9-2 4-1-8-2 8 0 2-7-10-3 8 0-14-1 0-4 4 0 8-2-2-3-10-10 19 0-16-1 20-1-14-2 13-1-3-3-12-2-6-1 8-2 11-5-4-1-16-1 12-3 2-1-12-23 10-8-1-5 9-3-18-7 16-11-5-7-1-5 12 0-12-1 2-6-11-2 15-5-17-16 8-7-7-12 10-6 6-5-14-1 15-295-2-12 8 303 0 10 24 21-17 10 1 13-8 2 9 17 3 0-7 21 16 6-11 13 4 5-12 7 2 8 9 1-4 1-3 29 15 1-19 5 11 6 6 0 5 2-13 8-10 3 3 4 9 1-9 21 0 17 7 6-10 22 11 0 5 11-9 6-7 5 13 1 0 17 2 4-6 3-7 47 9 0 10 14-9 16-5 2-2 21 1 28 14 2-16 26 0 20 11 9-9 139 11 13 30 4-5-133-3-62-11-1 5-24-8-7 2-1 10-25 8 0-20-38 11-21 2-10 4-2 4-8-16-7-4-19 1-6 16 0-4-1-5-9 7-8-8-2-5-4 11-32-8-10-1-6 1-5 4-8 6-55 4-18-14-2 16-1-5-77-2-6-14-26 14-8-10-8 16-76 23 124 0 6 1 61-12 21 1 6 14 18-3 3-18 8 14 11-1 10-13 14 1 5 6 7-3 36 2 3-1 9-7 46 11 49-3 52-4 33-4 173 5 11 19 25 13-95-10-43 21-24-9-75-8-17 10-6-10-38-3-14 2-58-5-8 19-7-9-12 5-79 5-194-14-15 26-23 13 127-8 122 6 107-14 60 4 29 11 22-5 171 15-36 16-327-3-424 9 97 21 200-11 175-6 111 29 407 10-309 18-500 6 24-5 85 19 265 36-49-18 36 45-172 96 98 39 64" fill="none" stroke="none" marker-start="url(#d1)" marker-mid="url(#d1)" marker-end="url(#d1)"/>
<path transform="scale(.1)" d="M948 9241l15-1 15 1 15 4 10 5 9 11 3 15-3 15-4 11-9 14-9 10-12 10-10 5-11 5-14 4-15 2-15-1-15-4-10-5-10-9-7-12-3-15 3-15 6-10 8-10 8-7 10-7 10-6 14-5 16-4 5-1z" fill="#000" opacity="0.1"/>
<path transform="scale(.1)" d="M927 9266l16-3 15 0 15 5 8 8 4 15-5 15-7 10-10 8-10 5-15 5-15 0-12-3-13-8-6-12 1-15 5-10 10-10 10-6 9-4z" fill="#000" opacity="0.15"/>
<path transform="scale(.1)" d="M1489 8496l14-2 15 0 10 3 10 3 10 6 7 5 8 7 8 8 7 10 5 8 4 7 4 10 4 10 3 10 2 10 2 10 1 10 2 15 0 15-1 15-1 15-1 15-1 10-2 10-1 10-1 10-2 10-1 10-2 10-2 10-2 10-2 10-3 10-2 10-4 10-4 10-4 10-5 10-6 9-5 8-5 6-6 7-9 8-10 7-9 5-11 4-10 1-15-1-10-3-10-5-8-6-7-6-8-9-7-10-5-9-5-11-4-10-3-10-3-10-2-10-2-10-1-10-2-10-1-15 0-15-1-15 0-15-1-15 0-15 0-15 1-15 1-15 1-10 1-10 2-10 2-10 3-10 3-10 4-10 5-10 6-10 6-9 5-7 8-9 7-6 10-8 10-5 10-4 6-2zM970 8621l13 0 10 1 10 2 10 5 10 6 8 6 7 7 7 8 6 10 5 10 4 10 3 10 1 10 1 10 1 15-2 15-2 10-3 10-4 10-5 10-7 10-5 7-7 8-8 7-10 7-10 5-10 4-10 3-10 1-15-1-10-2-10-4-9-5-7-5-9-8-7-7-7-10-5-10-4-10-4-10-2-10-1-10-1-15 2-15 1-10 3-9 4-11 4-10 6-10 6-8 6-7 9-9 8-6 7-5 10-4 10-4 10-2 2 0zM979 8966l12 0 12 3 10 6 7 6 8 8 5 6 5 7 5 8 5 9 5 9 4 8 6 10 5 7 8 8 7 5 10 4 10 1 15-1 10-2 10-2 10-3 10-3 10-4 10-4 10-4 10-4 10-4 10-4 10-4 10-4 10-3 10-3 10-3 10-2 10-2 10-1 15-1 15 0 15 1 10 2 10 3 10 4 10 6 8 7 7 8 4 7 4 10 2 10 0 15-2 10-3 10-4 10-5 10-6 10-5 7-5 6-6 7-9 10-10 10-6 5-9 8-9 7-7 5-7 5-7 5-7 5-7 5-8 5-7 5-8 5-8 5-7 5-8 5-8 5-8 5-9 5-8 5-7 4-10 6-8 5-9 5-8 4-10 6-9 5-9 5-7 4-10 6-8 5-7 5-7 5-7 5-7 5-6 5-7 5-6 5-7 5-6 5-7 5-7 5-8 5-8 5-9 5-8 4-10 5-10 4-10 4-10 3-10 2-10 2-10 2-10 1-15 1-15 0-15-1-10-1-10-2-10-3-10-3-8-3-11-5-9-5-7-5-7-5-8-7-7-8-7-10-5-10-4-10-2-9-2-11 0-15 2-10 2-10 2-10 4-10 4-10 5-10 5-10 6-10 5-10 5-10 5-10 3-10 4-10 3-10 3-10 3-10 4-10 4-10 6-10 6-10 6-9 5-6 5-6 7-9 8-9 5-6 5-7 5-7 5-7 5-7 5-8 5-8 5-8 5-8 5-7 5-6 6-7 9-8 10-7 10-4 6-1zM1491 8521l12-2 15 1 10 3 10 5 10 7 6 6 9 10 5 9 5 9 5 12 3 10 2 10 2 10 1 10 0 15 0 15-1 15-1 10-2 10-1 10-2 10-1 10-2 10-2 10-2 10-2 10-2 10-3 10-3 10-3 10-4 10-5 10-5 10-7 10-5 6-10 9-7 5-8 4-10 3-15-1-10-3-10-6-8-7-7-8-5-8-5-9-4-10-3-10-3-10-2-10-2-10-1-10-1-10-1-15-1-15-1-15-1-14 0-11-1-15 0-15 1-11 1-14 2-10 2-10 3-10 3-10 4-10 5-10 5-8 5-7 9-10 6-5 10-8 10-4 8-3zM965 8651l13-1 10 1 10 3 10 5 9 7 6 6 5 7 4 7 4 10 3 10 2 10 0 15-1 10-2 10-4 10-5 10-6 9-10 11-6 5-8 5-11 5-10 2-15 0-10-2-10-5-8-5-7-7-7-8-6-10-4-10-2-10-2-10 0-15 1-10 3-10 3-10 4-7 5-8 5-7 8-8 6-5 9-5 12-5 2 0zM974 9016l9-2 10 1 10 5 6 6 9 10 5 9 5 9 4 7 5 10 6 9 5 7 10 9 10 4 10 3 15 0 10-1 10-2 10-2 10-3 10-3 10-4 10-4 10-4 9-4 11-5 10-4 10-4 10-4 10-4 10-4 10-3 10-3 10-2 10-2 10-1 15 0 15 1 10 2 10 4 8 4 6 5 6 6 5 9 3 10 0 15-2 10-3 10-5 10-7 10-6 8-6 7-9 9-6 6-9 8-9 7-7 5-6 5-8 5-7 5-7 5-8 5-8 5-8 5-7 5-9 5-8 5-8 5-8 5-7 5-9 5-8 5-8 4-10 6-8 5-9 5-8 4-10 6-8 5-8 5-8 5-7 5-7 5-6 5-7 5-9 8-8 7-7 6-10 9-7 5-6 5-7 5-8 5-7 4-10 6-10 4-10 4-10 4-10 3-10 2-10 2-10 1-15 1-15-1-15-1-10-2-10-3-10-3-10-5-10-5-9-6-6-5-10-10-5-7-4-8-5-10-2-10-2-10 0-15 2-10 3-10 3-9 5-11 5-9 5-8 5-8 5-7 5-6 5-7 5-6 5-7 5-6 5-8 5-8 5-8 5-10 5-10 5-10 5-10 4-7 6-10 5-8 5-7 5-9 5-8 5-8 5-9 5-9 4-7 6-10 5-7 5-7 6-6 9-7 6-3zM1489 8541l14-3 15 2 10 3 10 7 7 6 8 10 5 8 5 11 4 11 2 10 2 10 1 15 0 15-1 15-1 10-2 10-1 10-2 10-2 10-3 10-2 10-2 10-3 10-3 10-3 10-3 10-5 10-5 10-6 9-5 6-10 8-10 5-10 2-10-1-8-4-7-5-5-6-5-7-4-7-5-10-3-10-2-10-3-10-1-10-2-10-1-10-1-10-1-10-2-15-1-15-1-15 0-15 1-15 1-10 2-10 2-10 4-10 4-10 5-10 6-10 7-8 8-7 7-5 10-5 1 0zM968 8676l15 0 10 3 10 7 8 10 5 10 3 10 0 15-1 10-3 10-6 10-6 8-9 7-10 5-11 2-10-1-10-4-9-7-6-7-4-8-4-10-1-10 0-15 3-10 4-10 7-10 10-8 10-6 5-1zM1261 9066l12-3 10-1 15 0 10 1 10 3 9 5 10 10 4 10 0 15-3 10-5 10-5 8-5 7-9 10-11 10-6 5-7 5-6 5-8 5-7 5-8 5-7 5-8 5-8 5-8 5-7 4-9 6-8 5-8 5-8 5-7 4-9 6-9 5-7 4-10 6-8 5-9 5-8 5-9 5-8 5-7 5-7 5-6 5-8 7-9 8-6 6-9 9-6 6-10 9-6 5-6 5-7 5-7 5-9 5-9 5-11 5-10 4-10 3-10 2-10 2-10 1-15 1-15-1-10-1-10-2-10-3-10-4-10-5-10-6-7-6-8-8-5-7-5-9-4-11-2-10 0-15 2-10 3-10 4-10 5-10 6-10 6-8 5-6 6-6 9-10 10-10 6-5 9-9 7-6 8-8 6-7 8-10 6-8 5-7 5-8 5-9 5-8 5-9 5-9 5-9 5-8 5-8 7-7 7-5 11-1 8 6 7 7 5 7 5 7 5 6 8 8 7 5 10 5 10 2 10 1 15 0 10-2 10-1 10-3 9-2 11-3 10-4 10-3 10-4 10-4 10-4 10-5 10-4 9-4 11-5 10-4 10-4 10-3 10-3 3-1zM1502 8556l11 1 10 3 9 6 10 10 6 9 5 11 3 10 2 9 1 11 1 15-1 15-1 10-2 10-2 10-2 10-3 10-3 10-3 10-3 10-3 10-4 10-4 10-6 10-5 7-8 8-7 4-10 2-10-3-9-8-6-8-5-11-4-11-2-10-3-10-2-10-1-10-2-10-2-10-1-10-1-10-1-15 0-15 1-15 2-10 2-10 4-10 4-10 6-10 5-6 9-9 8-5 8-3 9-2zM971 8711l12 2 5 6 2 12-4 10-8 6-11-1-8-10 1-15 8-9 3-1zM1271 9086l12 0 10 2 10 6 5 7 1 10-3 10-5 10-8 10-10 10-6 5-7 5-7 5-7 5-8 5-7 5-8 5-8 5-7 4-9 6-8 5-7 5-8 5-8 5-8 5-7 5-9 5-8 5-8 5-9 5-8 5-8 5-8 5-7 4-8 6-6 5-6 5-10 10-9 10-6 6-8 9-7 8-7 7-8 7-9 8-7 5-8 5-9 5-11 5-11 4-10 3-10 3-10 1-15 1-15 0-10-1-10-2-10-3-10-5-10-5-8-6-7-7-5-6-5-7-4-10-2-10-1-15 2-10 3-10 4-10 6-10 7-9 9-11 11-10 10-8 9-7 7-5 8-5 7-5 8-5 8-5 8-5 8-5 7-5 8-5 7-5 9-5 11-5 10-3 10-1 15 0 15 0 12-1 13-1 10-2 10-1 10-3 10-2 10-3 10-2 10-3 10-4 10-3 10-4 10-4 8-3 12-5 10-5 10-4 10-5 10-4 10-4 9-3 11-3 10-2 3 0zM1488 8576l10-4 15 1 10 4 10 9 5 8 5 11 3 11 2 10 1 15-1 11-2 14-2 10-3 10-3 10-3 10-4 10-4 10-6 10-6 10-7 8-10 5-10-2-6-6-6-10-5-10-3-9-3-11-3-10-2-10-2-10-1-10-2-15 1-15 1-10 2-10 2-10 5-10 6-10 6-7 10-8zM1229 9126l9-2 10-2 9 4-3 10-6 7-9 8-7 5-8 5-7 5-7 5-7 5-7 5-7 5-6 5-7 5-7 5-7 5-7 5-7 5-7 5-8 5-7 5-8 5-8 5-7 4-8 6-7 5-6 5-9 8-7 7-8 10-5 6-5 7-5 7-5 6-5 7-6 7-9 9-7 6-6 5-7 5-8 5-10 5-11 5-11 4-10 2-10 2-15 1-15-1-10-1-10-3-10-4-10-5-7-5-8-7-5-6-4-7-4-10-2-10 0-13 3-12 4-10 5-10 8-10 9-10 11-9 8-6 7-5 8-5 9-5 8-4 10-4 10-5 10-4 10-3 10-3 10-3 10-3 10-2 10-3 10-1 10-2 10-2 10-2 10-2 10-2 10-2 10-3 10-2 10-3 10-2 10-3 10-3 10-2 10-3 10-3 10-4 10-3 10-4 10-4 8-4 12-5 1 0zM1492 8591l11-3 10 2 9 6 6 7 4 8 3 10 2 10 0 15-1 10-2 10-3 10-3 9-5 11-5 8-5 7-10 8-13-3-7-7-4-8-5-10-3-10-2-10-2-10 0-15 1-14 2-11 4-10 7-10 7-7 4-3zM992 9211l11-1 15-1 15 0 15-1 15-1 15 0 9 4-2 10-7 9-5 6-5 7-5 7-5 8-5 8-5 9-5 9-5 9-5 8-5 8-5 7-5 6-8 9-7 6-10 8-10 6-10 5-10 4-10 3-10 2-10 2-15 0-11-1-14-3-10-4-10-5-10-8-5-6-5-8-4-11-1-10 1-15 4-10 5-10 5-7 7-8 8-8 9-7 8-5 8-5 10-5 10-4 10-4 10-3 10-3 10-2 10-2 10-1 9-1zM1494 8611l9-3 10 3 5 6 4 9 2 10-1 15-2 10-4 10-8 10-11 4-10-9-5-10-2-10-1-15 2-10 4-10 7-9 1-1zM941 9231l12-2 10-2 15-1 15 1 10 1 10 2 10 4 8 7 4 10-1 15-2 10-3 10-5 10-5 10-6 8-5 7-10 10-10 8-10 7-10 5-10 4-10 2-10 2-15 1-15-1-10-3-10-3-10-6-7-6-8-10-4-10-2-10 1-12 4-13 6-10 5-6 9-9 6-5 6-5 9-5 9-5 11-4 10-4 8-2zM937 9241l11-2 10-1 15 0 10 1 10 2 10 4 7 6 7 10 1 10-1 15-4 10-5 10-5 8-5 6-5 6-10 8-10 7-10 5-10 3-10 3-10 1-15 0-10-1-10-3-10-5-10-8-8-10-3-10-1-15 3-10 4-8 5-7 9-10 6-5 8-5 7-4 10-5 10-4 9-2zM930 9251l13-3 10-1 15 0 10 2 10 4 10 7 5 8 3 13-2 10-3 10-6 10-7 9-6 6-7 5-7 5-10 4-10 4-10 2-15 1-10-2-10-2-10-5-8-7-7-9-3-11 1-15 5-10 7-10 10-9 9-6 9-5 12-4 2-1zM946 9256l12 0 10 1 10 4 7 5 7 10 2 10-2 10-4 10-5 8-7 7-6 5-7 5-10 4-10 3-10 2-15-1-10-3-10-5-6-5-6-10-2-10 1-10 5-10 8-9 7-6 8-5 10-5 10-3 10-2 3 0zM935 9266l13-1 12 1 12 5 6 6 4 9-2 15-6 10-6 7-10 7-10 4-10 3-15 0-10-2-10-6-7-8-2-10 1-10 6-10 7-7 10-7 10-4 7-2zM933 9276l10-1 12 1 8 4 5 7 0 14-5 8-8 7-7 4-10 3-15 0-10-5-6-7-2-10 4-10 9-8 10-5 5-2zM931 9286l12-2 10 4 4 8-4 10-7 5-8 3-15-2-6-6 1-10 10-9 3-1z" stroke="#111" stroke-width="6" fill="none" stroke-linejoin="round"/>
<rect x="126.00" y="837.40" width="52.90" height="53.80" fill="none" stroke="#111" stroke-width="1.2"/>
<text x="152.80" y="815.20" font-size="14.6" text-anchor="middle" fill="#222" >11.0</text>
<path transform="scale(.1)" d="M3134 7334l27-17 26 171 27-82 55-552-7 45 10 346 0 195 24-43 17-50-3 99 13 202 9-258 11-477 22 436-4 13-10 36 16 5-5 12 6 61-5 5 5 70 31 81-19-33 8-120-11-4 1 0-2-12 18-25-11-49-6-1 19-19-18-173 36-551 10 327-18 29 9 91 6 231-18 11-2 30 22 37-21 77 1 36 2 42 8 83 27-22 3-120 4-31-21-2 0-5 14-5-14-9 0-60 8-93-1-83 6-116-14-22 16-185 30-106-6 45 4 131-6 5-5 55 4 41 1 94-1 17 2 73-14 58 14 16 2 24 6 47-2 24-5 13-1 40-14 25 8 22 15 10-2 31-10 1 8 17 3 7-18 98 35-52 3-10 6-47-7-45-13-3 20-9-20-9-1-29 21-7-11-11 9 0-5-25-1-1 7-6-6-8 4-34-10-1 1-5 6-2-4-5-3-25 2-27-11-57 5-52 0-55 16-36-18-7 3-10 10-152 2-85-18-9 35-322 1 161-7 60 9 8-1 46 0 80 4 76-3 2 9 72-12 2-7 26 19 7-18 21 3 11 12 4-10 21 0 25 14 49-9 17-10 4-4 7 12 3 3 63 0 14-4 25 0 9 1 39 4 1-12 8-1 5-2 3 14 11-10 6 0 2-1 4-5 16 8 3-3 1 3 1 2 5 4 39-11 2 7 31-6 19 9 18-4 6-3 21 3 52 27-3 4-3-14-52 2-11 13-1-4-8 7 0-6-5-10-15 3-1 5-181 2-4 0-8-10-4 6-4-5-1 20-2-23-31 15-3 0-16-2-7 6-6-16-14 3-94 13-1-2-8-11-58 14-11-12-6 15-8-10-9 4-7-3-50 4-5 4-63-9-34-14-12 17-6 4-25 4-192 7 6 17 92-10 34 2 48 3 3-12 9-4 4 8 9 1 28-1 12 4 15-9 3 10 5-12 2 18 6-21 2 14 14-7 7 10 27-17 13 14 6 2 10-4 6-8 5-4 3 13 27 0 20 3 0-5 22 3 1-13 43 16 3 6 2-9 26 7 1-7 20-9 5 13 1-5 10-7 18 12 2 5 15-19 17 3 20 2 3 10 12 0 11-17 3 15 266 1 57-18 24 45-382-16-1-5-8 13-16 9-9-10-1-5-3 11-2-6-19-3-12 13-13-3-4-9-23 7-15-1-2-13-3 7-10-1-2-9-160 11-46 6-11-4-1-5-1 13-19-17-6 12 0-12-3 10-11 8-12-10-13-5-3 7-3 4-38-1-17 5-6-7-36-2-27 10-27-7-50-15-68 37 175-5 3-7 44 8 68-4 19 2 301-6 6 22 22-16 2 11 19 1 376-12 5-1 10 28 30-9-434 7-374 5-2-3-15 8-11-12-24 8-58 23-174-8 169 18 23-13 54 15 11-23 4 9 1 5 9 8 780-12 12 11 48 16 12 7-70-3-5 1-753 2-9-4-28-14-5 15-37 2-172 1-6 4-111 9-151 7 75 0 330-7 22 13 55-2 21 6 24-13 3 8 340-1 34 0 4 20 376 5 0-6-23-8-324 6-11 1-18 1-9-7-17 14-18-18-7 22-17-7-6 7-13-1-18-6-229 7-79-12-29-4-12 3-4 5-216 33 38-18 160-2 43 0 20 5 34-7 37 21 8-17 4 4 0-1 4 9 4-5 6 1 5 5 17 3 58-11 48 2 17-6 22 8 15-1 45 7 23-9 27 2 46 9 61 1 272-13 1-10 34 17 10-17 9 36 34 8-75-10-34 2-229-8-23 0-11-3-5 0-14 24-114-5-15-8-42-8-2 16-47-17-16 17-23 2-49-15-61-6-4 13-15 8-4-2-3 2-7 1-55-9-71 36-197-15 147 12 61-3 16-17 57 5 34-6 57 0 5 23 17-18 18-2 69-3 2 4 18 5 0-1 10 5 11 0 57-3 19 7 5-17 35 13 65-10 13 1 24-3 5 23 3-1 32-1 3-7 27 4 94-8 36 11 7-4 9-15 15 6 3 20 62-4-15 7-27 16-25-17-18-5-46 19-56-12-53-2-32 0-18 2-14 2-51-4-64 3-14-4-11 8-34 9-57-10-119-5-4-5-79 5-32 0-25 13-40-9-135-5-164 16-30 3 115 5 224 2 29 7 50 6 125-15 7 8 213-3 120 1 0 7 1-12 75-1 132-5 29 22 49 19-81-2-187-14-100 4-25 3-12 10-66-6-444 22 125 15 159-17 231-1 65 17 133-16 127 23 97-1-436 15-122-12-88 19-184 17 153-8 487 39 86-3-317 23-886-14 928 31-619 102 956 85 60" fill="none" stroke="none" marker-start="url(#d0)" marker-mid="url(#d0)" marker-end="url(#d0)"/>
<path transform="scale(.1)" d="M3642 7375l12-4 15 0 15 2 15 6 9 6 11 10 8 10 6 10 5 15 3 15 0 15-3 15-4 12-7 13-7 10-11 10-10 6-15 6-15 2-15 0-13-4-10-5-12-8-10-11-7-11-7-15-3-15-1-15 1-15 5-15 7-14 8-11 11-10 11-7 8-3z" fill="#000" opacity="0.12"/>
<path transform="scale(.1)" d="M3658 7405l16 0 13 5 12 10 7 10 5 15 0 15-4 15-6 10-11 10-11 5-15 3-15-4-10-6-8-8-6-10-4-15 0-15 5-15 7-10 11-10 14-5z" fill="#000" opacity="0.15"/>
<path transform="scale(.1)" d="M3654 7430l15-3 15 8 6 10 0 15-6 12-10 7-15 0-10-6-7-13 0-15 6-10 6-5z" fill="#000" opacity="0.15"/>
<path transform="scale(.1)" d="M3648 6860l11-3 15 0 10 3 10 5 8 5 7 6 8 9 7 9 5 7 5 9 5 10 4 10 4 10 3 10 2 10 3 10 2 10 1 10 1 10 2 15 0 15 0 15 0 15-2 15-1 10-2 10-1 10-3 10-2 10-3 10-3 8-4 12-4 10-5 10-5 10-5 10-5 10-6 10-5 10-3 10 0 15 5 10 7 8 6 7 9 8 7 7 8 7 8 8 7 7 8 8 7 8 5 7 5 6 5 8 5 8 4 8 5 10 4 10 4 10 3 10 2 10 2 10 1 10 0 15 0 11-1 14-2 10-2 9-3 11-3 10-4 8-5 11-5 9-5 7-5 7-5 7-6 6-9 9-7 6-6 5-7 5-9 5-10 5-11 5-10 3-10 2-10 2-15 1-15 0-10-1-10-2-10-3-10-4-8-3-10-5-7-4-9-6-6-5-6-5-9-9-6-6-8-10-6-9-5-9-5-10-5-11-4-11-3-10-2-10-1-10-2-10 0-15 0-15 2-10 1-10 2-10 3-10 4-10 4-10 5-10 5-10 6-9 5-7 5-7 5-6 6-6 9-10 10-10 10-9 7-6 8-8 7-7 8-10 5-9 2-11-2-10-5-10-5-10-5-9-5-10-5-9-5-11-5-11-4-10-3-10-3-9-3-11-2-10-3-10-1-10-2-10-1-10-1-15 0-15 0-15 1-15 1-15 2-10 1-10 2-10 3-10 3-10 3-10 4-10 5-10 5-10 6-10 7-9 10-11 6-5 7-5 11-5zM3653 6935l11-3 10 1 10 5 9 7 6 7 5 8 5 10 4 10 3 10 2 10 2 10 1 10 0 15 0 15-2 15-1 10-3 10-3 10-4 10-4 8-5 8-5 7-8 7-7 5-10 3-15-3-8-5-7-6-5-6-5-8-5-10-4-10-3-10-3-10-1-10-2-10 0-15 0-15 1-15 2-10 2-10 3-9 4-11 5-10 6-9 5-6 10-8 4-2zM3661 7310l13 0 10 2 10 2 10 4 10 5 10 6 8 6 7 5 10 10 9 10 6 9 5 8 5 8 4 10 4 10 3 10 2 10 1 10 1 15 0 15-2 10-2 10-3 10-3 10-5 10-5 10-5 8-5 6-10 11-10 9-7 6-8 5-10 5-10 4-10 3-10 2-10 1-15 1-10-2-10-1-9-3-11-4-10-5-9-6-7-5-9-8-7-7-8-10-5-8-4-7-5-10-4-10-3-10-3-10-1-10-2-15 1-15 1-10 2-10 2-10 3-10 4-10 5-10 6-10 8-10 5-6 8-9 7-6 10-8 10-6 9-5 11-4 10-4 10-1 7-1zM3656 7335l13-1 15 2 10 3 10 4 10 5 10 7 6 5 9 8 6 7 7 10 5 10 5 10 4 10 2 10 2 10 1 15-1 15-1 10-3 10-3 10-4 10-5 9-5 8-5 6-6 7-9 8-9 7-9 5-11 5-11 3-10 2-15 1-13-1-12-3-10-3-8-4-9-5-7-5-11-10-9-10-6-9-5-9-5-11-4-11-2-10-2-10 0-15 1-15 2-10 2-10 3-8 5-12 5-9 5-7 5-6 7-8 8-7 10-8 9-5 11-5 10-3 10-2 2 0zM3638 7355l11-3 10-2 15 1 10 1 10 3 10 4 9 6 7 5 9 8 6 7 7 10 6 10 4 10 3 10 2 10 1 10 0 15-1 10-2 10-3 10-5 10-6 10-7 10-10 10-6 5-7 5-10 5-12 5-10 2-15 1-15-2-10-3-9-3-9-5-7-5-7-5-8-8-5-7-5-7-4-8-5-10-3-10-2-10-1-10 0-15 1-10 2-10 3-10 4-10 5-9 5-8 5-6 7-7 8-7 10-7 10-4 4-2zM3644 7365l10-3 15 0 10 1 9 2 11 4 10 6 7 5 8 8 6 7 6 10 5 10 4 10 2 10 1 10 0 15-1 10-2 10-4 10-5 10-6 10-6 7-9 8-7 5-9 5-10 4-10 3-10 1-15-1-10-3-10-3-10-6-7-5-8-7-7-8-7-10-4-10-4-10-2-10-2-10 0-15 2-10 2-10 3-10 5-10 7-10 7-8 7-7 7-5 8-5 8-3 5-2zM3642 7375l12-4 15 0 10 1 10 2 10 5 9 6 11 10 5 6 5 7 5 10 4 12 2 10 1 15-2 15-2 10-4 10-4 7-5 8-9 10-6 5-8 5-11 5-11 3-10 1-15 0-10-3-10-4-10-6-7-6-8-9-5-7-5-9-4-10-3-10-1-10 0-15 1-10 3-10 4-10 5-9 5-7 8-9 7-5 7-5 8-4 3-1zM3650 7380l9-2 15 0 10 2 10 4 9 6 7 5 9 10 5 8 4 7 4 10 2 10 1 15-2 15-3 10-4 10-7 10-5 6-10 9-8 5-12 5-10 2-15 0-10-2-10-3-10-6-8-6-7-8-5-7-5-10-4-10-2-10-1-15 1-10 2-10 4-10 5-9 5-7 8-9 6-5 9-5 12-5 1 0zM3656 7385l13-1 10 2 10 3 10 5 7 6 8 8 5 7 5 10 3 10 2 10 0 13-2 12-3 10-5 10-5 8-7 7-6 5-7 5-10 4-10 2-15 0-10-2-10-4-8-5-6-5-6-6-5-7-4-7-4-10-2-10-1-15 1-10 2-10 4-10 7-10 7-9 8-6 7-4 10-4 7-2zM3661 7390l13 0 10 3 10 5 10 7 8 10 6 10 4 10 2 10 0 13-2 12-3 9-5 10-5 7-10 9-8 5-12 5-10 1-15-1-10-3-10-6-7-6-8-9-5-9-4-12-2-10 0-15 2-10 4-10 5-9 5-7 10-9 9-5 11-4 7-1zM3662 7395l12 0 10 3 10 5 8 7 7 8 5 9 4 13 2 10-1 12-3 13-5 10-7 9-6 6-7 5-12 5-10 1-15-1-10-4-10-6-10-10-5-9-4-11-2-10 0-15 2-10 4-10 5-8 6-7 9-7 10-5 10-3 3 0zM3660 7400l11 0 13 3 10 6 7 6 7 10 4 10 3 10 0 15-2 10-4 10-5 7-7 8-7 5-11 5-10 2-15-2-10-4-9-6-6-6-5-7-5-12-2-10 0-15 3-10 4-10 5-7 8-8 7-5 10-4 6-1zM3658 7405l11-1 10 2 8 4 7 5 9 10 5 10 3 10 0 15-2 10-5 10-5 7-9 8-10 5-11 2-15-1-10-5-8-6-7-8-5-10-3-12 0-15 3-10 5-10 5-6 10-9 10-4 4-1zM3656 7410l13-1 10 2 8 4 7 5 5 7 5 8 3 10 0 15-3 10-5 10-5 6-10 8-10 3-15 1-10-4-7-4-8-8-5-9-3-8-1-10 2-15 4-10 7-10 7-5 9-5 2 0zM3654 7415l10-2 14 2 9 5 7 7 5 8 3 10 1 15-3 10-6 10-10 9-10 4-15 0-9-3-7-5-9-10-4-10-1-10 2-15 5-10 8-9 10-6zM3653 7420l11-3 10 1 10 5 7 7 6 10 2 10-1 15-4 8-5 7-7 5-8 4-10 1-10-3-10-6-8-11-3-10 1-15 3-10 7-9 9-6zM3653 7425l11-3 10 1 10 6 6 6 4 9 1 11-2 10-4 8-7 7-8 4-10 1-10-3-10-7-5-9-2-11 1-10 4-10 7-7 4-3zM3654 7430l10-3 10 1 10 7 5 9 2 11-3 10-4 7-10 7-10 1-10-3-8-7-4-10 0-15 6-10 6-5zM3656 7435l8-3 10 2 7 6 5 10-2 13-5 7-10 5-10-1-10-9-3-10 2-10 6-9 2-1zM3660 7440l12 0 7 8 0 12-10 8-10-1-6-7 1-14 6-6z" stroke="#111" stroke-width="6" fill="none" stroke-linejoin="round"/>
<rect x="329.50" y="663.30" width="62.00" height="58.00" fill="none" stroke="#111" stroke-width="1.1"/>
<text x="390.40" y="653.90" font-size="14.4" text-anchor="middle" fill="#222" >10.9</text>
<path transform="scale(.1)" d="M3056 8640l64 802 65-570 9 205 24 379-6-59-4-179-7-446 34 97 39 448-1-74-4-57-4-31 7-36-19-29 2-446 37 623-8 30 39 52-9-45 9-20-23-127 22-19-21-130 40-269-7 38-9 156 15 106-11 145-1 192 12 71 29-79-13-48-5-15 11-23 0-60 9-19-12-15-8-7 2-19 3-22-5-42 0-32 26 44-1 122 12 27-2 51 2 63 9 1-8 11-8 64 42 23-5-67 6-19-11-15 4-9 1-10 0-50-1-4-6-30 0-9-6-28-4-59 11-2 12-7-18-131 4-87 12-92-14-31-7-84 46-196-14 16 6 104 4 1 0 90 4 114 0 28 1 30-5 102-11 15-3 21 3 14 15 37-21 9 8 15 7 0-11 19-2 25 9 0 10 8-22 3 14 3-2 3-5 7 15 16-15 18 2 2 2 5 13 1-17 24 13 3-4 9 0 21-10 7 15 0-17 21 9 6 7 15-18 12 8 5 11 23-19 5 19 39-4 29 5 20 15 10 10-15-20-26 0-6 2-8 18-10-1-11-14-21 17-10-23-18 12-14-2-12-6-12-2-9 3-8 11-21 4-9-5-5-9-9 9-4-9-6-4-7 14-2-17-17 16 0-2-3 0-8-5-1 4-7-10-4 16-1 3-9-8-22-7-2 12 0-13-12 12-1-9-3-6-9 4-10 15-12 2-8-14-22-2-7 4-27-7-12 10-10-15-9 3-25 18-9 1-40-17-1 15-22-1-23 2 0 1-21 2-26-11-26 1-12 26-348-8 56 14 101 1 101-7 40-2 15-8 1 13 2-4 17 7 1-3 23-11 7 15 1-13 31 10 76-19 4 19 22 4 0-4 8-6 15-7 7 2 12 2 3-8 14 0 20 7 4 15 11-23 4 6 11 7 3-7 3 9 18-12 39 9 22-11 1 3 140 1 12 11 11-8 3-2 6-5 27 9 2-9 8 17 4 1 5-19 7 21 21-5 1 3 64-3 20 31-18 0-1 1-53-20-23-1-12 18-5-3-16-17-3 9-241 10-7 2-21-2-46-4-17-6-7 6-8-3-36 5-10-5-6 3 0-10-7 10-8 2-5 1-11 3-4-14-1 13-12-12-4-1-3 14 0-3-2-15-5 8-1 6-35-18-8 21-4-8-8 10-13-3-18-11-19-4-13 10-29 1-4 4 0-12-15 6 0-10-18 0-50 14-481 31 286-21 43 8 178 8 18 3 9 0 20-16 5 18 4 0 21-4 4-14 7 3 0 11 8 4 3-3 6-2 2 5 1-16 1 10 4-4 10 0 7-6 4 8 0-11 19-3 13 3 3 1 77-6 1 3 2 3 16 0 5-1 5-4 8 16 12-17 13 0 13 6 24 17 13-10 4 3 3-15 2 18 0-5 2-1 9-2 4-11 16 0 13 7 4-6 282 5 6 9 2 9 10-17 85 26-49-5-22 18-3-17-18 11-618-15-11 1-11 19-4 2-7-3-18-4-1-1-3 0-25-3-32 6-6-3-22-12-28 2-50 19-18-1-38 26-157-21 27-1 67-1 64 22 93-4 32 3 22-16 7 6 38 6 4 2 10 5 4-22 18 7 1-6 3 3 16 2 3 10 638 6 11-1 7-11 25 1 5-5 53 19-76 14-19 6 0-8-645 2-17-3-4-11-2 19-12-17-27 8-4-5-3 5-14-10-11 18-47-19-48 39-60-10 25 9 22-4 77 12 11-15 4-2 1 2 14 15 0-18 2 9 7-6 11 9 0 4 18-8 7-11 15 3 11 16 7-5 1-12 9 2 656 19 0-5 14-7 11 26 15-8-31 8-8 4-646 6-24-9-7 7 0-15-6-6-8 23-6-10-37 3-9 1-2 3-1-15-10-5-53 12-5 9-9-13-8 11-8-5-7 0-13-6-10 34 43-6 35 8 8-7 4-9 41 16 5-13 14-3 6 12 12-14 2 13 8 5 5-12 4 1 19 4 3 12 10 0 1-12 12 10 1-8 618-2 18 34 56-16-13 11-2-10-34 4-24 5-320 2-40 4-230 3-2-12-3 2-7 3-5-13-25-1-2 18-1-16-14 9-3 9-1-2-3 1-36-5-3-4-35 0-9 2-13-11-154-2-187 39-40-12 259 7 116 0 33-3 29-3 14 4 12-1 4-1 6 5 2 11 2-16 51 2 12-2 12-2 5 16 0 2 4-21 6 6 1 15 12-4 65 1 21 0 45-17 5 7 9 13 4 1 2-12 12 5 0-7 1 0 9 12 5 2 0-21 1-2 2 14 5 1 2-16 9 24 16-24 16 2 7 19 19-18 6 16 9 0 8-5 284-9 15 33-31-12-23 6-23 5-1 12-23-2-189-4-17-9-4 5-1-5-7-1-19 14-12-4-7 1-9-7-5 0-8-4-25 2-5-8-6 11 0 6 0-14-10-4-1 1 0 10-14 1-9-5-12-3-5 2-12 1-1 8-9-15-30 5-2 2-8 15-3-2-12 0-4-19-5 19-5-5-14-4-4 1-11-6-7-2-15-1-1 2-9 16-1-10-11 7-33-8-5 11-11 1-22-2-6 2-70 26-193-18 237 4 19-4 19 1 29-5 12 2 6 15 0-10 32 11 2 4 4-12 2-9 34 2 9 12 1-17 9 16 1-11 11 6 48 7 42-17 2 12 3 9 5-13 16 3 8-9 43 5 0 16 37-5 6-13 1 6 0-8 30 17 14-15 20-5 1 11 4 6 7-7 18 6 4 7 2-13 3 8 32 2 50-7 26-11 39 17 88 12 2-3-5 14-129-14-17 15-4 3-13-1-39-15-1 4-14 0-33 13-12-11-11-9-42 18-20-1-21-17-38 1-176-2-26 3-21 4-11-2-18-6-25 7-13-1-72-4-30 8-45 5-66 29 257-11 75 0 11 8 0-7 37 5 21-13 20-1 78 6 94-2 40 5 0 4 10 5 23-6 60-11 22 9 53 10 57 13-23 12-154 3-28-21-54-3-46 22-14-12-80 5-97-9-9 1-15-6-40 7-34 12-4-13-11 5-120 29 201-5 43 1 63-2 15-4 19 5 6-4 30 17 149 0 9-8 150-13 96 44-114-10-104 11-37-11-174-11-65 0-360 8-40 23-158-2 512 10 163-9 26 9 46 26 216-8-205 7-20 9-158 12-218-10 144 6 534 51-324 32 115-13 94 38 198 94-554" fill="none" stroke="none" marker-start="url(#d0)" marker-mid="url(#d0)" marker-end="url(#d0)"/>
<path transform="scale(.1)" d="M3624 9176l15 1 14 4 11 6 10 7 10 10 9 12 5 10 5 15 1 15 0 15-4 15-6 13-9 12-10 10-11 8-15 6-15 3-15 0-15-3-15-7-10-7-10-10-8-10-5-10-5-15-1-15 1-15 3-14 5-11 6-10 8-10 11-9 10-7 15-6 15-3z" fill="#000" opacity="0.12"/>
<path transform="scale(.1)" d="M3606 9216l13-4 15 0 13 4 12 9 8 11 5 15 1 15-4 13-8 12-12 10-12 5-18 1-15-6-10-7-9-13-5-15 1-15 5-15 7-10 11-9 2-1z" fill="#000" opacity="0.15"/>
<path transform="scale(.1)" d="M3615 9236l14-3 15 7 7 11 0 15-7 12-10 7-15 0-10-6-7-13 0-15 6-10 7-5z" fill="#000" opacity="0.15"/>
<path transform="scale(.1)" d="M3613 8776l11-2 15-1 10 2 10 2 10 4 9 5 8 5 6 5 7 7 7 8 8 10 5 9 5 9 5 12 3 10 3 10 2 10 2 10 1 10 1 15-1 15-1 10-1 10-2 10-3 10-2 10-4 10-3 10-3 10-4 10-3 10-2 10-2 10-1 15 1 15 3 10 3 10 5 10 6 10 7 9 5 6 5 7 5 6 5 7 5 7 5 8 5 9 5 11 4 10 3 10 3 10 2 10 1 10 1 15-1 15-1 10-2 10-2 10-4 10-4 10-4 10-6 10-5 8-5 7-5 6-8 9-7 6-10 8-8 6-7 5-10 5-10 5-10 3-10 3-10 3-10 1-10 1-15 1-15-2-10-1-10-2-10-3-10-4-10-5-10-5-8-5-7-5-6-5-9-8-7-7-8-10-5-6-5-8-5-9-5-10-5-12-3-10-3-10-1-10-2-10 0-15 0-15 2-10 2-10 2-10 3-9 4-11 5-10 6-10 5-8 5-7 5-6 7-9 8-8 6-7 9-10 5-6 5-8 5-9 4-12 1-10 0-15-1-10-2-10-3-10-3-10-4-10-3-10-4-10-3-10-2-10-3-10-1-10-2-10-1-15 1-15 1-14 2-11 2-10 3-10 3-10 4-10 5-10 6-9 5-8 5-6 7-7 8-7 10-7 10-6 10-4 4-1zM3619 8811l10-2 15 1 10 2 8 4 9 5 6 5 7 7 7 8 6 10 5 10 4 10 3 9 3 11 1 10 1 15-1 15-1 10-2 10-3 10-3 10-3 10-4 10-4 10-4 9-4 11-3 10-3 10-1 10-1 15 0 15 1 10 2 10 3 10 5 10 6 10 5 7 5 7 5 6 9 10 6 8 5 7 5 7 5 8 5 10 4 10 3 10 2 10 2 10 1 15-1 15-1 10-3 10-3 10-4 10-5 10-5 9-5 7-5 6-8 8-7 7-10 7-9 6-10 5-11 4-10 3-10 2-10 2-15 0-11-1-14-2-9-3-11-4-10-5-10-6-7-5-6-5-7-6-8-9-7-9-5-8-4-8-5-10-3-10-3-10-2-10-1-10 0-15 2-15 2-10 2-10 4-10 5-10 5-10 7-10 6-7 7-8 8-8 7-7 8-8 6-7 8-10 6-9 5-11 2-10 2-10 1-15-2-15-2-10-2-10-4-10-4-10-4-10-4-10-4-10-4-10-3-10-3-10-2-10-1-10-1-15 1-15 1-10 3-10 3-10 4-10 5-10 6-10 7-8 7-7 6-5 9-5 8-4 5-1zM3616 8841l13-3 15 0 10 4 10 6 8 8 7 10 5 9 4 11 3 10 1 10 1 15-2 15-2 10-3 10-4 10-3 8-5 10-4 7-6 10-5 8-5 7-5 8-5 6-10 6-7-5-8-10-5-7-5-7-5-8-5-8-5-9-5-9-5-12-4-10-2-10-2-10-1-15 1-15 2-10 4-10 4-10 6-10 7-8 8-7 9-5zM3633 9106l11 5 9 10 6 7 7 8 8 8 6 7 9 9 6 6 9 10 5 6 5 7 5 7 5 9 5 11 3 10 2 10 2 10 0 15-1 15-2 10-3 10-4 10-6 10-6 9-5 6-10 10-6 5-7 5-7 4-10 5-10 4-10 2-10 2-15 0-15-1-10-2-10-4-10-4-10-6-7-5-6-5-7-7-6-8-7-10-6-10-4-10-3-10-2-10-1-10 0-15 1-10 2-10 3-10 3-9 5-10 5-8 5-7 5-6 9-10 6-5 10-9 7-6 6-5 7-5 10-9 6-6 9-9 6-6 8-5zM3618 8871l11-4 15 1 10 6 6 7 6 10 3 9 2 11 0 15-2 10-3 10-5 10-7 9-6 6-9 4-15-2-9-7-6-8-4-7-4-10-3-10-1-10 1-15 2-10 4-9 5-7 9-9zM3617 9151l12-2 15 1 10 5 10 5 8 6 6 5 11 10 9 10 6 8 5 7 5 10 4 10 2 10 2 10 1 15-2 15-2 9-4 11-4 10-7 10-5 7-8 8-7 6-10 6-10 5-10 4-10 2-10 1-15 0-10-1-10-3-10-4-10-5-9-6-6-5-9-10-6-8-4-7-5-10-4-10-2-10-1-10 0-15 1-10 2-10 3-9 5-11 5-8 5-7 5-6 9-9 6-6 10-7 10-6 10-6 10-4 3-1zM3619 9166l15-1 10 2 10 3 10 6 8 5 6 5 6 5 9 10 6 9 5 10 4 11 3 10 1 10 0 15-1 10-3 10-4 10-5 10-5 7-7 8-8 7-10 7-10 5-10 3-10 2-15 1-15-2-10-3-10-4-9-6-7-5-9-9-5-6-5-8-4-7-4-10-2-10-2-10 0-15 2-10 2-10 4-10 4-7 5-8 5-7 8-8 7-6 10-7 10-5 10-4 10-3zM3624 9176l15 1 10 2 10 5 10 6 7 6 8 8 5 6 5 8 4 8 3 10 3 10 0 15-1 15-3 10-5 10-6 10-5 6-9 9-7 5-9 5-10 4-10 2-15 1-10-1-10-2-9-4-9-5-7-5-10-10-5-6-5-8-5-11-3-10-1-10 0-15 2-10 2-10 5-10 5-9 5-6 10-10 6-5 8-5 10-5 11-4 10-1zM3612 9186l12-2 15 1 10 3 10 4 10 7 7 7 8 9 5 9 4 7 3 10 1 10 0 15-1 10-3 10-4 8-4 7-6 7-8 8-7 5-10 5-10 3-10 2-15 0-10-2-9-3-10-5-7-5-9-9-5-6-5-9-5-11-2-10-1-15 1-10 3-10 4-10 5-9 5-7 9-9 7-5 9-5 10-4 3-1zM3621 9191l13 0 10 2 10 4 10 6 9 8 6 8 5 7 4 10 3 10 1 10-1 15-3 10-4 10-5 8-5 6-6 6-7 5-10 5-12 4-10 1-15-1-10-3-10-5-8-6-7-7-5-6-4-7-5-10-2-10-1-10 1-15 3-10 3-8 4-7 6-8 8-7 6-5 10-5 11-4 7-1zM3605 9201l9-3 10-2 15 2 10 3 9 5 7 5 9 10 5 8 5 12 2 10 0 15-2 10-3 10-6 10-6 7-10 8-9 5-11 3-10 2-15-2-10-3-10-5-6-5-9-10-5-8-5-12-2-10 0-15 2-10 4-10 6-9 5-6 10-9 10-6 1 0zM3606 9206l13-4 15 0 10 3 10 4 9 7 6 6 5 8 5 11 2 10 1 15-3 10-4 10-6 10-10 9-10 6-10 4-10 1-15-2-10-3-9-5-6-5-5-6-5-7-5-12-2-10 0-15 2-10 5-10 5-8 7-7 6-5 7-4 2-1zM3606 9211l13-4 15 0 10 3 10 5 8 6 7 9 5 10 3 11 0 15-2 10-5 10-6 9-7 6-8 5-10 4-10 1-15-1-10-4-8-5-7-7-5-6-5-10-3-12 0-15 3-10 5-10 5-7 9-8 8-5zM3606 9216l13-4 15 0 10 2 10 6 6 6 7 10 4 10 2 10-1 15-4 10-7 10-7 7-10 6-10 3-15 0-10-3-10-6-7-7-7-10-4-10-1-10 2-15 4-10 7-10 6-6 7-4zM3619 9216l15 0 10 3 10 7 8 10 5 10 2 10-2 15-3 9-5 7-9 9-11 5-10 2-15-2-10-5-7-5-7-10-4-10-2-10 2-15 5-10 8-10 7-5 8-4 5-1zM3617 9221l12-1 10 2 8 4 6 5 6 7 4 8 2 10-1 12-3 8-6 10-6 5-8 5-12 3-15-2-10-6-6-5-6-10-3-10 0-15 3-10 7-9 7-6 8-4 3-1zM3615 9226l14-2 10 2 8 5 7 7 4 8 3 10-2 15-5 9-10 10-10 4-15 0-10-4-10-9-5-10-2-10 2-13 5-10 7-7 8-5 1 0zM3614 9231l10-3 15 3 7 5 8 10 2 10-2 15-5 9-7 6-8 3-15 0-8-3-6-5-6-9-3-11 1-10 5-10 7-7 5-3zM3615 9236l9-3 10 1 10 6 5 7 3 9-3 15-5 7-10 7-10 1-10-4-7-6-5-10 0-15 6-10 7-5zM3617 9241l12-2 10 4 6 8 2 10-3 9-10 9-10 2-10-5-7-10 1-15 6-8 3-2zM3621 9246l11 0 6 5 3 10-6 10-11 3-10-7-2-11 7-9 2-1z" stroke="#111" stroke-width="6" fill="none" stroke-linejoin="round"/>
<rect x="329.50" y="846.10" width="62.00" height="57.70" fill="none" stroke="#111" stroke-width="1.1"/>
<text x="390.40" y="836.20" font-size="14.4" text-anchor="middle" fill="#222" >13.6</text>
<rect x="62.30" y="611.00" width="160.20" height="160.00" fill="none" stroke="#5a5a5a" stroke-width="1.1"/>
<rect x="62.30" y="793.60" width="160.20" height="159.60" fill="none" stroke="#5a5a5a" stroke-width="1.1"/>
<rect x="274.90" y="611.00" width="161.10" height="160.00" fill="none" stroke="#5a5a5a" stroke-width="1.1"/>
<rect x="274.90" y="793.60" width="161.10" height="159.60" fill="none" stroke="#5a5a5a" stroke-width="1.1"/>
<line x1="57.50" y1="625.80" x2="62.30" y2="625.80" stroke="#111" stroke-width="1.5" />
<line x1="59.70" y1="651.59" x2="62.30" y2="651.59" stroke="#222" stroke-width="0.6" />
<line x1="59.70" y1="645.09" x2="62.30" y2="645.09" stroke="#222" stroke-width="0.6" />
<line x1="59.70" y1="640.48" x2="62.30" y2="640.48" stroke="#222" stroke-width="0.6" />
<line x1="59.70" y1="636.91" x2="62.30" y2="636.91" stroke="#222" stroke-width="0.6" />
<line x1="59.70" y1="633.99" x2="62.30" y2="633.99" stroke="#222" stroke-width="0.6" />
<line x1="59.70" y1="631.52" x2="62.30" y2="631.52" stroke="#222" stroke-width="0.6" />
<line x1="59.70" y1="629.38" x2="62.30" y2="629.38" stroke="#222" stroke-width="0.6" />
<line x1="59.70" y1="627.49" x2="62.30" y2="627.49" stroke="#222" stroke-width="0.6" />
<line x1="57.50" y1="662.70" x2="62.30" y2="662.70" stroke="#111" stroke-width="1.5" />
<line x1="59.70" y1="688.49" x2="62.30" y2="688.49" stroke="#222" stroke-width="0.6" />
<line x1="59.70" y1="681.99" x2="62.30" y2="681.99" stroke="#222" stroke-width="0.6" />
<line x1="59.70" y1="677.38" x2="62.30" y2="677.38" stroke="#222" stroke-width="0.6" />
<line x1="59.70" y1="673.81" x2="62.30" y2="673.81" stroke="#222" stroke-width="0.6" />
<line x1="59.70" y1="670.89" x2="62.30" y2="670.89" stroke="#222" stroke-width="0.6" />
<line x1="59.70" y1="668.42" x2="62.30" y2="668.42" stroke="#222" stroke-width="0.6" />
<line x1="59.70" y1="666.28" x2="62.30" y2="666.28" stroke="#222" stroke-width="0.6" />
<line x1="59.70" y1="664.39" x2="62.30" y2="664.39" stroke="#222" stroke-width="0.6" />
<line x1="57.50" y1="699.60" x2="62.30" y2="699.60" stroke="#111" stroke-width="1.5" />
<line x1="59.70" y1="725.39" x2="62.30" y2="725.39" stroke="#222" stroke-width="0.6" />
<line x1="59.70" y1="718.89" x2="62.30" y2="718.89" stroke="#222" stroke-width="0.6" />
<line x1="59.70" y1="714.28" x2="62.30" y2="714.28" stroke="#222" stroke-width="0.6" />
<line x1="59.70" y1="710.71" x2="62.30" y2="710.71" stroke="#222" stroke-width="0.6" />
<line x1="59.70" y1="707.79" x2="62.30" y2="707.79" stroke="#222" stroke-width="0.6" />
<line x1="59.70" y1="705.32" x2="62.30" y2="705.32" stroke="#222" stroke-width="0.6" />
<line x1="59.70" y1="703.18" x2="62.30" y2="703.18" stroke="#222" stroke-width="0.6" />
<line x1="59.70" y1="701.29" x2="62.30" y2="701.29" stroke="#222" stroke-width="0.6" />
<line x1="57.50" y1="738.30" x2="62.30" y2="738.30" stroke="#111" stroke-width="1.5" />
<line x1="59.70" y1="739.99" x2="62.30" y2="739.99" stroke="#222" stroke-width="0.6" />
<line x1="57.50" y1="748.60" x2="62.30" y2="748.60" stroke="#111" stroke-width="2.2" />
<line x1="57.50" y1="758.80" x2="62.30" y2="758.80" stroke="#111" stroke-width="1.5" />
<line x1="59.50" y1="741.00" x2="62.30" y2="741.00" stroke="#222" stroke-width="0.7" />
<line x1="59.50" y1="743.40" x2="62.30" y2="743.40" stroke="#222" stroke-width="0.7" />
<line x1="59.50" y1="745.60" x2="62.30" y2="745.60" stroke="#222" stroke-width="0.7" />
<line x1="59.50" y1="751.60" x2="62.30" y2="751.60" stroke="#222" stroke-width="0.7" />
<line x1="59.50" y1="753.80" x2="62.30" y2="753.80" stroke="#222" stroke-width="0.7" />
<line x1="59.50" y1="756.00" x2="62.30" y2="756.00" stroke="#222" stroke-width="0.7" />
<line x1="59.50" y1="761.60" x2="62.30" y2="761.60" stroke="#222" stroke-width="0.7" />
<line x1="59.50" y1="764.20" x2="62.30" y2="764.20" stroke="#222" stroke-width="0.7" />
<line x1="59.50" y1="769.60" x2="62.30" y2="769.60" stroke="#222" stroke-width="0.7" />
<line x1="73.40" y1="771.00" x2="73.40" y2="775.80" stroke="#111" stroke-width="1.6" />
<line x1="83.90" y1="771.00" x2="83.90" y2="775.80" stroke="#111" stroke-width="2.4" />
<line x1="94.50" y1="771.00" x2="94.50" y2="775.80" stroke="#111" stroke-width="1.6" />
<line x1="75.90" y1="771.00" x2="75.90" y2="773.80" stroke="#222" stroke-width="0.7" />
<line x1="78.10" y1="771.00" x2="78.10" y2="773.80" stroke="#222" stroke-width="0.7" />
<line x1="80.30" y1="771.00" x2="80.30" y2="773.80" stroke="#222" stroke-width="0.7" />
<line x1="86.90" y1="771.00" x2="86.90" y2="773.80" stroke="#222" stroke-width="0.7" />
<line x1="89.10" y1="771.00" x2="89.10" y2="773.80" stroke="#222" stroke-width="0.7" />
<line x1="91.30" y1="771.00" x2="91.30" y2="773.80" stroke="#222" stroke-width="0.7" />
<line x1="131.70" y1="771.00" x2="131.70" y2="775.80" stroke="#111" stroke-width="1.5" />
<line x1="170.40" y1="771.00" x2="170.40" y2="775.80" stroke="#111" stroke-width="1.5" />
<line x1="207.10" y1="771.00" x2="207.10" y2="775.80" stroke="#111" stroke-width="1.5" />
<line x1="105.63" y1="771.00" x2="105.63" y2="773.60" stroke="#222" stroke-width="0.6" />
<line x1="112.20" y1="771.00" x2="112.20" y2="773.60" stroke="#222" stroke-width="0.6" />
<line x1="116.86" y1="771.00" x2="116.86" y2="773.60" stroke="#222" stroke-width="0.6" />
<line x1="120.47" y1="771.00" x2="120.47" y2="773.60" stroke="#222" stroke-width="0.6" />
<line x1="123.43" y1="771.00" x2="123.43" y2="773.60" stroke="#222" stroke-width="0.6" />
<line x1="125.92" y1="771.00" x2="125.92" y2="773.60" stroke="#222" stroke-width="0.6" />
<line x1="128.09" y1="771.00" x2="128.09" y2="773.60" stroke="#222" stroke-width="0.6" />
<line x1="129.99" y1="771.00" x2="129.99" y2="773.60" stroke="#222" stroke-width="0.6" />
<line x1="144.33" y1="771.00" x2="144.33" y2="773.60" stroke="#222" stroke-width="0.6" />
<line x1="150.90" y1="771.00" x2="150.90" y2="773.60" stroke="#222" stroke-width="0.6" />
<line x1="155.56" y1="771.00" x2="155.56" y2="773.60" stroke="#222" stroke-width="0.6" />
<line x1="159.17" y1="771.00" x2="159.17" y2="773.60" stroke="#222" stroke-width="0.6" />
<line x1="162.13" y1="771.00" x2="162.13" y2="773.60" stroke="#222" stroke-width="0.6" />
<line x1="164.62" y1="771.00" x2="164.62" y2="773.60" stroke="#222" stroke-width="0.6" />
<line x1="166.79" y1="771.00" x2="166.79" y2="773.60" stroke="#222" stroke-width="0.6" />
<line x1="168.69" y1="771.00" x2="168.69" y2="773.60" stroke="#222" stroke-width="0.6" />
<line x1="181.03" y1="771.00" x2="181.03" y2="773.60" stroke="#222" stroke-width="0.6" />
<line x1="187.60" y1="771.00" x2="187.60" y2="773.60" stroke="#222" stroke-width="0.6" />
<line x1="192.26" y1="771.00" x2="192.26" y2="773.60" stroke="#222" stroke-width="0.6" />
<line x1="195.87" y1="771.00" x2="195.87" y2="773.60" stroke="#222" stroke-width="0.6" />
<line x1="198.83" y1="771.00" x2="198.83" y2="773.60" stroke="#222" stroke-width="0.6" />
<line x1="201.32" y1="771.00" x2="201.32" y2="773.60" stroke="#222" stroke-width="0.6" />
<line x1="203.49" y1="771.00" x2="203.49" y2="773.60" stroke="#222" stroke-width="0.6" />
<line x1="205.39" y1="771.00" x2="205.39" y2="773.60" stroke="#222" stroke-width="0.6" />
<line x1="218.33" y1="771.00" x2="218.33" y2="773.60" stroke="#222" stroke-width="0.6" />
<line x1="57.50" y1="808.40" x2="62.30" y2="808.40" stroke="#111" stroke-width="1.5" />
<line x1="59.70" y1="834.19" x2="62.30" y2="834.19" stroke="#222" stroke-width="0.6" />
<line x1="59.70" y1="827.69" x2="62.30" y2="827.69" stroke="#222" stroke-width="0.6" />
<line x1="59.70" y1="823.08" x2="62.30" y2="823.08" stroke="#222" stroke-width="0.6" />
<line x1="59.70" y1="819.51" x2="62.30" y2="819.51" stroke="#222" stroke-width="0.6" />
<line x1="59.70" y1="816.59" x2="62.30" y2="816.59" stroke="#222" stroke-width="0.6" />
<line x1="59.70" y1="814.12" x2="62.30" y2="814.12" stroke="#222" stroke-width="0.6" />
<line x1="59.70" y1="811.98" x2="62.30" y2="811.98" stroke="#222" stroke-width="0.6" />
<line x1="59.70" y1="810.09" x2="62.30" y2="810.09" stroke="#222" stroke-width="0.6" />
<line x1="57.50" y1="845.30" x2="62.30" y2="845.30" stroke="#111" stroke-width="1.5" />
<line x1="59.70" y1="871.09" x2="62.30" y2="871.09" stroke="#222" stroke-width="0.6" />
<line x1="59.70" y1="864.59" x2="62.30" y2="864.59" stroke="#222" stroke-width="0.6" />
<line x1="59.70" y1="859.98" x2="62.30" y2="859.98" stroke="#222" stroke-width="0.6" />
<line x1="59.70" y1="856.41" x2="62.30" y2="856.41" stroke="#222" stroke-width="0.6" />
<line x1="59.70" y1="853.49" x2="62.30" y2="853.49" stroke="#222" stroke-width="0.6" />
<line x1="59.70" y1="851.02" x2="62.30" y2="851.02" stroke="#222" stroke-width="0.6" />
<line x1="59.70" y1="848.88" x2="62.30" y2="848.88" stroke="#222" stroke-width="0.6" />
<line x1="59.70" y1="846.99" x2="62.30" y2="846.99" stroke="#222" stroke-width="0.6" />
<line x1="57.50" y1="882.20" x2="62.30" y2="882.20" stroke="#111" stroke-width="1.5" />
<line x1="59.70" y1="907.99" x2="62.30" y2="907.99" stroke="#222" stroke-width="0.6" />
<line x1="59.70" y1="901.49" x2="62.30" y2="901.49" stroke="#222" stroke-width="0.6" />
<line x1="59.70" y1="896.88" x2="62.30" y2="896.88" stroke="#222" stroke-width="0.6" />
<line x1="59.70" y1="893.31" x2="62.30" y2="893.31" stroke="#222" stroke-width="0.6" />
<line x1="59.70" y1="890.39" x2="62.30" y2="890.39" stroke="#222" stroke-width="0.6" />
<line x1="59.70" y1="887.92" x2="62.30" y2="887.92" stroke="#222" stroke-width="0.6" />
<line x1="59.70" y1="885.78" x2="62.30" y2="885.78" stroke="#222" stroke-width="0.6" />
<line x1="59.70" y1="883.89" x2="62.30" y2="883.89" stroke="#222" stroke-width="0.6" />
<line x1="57.50" y1="920.90" x2="62.30" y2="920.90" stroke="#111" stroke-width="1.5" />
<line x1="59.70" y1="922.59" x2="62.30" y2="922.59" stroke="#222" stroke-width="0.6" />
<line x1="57.50" y1="931.20" x2="62.30" y2="931.20" stroke="#111" stroke-width="2.2" />
<line x1="57.50" y1="941.40" x2="62.30" y2="941.40" stroke="#111" stroke-width="1.5" />
<line x1="59.50" y1="923.60" x2="62.30" y2="923.60" stroke="#222" stroke-width="0.7" />
<line x1="59.50" y1="926.00" x2="62.30" y2="926.00" stroke="#222" stroke-width="0.7" />
<line x1="59.50" y1="928.20" x2="62.30" y2="928.20" stroke="#222" stroke-width="0.7" />
<line x1="59.50" y1="934.20" x2="62.30" y2="934.20" stroke="#222" stroke-width="0.7" />
<line x1="59.50" y1="936.40" x2="62.30" y2="936.40" stroke="#222" stroke-width="0.7" />
<line x1="59.50" y1="938.60" x2="62.30" y2="938.60" stroke="#222" stroke-width="0.7" />
<line x1="59.50" y1="944.20" x2="62.30" y2="944.20" stroke="#222" stroke-width="0.7" />
<line x1="59.50" y1="946.80" x2="62.30" y2="946.80" stroke="#222" stroke-width="0.7" />
<line x1="59.50" y1="952.20" x2="62.30" y2="952.20" stroke="#222" stroke-width="0.7" />
<line x1="73.40" y1="953.20" x2="73.40" y2="958.00" stroke="#111" stroke-width="1.6" />
<line x1="83.90" y1="953.20" x2="83.90" y2="958.00" stroke="#111" stroke-width="2.4" />
<line x1="94.50" y1="953.20" x2="94.50" y2="958.00" stroke="#111" stroke-width="1.6" />
<line x1="75.90" y1="953.20" x2="75.90" y2="956.00" stroke="#222" stroke-width="0.7" />
<line x1="78.10" y1="953.20" x2="78.10" y2="956.00" stroke="#222" stroke-width="0.7" />
<line x1="80.30" y1="953.20" x2="80.30" y2="956.00" stroke="#222" stroke-width="0.7" />
<line x1="86.90" y1="953.20" x2="86.90" y2="956.00" stroke="#222" stroke-width="0.7" />
<line x1="89.10" y1="953.20" x2="89.10" y2="956.00" stroke="#222" stroke-width="0.7" />
<line x1="91.30" y1="953.20" x2="91.30" y2="956.00" stroke="#222" stroke-width="0.7" />
<line x1="131.70" y1="953.20" x2="131.70" y2="958.00" stroke="#111" stroke-width="1.5" />
<line x1="170.40" y1="953.20" x2="170.40" y2="958.00" stroke="#111" stroke-width="1.5" />
<line x1="207.10" y1="953.20" x2="207.10" y2="958.00" stroke="#111" stroke-width="1.5" />
<line x1="105.63" y1="953.20" x2="105.63" y2="955.80" stroke="#222" stroke-width="0.6" />
<line x1="112.20" y1="953.20" x2="112.20" y2="955.80" stroke="#222" stroke-width="0.6" />
<line x1="116.86" y1="953.20" x2="116.86" y2="955.80" stroke="#222" stroke-width="0.6" />
<line x1="120.47" y1="953.20" x2="120.47" y2="955.80" stroke="#222" stroke-width="0.6" />
<line x1="123.43" y1="953.20" x2="123.43" y2="955.80" stroke="#222" stroke-width="0.6" />
<line x1="125.92" y1="953.20" x2="125.92" y2="955.80" stroke="#222" stroke-width="0.6" />
<line x1="128.09" y1="953.20" x2="128.09" y2="955.80" stroke="#222" stroke-width="0.6" />
<line x1="129.99" y1="953.20" x2="129.99" y2="955.80" stroke="#222" stroke-width="0.6" />
<line x1="144.33" y1="953.20" x2="144.33" y2="955.80" stroke="#222" stroke-width="0.6" />
<line x1="150.90" y1="953.20" x2="150.90" y2="955.80" stroke="#222" stroke-width="0.6" />
<line x1="155.56" y1="953.20" x2="155.56" y2="955.80" stroke="#222" stroke-width="0.6" />
<line x1="159.17" y1="953.20" x2="159.17" y2="955.80" stroke="#222" stroke-width="0.6" />
<line x1="162.13" y1="953.20" x2="162.13" y2="955.80" stroke="#222" stroke-width="0.6" />
<line x1="164.62" y1="953.20" x2="164.62" y2="955.80" stroke="#222" stroke-width="0.6" />
<line x1="166.79" y1="953.20" x2="166.79" y2="955.80" stroke="#222" stroke-width="0.6" />
<line x1="168.69" y1="953.20" x2="168.69" y2="955.80" stroke="#222" stroke-width="0.6" />
<line x1="181.03" y1="953.20" x2="181.03" y2="955.80" stroke="#222" stroke-width="0.6" />
<line x1="187.60" y1="953.20" x2="187.60" y2="955.80" stroke="#222" stroke-width="0.6" />
<line x1="192.26" y1="953.20" x2="192.26" y2="955.80" stroke="#222" stroke-width="0.6" />
<line x1="195.87" y1="953.20" x2="195.87" y2="955.80" stroke="#222" stroke-width="0.6" />
<line x1="198.83" y1="953.20" x2="198.83" y2="955.80" stroke="#222" stroke-width="0.6" />
<line x1="201.32" y1="953.20" x2="201.32" y2="955.80" stroke="#222" stroke-width="0.6" />
<line x1="203.49" y1="953.20" x2="203.49" y2="955.80" stroke="#222" stroke-width="0.6" />
<line x1="205.39" y1="953.20" x2="205.39" y2="955.80" stroke="#222" stroke-width="0.6" />
<line x1="218.33" y1="953.20" x2="218.33" y2="955.80" stroke="#222" stroke-width="0.6" />
<line x1="270.10" y1="625.80" x2="274.90" y2="625.80" stroke="#111" stroke-width="1.5" />
<line x1="272.30" y1="651.59" x2="274.90" y2="651.59" stroke="#222" stroke-width="0.6" />
<line x1="272.30" y1="645.09" x2="274.90" y2="645.09" stroke="#222" stroke-width="0.6" />
<line x1="272.30" y1="640.48" x2="274.90" y2="640.48" stroke="#222" stroke-width="0.6" />
<line x1="272.30" y1="636.91" x2="274.90" y2="636.91" stroke="#222" stroke-width="0.6" />
<line x1="272.30" y1="633.99" x2="274.90" y2="633.99" stroke="#222" stroke-width="0.6" />
<line x1="272.30" y1="631.52" x2="274.90" y2="631.52" stroke="#222" stroke-width="0.6" />
<line x1="272.30" y1="629.38" x2="274.90" y2="629.38" stroke="#222" stroke-width="0.6" />
<line x1="272.30" y1="627.49" x2="274.90" y2="627.49" stroke="#222" stroke-width="0.6" />
<line x1="270.10" y1="662.70" x2="274.90" y2="662.70" stroke="#111" stroke-width="1.5" />
<line x1="272.30" y1="688.49" x2="274.90" y2="688.49" stroke="#222" stroke-width="0.6" />
<line x1="272.30" y1="681.99" x2="274.90" y2="681.99" stroke="#222" stroke-width="0.6" />
<line x1="272.30" y1="677.38" x2="274.90" y2="677.38" stroke="#222" stroke-width="0.6" />
<line x1="272.30" y1="673.81" x2="274.90" y2="673.81" stroke="#222" stroke-width="0.6" />
<line x1="272.30" y1="670.89" x2="274.90" y2="670.89" stroke="#222" stroke-width="0.6" />
<line x1="272.30" y1="668.42" x2="274.90" y2="668.42" stroke="#222" stroke-width="0.6" />
<line x1="272.30" y1="666.28" x2="274.90" y2="666.28" stroke="#222" stroke-width="0.6" />
<line x1="272.30" y1="664.39" x2="274.90" y2="664.39" stroke="#222" stroke-width="0.6" />
<line x1="270.10" y1="699.60" x2="274.90" y2="699.60" stroke="#111" stroke-width="1.5" />
<line x1="272.30" y1="725.39" x2="274.90" y2="725.39" stroke="#222" stroke-width="0.6" />
<line x1="272.30" y1="718.89" x2="274.90" y2="718.89" stroke="#222" stroke-width="0.6" />
<line x1="272.30" y1="714.28" x2="274.90" y2="714.28" stroke="#222" stroke-width="0.6" />
<line x1="272.30" y1="710.71" x2="274.90" y2="710.71" stroke="#222" stroke-width="0.6" />
<line x1="272.30" y1="707.79" x2="274.90" y2="707.79" stroke="#222" stroke-width="0.6" />
<line x1="272.30" y1="705.32" x2="274.90" y2="705.32" stroke="#222" stroke-width="0.6" />
<line x1="272.30" y1="703.18" x2="274.90" y2="703.18" stroke="#222" stroke-width="0.6" />
<line x1="272.30" y1="701.29" x2="274.90" y2="701.29" stroke="#222" stroke-width="0.6" />
<line x1="270.10" y1="738.30" x2="274.90" y2="738.30" stroke="#111" stroke-width="1.5" />
<line x1="272.30" y1="739.99" x2="274.90" y2="739.99" stroke="#222" stroke-width="0.6" />
<line x1="270.10" y1="748.60" x2="274.90" y2="748.60" stroke="#111" stroke-width="2.2" />
<line x1="270.10" y1="758.80" x2="274.90" y2="758.80" stroke="#111" stroke-width="1.5" />
<line x1="272.10" y1="741.00" x2="274.90" y2="741.00" stroke="#222" stroke-width="0.7" />
<line x1="272.10" y1="743.40" x2="274.90" y2="743.40" stroke="#222" stroke-width="0.7" />
<line x1="272.10" y1="745.60" x2="274.90" y2="745.60" stroke="#222" stroke-width="0.7" />
<line x1="272.10" y1="751.60" x2="274.90" y2="751.60" stroke="#222" stroke-width="0.7" />
<line x1="272.10" y1="753.80" x2="274.90" y2="753.80" stroke="#222" stroke-width="0.7" />
<line x1="272.10" y1="756.00" x2="274.90" y2="756.00" stroke="#222" stroke-width="0.7" />
<line x1="272.10" y1="761.60" x2="274.90" y2="761.60" stroke="#222" stroke-width="0.7" />
<line x1="272.10" y1="764.20" x2="274.90" y2="764.20" stroke="#222" stroke-width="0.7" />
<line x1="272.10" y1="769.60" x2="274.90" y2="769.60" stroke="#222" stroke-width="0.7" />
<line x1="286.00" y1="771.00" x2="286.00" y2="775.80" stroke="#111" stroke-width="1.6" />
<line x1="296.50" y1="771.00" x2="296.50" y2="775.80" stroke="#111" stroke-width="2.4" />
<line x1="307.10" y1="771.00" x2="307.10" y2="775.80" stroke="#111" stroke-width="1.6" />
<line x1="288.50" y1="771.00" x2="288.50" y2="773.80" stroke="#222" stroke-width="0.7" />
<line x1="290.70" y1="771.00" x2="290.70" y2="773.80" stroke="#222" stroke-width="0.7" />
<line x1="292.90" y1="771.00" x2="292.90" y2="773.80" stroke="#222" stroke-width="0.7" />
<line x1="299.50" y1="771.00" x2="299.50" y2="773.80" stroke="#222" stroke-width="0.7" />
<line x1="301.70" y1="771.00" x2="301.70" y2="773.80" stroke="#222" stroke-width="0.7" />
<line x1="303.90" y1="771.00" x2="303.90" y2="773.80" stroke="#222" stroke-width="0.7" />
<line x1="344.30" y1="771.00" x2="344.30" y2="775.80" stroke="#111" stroke-width="1.5" />
<line x1="383.00" y1="771.00" x2="383.00" y2="775.80" stroke="#111" stroke-width="1.5" />
<line x1="419.70" y1="771.00" x2="419.70" y2="775.80" stroke="#111" stroke-width="1.5" />
<line x1="318.23" y1="771.00" x2="318.23" y2="773.60" stroke="#222" stroke-width="0.6" />
<line x1="324.80" y1="771.00" x2="324.80" y2="773.60" stroke="#222" stroke-width="0.6" />
<line x1="329.46" y1="771.00" x2="329.46" y2="773.60" stroke="#222" stroke-width="0.6" />
<line x1="333.07" y1="771.00" x2="333.07" y2="773.60" stroke="#222" stroke-width="0.6" />
<line x1="336.03" y1="771.00" x2="336.03" y2="773.60" stroke="#222" stroke-width="0.6" />
<line x1="338.52" y1="771.00" x2="338.52" y2="773.60" stroke="#222" stroke-width="0.6" />
<line x1="340.69" y1="771.00" x2="340.69" y2="773.60" stroke="#222" stroke-width="0.6" />
<line x1="342.59" y1="771.00" x2="342.59" y2="773.60" stroke="#222" stroke-width="0.6" />
<line x1="356.93" y1="771.00" x2="356.93" y2="773.60" stroke="#222" stroke-width="0.6" />
<line x1="363.50" y1="771.00" x2="363.50" y2="773.60" stroke="#222" stroke-width="0.6" />
<line x1="368.16" y1="771.00" x2="368.16" y2="773.60" stroke="#222" stroke-width="0.6" />
<line x1="371.77" y1="771.00" x2="371.77" y2="773.60" stroke="#222" stroke-width="0.6" />
<line x1="374.73" y1="771.00" x2="374.73" y2="773.60" stroke="#222" stroke-width="0.6" />
<line x1="377.22" y1="771.00" x2="377.22" y2="773.60" stroke="#222" stroke-width="0.6" />
<line x1="379.39" y1="771.00" x2="379.39" y2="773.60" stroke="#222" stroke-width="0.6" />
<line x1="381.29" y1="771.00" x2="381.29" y2="773.60" stroke="#222" stroke-width="0.6" />
<line x1="393.63" y1="771.00" x2="393.63" y2="773.60" stroke="#222" stroke-width="0.6" />
<line x1="400.20" y1="771.00" x2="400.20" y2="773.60" stroke="#222" stroke-width="0.6" />
<line x1="404.86" y1="771.00" x2="404.86" y2="773.60" stroke="#222" stroke-width="0.6" />
<line x1="408.47" y1="771.00" x2="408.47" y2="773.60" stroke="#222" stroke-width="0.6" />
<line x1="411.43" y1="771.00" x2="411.43" y2="773.60" stroke="#222" stroke-width="0.6" />
<line x1="413.92" y1="771.00" x2="413.92" y2="773.60" stroke="#222" stroke-width="0.6" />
<line x1="416.09" y1="771.00" x2="416.09" y2="773.60" stroke="#222" stroke-width="0.6" />
<line x1="417.99" y1="771.00" x2="417.99" y2="773.60" stroke="#222" stroke-width="0.6" />
<line x1="430.93" y1="771.00" x2="430.93" y2="773.60" stroke="#222" stroke-width="0.6" />
<line x1="270.10" y1="808.40" x2="274.90" y2="808.40" stroke="#111" stroke-width="1.5" />
<line x1="272.30" y1="834.19" x2="274.90" y2="834.19" stroke="#222" stroke-width="0.6" />
<line x1="272.30" y1="827.69" x2="274.90" y2="827.69" stroke="#222" stroke-width="0.6" />
<line x1="272.30" y1="823.08" x2="274.90" y2="823.08" stroke="#222" stroke-width="0.6" />
<line x1="272.30" y1="819.51" x2="274.90" y2="819.51" stroke="#222" stroke-width="0.6" />
<line x1="272.30" y1="816.59" x2="274.90" y2="816.59" stroke="#222" stroke-width="0.6" />
<line x1="272.30" y1="814.12" x2="274.90" y2="814.12" stroke="#222" stroke-width="0.6" />
<line x1="272.30" y1="811.98" x2="274.90" y2="811.98" stroke="#222" stroke-width="0.6" />
<line x1="272.30" y1="810.09" x2="274.90" y2="810.09" stroke="#222" stroke-width="0.6" />
<line x1="270.10" y1="845.30" x2="274.90" y2="845.30" stroke="#111" stroke-width="1.5" />
<line x1="272.30" y1="871.09" x2="274.90" y2="871.09" stroke="#222" stroke-width="0.6" />
<line x1="272.30" y1="864.59" x2="274.90" y2="864.59" stroke="#222" stroke-width="0.6" />
<line x1="272.30" y1="859.98" x2="274.90" y2="859.98" stroke="#222" stroke-width="0.6" />
<line x1="272.30" y1="856.41" x2="274.90" y2="856.41" stroke="#222" stroke-width="0.6" />
<line x1="272.30" y1="853.49" x2="274.90" y2="853.49" stroke="#222" stroke-width="0.6" />
<line x1="272.30" y1="851.02" x2="274.90" y2="851.02" stroke="#222" stroke-width="0.6" />
<line x1="272.30" y1="848.88" x2="274.90" y2="848.88" stroke="#222" stroke-width="0.6" />
<line x1="272.30" y1="846.99" x2="274.90" y2="846.99" stroke="#222" stroke-width="0.6" />
<line x1="270.10" y1="882.20" x2="274.90" y2="882.20" stroke="#111" stroke-width="1.5" />
<line x1="272.30" y1="907.99" x2="274.90" y2="907.99" stroke="#222" stroke-width="0.6" />
<line x1="272.30" y1="901.49" x2="274.90" y2="901.49" stroke="#222" stroke-width="0.6" />
<line x1="272.30" y1="896.88" x2="274.90" y2="896.88" stroke="#222" stroke-width="0.6" />
<line x1="272.30" y1="893.31" x2="274.90" y2="893.31" stroke="#222" stroke-width="0.6" />
<line x1="272.30" y1="890.39" x2="274.90" y2="890.39" stroke="#222" stroke-width="0.6" />
<line x1="272.30" y1="887.92" x2="274.90" y2="887.92" stroke="#222" stroke-width="0.6" />
<line x1="272.30" y1="885.78" x2="274.90" y2="885.78" stroke="#222" stroke-width="0.6" />
<line x1="272.30" y1="883.89" x2="274.90" y2="883.89" stroke="#222" stroke-width="0.6" />
<line x1="270.10" y1="920.90" x2="274.90" y2="920.90" stroke="#111" stroke-width="1.5" />
<line x1="272.30" y1="922.59" x2="274.90" y2="922.59" stroke="#222" stroke-width="0.6" />
<line x1="270.10" y1="931.20" x2="274.90" y2="931.20" stroke="#111" stroke-width="2.2" />
<line x1="270.10" y1="941.40" x2="274.90" y2="941.40" stroke="#111" stroke-width="1.5" />
<line x1="272.10" y1="923.60" x2="274.90" y2="923.60" stroke="#222" stroke-width="0.7" />
<line x1="272.10" y1="926.00" x2="274.90" y2="926.00" stroke="#222" stroke-width="0.7" />
<line x1="272.10" y1="928.20" x2="274.90" y2="928.20" stroke="#222" stroke-width="0.7" />
<line x1="272.10" y1="934.20" x2="274.90" y2="934.20" stroke="#222" stroke-width="0.7" />
<line x1="272.10" y1="936.40" x2="274.90" y2="936.40" stroke="#222" stroke-width="0.7" />
<line x1="272.10" y1="938.60" x2="274.90" y2="938.60" stroke="#222" stroke-width="0.7" />
<line x1="272.10" y1="944.20" x2="274.90" y2="944.20" stroke="#222" stroke-width="0.7" />
<line x1="272.10" y1="946.80" x2="274.90" y2="946.80" stroke="#222" stroke-width="0.7" />
<line x1="272.10" y1="952.20" x2="274.90" y2="952.20" stroke="#222" stroke-width="0.7" />
<line x1="286.00" y1="953.20" x2="286.00" y2="958.00" stroke="#111" stroke-width="1.6" />
<line x1="296.50" y1="953.20" x2="296.50" y2="958.00" stroke="#111" stroke-width="2.4" />
<line x1="307.10" y1="953.20" x2="307.10" y2="958.00" stroke="#111" stroke-width="1.6" />
<line x1="288.50" y1="953.20" x2="288.50" y2="956.00" stroke="#222" stroke-width="0.7" />
<line x1="290.70" y1="953.20" x2="290.70" y2="956.00" stroke="#222" stroke-width="0.7" />
<line x1="292.90" y1="953.20" x2="292.90" y2="956.00" stroke="#222" stroke-width="0.7" />
<line x1="299.50" y1="953.20" x2="299.50" y2="956.00" stroke="#222" stroke-width="0.7" />
<line x1="301.70" y1="953.20" x2="301.70" y2="956.00" stroke="#222" stroke-width="0.7" />
<line x1="303.90" y1="953.20" x2="303.90" y2="956.00" stroke="#222" stroke-width="0.7" />
<line x1="344.30" y1="953.20" x2="344.30" y2="958.00" stroke="#111" stroke-width="1.5" />
<line x1="383.00" y1="953.20" x2="383.00" y2="958.00" stroke="#111" stroke-width="1.5" />
<line x1="419.70" y1="953.20" x2="419.70" y2="958.00" stroke="#111" stroke-width="1.5" />
<line x1="318.23" y1="953.20" x2="318.23" y2="955.80" stroke="#222" stroke-width="0.6" />
<line x1="324.80" y1="953.20" x2="324.80" y2="955.80" stroke="#222" stroke-width="0.6" />
<line x1="329.46" y1="953.20" x2="329.46" y2="955.80" stroke="#222" stroke-width="0.6" />
<line x1="333.07" y1="953.20" x2="333.07" y2="955.80" stroke="#222" stroke-width="0.6" />
<line x1="336.03" y1="953.20" x2="336.03" y2="955.80" stroke="#222" stroke-width="0.6" />
<line x1="338.52" y1="953.20" x2="338.52" y2="955.80" stroke="#222" stroke-width="0.6" />
<line x1="340.69" y1="953.20" x2="340.69" y2="955.80" stroke="#222" stroke-width="0.6" />
<line x1="342.59" y1="953.20" x2="342.59" y2="955.80" stroke="#222" stroke-width="0.6" />
<line x1="356.93" y1="953.20" x2="356.93" y2="955.80" stroke="#222" stroke-width="0.6" />
<line x1="363.50" y1="953.20" x2="363.50" y2="955.80" stroke="#222" stroke-width="0.6" />
<line x1="368.16" y1="953.20" x2="368.16" y2="955.80" stroke="#222" stroke-width="0.6" />
<line x1="371.77" y1="953.20" x2="371.77" y2="955.80" stroke="#222" stroke-width="0.6" />
<line x1="374.73" y1="953.20" x2="374.73" y2="955.80" stroke="#222" stroke-width="0.6" />
<line x1="377.22" y1="953.20" x2="377.22" y2="955.80" stroke="#222" stroke-width="0.6" />
<line x1="379.39" y1="953.20" x2="379.39" y2="955.80" stroke="#222" stroke-width="0.6" />
<line x1="381.29" y1="953.20" x2="381.29" y2="955.80" stroke="#222" stroke-width="0.6" />
<line x1="393.63" y1="953.20" x2="393.63" y2="955.80" stroke="#222" stroke-width="0.6" />
<line x1="400.20" y1="953.20" x2="400.20" y2="955.80" stroke="#222" stroke-width="0.6" />
<line x1="404.86" y1="953.20" x2="404.86" y2="955.80" stroke="#222" stroke-width="0.6" />
<line x1="408.47" y1="953.20" x2="408.47" y2="955.80" stroke="#222" stroke-width="0.6" />
<line x1="411.43" y1="953.20" x2="411.43" y2="955.80" stroke="#222" stroke-width="0.6" />
<line x1="413.92" y1="953.20" x2="413.92" y2="955.80" stroke="#222" stroke-width="0.6" />
<line x1="416.09" y1="953.20" x2="416.09" y2="955.80" stroke="#222" stroke-width="0.6" />
<line x1="417.99" y1="953.20" x2="417.99" y2="955.80" stroke="#222" stroke-width="0.6" />
<line x1="430.93" y1="953.20" x2="430.93" y2="955.80" stroke="#222" stroke-width="0.6" />
</svg>
</body></html>
